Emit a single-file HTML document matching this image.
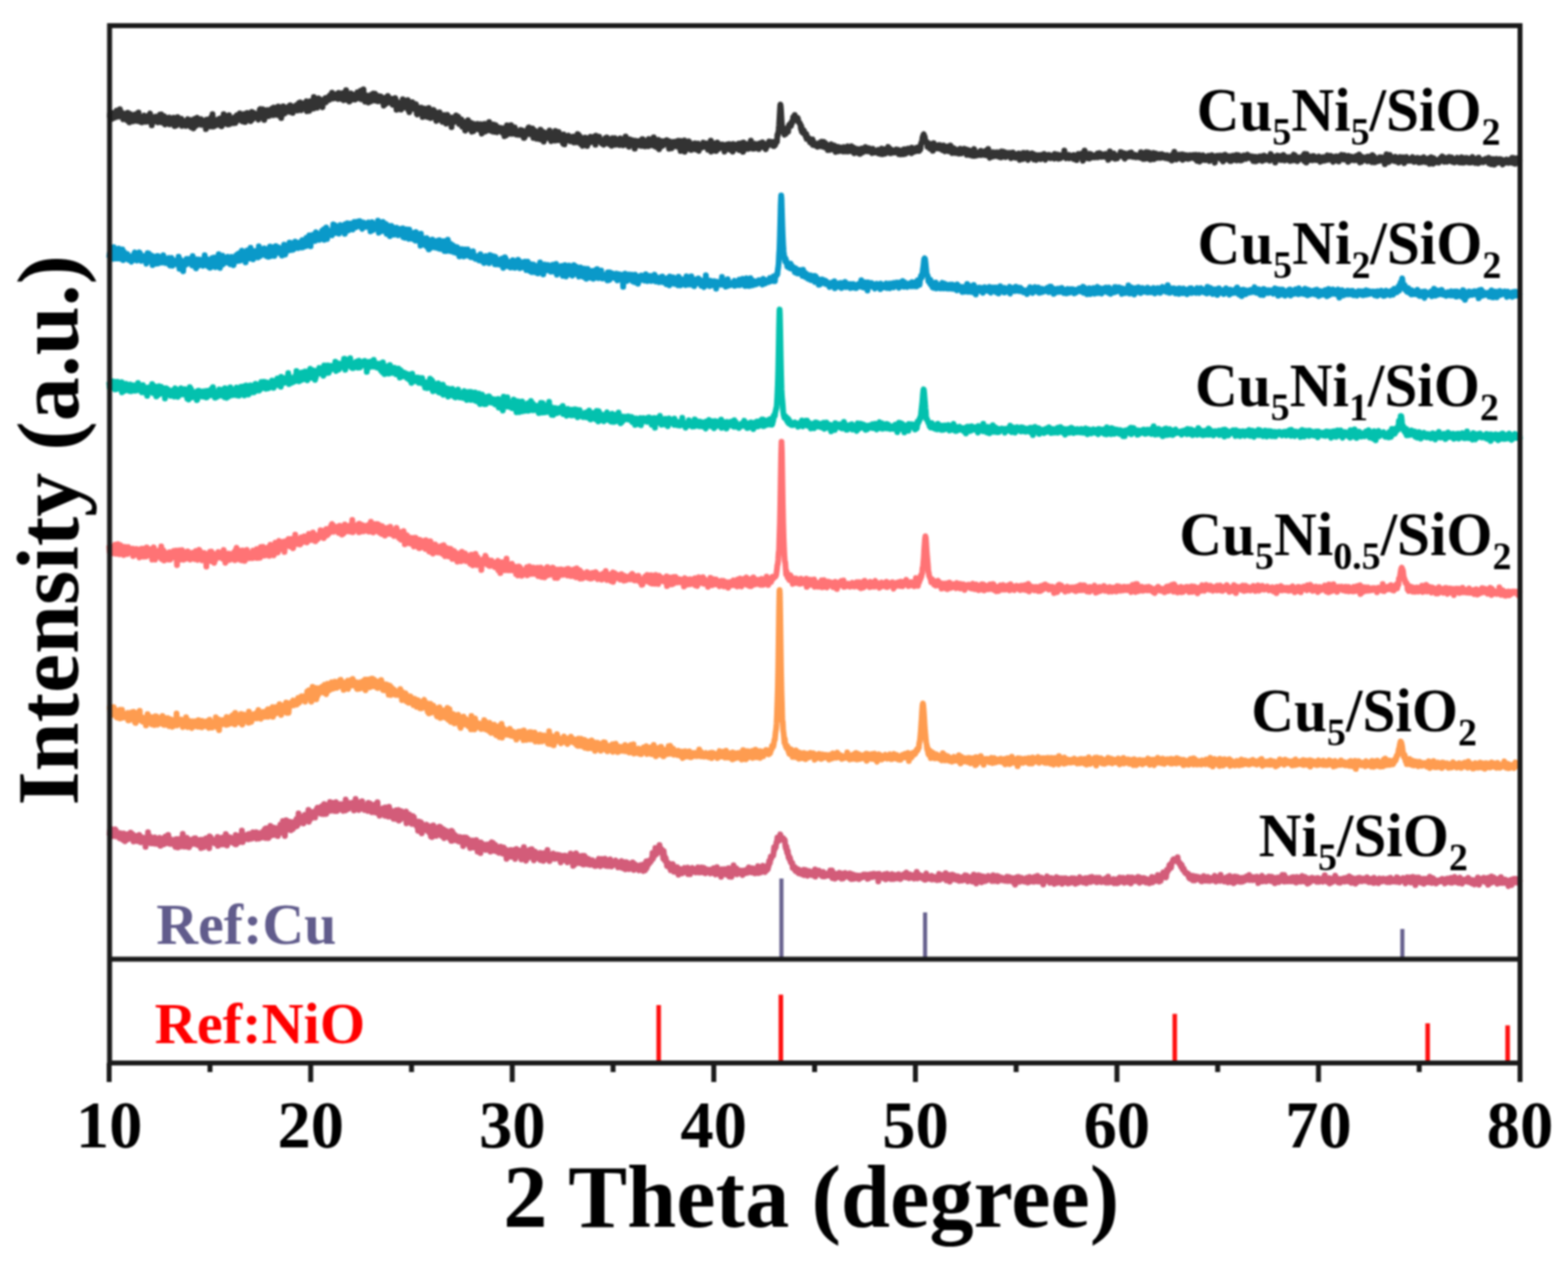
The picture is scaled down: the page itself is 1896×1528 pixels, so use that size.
<!DOCTYPE html>
<html><head><meta charset="utf-8"><title>XRD</title>
<style>html,body{margin:0;padding:0;background:#fff;width:1896px;height:1528px;overflow:hidden}svg{display:block}</style>
</head><body>
<svg width="1896" height="1528" viewBox="0 0 1896 1528">
<defs><filter id="b" filterUnits="userSpaceOnUse" x="0" y="0" width="1896" height="1528" color-interpolation-filters="sRGB"><feGaussianBlur stdDeviation="0.8"/></filter></defs>
<rect width="100%" height="100%" fill="#fff"/>
<g filter="url(#b)">
<path d="M132.0 139.0 132.5 140.0 133.0 138.2 133.5 136.2 134.0 137.7 134.5 136.0 135.0 139.5 135.5 143.8 136.0 137.8 136.5 137.4 137.0 141.1 137.5 140.8 138.0 140.0 138.5 136.6 139.0 139.6 139.5 142.1 140.0 135.4 140.5 138.4 141.0 133.7 141.5 135.7 142.0 134.0 142.5 139.3 143.0 136.0 143.5 141.1 144.0 140.8 144.5 139.7 145.0 132.0 145.5 138.6 146.0 140.3 146.5 140.9 147.0 135.5 147.5 139.0 148.0 137.4 148.5 138.0 149.0 144.3 149.5 138.1 150.0 140.8 150.5 143.8 151.0 139.0 151.5 140.6 152.0 141.4 152.5 141.3 153.0 137.1 153.5 141.5 154.0 145.7 154.5 136.2 155.0 144.2 155.5 141.8 156.0 139.3 156.5 148.1 157.0 144.1 157.5 137.7 158.0 141.9 158.5 143.6 159.0 141.1 159.5 144.1 160.0 141.6 160.5 144.1 161.0 146.7 161.5 139.8 162.0 142.7 162.5 140.6 163.0 142.6 163.5 138.3 164.0 140.3 164.5 141.7 165.0 145.3 165.5 146.2 166.0 138.1 166.5 139.9 167.0 144.7 167.5 136.0 168.0 141.1 168.5 142.4 169.0 146.9 169.5 145.1 170.0 141.8 170.5 141.7 171.0 142.1 171.5 148.0 172.0 141.6 172.5 142.1 173.0 144.3 173.5 142.8 174.0 142.6 174.5 139.6 175.0 143.3 175.5 141.9 176.0 147.3 176.5 145.6 177.0 143.4 177.5 145.8 178.0 142.5 178.5 147.1 179.0 143.7 179.5 145.7 180.0 139.5 180.5 145.0 181.0 138.3 181.5 137.2 182.0 143.0 182.5 141.1 183.0 144.6 183.5 151.5 184.0 141.4 184.5 142.2 185.0 144.9 185.5 145.9 186.0 143.8 186.5 143.7 187.0 146.8 187.5 146.2 188.0 141.1 188.5 144.3 189.0 144.8 189.5 141.2 190.0 145.6 190.5 141.9 191.0 148.0 191.5 145.5 192.0 145.2 192.5 143.0 193.0 144.6 193.5 138.5 194.0 141.4 194.5 146.3 195.0 138.2 195.5 148.0 196.0 139.5 196.5 147.8 197.0 142.6 197.5 148.0 198.0 145.9 198.5 140.5 199.0 149.7 199.5 150.4 200.0 145.5 200.5 144.8 201.0 145.3 201.5 142.6 202.0 149.5 202.5 144.2 203.0 145.8 203.5 143.5 204.0 144.1 204.5 142.0 205.0 150.4 205.5 145.8 206.0 149.5 206.5 146.5 207.0 144.2 207.5 145.4 208.0 144.7 208.5 146.7 209.0 145.5 209.5 145.8 210.0 142.3 210.5 144.2 211.0 152.4 211.5 144.8 212.0 143.6 212.5 148.2 213.0 151.8 213.5 142.4 214.0 146.6 214.5 145.2 215.0 141.6 215.5 149.8 216.0 147.4 216.5 147.8 217.0 145.1 217.5 149.1 218.0 145.9 218.5 147.3 219.0 144.1 219.5 143.8 220.0 152.3 220.5 146.3 221.0 149.0 221.5 147.9 222.0 146.7 222.5 146.5 223.0 150.3 223.5 147.3 224.0 147.8 224.5 148.4 225.0 152.3 225.5 150.7 226.0 149.8 226.5 146.7 227.0 144.0 227.5 151.8 228.0 151.9 228.5 148.2 229.0 150.5 229.5 151.4 230.0 151.6 230.5 151.9 231.0 147.4 231.5 153.9 232.0 144.9 232.5 151.8 233.0 150.7 233.5 152.0 234.0 155.3 234.5 154.0 235.0 145.4 235.5 143.6 236.0 151.9 236.5 145.9 237.0 149.2 237.5 152.1 238.0 143.9 238.5 142.4 239.0 150.2 239.5 149.5 240.0 148.6 240.5 149.5 241.0 146.6 241.5 144.4 242.0 148.9 242.5 146.3 243.0 144.0 243.5 151.1 244.0 149.3 244.5 150.8 245.0 146.2 245.5 147.3 246.0 146.2 246.5 146.6 247.0 150.1 247.5 146.9 248.0 150.6 248.5 150.6 249.0 156.1 249.5 144.8 250.0 152.3 250.5 149.1 251.0 149.3 251.5 144.5 252.0 147.8 252.5 151.7 253.0 148.9 253.5 149.4 254.0 148.2 254.5 152.9 255.0 149.0 255.5 141.7 256.0 146.6 256.5 142.4 257.0 138.1 257.5 147.0 258.0 153.1 258.5 148.8 259.0 144.7 259.5 145.4 260.0 152.1 260.5 148.9 261.0 148.4 261.5 148.0 262.0 148.2 262.5 150.7 263.0 149.8 263.5 148.6 264.0 144.3 264.5 149.4 265.0 145.3 265.5 151.1 266.0 143.2 266.5 146.9 267.0 147.2 267.5 142.8 268.0 152.7 268.5 151.8 269.0 145.3 269.5 149.3 270.0 147.9 270.5 137.9 271.0 147.3 271.5 146.1 272.0 146.5 272.5 142.6 273.0 145.1 273.5 145.3 274.0 149.7 274.5 146.8 275.0 145.6 275.5 150.5 276.0 143.5 276.5 144.0 277.0 139.2 277.5 150.2 278.0 148.1 278.5 147.8 279.0 146.9 279.5 145.0 280.0 145.2 280.5 143.5 281.0 143.6 281.5 144.3 282.0 149.0 282.5 145.8 283.0 143.6 283.5 141.8 284.0 141.5 284.5 148.8 285.0 145.0 285.5 143.5 286.0 142.0 286.5 139.4 287.0 142.7 287.5 145.7 288.0 141.4 288.5 141.8 289.0 141.8 289.5 142.7 290.0 137.0 290.5 141.4 291.0 139.3 291.5 144.9 292.0 139.3 292.5 143.7 293.0 146.7 293.5 140.5 294.0 139.5 294.5 142.0 295.0 141.3 295.5 137.9 296.0 142.6 296.5 147.6 297.0 140.1 297.5 140.1 298.0 137.3 298.5 141.7 299.0 136.4 299.5 136.8 300.0 144.6 300.5 137.3 301.0 143.8 301.5 145.2 302.0 140.9 302.5 141.8 303.0 146.4 303.5 139.2 304.0 137.8 304.5 135.2 305.0 139.8 305.5 144.4 306.0 142.6 306.5 136.3 307.0 136.5 307.5 137.6 308.0 140.1 308.5 138.4 309.0 139.7 309.5 139.9 310.0 137.9 310.5 138.7 311.0 139.4 311.5 138.4 312.0 140.2 312.5 144.7 313.0 140.4 313.5 138.5 314.0 132.7 314.5 139.5 315.0 131.7 315.5 133.4 316.0 140.8 316.5 140.3 317.0 137.4 317.5 132.1 318.0 136.5 318.5 135.4 319.0 139.7 319.5 145.0 320.0 138.1 320.5 134.8 321.0 133.4 321.5 137.0 322.0 136.6 322.5 133.3 323.0 137.4 323.5 133.1 324.0 140.5 324.5 140.3 325.0 140.3 325.5 135.1 326.0 138.3 326.5 136.0 327.0 135.1 327.5 135.2 328.0 132.0 328.5 131.4 329.0 138.7 329.5 135.4 330.0 136.7 330.5 139.2 331.0 130.1 331.5 133.1 332.0 136.2 332.5 136.9 333.0 134.2 333.5 138.8 334.0 136.0 334.5 131.2 335.0 132.1 335.5 137.7 336.0 136.5 336.5 128.7 337.0 139.3 337.5 136.7 338.0 139.1 338.5 133.3 339.0 133.5 339.5 130.7 340.0 142.7 340.5 133.7 341.0 139.4 341.5 132.0 342.0 134.5 342.5 128.4 343.0 132.6 343.5 137.0 344.0 129.5 344.5 137.1 345.0 134.6 345.5 129.9 346.0 131.6 346.5 131.7 347.0 132.9 347.5 131.2 348.0 130.1 348.5 131.8 349.0 129.3 349.5 128.3 350.0 132.3 350.5 135.3 351.0 127.2 351.5 132.2 352.0 129.9 352.5 128.7 353.0 134.7 353.5 130.0 354.0 136.6 354.5 129.0 355.0 132.7 355.5 130.6 356.0 128.7 356.5 133.1 357.0 130.5 357.5 132.9 358.0 130.7 358.5 127.1 359.0 130.3 359.5 130.7 360.0 133.6 360.5 127.3 361.0 130.1 361.5 124.4 362.0 132.2 362.5 126.3 363.0 123.8 363.5 129.5 364.0 133.3 364.5 124.5 365.0 125.8 365.5 126.9 366.0 125.5 366.5 130.4 367.0 126.4 367.5 126.6 368.0 130.8 368.5 126.3 369.0 130.1 369.5 125.4 370.0 124.5 370.5 122.3 371.0 134.4 371.5 127.2 372.0 128.9 372.5 127.9 373.0 128.5 373.5 128.0 374.0 134.0 374.5 124.2 375.0 122.4 375.5 124.1 376.0 123.0 376.5 129.7 377.0 129.9 377.5 123.9 378.0 122.4 378.5 125.7 379.0 131.3 379.5 117.3 380.0 128.3 380.5 122.9 381.0 129.7 381.5 122.6 382.0 125.1 382.5 121.0 383.0 122.6 383.5 130.3 384.0 128.3 384.5 124.1 385.0 122.5 385.5 118.9 386.0 123.7 386.5 124.8 387.0 124.4 387.5 124.2 388.0 120.6 388.5 123.9 389.0 123.8 389.5 128.0 390.0 129.7 390.5 122.9 391.0 120.6 391.5 122.7 392.0 120.7 392.5 120.0 393.0 122.0 393.5 118.6 394.0 123.8 394.5 121.2 395.0 122.2 395.5 120.6 396.0 118.6 396.5 117.6 397.0 119.8 397.5 118.5 398.0 120.9 398.5 119.9 399.0 115.3 399.5 119.8 400.0 115.0 400.5 117.2 401.0 118.2 401.5 112.1 402.0 119.1 402.5 119.2 403.0 118.1 403.5 117.1 404.0 117.2 404.5 115.1 405.0 117.4 405.5 116.4 406.0 118.5 406.5 114.1 407.0 118.8 407.5 118.5 408.0 117.5 408.5 116.5 409.0 119.7 409.5 112.3 410.0 119.3 410.5 118.5 411.0 118.6 411.5 118.9 412.0 115.5 412.5 116.7 413.0 119.7 413.5 118.9 414.0 118.2 414.5 112.4 415.0 119.2 415.5 121.2 416.0 120.7 416.5 118.1 417.0 112.1 417.5 120.4 418.0 116.7 418.5 108.9 419.0 118.4 419.5 112.2 420.0 112.9 420.5 115.0 421.0 121.3 421.5 115.9 422.0 118.0 422.5 122.8 423.0 122.3 423.5 116.7 424.0 116.2 424.5 112.9 425.0 114.7 425.5 118.4 426.0 118.3 426.5 117.4 427.0 120.3 427.5 114.5 428.0 116.8 428.5 119.4 429.0 118.9 429.5 120.5 430.0 118.3 430.5 116.0 431.0 118.2 431.5 113.7 432.0 111.6 432.5 119.0 433.0 116.9 433.5 118.1 434.0 111.5 434.5 115.9 435.0 115.1 435.5 114.3 436.0 109.7 436.5 116.0 437.0 120.1 437.5 118.4 438.0 115.2 438.5 117.2 439.0 119.7 439.5 108.1 440.0 116.9 440.5 119.1 441.0 119.6 441.5 122.9 442.0 121.1 442.5 118.4 443.0 118.4 443.5 120.0 444.0 115.6 444.5 117.3 445.0 120.5 445.5 124.0 446.0 117.0 446.5 117.4 447.0 118.2 447.5 122.0 448.0 117.5 448.5 122.5 449.0 114.5 449.5 117.1 450.0 117.1 450.5 120.4 451.0 121.3 451.5 112.9 452.0 115.0 452.5 119.2 453.0 115.9 453.5 113.2 454.0 121.7 454.5 120.0 455.0 120.1 455.5 116.9 456.0 122.0 456.5 117.9 457.0 122.4 457.5 115.9 458.0 116.2 458.5 119.8 459.0 116.9 459.5 121.5 460.0 120.3 460.5 116.5 461.0 119.9 461.5 118.6 462.0 122.9 462.5 117.9 463.0 118.6 463.5 124.2 464.0 127.7 464.5 127.0 465.0 120.7 465.5 121.4 466.0 125.8 466.5 120.5 467.0 117.8 467.5 121.5 468.0 122.7 468.5 118.6 469.0 116.0 469.5 116.8 470.0 123.9 470.5 119.3 471.0 121.5 471.5 122.8 472.0 124.2 472.5 121.2 473.0 124.1 473.5 119.6 474.0 121.5 474.5 119.5 475.0 126.7 475.5 123.1 476.0 120.9 476.5 122.3 477.0 122.9 477.5 126.1 478.0 118.6 478.5 120.6 479.0 123.0 479.5 132.7 480.0 127.7 480.5 124.3 481.0 127.2 481.5 131.8 482.0 124.4 482.5 124.1 483.0 129.5 483.5 127.3 484.0 128.0 484.5 124.3 485.0 132.5 485.5 131.9 486.0 128.3 486.5 128.9 487.0 120.1 487.5 129.0 488.0 126.4 488.5 128.7 489.0 129.6 489.5 126.4 490.0 122.1 490.5 129.1 491.0 125.5 491.5 127.1 492.0 126.3 492.5 127.3 493.0 121.0 493.5 132.7 494.0 129.7 494.5 132.7 495.0 135.7 495.5 129.4 496.0 123.5 496.5 126.6 497.0 125.7 497.5 128.2 498.0 130.3 498.5 123.5 499.0 131.4 499.5 125.5 500.0 131.6 500.5 130.4 501.0 129.8 501.5 130.8 502.0 129.4 502.5 129.3 503.0 125.9 503.5 131.5 504.0 137.8 504.5 138.4 505.0 136.4 505.5 134.5 506.0 130.1 506.5 137.3 507.0 132.5 507.5 132.6 508.0 132.0 508.5 133.5 509.0 131.9 509.5 133.2 510.0 130.1 510.5 132.6 511.0 141.5 511.5 133.9 512.0 133.6 512.5 136.3 513.0 137.1 513.5 131.3 514.0 134.4 514.5 138.4 515.0 136.4 515.5 136.2 516.0 141.1 516.5 134.0 517.0 136.7 517.5 134.9 518.0 141.8 518.5 130.6 519.0 135.1 519.5 135.8 520.0 140.0 520.5 140.0 521.0 142.8 521.5 133.3 522.0 141.2 522.5 137.9 523.0 136.9 523.5 141.1 524.0 136.5 524.5 132.9 525.0 138.8 525.5 135.3 526.0 138.3 526.5 141.8 527.0 141.8 527.5 146.2 528.0 140.5 528.5 136.3 529.0 139.1 529.5 138.7 530.0 137.9 530.5 143.5 531.0 140.1 531.5 135.8 532.0 144.8 532.5 142.3 533.0 143.9 533.5 143.2 534.0 145.1 534.5 143.2 535.0 147.3 535.5 144.7 536.0 144.7 536.5 144.9 537.0 138.9 537.5 143.2 538.0 143.0 538.5 144.6 539.0 139.6 539.5 149.5 540.0 144.6 540.5 140.3 541.0 138.8 541.5 143.6 542.0 144.3 542.5 142.3 543.0 145.1 543.5 142.7 544.0 146.8 544.5 142.6 545.0 145.0 545.5 148.4 546.0 153.8 546.5 142.0 547.0 143.9 547.5 142.8 548.0 148.2 548.5 142.0 549.0 144.2 549.5 145.8 550.0 142.8 550.5 143.0 551.0 144.7 551.5 139.4 552.0 141.7 552.5 145.2 553.0 147.2 553.5 146.2 554.0 141.1 554.5 145.6 555.0 149.9 555.5 149.2 556.0 147.3 556.5 144.8 557.0 149.9 557.5 146.1 558.0 144.3 558.5 145.7 559.0 153.3 559.5 149.4 560.0 152.7 560.5 147.4 561.0 152.3 561.5 147.4 562.0 149.0 562.5 157.9 563.0 152.5 563.5 148.4 564.0 150.0 564.5 151.5 565.0 154.6 565.5 149.2 566.0 145.2 566.5 150.2 567.0 151.3 567.5 151.8 568.0 155.9 568.5 152.8 569.0 154.6 569.5 148.4 570.0 155.0 570.5 159.2 571.0 155.0 571.5 153.4 572.0 153.2 572.5 158.6 573.0 149.8 573.5 152.6 574.0 154.5 574.5 155.5 575.0 151.7 575.5 154.2 576.0 152.3 576.5 153.7 577.0 152.9 577.5 149.7 578.0 153.4 578.5 156.4 579.0 150.4 579.5 152.9 580.0 155.9 580.5 150.2 581.0 154.4 581.5 150.3 582.0 157.6 582.5 161.5 583.0 160.6 583.5 153.3 584.0 156.5 584.5 154.5 585.0 154.4 585.5 159.3 586.0 149.8 586.5 157.7 587.0 154.1 587.5 158.9 588.0 155.0 588.5 152.2 589.0 155.3 589.5 156.9 590.0 154.6 590.5 156.2 591.0 152.9 591.5 147.6 592.0 157.7 592.5 157.0 593.0 155.3 593.5 155.1 594.0 158.3 594.5 153.4 595.0 152.7 595.5 154.4 596.0 159.0 596.5 150.6 597.0 159.2 597.5 153.2 598.0 151.8 598.5 159.6 599.0 155.2 599.5 151.3 600.0 154.5 600.5 158.8 601.0 159.8 601.5 154.5 602.0 157.3 602.5 158.4 603.0 154.0 603.5 157.4 604.0 156.2 604.5 154.6 605.0 154.9 605.5 156.8 606.0 156.7 606.5 154.9 607.0 155.4 607.5 160.5 608.0 157.7 608.5 160.0 609.0 161.1 609.5 159.2 610.0 164.7 610.5 154.7 611.0 160.1 611.5 156.5 612.0 163.7 612.5 163.3 613.0 151.4 613.5 154.7 614.0 160.1 614.5 160.6 615.0 160.5 615.5 157.9 616.0 159.7 616.5 160.4 617.0 158.1 617.5 161.8 618.0 151.2 618.5 160.6 619.0 155.3 619.5 161.8 620.0 158.0 620.5 155.9 621.0 160.1 621.5 156.0 622.0 156.0 622.5 154.0 623.0 159.0 623.5 160.8 624.0 162.5 624.5 158.8 625.0 162.7 625.5 159.5 626.0 159.2 626.5 161.4 627.0 163.0 627.5 158.5 628.0 158.9 628.5 159.2 629.0 160.1 629.5 157.0 630.0 163.2 630.5 158.7 631.0 161.5 631.5 157.4 632.0 161.3 632.5 161.4 633.0 158.9 633.5 166.8 634.0 161.6 634.5 166.1 635.0 163.5 635.5 158.4 636.0 159.4 636.5 162.1 637.0 160.9 637.5 161.0 638.0 160.0 638.5 155.2 639.0 160.3 639.5 154.0 640.0 162.3 640.5 158.9 641.0 159.0 641.5 160.6 642.0 162.3 642.5 156.9 643.0 156.0 643.5 158.2 644.0 155.2 644.5 158.7 645.0 166.8 645.5 158.5 646.0 164.0 646.5 157.7 647.0 163.0 647.5 161.2 648.0 162.0 648.5 164.1 649.0 167.9 649.5 163.1 650.0 162.9 650.5 159.5 651.0 164.5 651.5 162.0 652.0 165.4 652.5 162.7 653.0 168.4 653.5 156.8 654.0 162.2 654.5 165.9 655.0 162.2 655.5 160.9 656.0 162.6 656.5 159.2 657.0 163.9 657.5 171.2 658.0 167.2 658.5 160.3 659.0 161.1 659.5 162.7 660.0 167.1 660.5 161.5 661.0 162.0 661.5 166.9 662.0 167.0 662.5 163.2 663.0 161.0 663.5 159.7 664.0 162.4 664.5 157.8 665.0 167.0 665.5 162.8 666.0 166.3 666.5 170.7 667.0 168.6 667.5 161.5 668.0 167.8 668.5 168.8 669.0 163.0 669.5 162.4 670.0 165.1 670.5 160.6 671.0 170.1 671.5 158.2 672.0 162.3 672.5 164.9 673.0 165.1 673.5 166.4 674.0 166.8 674.5 165.4 675.0 169.6 675.5 159.6 676.0 166.2 676.5 164.1 677.0 166.7 677.5 167.1 678.0 163.7 678.5 164.6 679.0 169.0 679.5 167.7 680.0 164.6 680.5 172.9 681.0 173.8 681.5 162.4 682.0 167.8 682.5 174.6 683.0 169.4 683.5 167.8 684.0 166.5 684.5 165.6 685.0 166.6 685.5 165.7 686.0 169.6 686.5 166.2 687.0 166.2 687.5 163.9 688.0 167.5 688.5 165.0 689.0 167.2 689.5 170.9 690.0 168.9 690.5 169.4 691.0 169.0 691.5 168.2 692.0 167.7 692.5 167.2 693.0 170.4 693.5 164.9 694.0 172.2 694.5 168.4 695.0 166.1 695.5 166.9 696.0 166.4 696.5 169.0 697.0 166.4 697.5 172.0 698.0 166.3 698.5 161.9 699.0 166.5 699.5 162.8 700.0 168.7 700.5 172.0 701.0 170.8 701.5 165.0 702.0 166.7 702.5 174.3 703.0 170.0 703.5 169.1 704.0 172.3 704.5 176.4 705.0 173.1 705.5 169.7 706.0 170.4 706.5 171.2 707.0 167.6 707.5 166.3 708.0 169.6 708.5 166.7 709.0 169.4 709.5 169.9 710.0 176.5 710.5 167.2 711.0 169.4 711.5 169.3 712.0 171.1 712.5 172.9 713.0 168.4 713.5 167.5 714.0 165.2 714.5 167.3 715.0 171.6 715.5 170.2 716.0 167.1 716.5 169.1 717.0 170.3 717.5 171.7 718.0 168.5 718.5 169.6 719.0 165.0 719.5 167.0 720.0 175.1 720.5 164.1 721.0 169.5 721.5 171.1 722.0 169.4 722.5 168.2 723.0 170.4 723.5 170.6 724.0 170.4 724.5 165.2 725.0 170.3 725.5 168.3 726.0 169.2 726.5 171.4 727.0 172.7 727.5 173.4 728.0 169.4 728.5 173.5 729.0 174.3 729.5 174.2 730.0 174.9 730.5 170.6 731.0 170.5 731.5 173.4 732.0 167.1 732.5 171.7 733.0 169.6 733.5 170.0 734.0 166.1 734.5 168.6 735.0 171.1 735.5 173.7 736.0 174.0 736.5 171.0 737.0 170.7 737.5 168.9 738.0 172.4 738.5 170.6 739.0 173.0 739.5 176.3 740.0 171.2 740.5 167.1 741.0 168.9 741.5 167.2 742.0 168.0 742.5 175.1 743.0 172.0 743.5 167.1 744.0 173.3 744.5 175.0 745.0 170.4 745.5 169.6 746.0 170.5 746.5 172.3 747.0 173.3 747.5 174.9 748.0 174.9 748.5 174.9 749.0 175.4 749.5 173.4 750.0 167.3 750.5 171.2 751.0 172.5 751.5 170.5 752.0 174.2 752.5 170.6 753.0 169.1 753.5 175.7 754.0 173.5 754.5 172.3 755.0 174.3 755.5 174.7 756.0 172.7 756.5 164.9 757.0 169.9 757.5 170.5 758.0 169.0 758.5 172.3 759.0 175.1 759.5 170.4 760.0 168.7 760.5 177.4 761.0 170.6 761.5 168.4 762.0 172.5 762.5 173.0 763.0 169.9 763.5 174.1 764.0 170.5 764.5 169.4 765.0 172.4 765.5 174.1 766.0 170.2 766.5 172.9 767.0 171.7 767.5 179.7 768.0 170.0 768.5 175.8 769.0 171.9 769.5 171.7 770.0 174.0 770.5 174.5 771.0 175.5 771.5 173.0 772.0 170.5 772.5 170.6 773.0 173.5 773.5 173.7 774.0 176.0 774.5 173.3 775.0 175.1 775.5 176.3 776.0 172.7 776.5 168.2 777.0 169.0 777.5 168.4 778.0 176.6 778.5 170.0 779.0 175.6 779.5 173.9 780.0 177.0 780.5 175.1 781.0 172.1 781.5 171.9 782.0 172.6 782.5 172.9 783.0 171.0 783.5 172.4 784.0 176.8 784.5 167.9 785.0 173.2 785.5 170.1 786.0 173.1 786.5 174.9 787.0 172.5 787.5 174.7 788.0 168.4 788.5 175.7 789.0 171.1 789.5 174.5 790.0 173.3 790.5 166.0 791.0 170.9 791.5 173.5 792.0 177.1 792.5 173.8 793.0 173.7 793.5 169.3 794.0 176.9 794.5 178.0 795.0 173.3 795.5 172.7 796.0 169.0 796.5 175.7 797.0 180.5 797.5 175.3 798.0 176.8 798.5 174.9 799.0 170.9 799.5 177.1 800.0 170.4 800.5 173.1 801.0 174.5 801.5 176.1 802.0 174.9 802.5 174.9 803.0 171.9 803.5 170.6 804.0 174.2 804.5 172.2 805.0 170.7 805.5 170.9 806.0 172.9 806.5 169.4 807.0 170.8 807.5 170.1 808.0 174.9 808.5 175.5 809.0 179.8 809.5 170.7 810.0 172.9 810.5 177.1 811.0 174.2 811.5 173.9 812.0 179.3 812.5 174.0 813.0 171.9 813.5 171.6 814.0 175.9 814.5 175.9 815.0 171.6 815.5 172.6 816.0 176.6 816.5 176.8 817.0 173.6 817.5 177.0 818.0 176.9 818.5 170.8 819.0 174.7 819.5 176.6 820.0 174.1 820.5 170.1 821.0 174.9 821.5 177.6 822.0 179.8 822.5 170.2 823.0 182.5 823.5 173.0 824.0 178.3 824.5 179.1 825.0 178.5 825.5 176.4 826.0 173.1 826.5 177.7 827.0 174.3 827.5 169.7 828.0 183.4 828.5 178.0 829.0 180.8 829.5 173.9 830.0 180.0 830.5 180.3 831.0 180.3 831.5 176.3 832.0 173.3 832.5 175.9 833.0 170.8 833.5 172.1 834.0 176.7 834.5 173.9 835.0 176.0 835.5 176.2 836.0 181.3 836.5 179.8 837.0 176.4 837.5 179.5 838.0 174.6 838.5 175.7 839.0 178.8 839.5 173.4 840.0 175.8 840.5 173.2 841.0 176.9 841.5 180.7 842.0 174.7 842.5 177.1 843.0 174.4 843.5 173.7 844.0 173.5 844.5 180.2 845.0 182.5 845.5 177.8 846.0 174.9 846.5 178.4 847.0 175.8 847.5 178.6 848.0 177.4 848.5 177.4 849.0 178.2 849.5 175.3 850.0 175.7 850.5 172.4 851.0 175.6 851.5 173.2 852.0 176.4 852.5 174.4 853.0 177.0 853.5 177.9 854.0 173.2 854.5 174.8 855.0 174.4 855.5 178.6 856.0 181.0 856.5 178.9 857.0 175.9 857.5 180.4 858.0 173.1 858.5 180.5 859.0 175.2 859.5 170.0 860.0 183.3 860.5 180.7 861.0 174.3 861.5 177.2 862.0 176.3 862.5 177.1 863.0 173.2 863.5 175.2 864.0 178.0 864.5 177.4 865.0 179.8 865.5 177.1 866.0 182.6 866.5 175.1 867.0 177.5 867.5 172.3 868.0 173.9 868.5 180.1 869.0 174.6 869.5 178.2 870.0 176.8 870.5 174.4 871.0 176.1 871.5 175.7 872.0 175.7 872.5 178.7 873.0 178.5 873.5 175.5 874.0 174.8 874.5 177.6 875.0 176.7 875.5 179.4 876.0 183.3 876.5 179.0 877.0 176.9 877.5 176.5 878.0 174.9 878.5 174.8 879.0 174.6 879.5 176.0 880.0 175.9 880.5 178.7 881.0 176.0 881.5 176.5 882.0 174.1 882.5 180.9 883.0 178.2 883.5 181.2 884.0 178.8 884.5 180.5 885.0 176.4 885.5 178.7 886.0 183.3 886.5 174.1 887.0 179.7 887.5 181.0 888.0 177.9 888.5 178.8 889.0 180.0 889.5 175.4 890.0 177.9 890.5 174.9 891.0 175.3 891.5 175.5 892.0 176.6 892.5 177.3 893.0 178.0 893.5 173.5 894.0 181.6 894.5 179.6 895.0 178.6 895.5 176.0 896.0 176.6 896.5 178.1 897.0 177.7 897.5 172.8 898.0 178.5 898.5 183.6 899.0 172.3 899.5 179.0 900.0 177.5 900.5 176.3 901.0 179.8 901.5 173.8 902.0 176.9 902.5 180.0 903.0 176.0 903.5 175.5 904.0 176.7 904.5 175.3 905.0 180.0 905.5 174.2 906.0 178.4 906.5 173.3 907.0 177.8 907.5 176.0 908.0 170.1 908.5 176.2 909.0 173.7 909.5 175.1 910.0 179.7 910.5 173.5 911.0 173.6 911.5 179.4 912.0 176.3 912.5 179.6 913.0 176.7 913.5 173.9 914.0 175.8 914.5 178.8 915.0 178.1 915.5 175.9 916.0 176.0 916.5 175.6 917.0 174.5 917.5 180.3 918.0 175.8 918.5 173.2 919.0 174.7 919.5 177.5 920.0 177.3 920.5 175.5 921.0 174.2 921.5 175.8 922.0 171.9 922.5 172.7 923.0 177.6 923.5 174.6 924.0 176.6 924.5 178.5 925.0 177.2 925.5 175.7 926.0 180.5 926.5 177.1 927.0 174.8 927.5 177.2 928.0 176.5 928.5 173.6 929.0 175.6 929.5 175.1 930.0 170.9 930.5 174.9 931.0 174.6 931.5 174.2 932.0 171.4 932.5 174.2 933.0 174.9 933.5 175.1 934.0 172.1 934.5 176.0 935.0 171.6 935.5 173.6 936.0 176.8 936.5 172.0 937.0 172.0 937.5 175.1 938.0 171.2 938.5 170.7 939.0 170.9 939.5 171.5 940.0 163.0 940.5 163.9 941.0 160.9 941.5 156.8 942.0 151.3 942.5 143.4 943.0 134.6 943.5 126.8 943.7 126.4 944.0 127.9 944.5 134.4 945.0 143.4 945.5 151.7 946.0 155.1 946.5 156.7 947.0 159.3 947.5 158.5 948.0 161.5 948.5 162.9 949.0 159.0 949.5 159.9 950.0 162.2 950.5 158.0 951.0 158.7 951.5 155.1 952.0 154.7 952.5 154.4 953.0 159.2 953.5 152.7 954.0 151.4 954.5 150.4 955.0 150.3 955.5 151.1 956.0 149.3 956.5 152.4 957.0 147.8 957.5 149.7 958.0 146.6 958.5 146.7 959.0 141.8 959.5 144.2 960.0 144.0 960.5 143.3 961.0 139.1 961.5 145.3 962.0 142.7 962.5 142.6 963.0 143.2 963.5 143.6 964.0 145.4 964.5 142.5 965.0 143.9 965.5 147.4 966.0 148.1 966.5 148.1 967.0 148.8 967.5 149.4 968.0 152.2 968.5 156.0 969.0 152.5 969.5 159.0 970.0 158.8 970.5 157.2 971.0 160.8 971.5 157.2 972.0 157.7 972.5 159.6 973.0 162.3 973.5 163.3 974.0 163.8 974.5 165.8 975.0 161.9 975.5 168.0 976.0 164.7 976.5 166.9 977.0 167.9 977.5 166.9 978.0 166.9 978.5 168.1 979.0 170.5 979.5 172.1 980.0 172.4 980.5 169.5 981.0 170.2 981.5 170.2 982.0 173.3 982.5 168.4 983.0 175.3 983.5 172.0 984.0 171.6 984.5 174.1 985.0 175.6 985.5 174.4 986.0 176.0 986.5 174.3 987.0 176.6 987.5 176.8 988.0 174.2 988.5 177.5 989.0 175.0 989.5 175.0 990.0 173.1 990.5 174.5 991.0 176.7 991.5 172.7 992.0 176.7 992.5 176.2 993.0 176.2 993.5 171.3 994.0 175.6 994.5 177.2 995.0 174.5 995.5 176.3 996.0 171.5 996.5 177.6 997.0 175.1 997.5 178.2 998.0 172.9 998.5 178.0 999.0 176.3 999.5 178.4 1000.0 175.1 1000.5 175.8 1001.0 181.5 1001.5 175.5 1002.0 175.8 1002.5 176.8 1003.0 175.4 1003.5 179.9 1004.0 181.0 1004.5 176.3 1005.0 174.4 1005.5 180.3 1006.0 180.2 1006.5 179.8 1007.0 180.6 1007.5 176.7 1008.0 178.2 1008.5 175.9 1009.0 176.0 1009.5 180.9 1010.0 177.7 1010.5 183.7 1011.0 179.4 1011.5 178.2 1012.0 181.1 1012.5 183.2 1013.0 180.7 1013.5 177.5 1014.0 180.7 1014.5 182.8 1015.0 179.2 1015.5 178.8 1016.0 182.4 1016.5 180.8 1017.0 178.4 1017.5 179.9 1018.0 179.2 1018.5 181.4 1019.0 181.0 1019.5 183.1 1020.0 182.3 1020.5 177.8 1021.0 181.8 1021.5 182.8 1022.0 181.9 1022.5 183.1 1023.0 180.0 1023.5 179.2 1024.0 183.0 1024.5 179.1 1025.0 176.9 1025.5 183.2 1026.0 179.8 1026.5 180.7 1027.0 178.5 1027.5 178.7 1028.0 179.0 1028.5 180.6 1029.0 182.1 1029.5 176.8 1030.0 182.9 1030.5 179.1 1031.0 179.3 1031.5 182.8 1032.0 181.3 1032.5 178.5 1033.0 185.2 1033.5 179.8 1034.0 182.0 1034.5 182.0 1035.0 184.4 1035.5 180.7 1036.0 183.6 1036.5 180.1 1037.0 183.9 1037.5 180.1 1038.0 180.9 1038.5 185.4 1039.0 182.3 1039.5 181.9 1040.0 186.1 1040.5 182.4 1041.0 180.1 1041.5 183.2 1042.0 179.4 1042.5 184.0 1043.0 184.2 1043.5 180.7 1044.0 180.6 1044.5 182.2 1045.0 181.8 1045.5 179.9 1046.0 183.0 1046.5 177.8 1047.0 181.0 1047.5 181.1 1048.0 181.3 1048.5 182.5 1049.0 179.5 1049.5 183.1 1050.0 181.6 1050.5 180.6 1051.0 179.2 1051.5 179.6 1052.0 182.7 1052.5 180.1 1053.0 182.1 1053.5 184.1 1054.0 184.0 1054.5 185.1 1055.0 181.4 1055.5 179.9 1056.0 184.0 1056.5 182.6 1057.0 184.3 1057.5 182.1 1058.0 184.4 1058.5 183.7 1059.0 183.5 1059.5 183.1 1060.0 182.9 1060.5 182.6 1061.0 182.5 1061.5 184.1 1062.0 181.1 1062.5 185.6 1063.0 181.9 1063.5 184.1 1064.0 182.0 1064.5 181.7 1065.0 186.2 1065.5 181.5 1066.0 179.6 1066.5 180.8 1067.0 181.5 1067.5 186.4 1068.0 182.6 1068.5 184.0 1069.0 180.2 1069.5 182.9 1070.0 183.5 1070.5 185.8 1071.0 180.8 1071.5 183.4 1072.0 182.8 1072.5 180.2 1073.0 182.2 1073.5 181.7 1074.0 177.6 1074.5 183.4 1075.0 183.3 1075.5 181.4 1076.0 179.6 1076.5 185.2 1077.0 182.8 1077.5 184.3 1078.0 185.1 1078.5 181.3 1079.0 183.9 1079.5 181.8 1080.0 182.2 1080.5 182.1 1081.0 182.3 1081.5 184.5 1082.0 182.6 1082.5 182.0 1083.0 181.8 1083.5 183.0 1084.0 180.6 1084.5 181.3 1085.0 182.2 1085.5 181.2 1086.0 182.1 1086.5 181.1 1087.0 186.3 1087.5 185.0 1088.0 183.2 1088.5 182.2 1089.0 186.7 1089.5 183.0 1090.0 182.2 1090.5 183.0 1091.0 183.0 1091.5 185.2 1092.0 182.3 1092.5 186.5 1093.0 180.6 1093.5 183.7 1094.0 180.4 1094.5 186.0 1095.0 181.7 1095.5 182.2 1096.0 184.2 1096.5 184.8 1097.0 180.2 1097.5 181.7 1098.0 179.6 1098.5 182.6 1099.0 182.1 1099.5 181.6 1100.0 181.0 1100.5 181.6 1101.0 180.8 1101.5 183.3 1102.0 185.3 1102.5 178.4 1103.0 182.0 1103.5 181.4 1104.0 183.2 1104.5 180.3 1105.0 181.8 1105.5 180.0 1106.0 183.4 1106.5 182.2 1107.0 181.6 1107.5 182.5 1108.0 181.2 1108.5 178.5 1109.0 182.5 1109.5 181.7 1110.0 180.5 1110.5 182.4 1111.0 182.5 1111.5 177.4 1112.0 177.4 1112.5 181.2 1113.0 180.1 1113.5 174.7 1114.0 172.5 1114.5 171.9 1115.0 170.3 1115.5 166.1 1116.0 167.2 1116.5 163.0 1117.0 162.3 1117.5 166.7 1118.0 164.6 1118.5 167.3 1119.0 170.3 1119.5 172.1 1120.0 171.0 1120.5 172.7 1121.0 171.8 1121.5 177.5 1122.0 175.8 1122.5 172.7 1123.0 175.3 1123.5 176.9 1124.0 176.7 1124.5 179.6 1125.0 178.9 1125.5 175.2 1126.0 176.3 1126.5 174.0 1127.0 177.2 1127.5 177.1 1128.0 182.3 1128.5 177.2 1129.0 173.0 1129.5 175.9 1130.0 177.5 1130.5 174.9 1131.0 175.8 1131.5 176.8 1132.0 178.3 1132.5 177.4 1133.0 176.0 1133.5 179.4 1134.0 176.9 1134.5 177.1 1135.0 175.4 1135.5 176.7 1136.0 179.6 1136.5 175.2 1137.0 178.3 1137.5 180.0 1138.0 177.9 1138.5 179.2 1139.0 176.6 1139.5 181.5 1140.0 181.1 1140.5 179.5 1141.0 175.7 1141.5 177.1 1142.0 181.2 1142.5 182.8 1143.0 180.1 1143.5 182.0 1144.0 178.4 1144.5 179.4 1145.0 179.8 1145.5 180.7 1146.0 177.0 1146.5 181.9 1147.0 182.8 1147.5 178.0 1148.0 177.7 1148.5 181.1 1149.0 179.2 1149.5 175.9 1150.0 182.3 1150.5 181.1 1151.0 179.9 1151.5 185.1 1152.0 181.3 1152.5 179.6 1153.0 181.4 1153.5 179.2 1154.0 179.8 1154.5 182.2 1155.0 180.4 1155.5 180.7 1156.0 185.0 1156.5 183.5 1157.0 183.4 1157.5 183.0 1158.0 182.9 1158.5 185.0 1159.0 182.1 1159.5 185.9 1160.0 180.4 1160.5 181.9 1161.0 179.7 1161.5 181.8 1162.0 183.6 1162.5 185.5 1163.0 181.4 1163.5 182.8 1164.0 182.2 1164.5 181.5 1165.0 180.6 1165.5 183.2 1166.0 179.7 1166.5 183.4 1167.0 183.3 1167.5 182.0 1168.0 181.4 1168.5 180.7 1169.0 187.2 1169.5 180.9 1170.0 186.7 1170.5 184.9 1171.0 183.0 1171.5 181.5 1172.0 185.9 1172.5 187.3 1173.0 182.1 1173.5 183.4 1174.0 186.1 1174.5 184.8 1175.0 188.1 1175.5 183.1 1176.0 185.3 1176.5 181.8 1177.0 188.5 1177.5 182.9 1178.0 180.1 1178.5 184.2 1179.0 184.3 1179.5 188.4 1180.0 183.9 1180.5 184.6 1181.0 185.9 1181.5 187.9 1182.0 184.7 1182.5 186.9 1183.0 185.9 1183.5 184.3 1184.0 185.1 1184.5 185.0 1185.0 183.2 1185.5 187.4 1186.0 182.3 1186.5 187.4 1187.0 187.0 1187.5 185.0 1188.0 183.7 1188.5 184.8 1189.0 186.2 1189.5 186.8 1190.0 185.9 1190.5 187.4 1191.0 184.3 1191.5 185.9 1192.0 182.4 1192.5 187.1 1193.0 185.9 1193.5 184.8 1194.0 187.9 1194.5 187.0 1195.0 180.1 1195.5 185.8 1196.0 182.9 1196.5 187.9 1197.0 190.8 1197.5 184.9 1198.0 186.1 1198.5 185.5 1199.0 186.7 1199.5 187.3 1200.0 188.6 1200.5 184.1 1201.0 189.2 1201.5 184.3 1202.0 186.7 1202.5 188.5 1203.0 187.7 1203.5 184.4 1204.0 184.9 1204.5 185.5 1205.0 186.3 1205.5 188.7 1206.0 183.9 1206.5 187.4 1207.0 187.8 1207.5 187.7 1208.0 187.5 1208.5 189.7 1209.0 187.6 1209.5 188.4 1210.0 187.9 1210.5 190.3 1211.0 183.1 1211.5 189.4 1212.0 186.4 1212.5 186.4 1213.0 185.0 1213.5 183.3 1214.0 186.3 1214.5 185.7 1215.0 188.1 1215.5 184.2 1216.0 190.0 1216.5 187.7 1217.0 186.7 1217.5 185.9 1218.0 185.7 1218.5 185.1 1219.0 186.3 1219.5 187.4 1220.0 187.1 1220.5 184.7 1221.0 187.0 1221.5 185.8 1222.0 187.9 1222.5 191.3 1223.0 188.9 1223.5 187.0 1224.0 184.5 1224.5 184.9 1225.0 184.4 1225.5 189.2 1226.0 186.3 1226.5 188.0 1227.0 186.7 1227.5 188.1 1228.0 190.7 1228.5 186.6 1229.0 187.3 1229.5 186.5 1230.0 189.8 1230.5 186.1 1231.0 185.9 1231.5 185.4 1232.0 185.4 1232.5 189.2 1233.0 193.3 1233.5 186.3 1234.0 190.2 1234.5 188.8 1235.0 186.2 1235.5 187.9 1236.0 188.0 1236.5 187.1 1237.0 192.3 1237.5 184.7 1238.0 189.3 1238.5 189.2 1239.0 187.4 1239.5 188.9 1240.0 190.4 1240.5 189.0 1241.0 189.5 1241.5 190.1 1242.0 184.7 1242.5 191.7 1243.0 193.3 1243.5 190.7 1244.0 190.8 1244.5 186.1 1245.0 188.6 1245.5 187.3 1246.0 187.7 1246.5 190.8 1247.0 187.4 1247.5 188.7 1248.0 185.2 1248.5 188.7 1249.0 189.2 1249.5 187.6 1250.0 187.6 1250.5 192.8 1251.0 186.7 1251.5 187.0 1252.0 187.5 1252.5 191.5 1253.0 193.3 1253.5 189.8 1254.0 187.7 1254.5 188.3 1255.0 191.3 1255.5 187.4 1256.0 192.1 1256.5 192.0 1257.0 189.4 1257.5 190.5 1258.0 190.7 1258.5 192.3 1259.0 187.2 1259.5 191.6 1260.0 188.5 1260.5 187.8 1261.0 189.5 1261.5 188.9 1262.0 187.3 1262.5 186.1 1263.0 187.4 1263.5 192.2 1264.0 193.2 1264.5 190.6 1265.0 191.6 1265.5 188.3 1266.0 189.1 1266.5 189.9 1267.0 187.2 1267.5 187.3 1268.0 189.5 1268.5 188.7 1269.0 187.2 1269.5 190.1 1270.0 188.8 1270.5 191.3 1271.0 189.3 1271.5 188.7 1272.0 189.5 1272.5 188.9 1273.0 187.9 1273.5 188.5 1274.0 190.7 1274.5 190.5 1275.0 191.8 1275.5 185.9 1276.0 188.5 1276.5 188.4 1277.0 189.6 1277.5 188.3 1278.0 188.2 1278.5 190.8 1279.0 189.6 1279.5 186.9 1280.0 191.9 1280.5 191.2 1281.0 188.1 1281.5 190.8 1282.0 187.7 1282.5 191.4 1283.0 188.8 1283.5 187.6 1284.0 188.4 1284.5 187.7 1285.0 189.5 1285.5 189.5 1286.0 189.2 1286.5 188.0 1287.0 181.9 1287.5 189.3 1288.0 185.4 1288.5 189.6 1289.0 191.3 1289.5 189.6 1290.0 188.3 1290.5 188.7 1291.0 188.8 1291.5 188.0 1292.0 187.9 1292.5 187.2 1293.0 191.4 1293.5 189.0 1294.0 190.9 1294.5 188.5 1295.0 189.2 1295.5 188.7 1296.0 189.9 1296.5 190.6 1297.0 189.5 1297.5 187.6 1298.0 187.4 1298.5 192.3 1299.0 188.4 1299.5 188.4 1300.0 191.8 1300.5 191.1 1301.0 190.0 1301.5 188.1 1302.0 193.6 1302.5 189.7 1303.0 190.0 1303.5 188.5 1304.0 186.1 1304.5 186.2 1305.0 189.7 1305.5 189.6 1306.0 188.4 1306.5 186.5 1307.0 186.0 1307.5 188.2 1308.0 185.9 1308.5 190.6 1309.0 191.1 1309.5 194.4 1310.0 190.5 1310.5 187.6 1311.0 187.0 1311.5 181.9 1312.0 187.6 1312.5 188.4 1313.0 190.6 1313.5 189.9 1314.0 189.9 1314.5 189.1 1315.0 190.0 1315.5 191.5 1316.0 186.5 1316.5 187.7 1317.0 185.9 1317.5 191.8 1318.0 191.2 1318.5 190.1 1319.0 186.2 1319.5 188.9 1320.0 188.1 1320.5 188.7 1321.0 188.2 1321.5 189.6 1322.0 187.8 1322.5 190.2 1323.0 189.0 1323.5 187.9 1324.0 188.3 1324.5 187.6 1325.0 190.1 1325.5 187.9 1326.0 189.1 1326.5 187.7 1327.0 185.5 1327.5 190.2 1328.0 186.3 1328.5 189.8 1329.0 189.3 1329.5 185.1 1330.0 186.5 1330.5 187.4 1331.0 186.8 1331.5 186.0 1332.0 189.8 1332.5 187.9 1333.0 189.1 1333.5 187.5 1334.0 188.9 1334.5 186.8 1335.0 188.3 1335.5 189.5 1336.0 188.4 1336.5 187.4 1337.0 186.1 1337.5 188.6 1338.0 189.0 1338.5 187.8 1339.0 186.7 1339.5 189.3 1340.0 193.2 1340.5 187.6 1341.0 188.9 1341.5 189.0 1342.0 183.1 1342.5 188.4 1343.0 186.8 1343.5 190.9 1344.0 187.7 1344.5 186.6 1345.0 187.7 1345.5 188.5 1346.0 187.0 1346.5 188.0 1347.0 185.5 1347.5 187.7 1348.0 189.7 1348.5 192.0 1349.0 189.5 1349.5 188.7 1350.0 190.5 1350.5 190.1 1351.0 191.4 1351.5 190.2 1352.0 187.9 1352.5 188.6 1353.0 188.4 1353.5 188.7 1354.0 188.5 1354.5 186.5 1355.0 183.9 1355.5 186.7 1356.0 184.0 1356.5 188.2 1357.0 188.1 1357.5 184.7 1358.0 189.4 1358.5 189.8 1359.0 188.2 1359.5 191.3 1360.0 191.7 1360.5 185.6 1361.0 190.1 1361.5 188.9 1362.0 188.8 1362.5 189.9 1363.0 186.6 1363.5 186.8 1364.0 186.4 1364.5 186.5 1365.0 187.8 1365.5 185.1 1366.0 185.9 1366.5 189.1 1367.0 187.9 1367.5 188.8 1368.0 184.3 1368.5 186.4 1369.0 186.9 1369.5 188.1 1370.0 186.8 1370.5 189.8 1371.0 187.9 1371.5 188.0 1372.0 188.0 1372.5 189.4 1373.0 187.1 1373.5 190.2 1374.0 188.9 1374.5 188.3 1375.0 188.1 1375.5 189.1 1376.0 190.0 1376.5 189.9 1377.0 188.8 1377.5 189.8 1378.0 188.3 1378.5 190.6 1379.0 188.0 1379.5 184.0 1380.0 190.7 1380.5 188.3 1381.0 185.8 1381.5 187.7 1382.0 186.4 1382.5 192.3 1383.0 189.1 1383.5 185.1 1384.0 189.3 1384.5 187.4 1385.0 192.0 1385.5 186.1 1386.0 183.8 1386.5 188.4 1387.0 187.6 1387.5 187.4 1388.0 184.0 1388.5 189.1 1389.0 191.6 1389.5 184.5 1390.0 190.6 1390.5 187.2 1391.0 193.0 1391.5 189.2 1392.0 188.0 1392.5 190.6 1393.0 189.4 1393.5 187.2 1394.0 189.8 1394.5 187.4 1395.0 184.9 1395.5 192.5 1396.0 187.8 1396.5 187.3 1397.0 189.2 1397.5 185.5 1398.0 185.9 1398.5 187.6 1399.0 187.6 1399.5 188.8 1400.0 190.9 1400.5 187.7 1401.0 189.6 1401.5 189.9 1402.0 186.6 1402.5 189.2 1403.0 186.9 1403.5 190.9 1404.0 189.7 1404.5 188.8 1405.0 186.2 1405.5 189.1 1406.0 187.3 1406.5 190.3 1407.0 188.7 1407.5 187.3 1408.0 190.8 1408.5 190.4 1409.0 187.8 1409.5 191.3 1410.0 188.4 1410.5 188.4 1411.0 189.3 1411.5 187.6 1412.0 188.2 1412.5 188.8 1413.0 192.1 1413.5 192.1 1414.0 188.6 1414.5 192.4 1415.0 189.1 1415.5 190.0 1416.0 191.0 1416.5 189.8 1417.0 194.0 1417.5 189.8 1418.0 186.9 1418.5 191.9 1419.0 188.5 1419.5 188.8 1420.0 183.5 1420.5 191.4 1421.0 191.0 1421.5 191.0 1422.0 191.4 1422.5 192.8 1423.0 189.4 1423.5 191.4 1424.0 188.0 1424.5 188.8 1425.0 191.6 1425.5 190.3 1426.0 186.9 1426.5 190.3 1427.0 189.3 1427.5 188.0 1428.0 190.5 1428.5 188.9 1429.0 186.6 1429.5 187.5 1430.0 193.2 1430.5 186.7 1431.0 190.2 1431.5 191.0 1432.0 191.0 1432.5 187.4 1433.0 189.2 1433.5 190.1 1434.0 191.4 1434.5 188.6 1435.0 187.6 1435.5 191.9 1436.0 192.1 1436.5 190.6 1437.0 188.7 1437.5 190.7 1438.0 190.2 1438.5 191.6 1439.0 187.5 1439.5 190.2 1440.0 189.7 1440.5 187.8 1441.0 190.4 1441.5 190.1 1442.0 189.2 1442.5 190.8 1443.0 187.3 1443.5 190.0 1444.0 190.9 1444.5 190.7 1445.0 192.2 1445.5 187.7 1446.0 187.2 1446.5 190.6 1447.0 191.1 1447.5 194.4 1448.0 191.4 1448.5 188.5 1449.0 191.8 1449.5 188.5 1450.0 187.3 1450.5 195.4 1451.0 190.9 1451.5 191.7 1452.0 191.4 1452.5 193.9 1453.0 190.9 1453.5 192.7 1454.0 188.3 1454.5 187.6 1455.0 193.2 1455.5 193.3 1456.0 191.4 1456.5 190.8 1457.0 190.7 1457.5 189.0 1458.0 193.5 1458.5 191.7 1459.0 191.4 1459.5 191.2 1460.0 192.5 1460.5 191.5 1461.0 191.9 1461.5 188.2 1462.0 191.5 1462.5 194.8 1463.0 189.5 1463.5 190.3 1464.0 192.3 1464.5 192.4 1465.0 191.8 1465.5 187.4 1466.0 191.6 1466.5 188.2 1467.0 188.9 1467.5 191.7 1468.0 190.0 1468.5 192.2 1469.0 196.8 1469.5 192.2 1470.0 192.1 1470.5 188.9 1471.0 189.4 1471.5 188.5 1472.0 189.6 1472.5 188.5 1473.0 189.4 1473.5 190.3 1474.0 188.7 1474.5 187.9 1475.0 188.0 1475.5 191.6 1476.0 190.8 1476.5 192.7 1477.0 192.8 1477.5 190.1 1478.0 192.1 1478.5 187.9 1479.0 195.3 1479.5 193.1 1480.0 190.3 1480.5 188.5 1481.0 191.5 1481.5 187.1 1482.0 189.2 1482.5 192.3 1483.0 190.9 1483.5 189.8 1484.0 192.7 1484.5 188.7 1485.0 191.4 1485.5 189.8 1486.0 189.1 1486.5 191.7 1487.0 188.9 1487.5 194.6 1488.0 189.7 1488.5 194.8 1489.0 188.7 1489.5 192.1 1490.0 188.5 1490.5 188.2 1491.0 191.2 1491.5 192.2 1492.0 188.4 1492.5 193.2 1493.0 189.3 1493.5 191.2 1494.0 191.6 1494.5 192.1 1495.0 187.3 1495.5 194.1 1496.0 192.0 1496.5 190.1 1497.0 188.9 1497.5 187.6 1498.0 188.2 1498.5 192.0 1499.0 190.3 1499.5 188.7 1500.0 189.9 1500.5 194.1 1501.0 190.3 1501.5 189.8 1502.0 193.6 1502.5 191.9 1503.0 191.1 1503.5 189.8 1504.0 187.9 1504.5 188.7 1505.0 190.0 1505.5 190.6 1506.0 191.7 1506.5 192.1 1507.0 191.5 1507.5 191.5 1508.0 189.0 1508.5 186.8 1509.0 190.0 1509.5 189.1 1510.0 189.7 1510.5 190.5 1511.0 188.6 1511.5 188.8 1512.0 190.9 1512.5 191.3 1513.0 189.8 1513.5 192.0 1514.0 190.6 1514.5 189.1 1515.0 191.2 1515.5 194.8 1516.0 189.7 1516.5 193.4 1517.0 193.8 1517.5 194.1 1518.0 189.5 1518.5 195.1 1519.0 191.3 1519.5 190.6 1520.0 190.7 1520.5 192.3 1521.0 191.2 1521.5 190.8 1522.0 193.7 1522.5 189.7 1523.0 189.1 1523.5 192.7 1524.0 192.5 1524.5 193.3 1525.0 189.0 1525.5 193.3 1526.0 192.1 1526.5 194.6 1527.0 188.7 1527.5 191.6 1528.0 190.6 1528.5 188.0 1529.0 189.8 1529.5 193.4 1530.0 190.2 1530.5 189.7 1531.0 192.9 1531.5 193.1 1532.0 193.1 1532.5 189.6 1533.0 191.1 1533.5 193.2 1534.0 189.9 1534.5 189.7 1535.0 192.8 1535.5 194.3 1536.0 188.9 1536.5 186.1 1537.0 188.3 1537.5 189.2 1538.0 191.0 1538.5 192.4 1539.0 190.9 1539.5 189.8 1540.0 191.5 1540.5 189.3 1541.0 191.2 1541.5 190.0 1542.0 196.6 1542.5 192.9 1543.0 189.6 1543.5 189.3 1544.0 190.4 1544.5 188.0 1545.0 189.8 1545.5 189.8 1546.0 193.0 1546.5 190.4 1547.0 189.7 1547.5 188.6 1548.0 189.0 1548.5 191.2 1549.0 190.9 1549.5 193.5 1550.0 190.0 1550.5 193.4 1551.0 191.8 1551.5 191.3 1552.0 187.3 1552.5 188.8 1553.0 192.8 1553.5 194.1 1554.0 191.7 1554.5 192.8 1555.0 190.5 1555.5 190.6 1556.0 190.0 1556.5 193.3 1557.0 192.0 1557.5 190.9 1558.0 190.7 1558.5 192.4 1559.0 192.0 1559.5 189.7 1560.0 194.7 1560.5 191.9 1561.0 191.4 1561.5 194.3 1562.0 193.4 1562.5 191.2 1563.0 192.4 1563.5 189.2 1564.0 190.1 1564.5 186.9 1565.0 193.8 1565.5 187.6 1566.0 192.7 1566.5 189.7 1567.0 189.4 1567.5 191.0 1568.0 191.9 1568.5 192.6 1569.0 194.9 1569.5 192.1 1570.0 193.1 1570.5 190.2 1571.0 192.8 1571.5 191.7 1572.0 190.5 1572.5 191.2 1573.0 191.3 1573.5 191.8 1574.0 192.2 1574.5 190.4 1575.0 190.0 1575.5 192.9 1576.0 188.1 1576.5 190.2 1577.0 194.5 1577.5 186.1 1578.0 190.1 1578.5 192.8 1579.0 188.2 1579.5 196.6 1580.0 186.3 1580.5 194.3 1581.0 194.5 1581.5 193.3 1582.0 191.0 1582.5 192.2 1583.0 189.7 1583.5 193.1 1584.0 189.3 1584.5 190.9 1585.0 193.4 1585.5 189.3 1586.0 190.8 1586.5 191.8 1587.0 188.8 1587.5 193.8 1588.0 192.2 1588.5 188.5 1589.0 191.4 1589.5 190.0 1590.0 190.2 1590.5 191.7 1591.0 190.1 1591.5 193.4 1592.0 190.1 1592.5 193.5 1593.0 191.4 1593.5 193.2 1594.0 190.5 1594.5 190.5 1595.0 189.2 1595.5 192.7 1596.0 193.4 1596.5 195.7 1597.0 194.1 1597.5 192.0 1598.0 191.1 1598.5 192.3 1599.0 191.5 1599.5 194.4 1600.0 193.4 1600.5 189.9 1601.0 190.2 1601.5 194.3 1602.0 192.2 1602.5 191.1 1603.0 193.9 1603.5 190.8 1604.0 191.0 1604.5 190.7 1605.0 187.7 1605.5 193.3 1606.0 189.2 1606.5 190.5 1607.0 190.1 1607.5 193.0 1608.0 191.5 1608.5 191.6 1609.0 188.3 1609.5 191.4 1610.0 188.7 1610.5 192.2 1611.0 192.3 1611.5 191.6 1612.0 195.7 1612.5 192.7 1613.0 192.8 1613.5 191.9 1614.0 191.3 1614.5 193.6 1615.0 193.8 1615.5 189.1 1616.0 193.7 1616.5 192.7 1617.0 193.6 1617.5 192.6 1618.0 189.2 1618.5 189.3 1619.0 195.3 1619.5 192.2 1620.0 188.9 1620.5 192.4 1621.0 191.0 1621.5 188.0 1622.0 187.2 1622.5 188.5 1623.0 192.2 1623.5 191.6 1624.0 191.2 1624.5 192.3 1625.0 192.9 1625.5 187.5 1626.0 191.1 1626.5 190.1 1627.0 189.3 1627.5 190.6 1628.0 191.5 1628.5 191.2 1629.0 188.9 1629.5 190.8 1630.0 195.7 1630.5 189.7 1631.0 188.4 1631.5 192.3 1632.0 192.9 1632.5 192.7 1633.0 189.5 1633.5 193.7 1634.0 190.2 1634.5 189.5 1635.0 190.6 1635.5 191.6 1636.0 193.2 1636.5 193.0 1637.0 191.7 1637.5 193.6 1638.0 192.0 1638.5 193.6 1639.0 189.0 1639.5 188.7 1640.0 193.3 1640.5 189.1 1641.0 191.2 1641.5 191.6 1642.0 190.9 1642.5 190.9 1643.0 194.6 1643.5 186.8 1644.0 193.6 1644.5 196.4 1645.0 191.9 1645.5 191.8 1646.0 193.3 1646.5 195.5 1647.0 189.5 1647.5 192.0 1648.0 191.5 1648.5 193.0 1649.0 192.2 1649.5 193.2 1650.0 191.1 1650.5 192.0 1651.0 190.6 1651.5 190.6 1652.0 191.6 1652.5 191.6 1653.0 189.6 1653.5 195.0 1654.0 191.7 1654.5 189.2 1655.0 194.1 1655.5 190.5 1656.0 193.0 1656.5 191.9 1657.0 192.5 1657.5 192.3 1658.0 190.8 1658.5 192.1 1659.0 196.0 1659.5 187.6 1660.0 192.1 1660.5 192.9 1661.0 189.9 1661.5 189.3 1662.0 196.3 1662.5 191.3 1663.0 196.1 1663.5 193.1 1664.0 192.2 1664.5 193.0 1665.0 193.3 1665.5 194.4 1666.0 192.9 1666.5 192.3 1667.0 192.4 1667.5 194.7 1668.0 193.7 1668.5 190.1 1669.0 190.8 1669.5 192.7 1670.0 190.9 1670.5 191.4 1671.0 190.2 1671.5 191.6 1672.0 193.0 1672.5 194.1 1673.0 192.1 1673.5 196.2 1674.0 192.0 1674.5 198.5 1675.0 194.1 1675.5 193.1 1676.0 191.2 1676.5 186.6 1677.0 191.9 1677.5 192.5 1678.0 196.0 1678.5 189.5 1679.0 196.0 1679.5 191.7 1680.0 193.6 1680.5 187.2 1681.0 192.5 1681.5 191.5 1682.0 193.6 1682.5 192.4 1683.0 190.0 1683.5 194.1 1684.0 193.6 1684.5 193.4 1685.0 194.3 1685.5 194.5 1686.0 192.2 1686.5 189.6 1687.0 189.5 1687.5 195.0 1688.0 193.7 1688.5 192.5 1689.0 191.5 1689.5 192.4 1690.0 192.4 1690.5 191.7 1691.0 191.0 1691.5 196.6 1692.0 192.8 1692.5 191.2 1693.0 189.8 1693.5 190.9 1694.0 193.8 1694.5 193.9 1695.0 192.0 1695.5 192.5 1696.0 191.8 1696.5 190.2 1697.0 195.0 1697.5 193.2 1698.0 197.3 1698.5 190.9 1699.0 192.2 1699.5 194.2 1700.0 192.0 1700.5 189.7 1701.0 190.6 1701.5 192.7 1702.0 193.2 1702.5 192.3 1703.0 194.5 1703.5 194.5 1704.0 193.2 1704.5 192.6 1705.0 192.0 1705.5 193.6 1706.0 194.4 1706.5 192.7 1707.0 193.5 1707.5 191.9 1708.0 189.8 1708.5 190.6 1709.0 194.1 1709.5 193.5 1710.0 195.8 1710.5 192.7 1711.0 194.3 1711.5 195.2 1712.0 194.6 1712.5 191.4 1713.0 192.3 1713.5 192.9 1714.0 190.7 1714.5 193.6 1715.0 194.7 1715.5 191.7 1716.0 196.6 1716.5 192.1 1717.0 192.3 1717.5 192.2 1718.0 191.3 1718.5 193.6 1719.0 192.8 1719.5 196.0 1720.0 194.0 1720.5 193.8 1721.0 192.3 1721.5 190.0 1722.0 192.6 1722.5 191.1 1723.0 194.7 1723.5 192.7 1724.0 196.1 1724.5 194.3 1725.0 194.5 1725.5 193.3 1726.0 193.3 1726.5 194.1 1727.0 194.7 1727.5 191.5 1728.0 193.9 1728.5 198.1 1729.0 192.7 1729.5 192.4 1730.0 191.5 1730.5 190.0 1731.0 195.3 1731.5 193.1 1732.0 193.5 1732.5 196.6 1733.0 197.9 1733.5 191.2 1734.0 195.1 1734.5 194.2 1735.0 193.8 1735.5 193.9 1736.0 193.0 1736.5 196.2 1737.0 194.2 1737.5 193.7 1738.0 195.5 1738.5 194.8 1739.0 194.0 1739.5 193.7 1740.0 196.6 1740.5 194.1 1741.0 192.9 1741.5 191.4 1742.0 192.4 1742.5 191.0 1743.0 193.3 1743.5 193.6 1744.0 189.1 1744.5 193.2 1745.0 194.4 1745.5 193.5 1746.0 191.3 1746.5 195.7 1747.0 191.8 1747.5 190.8 1748.0 191.1 1748.5 193.2 1749.0 195.2 1749.5 195.5 1750.0 193.7 1750.5 190.9 1751.0 192.0 1751.5 191.5 1752.0 192.9 1752.5 189.8 1753.0 193.5 1753.5 194.6 1754.0 193.0 1754.5 194.2 1755.0 191.5 1755.5 190.5 1756.0 192.1 1756.5 195.7 1757.0 195.4 1757.5 192.5 1758.0 195.8 1758.5 192.8 1759.0 196.4 1759.5 194.4 1760.0 192.5 1760.5 195.0 1761.0 191.9 1761.5 191.6 1762.0 190.6 1762.5 194.0 1763.0 193.4 1763.5 193.3 1764.0 192.7 1764.5 196.4 1765.0 192.7 1765.5 192.1 1766.0 196.0 1766.5 196.4 1767.0 194.2 1767.5 190.1 1768.0 192.4 1768.5 194.8 1769.0 193.6 1769.5 196.7 1770.0 190.9 1770.5 195.0 1771.0 192.4 1771.5 196.3 1772.0 193.5 1772.5 195.7 1773.0 192.4 1773.5 190.9 1774.0 191.5 1774.5 192.5 1775.0 191.7 1775.5 196.1 1776.0 196.4 1776.5 194.3 1777.0 191.7 1777.5 193.5 1778.0 192.4 1778.5 196.6 1779.0 194.4 1779.5 194.8 1780.0 193.0 1780.5 189.8 1781.0 192.3 1781.5 191.6 1782.0 194.6 1782.5 194.0 1783.0 192.3 1783.5 193.1 1784.0 197.0 1784.5 192.0 1785.0 192.1 1785.5 193.5 1786.0 192.5 1786.5 193.1 1787.0 195.0 1787.5 197.4 1788.0 190.4 1788.5 193.9 1789.0 194.1 1789.5 193.8 1790.0 193.6 1790.5 193.3 1791.0 196.0 1791.5 193.1 1792.0 193.8 1792.5 194.0 1793.0 194.3 1793.5 193.7 1794.0 196.1 1794.5 194.1 1795.0 194.4 1795.5 194.0 1796.0 192.1 1796.5 192.5 1797.0 192.1 1797.5 194.5 1798.0 192.7 1798.5 192.1 1799.0 194.6 1799.5 195.2 1800.0 190.7 1800.5 197.6 1801.0 194.3 1801.5 194.0 1802.0 196.3 1802.5 194.4 1803.0 193.1 1803.5 198.6 1804.0 192.2 1804.5 194.1 1805.0 196.0 1805.5 192.2 1806.0 194.1 1806.5 195.1 1807.0 199.1 1807.5 192.6 1808.0 194.3 1808.5 195.7 1809.0 194.5 1809.5 192.0 1810.0 195.2 1810.5 194.6 1811.0 195.3 1811.5 196.7 1812.0 196.5 1812.5 195.3 1813.0 195.1 1813.5 192.3 1814.0 194.2 1814.5 194.9 1815.0 193.7 1815.5 194.7 1816.0 192.9 1816.5 197.6 1817.0 198.8 1817.5 193.8 1818.0 195.4 1818.5 194.1 1819.0 197.1 1819.5 195.5 1820.0 194.8 1820.5 194.2 1821.0 194.9 1821.5 192.7 1822.0 196.0 1822.5 193.3 1823.0 195.7 1823.5 194.9 1824.0 196.9 1824.5 194.7 1825.0 196.7 1825.5 192.9 1826.0 195.9 1826.5 194.3 1827.0 195.1 1827.5 194.9 1828.0 196.6 1828.5 190.8 1829.0 195.4 1829.5 191.9 1830.0 197.2 1830.5 190.9 1831.0 192.9 1831.5 191.5 1832.0 198.1 1832.5 192.3 1833.0 195.1 1833.5 193.8 1834.0 191.3 1834.5 194.3 1835.0 196.2 1835.5 194.6 1836.0 196.8 1836.5 194.3 1837.0 195.0 1837.5 194.2 1838.0 195.7" fill="none" stroke="#333333" stroke-width="7.0" stroke-linejoin="round"/>
<path d="M132.0 311.7 132.5 306.7 133.0 306.2 133.5 303.7 134.0 303.3 134.5 310.7 135.0 302.3 135.5 303.1 136.0 305.9 136.5 304.9 137.0 312.9 137.5 298.7 138.0 307.8 138.5 309.1 139.0 303.1 139.5 304.8 140.0 308.5 140.5 312.5 141.0 304.2 141.5 302.1 142.0 310.6 142.5 312.5 143.0 306.5 143.5 300.4 144.0 312.6 144.5 307.2 145.0 311.7 145.5 307.9 146.0 306.9 146.5 306.8 147.0 313.2 147.5 313.2 148.0 301.5 148.5 305.6 149.0 314.6 149.5 307.6 150.0 304.4 150.5 309.0 151.0 308.7 151.5 308.9 152.0 307.7 152.5 308.3 153.0 308.0 153.5 310.7 154.0 307.0 154.5 308.8 155.0 309.3 155.5 314.2 156.0 311.2 156.5 309.7 157.0 311.9 157.5 311.6 158.0 313.9 158.5 312.1 159.0 316.4 159.5 315.0 160.0 310.5 160.5 309.4 161.0 313.7 161.5 312.6 162.0 310.7 162.5 306.2 163.0 305.1 163.5 312.4 164.0 313.8 164.5 314.0 165.0 307.2 165.5 315.0 166.0 309.8 166.5 313.0 167.0 313.1 167.5 309.2 168.0 310.0 168.5 305.1 169.0 309.0 169.5 306.2 170.0 313.7 170.5 312.5 171.0 315.4 171.5 313.6 172.0 310.4 172.5 313.7 173.0 311.3 173.5 314.7 174.0 313.8 174.5 309.6 175.0 312.9 175.5 313.2 176.0 312.0 176.5 316.1 177.0 318.8 177.5 312.0 178.0 312.2 178.5 306.0 179.0 313.0 179.5 312.1 180.0 306.4 180.5 314.6 181.0 315.6 181.5 311.3 182.0 312.6 182.5 310.7 183.0 316.4 183.5 309.0 184.0 313.0 184.5 320.5 185.0 314.3 185.5 315.8 186.0 313.8 186.5 310.5 187.0 314.3 187.5 315.8 188.0 311.1 188.5 315.7 189.0 318.7 189.5 318.2 190.0 309.5 190.5 311.5 191.0 309.5 191.5 318.4 192.0 316.9 192.5 317.3 193.0 312.1 193.5 311.2 194.0 315.3 194.5 315.5 195.0 312.4 195.5 315.7 196.0 317.4 196.5 316.1 197.0 312.0 197.5 308.5 198.0 314.6 198.5 316.1 199.0 314.7 199.5 314.2 200.0 313.4 200.5 318.1 201.0 315.6 201.5 316.2 202.0 312.7 202.5 313.9 203.0 316.5 203.5 312.7 204.0 311.9 204.5 315.0 205.0 320.1 205.5 316.8 206.0 321.1 206.5 315.9 207.0 315.3 207.5 311.8 208.0 314.6 208.5 321.2 209.0 317.6 209.5 319.0 210.0 319.0 210.5 316.7 211.0 316.1 211.5 317.2 212.0 319.0 212.5 318.4 213.0 318.5 213.5 317.5 214.0 314.4 214.5 316.2 215.0 314.0 215.5 320.4 216.0 310.2 216.5 316.5 217.0 325.1 217.5 316.1 218.0 313.6 218.5 317.3 219.0 321.6 219.5 316.9 220.0 319.5 220.5 317.8 221.0 316.3 221.5 327.9 222.0 317.8 222.5 315.8 223.0 316.0 223.5 318.9 224.0 319.0 224.5 320.2 225.0 318.2 225.5 313.0 226.0 319.5 226.5 316.8 227.0 316.9 227.5 312.9 228.0 316.0 228.5 315.5 229.0 317.8 229.5 313.1 230.0 318.1 230.5 318.3 231.0 314.3 231.5 315.9 232.0 315.1 232.5 321.0 233.0 309.6 233.5 316.9 234.0 312.5 234.5 316.6 235.0 320.8 235.5 315.9 236.0 318.5 236.5 315.2 237.0 324.4 237.5 321.0 238.0 321.7 238.5 313.6 239.0 314.3 239.5 321.5 240.0 317.3 240.5 317.1 241.0 319.0 241.5 313.7 242.0 320.4 242.5 317.9 243.0 319.4 243.5 315.6 244.0 319.4 244.5 315.4 245.0 320.8 245.5 321.4 246.0 320.6 246.5 319.3 247.0 319.6 247.5 308.6 248.0 320.2 248.5 316.5 249.0 317.7 249.5 316.4 250.0 312.7 250.5 315.5 251.0 319.4 251.5 321.9 252.0 315.1 252.5 314.1 253.0 321.8 253.5 314.1 254.0 323.8 254.5 317.0 255.0 313.9 255.5 320.0 256.0 322.3 256.5 311.9 257.0 321.7 257.5 315.6 258.0 321.4 258.5 315.2 259.0 311.2 259.5 318.0 260.0 319.3 260.5 323.1 261.0 321.8 261.5 318.3 262.0 315.2 262.5 314.2 263.0 314.9 263.5 313.0 264.0 314.8 264.5 307.3 265.0 316.2 265.5 315.4 266.0 323.9 266.5 317.9 267.0 313.7 267.5 317.1 268.0 311.1 268.5 313.1 269.0 308.9 269.5 319.7 270.0 316.9 270.5 310.9 271.0 314.6 271.5 317.8 272.0 316.2 272.5 315.8 273.0 311.6 273.5 312.3 274.0 314.6 274.5 317.3 275.0 311.4 275.5 310.4 276.0 317.8 276.5 310.9 277.0 317.5 277.5 314.6 278.0 316.7 278.5 319.4 279.0 315.9 279.5 316.1 280.0 310.4 280.5 311.1 281.0 315.4 281.5 318.2 282.0 317.7 282.5 320.6 283.0 313.9 283.5 313.4 284.0 316.0 284.5 312.6 285.0 312.2 285.5 308.9 286.0 315.5 286.5 308.6 287.0 313.7 287.5 307.2 288.0 315.4 288.5 308.2 289.0 314.3 289.5 306.1 290.0 309.8 290.5 315.0 291.0 308.4 291.5 311.1 292.0 309.2 292.5 303.0 293.0 311.6 293.5 311.9 294.0 306.7 294.5 312.1 295.0 307.5 295.5 306.7 296.0 309.9 296.5 307.5 297.0 317.2 297.5 304.4 298.0 311.8 298.5 312.6 299.0 302.7 299.5 303.4 300.0 310.9 300.5 307.3 301.0 310.1 301.5 312.5 302.0 307.4 302.5 305.0 303.0 299.4 303.5 309.0 304.0 305.2 304.5 309.2 305.0 308.8 305.5 303.4 306.0 313.6 306.5 311.4 307.0 310.5 307.5 303.8 308.0 306.2 308.5 305.7 309.0 306.1 309.5 303.6 310.0 308.7 310.5 307.9 311.0 308.3 311.5 305.4 312.0 311.2 312.5 307.5 313.0 297.8 313.5 304.6 314.0 306.5 314.5 309.8 315.0 305.5 315.5 305.6 316.0 304.2 316.5 308.5 317.0 304.7 317.5 304.1 318.0 303.6 318.5 307.8 319.0 304.1 319.5 300.3 320.0 307.8 320.5 303.4 321.0 306.8 321.5 306.8 322.0 309.4 322.5 308.8 323.0 303.4 323.5 304.7 324.0 300.9 324.5 310.6 325.0 306.4 325.5 309.5 326.0 303.8 326.5 298.0 327.0 309.7 327.5 304.9 328.0 304.9 328.5 304.6 329.0 306.5 329.5 306.0 330.0 298.9 330.5 307.7 331.0 302.2 331.5 302.3 332.0 309.5 332.5 306.7 333.0 302.5 333.5 297.4 334.0 304.0 334.5 305.1 335.0 303.0 335.5 299.0 336.0 300.4 336.5 298.8 337.0 303.5 337.5 305.4 338.0 306.0 338.5 300.1 339.0 303.2 339.5 304.1 340.0 300.5 340.5 301.6 341.0 308.9 341.5 302.5 342.0 304.6 342.5 300.1 343.0 301.6 343.5 295.7 344.0 301.1 344.5 305.0 345.0 307.8 345.5 304.7 346.0 302.9 346.5 300.6 347.0 298.3 347.5 299.6 348.0 302.0 348.5 297.2 349.0 302.7 349.5 296.2 350.0 293.4 350.5 295.7 351.0 293.4 351.5 294.2 352.0 302.3 352.5 297.7 353.0 298.9 353.5 301.8 354.0 301.9 354.5 295.9 355.0 301.8 355.5 298.5 356.0 297.0 356.5 298.3 357.0 291.9 357.5 293.8 358.0 295.9 358.5 298.0 359.0 294.6 359.5 295.2 360.0 298.6 360.5 299.9 361.0 297.6 361.5 299.1 362.0 293.3 362.5 293.5 363.0 295.3 363.5 293.1 364.0 292.2 364.5 299.2 365.0 292.9 365.5 290.2 366.0 294.8 366.5 299.0 367.0 293.0 367.5 296.6 368.0 290.9 368.5 290.5 369.0 289.7 369.5 291.3 370.0 297.6 370.5 287.5 371.0 296.5 371.5 287.6 372.0 289.9 372.5 293.3 373.0 292.4 373.5 291.0 374.0 284.4 374.5 290.9 375.0 286.1 375.5 297.7 376.0 288.4 376.5 289.5 377.0 284.9 377.5 286.9 378.0 284.0 378.5 291.3 379.0 287.0 379.5 289.5 380.0 285.2 380.5 285.6 381.0 291.3 381.5 283.6 382.0 280.7 382.5 287.8 383.0 282.5 383.5 284.6 384.0 288.9 384.5 283.0 385.0 288.4 385.5 283.1 386.0 290.1 386.5 289.3 387.0 283.2 387.5 283.9 388.0 281.7 388.5 284.9 389.0 287.8 389.5 279.1 390.0 286.7 390.5 279.1 391.0 280.5 391.5 277.2 392.0 289.9 392.5 283.0 393.0 283.4 393.5 280.2 394.0 285.8 394.5 275.1 395.0 282.0 395.5 289.0 396.0 280.3 396.5 281.4 397.0 283.4 397.5 278.4 398.0 280.9 398.5 283.9 399.0 281.2 399.5 281.6 400.0 279.0 400.5 281.1 401.0 280.1 401.5 284.5 402.0 281.9 402.5 278.6 403.0 271.2 403.5 281.5 404.0 281.4 404.5 275.8 405.0 272.1 405.5 274.7 406.0 281.4 406.5 274.7 407.0 276.5 407.5 278.6 408.0 281.8 408.5 277.5 409.0 277.1 409.5 275.5 410.0 282.5 410.5 280.5 411.0 276.5 411.5 272.1 412.0 273.9 412.5 278.3 413.0 273.8 413.5 279.0 414.0 277.1 414.5 276.7 415.0 277.8 415.5 277.1 416.0 272.5 416.5 274.1 417.0 282.7 417.5 270.9 418.0 273.2 418.5 278.1 419.0 274.0 419.5 271.7 420.0 269.9 420.5 275.9 421.0 277.4 421.5 278.6 422.0 274.0 422.5 277.2 423.0 270.2 423.5 274.1 424.0 271.3 424.5 274.0 425.0 275.8 425.5 276.8 426.0 270.0 426.5 277.4 427.0 271.6 427.5 269.7 428.0 272.5 428.5 268.2 429.0 273.0 429.5 273.9 430.0 272.3 430.5 274.7 431.0 271.8 431.5 272.8 432.0 268.0 432.5 272.9 433.0 269.9 433.5 271.2 434.0 272.4 434.5 273.3 435.0 267.2 435.5 267.4 436.0 271.6 436.5 274.1 437.0 273.7 437.5 275.4 438.0 276.7 438.5 274.1 439.0 272.3 439.5 269.0 440.0 269.2 440.5 270.8 441.0 273.2 441.5 273.0 442.0 272.3 442.5 271.8 443.0 274.3 443.5 272.9 444.0 273.2 444.5 273.2 445.0 270.4 445.5 268.8 446.0 273.8 446.5 273.6 447.0 271.5 447.5 270.8 448.0 279.7 448.5 269.7 449.0 271.5 449.5 273.1 450.0 268.5 450.5 272.7 451.0 278.3 451.5 275.5 452.0 274.6 452.5 274.5 453.0 273.0 453.5 275.9 454.0 272.3 454.5 271.5 455.0 273.3 455.5 276.1 456.0 274.3 456.5 275.5 457.0 266.7 457.5 277.5 458.0 281.4 458.5 278.2 459.0 272.9 459.5 271.2 460.0 275.1 460.5 271.0 461.0 276.8 461.5 272.8 462.0 277.9 462.5 279.3 463.0 268.2 463.5 276.0 464.0 272.9 464.5 270.7 465.0 273.4 465.5 274.9 466.0 279.1 466.5 270.8 467.0 279.4 467.5 282.8 468.0 278.2 468.5 278.1 469.0 276.4 469.5 272.7 470.0 278.4 470.5 278.0 471.0 279.3 471.5 285.5 472.0 279.5 472.5 278.6 473.0 282.5 473.5 273.0 474.0 273.8 474.5 276.4 475.0 275.6 475.5 280.1 476.0 276.9 476.5 283.8 477.0 283.2 477.5 280.8 478.0 277.1 478.5 280.6 479.0 281.3 479.5 275.2 480.0 280.0 480.5 281.3 481.0 279.8 481.5 284.4 482.0 283.4 482.5 276.8 483.0 280.0 483.5 277.0 484.0 281.8 484.5 277.1 485.0 283.2 485.5 281.6 486.0 283.6 486.5 280.1 487.0 275.9 487.5 286.7 488.0 280.4 488.5 285.7 489.0 282.7 489.5 283.7 490.0 287.6 490.5 282.9 491.0 286.6 491.5 277.2 492.0 285.2 492.5 281.7 493.0 282.2 493.5 282.9 494.0 284.2 494.5 288.8 495.0 277.4 495.5 283.9 496.0 281.6 496.5 288.1 497.0 283.1 497.5 286.2 498.0 283.6 498.5 287.4 499.0 288.8 499.5 284.4 500.0 286.1 500.5 281.5 501.0 287.4 501.5 289.5 502.0 285.1 502.5 290.9 503.0 280.6 503.5 281.6 504.0 283.3 504.5 286.6 505.0 288.5 505.5 288.4 506.0 288.7 506.5 291.5 507.0 287.8 507.5 285.4 508.0 285.7 508.5 297.0 509.0 282.5 509.5 289.8 510.0 295.4 510.5 292.4 511.0 288.3 511.5 291.2 512.0 294.2 512.5 295.5 513.0 288.7 513.5 294.4 514.0 292.9 514.5 295.9 515.0 297.0 515.5 291.4 516.0 287.9 516.5 294.2 517.0 298.9 517.5 295.5 518.0 294.1 518.5 301.5 519.0 290.3 519.5 296.8 520.0 292.1 520.5 294.3 521.0 294.6 521.5 299.4 522.0 291.5 522.5 293.0 523.0 289.6 523.5 296.7 524.0 293.7 524.5 296.7 525.0 291.9 525.5 294.4 526.0 299.2 526.5 295.3 527.0 298.1 527.5 297.9 528.0 295.2 528.5 291.3 529.0 299.9 529.5 297.3 530.0 300.2 530.5 290.4 531.0 291.7 531.5 290.3 532.0 294.6 532.5 301.1 533.0 299.7 533.5 297.8 534.0 298.5 534.5 300.7 535.0 297.3 535.5 299.8 536.0 299.1 536.5 291.5 537.0 297.6 537.5 303.5 538.0 297.8 538.5 298.8 539.0 297.4 539.5 297.9 540.0 303.4 540.5 298.9 541.0 296.6 541.5 289.8 542.0 298.3 542.5 293.8 543.0 294.4 543.5 303.2 544.0 303.1 544.5 294.5 545.0 303.8 545.5 302.6 546.0 298.7 546.5 303.8 547.0 296.1 547.5 297.7 548.0 297.0 548.5 298.3 549.0 305.0 549.5 297.8 550.0 298.5 550.5 299.3 551.0 303.3 551.5 301.6 552.0 305.8 552.5 300.7 553.0 298.9 553.5 301.7 554.0 303.6 554.5 300.6 555.0 304.7 555.5 309.9 556.0 302.2 556.5 304.4 557.0 308.9 557.5 302.5 558.0 302.0 558.5 301.3 559.0 306.4 559.5 307.0 560.0 305.0 560.5 305.8 561.0 310.0 561.5 308.8 562.0 301.5 562.5 306.3 563.0 306.8 563.5 309.0 564.0 306.1 564.5 304.9 565.0 305.6 565.5 301.5 566.0 307.4 566.5 305.7 567.0 309.4 567.5 304.6 568.0 306.7 568.5 305.1 569.0 304.9 569.5 310.9 570.0 307.2 570.5 310.4 571.0 305.4 571.5 309.5 572.0 303.8 572.5 307.9 573.0 308.0 573.5 311.7 574.0 310.5 574.5 309.4 575.0 312.9 575.5 310.9 576.0 312.1 576.5 313.0 577.0 310.4 577.5 309.7 578.0 311.9 578.5 309.5 579.0 312.3 579.5 314.8 580.0 314.0 580.5 310.1 581.0 307.2 581.5 311.3 582.0 311.2 582.5 315.4 583.0 310.6 583.5 311.2 584.0 314.4 584.5 310.5 585.0 311.7 585.5 318.0 586.0 317.3 586.5 314.6 587.0 313.5 587.5 309.5 588.0 314.6 588.5 313.1 589.0 313.7 589.5 311.4 590.0 313.1 590.5 312.7 591.0 314.4 591.5 318.2 592.0 314.7 592.5 308.2 593.0 310.5 593.5 308.6 594.0 311.3 594.5 315.9 595.0 315.5 595.5 312.3 596.0 315.2 596.5 312.0 597.0 309.9 597.5 310.0 598.0 311.9 598.5 319.5 599.0 310.5 599.5 319.2 600.0 319.5 600.5 314.7 601.0 315.2 601.5 313.5 602.0 315.5 602.5 317.8 603.0 315.8 603.5 319.2 604.0 319.9 604.5 317.2 605.0 317.3 605.5 316.1 606.0 317.5 606.5 312.8 607.0 317.9 607.5 317.4 608.0 314.0 608.5 323.9 609.0 313.8 609.5 314.3 610.0 318.1 610.5 311.0 611.0 314.8 611.5 312.5 612.0 314.4 612.5 317.3 613.0 318.8 613.5 321.5 614.0 320.6 614.5 321.9 615.0 320.1 615.5 316.7 616.0 321.9 616.5 316.8 617.0 316.5 617.5 323.5 618.0 321.2 618.5 319.5 619.0 321.3 619.5 321.8 620.0 314.6 620.5 318.8 621.0 315.4 621.5 319.7 622.0 317.2 622.5 323.8 623.0 321.2 623.5 317.0 624.0 319.7 624.5 315.9 625.0 320.0 625.5 321.7 626.0 320.9 626.5 313.9 627.0 319.1 627.5 321.9 628.0 321.4 628.5 324.2 629.0 316.4 629.5 322.3 630.0 318.6 630.5 321.4 631.0 322.2 631.5 323.1 632.0 319.2 632.5 321.7 633.0 317.4 633.5 316.7 634.0 323.1 634.5 321.2 635.0 316.3 635.5 318.8 636.0 321.7 636.5 326.6 637.0 325.1 637.5 324.3 638.0 316.2 638.5 321.6 639.0 323.5 639.5 323.3 640.0 323.5 640.5 321.5 641.0 327.8 641.5 327.0 642.0 322.1 642.5 319.4 643.0 329.0 643.5 320.9 644.0 326.5 644.5 328.8 645.0 319.8 645.5 323.8 646.0 321.8 646.5 324.6 647.0 324.1 647.5 329.2 648.0 325.0 648.5 323.2 649.0 326.9 649.5 322.5 650.0 322.3 650.5 330.5 651.0 321.0 651.5 322.1 652.0 323.8 652.5 320.4 653.0 317.2 653.5 327.2 654.0 321.5 654.5 322.3 655.0 322.9 655.5 321.0 656.0 320.8 656.5 324.7 657.0 331.7 657.5 326.6 658.0 326.7 658.5 319.8 659.0 324.4 659.5 320.9 660.0 327.0 660.5 324.0 661.0 324.9 661.5 324.5 662.0 323.0 662.5 320.2 663.0 326.8 663.5 320.7 664.0 321.4 664.5 324.2 665.0 323.0 665.5 326.0 666.0 328.4 666.5 326.1 667.0 326.0 667.5 325.5 668.0 328.2 668.5 319.9 669.0 326.8 669.5 322.8 670.0 322.0 670.5 325.8 671.0 324.7 671.5 327.7 672.0 329.3 672.5 318.9 673.0 325.8 673.5 332.1 674.0 328.8 674.5 330.6 675.0 326.6 675.5 322.0 676.0 323.0 676.5 328.6 677.0 329.4 677.5 324.3 678.0 325.8 678.5 327.5 679.0 321.4 679.5 325.7 680.0 331.7 680.5 333.5 681.0 326.6 681.5 332.5 682.0 325.4 682.5 324.6 683.0 320.4 683.5 330.1 684.0 326.1 684.5 334.3 685.0 328.3 685.5 327.9 686.0 322.0 686.5 332.0 687.0 326.4 687.5 327.1 688.0 321.0 688.5 330.4 689.0 330.7 689.5 325.9 690.0 328.1 690.5 329.0 691.0 330.8 691.5 328.3 692.0 333.2 692.5 327.3 693.0 326.3 693.5 326.7 694.0 320.6 694.5 325.8 695.0 331.3 695.5 329.1 696.0 325.9 696.5 329.5 697.0 322.5 697.5 327.7 698.0 330.2 698.5 330.7 699.0 326.4 699.5 331.5 700.0 334.4 700.5 327.6 701.0 331.1 701.5 324.4 702.0 323.3 702.5 331.0 703.0 329.3 703.5 329.9 704.0 327.6 704.5 328.5 705.0 331.9 705.5 334.6 706.0 329.0 706.5 324.8 707.0 333.5 707.5 331.6 708.0 331.9 708.5 330.5 709.0 336.9 709.5 330.4 710.0 331.7 710.5 324.9 711.0 328.7 711.5 328.5 712.0 330.5 712.5 331.6 713.0 328.5 713.5 335.8 714.0 327.7 714.5 329.6 715.0 331.7 715.5 327.4 716.0 332.8 716.5 333.1 717.0 330.5 717.5 337.0 718.0 331.7 718.5 332.4 719.0 328.9 719.5 326.9 720.0 330.0 720.5 330.9 721.0 330.6 721.5 334.3 722.0 325.2 722.5 328.9 723.0 327.0 723.5 336.2 724.0 330.8 724.5 331.0 725.0 329.3 725.5 335.2 726.0 331.5 726.5 333.4 727.0 326.9 727.5 336.2 728.0 334.1 728.5 334.6 729.0 336.6 729.5 332.5 730.0 332.7 730.5 335.3 731.0 334.5 731.5 332.6 732.0 333.5 732.5 332.0 733.0 335.5 733.5 336.2 734.0 333.6 734.5 339.0 735.0 329.2 735.5 333.0 736.0 338.6 736.5 332.6 737.0 329.3 737.5 337.9 738.0 335.5 738.5 330.6 739.0 336.2 739.5 331.2 740.0 330.3 740.5 333.7 741.0 332.8 741.5 331.1 742.0 333.2 742.5 331.5 743.0 334.5 743.5 334.3 744.0 336.6 744.5 333.2 745.0 330.8 745.5 330.8 746.0 333.9 746.5 339.0 747.0 337.1 747.5 332.9 748.0 337.4 748.5 331.5 749.0 337.7 749.5 333.8 750.0 337.1 750.5 336.7 751.0 334.2 751.5 336.0 752.0 332.1 752.5 334.9 753.0 338.2 753.5 346.7 754.0 337.2 754.5 335.5 755.0 332.5 755.5 338.3 756.0 330.8 756.5 333.2 757.0 336.5 757.5 332.1 758.0 339.8 758.5 338.6 759.0 334.0 759.5 334.1 760.0 332.0 760.5 331.8 761.0 337.0 761.5 337.5 762.0 336.8 762.5 336.6 763.0 334.3 763.5 336.9 764.0 331.9 764.5 336.0 765.0 340.1 765.5 339.7 766.0 334.8 766.5 335.2 767.0 339.9 767.5 341.1 768.0 332.1 768.5 335.1 769.0 336.9 769.5 339.7 770.0 334.0 770.5 338.1 771.0 335.6 771.5 343.0 772.0 337.7 772.5 336.1 773.0 335.6 773.5 339.5 774.0 338.5 774.5 333.7 775.0 337.3 775.5 333.1 776.0 334.7 776.5 333.2 777.0 333.2 777.5 335.0 778.0 334.2 778.5 338.3 779.0 339.1 779.5 336.3 780.0 334.0 780.5 339.2 781.0 331.6 781.5 331.9 782.0 339.1 782.5 338.9 783.0 339.8 783.5 336.6 784.0 333.9 784.5 335.9 785.0 338.9 785.5 335.3 786.0 335.5 786.5 333.7 787.0 334.3 787.5 339.8 788.0 338.8 788.5 334.4 789.0 334.7 789.5 336.1 790.0 339.1 790.5 334.6 791.0 337.3 791.5 332.0 792.0 334.4 792.5 339.0 793.0 340.3 793.5 334.8 794.0 335.9 794.5 340.1 795.0 336.9 795.5 336.6 796.0 339.4 796.5 338.6 797.0 341.1 797.5 340.3 798.0 336.6 798.5 337.9 799.0 338.1 799.5 334.7 800.0 335.7 800.5 340.9 801.0 334.2 801.5 341.0 802.0 339.2 802.5 338.1 803.0 339.9 803.5 339.8 804.0 341.7 804.5 337.5 805.0 338.0 805.5 338.0 806.0 343.6 806.5 341.2 807.0 336.3 807.5 337.9 808.0 337.0 808.5 338.9 809.0 339.4 809.5 344.9 810.0 334.2 810.5 341.7 811.0 340.1 811.5 337.2 812.0 338.7 812.5 337.8 813.0 339.2 813.5 341.8 814.0 335.2 814.5 342.6 815.0 338.3 815.5 343.2 816.0 340.4 816.5 342.5 817.0 340.8 817.5 342.2 818.0 339.6 818.5 337.3 819.0 341.2 819.5 341.3 820.0 344.9 820.5 334.4 821.0 339.1 821.5 342.3 822.0 336.4 822.5 339.1 823.0 345.1 823.5 343.4 824.0 337.5 824.5 343.4 825.0 342.8 825.5 341.8 826.0 340.8 826.5 340.5 827.0 337.7 827.5 338.6 828.0 341.8 828.5 340.4 829.0 344.7 829.5 339.2 830.0 334.0 830.5 339.3 831.0 340.8 831.5 341.1 832.0 340.4 832.5 338.1 833.0 344.0 833.5 338.6 834.0 342.1 834.5 339.6 835.0 337.3 835.5 343.9 836.0 334.0 836.5 338.3 837.0 341.5 837.5 339.6 838.0 342.4 838.5 340.3 839.0 339.4 839.5 346.0 840.0 340.0 840.5 340.2 841.0 337.9 841.5 338.8 842.0 342.3 842.5 342.1 843.0 340.7 843.5 339.0 844.0 342.5 844.5 336.6 845.0 340.0 845.5 340.2 846.0 338.8 846.5 341.3 847.0 339.3 847.5 339.0 848.0 345.5 848.5 342.9 849.0 344.0 849.5 341.2 850.0 343.5 850.5 343.1 851.0 344.2 851.5 347.1 852.0 340.7 852.5 341.9 853.0 341.2 853.5 332.7 854.0 337.9 854.5 341.4 855.0 343.0 855.5 340.0 856.0 344.3 856.5 344.6 857.0 340.5 857.5 345.0 858.0 345.9 858.5 342.7 859.0 339.2 859.5 345.2 860.0 341.3 860.5 340.8 861.0 342.0 861.5 340.4 862.0 344.4 862.5 343.7 863.0 344.8 863.5 343.3 864.0 339.9 864.5 341.5 865.0 344.0 865.5 341.0 866.0 349.0 866.5 341.4 867.0 340.6 867.5 344.8 868.0 343.9 868.5 342.0 869.0 341.5 869.5 343.1 870.0 344.1 870.5 344.0 871.0 341.4 871.5 343.2 872.0 344.2 872.5 344.1 873.0 334.8 873.5 340.1 874.0 340.4 874.5 341.7 875.0 342.7 875.5 344.5 876.0 343.8 876.5 342.0 877.0 342.4 877.5 346.6 878.0 340.9 878.5 343.1 879.0 346.1 879.5 343.2 880.0 337.6 880.5 343.3 881.0 341.5 881.5 342.2 882.0 345.0 882.5 343.6 883.0 341.8 883.5 344.6 884.0 343.5 884.5 342.7 885.0 343.2 885.5 343.1 886.0 341.7 886.5 341.4 887.0 342.6 887.5 340.3 888.0 339.5 888.5 345.6 889.0 341.9 889.5 342.4 890.0 342.2 890.5 342.5 891.0 342.5 891.5 342.6 892.0 340.6 892.5 344.6 893.0 340.8 893.5 344.8 894.0 337.9 894.5 339.9 895.0 344.7 895.5 342.0 896.0 340.8 896.5 343.2 897.0 339.9 897.5 342.5 898.0 337.1 898.5 341.2 899.0 340.7 899.5 343.4 900.0 344.2 900.5 340.2 901.0 345.8 901.5 340.7 902.0 337.3 902.5 336.5 903.0 345.5 903.5 341.7 904.0 340.4 904.5 340.2 905.0 339.3 905.5 344.9 906.0 341.6 906.5 345.8 907.0 341.3 907.5 336.3 908.0 343.6 908.5 340.8 909.0 341.0 909.5 345.1 910.0 340.9 910.5 344.1 911.0 341.4 911.5 339.7 912.0 342.5 912.5 340.0 913.0 344.1 913.5 343.4 914.0 341.3 914.5 342.5 915.0 342.4 915.5 340.5 916.0 343.1 916.5 340.5 917.0 342.4 917.5 338.8 918.0 341.1 918.5 341.8 919.0 339.0 919.5 339.8 920.0 339.5 920.5 342.3 921.0 339.0 921.5 341.6 922.0 344.0 922.5 341.3 923.0 336.9 923.5 340.7 924.0 342.7 924.5 339.7 925.0 342.8 925.5 341.6 926.0 341.2 926.5 339.6 927.0 339.0 927.5 339.5 928.0 340.1 928.5 341.1 929.0 340.8 929.5 339.1 930.0 339.9 930.5 340.5 931.0 335.9 931.5 337.7 932.0 337.5 932.5 338.7 933.0 338.4 933.5 338.2 934.0 336.7 934.5 339.8 935.0 338.7 935.5 334.1 936.0 337.4 936.5 334.4 937.0 340.0 937.5 334.6 938.0 333.9 938.5 333.9 939.0 332.0 939.5 330.6 940.0 332.0 940.5 326.2 941.0 323.5 941.5 318.6 942.0 308.1 942.5 301.3 943.0 286.0 943.5 268.0 944.0 247.9 944.5 237.2 944.6 236.2 945.0 240.1 945.5 256.6 946.0 272.7 946.5 285.5 947.0 295.6 947.5 303.3 948.0 308.4 948.5 310.6 949.0 314.3 949.5 316.6 950.0 312.4 950.5 315.4 951.0 315.5 951.5 318.6 952.0 322.2 952.5 321.2 953.0 318.1 953.5 320.2 954.0 323.4 954.5 320.5 955.0 321.8 955.5 323.0 956.0 318.7 956.5 324.6 957.0 323.9 957.5 324.7 958.0 321.7 958.5 322.4 959.0 323.0 959.5 325.1 960.0 325.0 960.5 325.3 961.0 329.1 961.5 328.3 962.0 324.3 962.5 324.7 963.0 330.0 963.5 326.0 964.0 329.8 964.5 330.5 965.0 326.3 965.5 327.2 966.0 328.2 966.5 326.5 967.0 326.5 967.5 328.0 968.0 330.9 968.5 328.5 969.0 329.2 969.5 329.0 970.0 327.4 970.5 333.6 971.0 325.9 971.5 329.7 972.0 332.5 972.5 328.7 973.0 333.2 973.5 334.8 974.0 330.7 974.5 333.2 975.0 330.7 975.5 334.3 976.0 333.7 976.5 334.3 977.0 336.9 977.5 335.3 978.0 337.4 978.5 336.2 979.0 332.7 979.5 335.9 980.0 336.6 980.5 332.9 981.0 338.8 981.5 336.5 982.0 337.3 982.5 335.0 983.0 337.2 983.5 337.9 984.0 336.8 984.5 337.9 985.0 333.6 985.5 340.9 986.0 336.1 986.5 334.1 987.0 336.8 987.5 337.2 988.0 340.2 988.5 337.4 989.0 340.0 989.5 337.7 990.0 344.2 990.5 341.1 991.0 344.1 991.5 338.3 992.0 341.8 992.5 338.7 993.0 341.9 993.5 342.2 994.0 337.8 994.5 338.9 995.0 339.0 995.5 338.4 996.0 340.1 996.5 339.7 997.0 338.9 997.5 342.1 998.0 343.1 998.5 339.5 999.0 341.1 999.5 342.3 1000.0 341.9 1000.5 341.1 1001.0 344.2 1001.5 344.4 1002.0 344.1 1002.5 342.5 1003.0 346.9 1003.5 346.5 1004.0 342.3 1004.5 343.0 1005.0 345.7 1005.5 341.8 1006.0 344.3 1006.5 343.7 1007.0 342.3 1007.5 343.3 1008.0 340.7 1008.5 342.8 1009.0 340.0 1009.5 348.5 1010.0 347.1 1010.5 346.6 1011.0 344.8 1011.5 346.3 1012.0 346.9 1012.5 346.4 1013.0 346.3 1013.5 342.7 1014.0 345.4 1014.5 343.5 1015.0 342.3 1015.5 342.4 1016.0 345.5 1016.5 346.8 1017.0 342.0 1017.5 348.2 1018.0 347.7 1018.5 344.0 1019.0 343.9 1019.5 344.7 1020.0 346.8 1020.5 344.1 1021.0 342.6 1021.5 345.5 1022.0 340.8 1022.5 345.1 1023.0 347.2 1023.5 345.5 1024.0 346.4 1024.5 345.9 1025.0 346.3 1025.5 345.2 1026.0 343.2 1026.5 344.4 1027.0 344.7 1027.5 347.4 1028.0 348.1 1028.5 345.7 1029.0 343.4 1029.5 343.5 1030.0 344.5 1030.5 347.7 1031.0 345.6 1031.5 344.8 1032.0 343.4 1032.5 346.7 1033.0 345.5 1033.5 344.8 1034.0 345.1 1034.5 348.3 1035.0 344.6 1035.5 348.3 1036.0 347.4 1036.5 345.0 1037.0 346.7 1037.5 344.7 1038.0 343.3 1038.5 344.4 1039.0 343.1 1039.5 345.9 1040.0 345.0 1040.5 346.1 1041.0 346.6 1041.5 338.8 1042.0 345.5 1042.5 341.4 1043.0 345.3 1043.5 343.2 1044.0 345.1 1044.5 347.6 1045.0 341.5 1045.5 345.3 1046.0 344.8 1046.5 341.2 1047.0 346.2 1047.5 345.0 1048.0 343.9 1048.5 343.5 1049.0 351.3 1049.5 344.1 1050.0 341.4 1050.5 343.1 1051.0 344.2 1051.5 344.2 1052.0 344.8 1052.5 342.9 1053.0 346.0 1053.5 344.0 1054.0 342.2 1054.5 343.3 1055.0 344.2 1055.5 346.6 1056.0 345.9 1056.5 344.3 1057.0 345.0 1057.5 345.3 1058.0 349.0 1058.5 343.7 1059.0 345.8 1059.5 346.4 1060.0 343.0 1060.5 345.3 1061.0 345.2 1061.5 344.0 1062.0 346.0 1062.5 346.9 1063.0 347.1 1063.5 344.5 1064.0 345.3 1064.5 349.6 1065.0 342.7 1065.5 345.3 1066.0 346.7 1066.5 345.2 1067.0 346.2 1067.5 345.2 1068.0 346.4 1068.5 347.4 1069.0 344.5 1069.5 345.3 1070.0 344.8 1070.5 344.1 1071.0 344.8 1071.5 342.6 1072.0 346.4 1072.5 348.3 1073.0 348.3 1073.5 347.4 1074.0 343.0 1074.5 347.9 1075.0 343.5 1075.5 344.8 1076.0 348.5 1076.5 342.7 1077.0 346.5 1077.5 345.4 1078.0 344.6 1078.5 343.1 1079.0 345.7 1079.5 343.9 1080.0 346.9 1080.5 347.3 1081.0 342.1 1081.5 343.8 1082.0 344.2 1082.5 342.5 1083.0 342.6 1083.5 345.0 1084.0 344.4 1084.5 341.5 1085.0 343.7 1085.5 345.8 1086.0 342.4 1086.5 343.0 1087.0 347.9 1087.5 347.4 1088.0 341.5 1088.5 342.1 1089.0 345.5 1089.5 342.4 1090.0 344.2 1090.5 343.8 1091.0 345.8 1091.5 339.7 1092.0 340.3 1092.5 342.2 1093.0 346.7 1093.5 344.3 1094.0 341.3 1094.5 345.6 1095.0 346.0 1095.5 344.1 1096.0 343.9 1096.5 345.4 1097.0 346.9 1097.5 344.8 1098.0 345.5 1098.5 344.4 1099.0 343.7 1099.5 342.6 1100.0 344.9 1100.5 343.7 1101.0 343.8 1101.5 346.1 1102.0 345.2 1102.5 345.9 1103.0 341.0 1103.5 345.1 1104.0 342.8 1104.5 342.3 1105.0 342.1 1105.5 346.1 1106.0 345.3 1106.5 342.1 1107.0 341.1 1107.5 343.3 1108.0 342.2 1108.5 346.2 1109.0 339.8 1109.5 338.8 1110.0 341.6 1110.5 341.8 1111.0 341.6 1111.5 342.3 1112.0 344.3 1112.5 338.8 1113.0 337.4 1113.5 333.9 1114.0 336.4 1114.5 335.5 1115.0 331.3 1115.5 330.2 1116.0 325.1 1116.5 322.1 1117.0 317.0 1117.5 313.0 1118.0 312.3 1118.5 312.8 1119.0 316.0 1119.5 321.3 1120.0 326.1 1120.5 331.3 1121.0 331.9 1121.5 333.9 1122.0 334.0 1122.5 339.7 1123.0 339.7 1123.5 338.8 1124.0 342.1 1124.5 342.5 1125.0 338.3 1125.5 343.9 1126.0 343.1 1126.5 342.4 1127.0 342.6 1127.5 347.2 1128.0 347.0 1128.5 347.8 1129.0 342.1 1129.5 343.2 1130.0 346.5 1130.5 342.4 1131.0 343.5 1131.5 341.5 1132.0 348.8 1132.5 347.4 1133.0 346.3 1133.5 345.9 1134.0 344.7 1134.5 344.9 1135.0 346.9 1135.5 344.4 1136.0 348.3 1136.5 345.0 1137.0 344.3 1137.5 348.7 1138.0 345.9 1138.5 347.3 1139.0 345.5 1139.5 341.9 1140.0 347.5 1140.5 343.8 1141.0 348.7 1141.5 343.5 1142.0 343.0 1142.5 347.3 1143.0 347.6 1143.5 347.0 1144.0 344.5 1144.5 348.7 1145.0 344.1 1145.5 346.1 1146.0 345.5 1146.5 346.4 1147.0 348.9 1147.5 346.0 1148.0 348.4 1148.5 348.7 1149.0 344.0 1149.5 345.2 1150.0 346.8 1150.5 346.4 1151.0 348.2 1151.5 343.9 1152.0 349.2 1152.5 349.2 1153.0 347.5 1153.5 345.1 1154.0 347.9 1154.5 346.9 1155.0 349.1 1155.5 347.9 1156.0 349.6 1156.5 347.3 1157.0 351.1 1157.5 343.7 1158.0 346.3 1158.5 349.3 1159.0 345.4 1159.5 349.9 1160.0 346.1 1160.5 348.7 1161.0 346.7 1161.5 347.7 1162.0 349.0 1162.5 348.5 1163.0 348.0 1163.5 353.0 1164.0 348.8 1164.5 346.9 1165.0 350.7 1165.5 350.5 1166.0 351.4 1166.5 352.5 1167.0 347.2 1167.5 351.2 1168.0 351.4 1168.5 349.1 1169.0 349.7 1169.5 343.3 1170.0 348.1 1170.5 352.8 1171.0 345.8 1171.5 348.3 1172.0 349.9 1172.5 350.5 1173.0 352.7 1173.5 346.0 1174.0 349.6 1174.5 351.2 1175.0 347.0 1175.5 349.5 1176.0 353.3 1176.5 352.2 1177.0 350.7 1177.5 344.5 1178.0 349.4 1178.5 350.5 1179.0 349.1 1179.5 349.6 1180.0 355.9 1180.5 349.4 1181.0 347.9 1181.5 350.3 1182.0 349.2 1182.5 349.3 1183.0 349.7 1183.5 351.4 1184.0 350.4 1184.5 347.6 1185.0 349.7 1185.5 350.9 1186.0 349.0 1186.5 352.3 1187.0 351.5 1187.5 348.0 1188.0 350.6 1188.5 354.0 1189.0 353.1 1189.5 349.9 1190.0 351.8 1190.5 348.7 1191.0 347.2 1191.5 351.2 1192.0 350.6 1192.5 351.1 1193.0 350.1 1193.5 350.8 1194.0 349.1 1194.5 351.1 1195.0 351.8 1195.5 350.1 1196.0 351.8 1196.5 346.7 1197.0 348.6 1197.5 353.1 1198.0 353.7 1198.5 350.7 1199.0 350.0 1199.5 347.7 1200.0 351.0 1200.5 351.8 1201.0 347.4 1201.5 351.4 1202.0 351.3 1202.5 351.2 1203.0 348.1 1203.5 351.4 1204.0 347.4 1204.5 353.3 1205.0 350.6 1205.5 348.1 1206.0 353.0 1206.5 352.7 1207.0 349.1 1207.5 354.8 1208.0 348.4 1208.5 351.0 1209.0 352.8 1209.5 345.9 1210.0 352.4 1210.5 350.3 1211.0 350.4 1211.5 348.3 1212.0 351.1 1212.5 348.3 1213.0 348.6 1213.5 349.6 1214.0 348.1 1214.5 353.6 1215.0 347.9 1215.5 349.1 1216.0 349.9 1216.5 350.6 1217.0 352.1 1217.5 352.2 1218.0 350.0 1218.5 349.8 1219.0 350.7 1219.5 352.2 1220.0 352.0 1220.5 349.6 1221.0 346.6 1221.5 354.9 1222.0 352.5 1222.5 351.2 1223.0 351.3 1223.5 349.6 1224.0 348.7 1224.5 350.0 1225.0 350.3 1225.5 349.5 1226.0 347.8 1226.5 350.1 1227.0 351.9 1227.5 349.7 1228.0 350.8 1228.5 346.6 1229.0 350.3 1229.5 350.5 1230.0 348.3 1230.5 347.3 1231.0 351.6 1231.5 349.2 1232.0 351.7 1232.5 350.0 1233.0 352.0 1233.5 350.1 1234.0 347.8 1234.5 350.6 1235.0 350.2 1235.5 352.1 1236.0 349.9 1236.5 350.1 1237.0 352.5 1237.5 353.2 1238.0 352.4 1238.5 352.9 1239.0 351.8 1239.5 352.4 1240.0 352.6 1240.5 351.7 1241.0 351.0 1241.5 351.2 1242.0 355.6 1242.5 350.9 1243.0 350.4 1243.5 350.2 1244.0 350.8 1244.5 351.4 1245.0 348.7 1245.5 347.0 1246.0 351.5 1246.5 347.7 1247.0 351.4 1247.5 351.2 1248.0 353.2 1248.5 354.2 1249.0 351.7 1249.5 349.8 1250.0 348.6 1250.5 349.4 1251.0 351.0 1251.5 346.9 1252.0 351.1 1252.5 350.9 1253.0 352.2 1253.5 350.3 1254.0 351.2 1254.5 349.5 1255.0 350.0 1255.5 347.5 1256.0 351.2 1256.5 354.0 1257.0 351.3 1257.5 351.7 1258.0 349.0 1258.5 353.8 1259.0 349.5 1259.5 352.6 1260.0 351.2 1260.5 349.1 1261.0 353.0 1261.5 351.0 1262.0 351.3 1262.5 351.9 1263.0 350.9 1263.5 350.2 1264.0 351.9 1264.5 350.2 1265.0 351.1 1265.5 349.7 1266.0 348.0 1266.5 349.7 1267.0 350.0 1267.5 351.0 1268.0 353.3 1268.5 347.6 1269.0 351.2 1269.5 346.6 1270.0 348.9 1270.5 350.0 1271.0 346.5 1271.5 347.3 1272.0 351.3 1272.5 351.1 1273.0 350.8 1273.5 349.4 1274.0 355.3 1274.5 350.7 1275.0 349.3 1275.5 354.3 1276.0 352.2 1276.5 350.3 1277.0 353.4 1277.5 351.3 1278.0 352.3 1278.5 351.5 1279.0 349.0 1279.5 352.9 1280.0 351.3 1280.5 349.0 1281.0 349.5 1281.5 352.9 1282.0 350.3 1282.5 351.1 1283.0 352.3 1283.5 351.2 1284.0 348.0 1284.5 352.3 1285.0 352.8 1285.5 352.7 1286.0 354.2 1286.5 351.7 1287.0 352.5 1287.5 354.1 1288.0 350.4 1288.5 354.4 1289.0 354.4 1289.5 352.5 1290.0 354.6 1290.5 352.7 1291.0 349.2 1291.5 353.2 1292.0 351.6 1292.5 351.8 1293.0 351.3 1293.5 353.7 1294.0 352.1 1294.5 349.6 1295.0 352.0 1295.5 352.4 1296.0 349.6 1296.5 350.1 1297.0 350.2 1297.5 349.8 1298.0 351.7 1298.5 353.0 1299.0 354.7 1299.5 353.4 1300.0 353.0 1300.5 353.3 1301.0 353.6 1301.5 350.2 1302.0 352.4 1302.5 351.6 1303.0 350.7 1303.5 350.1 1304.0 350.0 1304.5 350.5 1305.0 348.5 1305.5 352.0 1306.0 350.9 1306.5 351.2 1307.0 351.7 1307.5 352.4 1308.0 349.8 1308.5 350.8 1309.0 347.8 1309.5 346.6 1310.0 347.1 1310.5 354.0 1311.0 347.4 1311.5 351.9 1312.0 353.9 1312.5 350.1 1313.0 354.2 1313.5 354.6 1314.0 352.9 1314.5 355.7 1315.0 352.2 1315.5 349.5 1316.0 352.0 1316.5 350.1 1317.0 348.4 1317.5 348.5 1318.0 355.6 1318.5 349.9 1319.0 351.0 1319.5 349.7 1320.0 351.3 1320.5 350.5 1321.0 350.2 1321.5 348.6 1322.0 348.2 1322.5 349.5 1323.0 351.6 1323.5 355.1 1324.0 353.1 1324.5 354.6 1325.0 352.0 1325.5 350.8 1326.0 348.4 1326.5 351.0 1327.0 346.8 1327.5 350.4 1328.0 354.3 1328.5 351.7 1329.0 353.3 1329.5 350.3 1330.0 348.3 1330.5 350.1 1331.0 350.2 1331.5 353.4 1332.0 354.9 1332.5 349.6 1333.0 350.3 1333.5 350.7 1334.0 350.3 1334.5 348.6 1335.0 351.2 1335.5 351.8 1336.0 351.8 1336.5 348.7 1337.0 350.8 1337.5 347.6 1338.0 352.9 1338.5 349.0 1339.0 350.5 1339.5 350.2 1340.0 349.9 1340.5 349.0 1341.0 347.5 1341.5 354.5 1342.0 351.6 1342.5 351.6 1343.0 355.2 1343.5 350.9 1344.0 352.1 1344.5 351.1 1345.0 353.4 1345.5 352.0 1346.0 351.7 1346.5 350.5 1347.0 351.6 1347.5 353.4 1348.0 346.9 1348.5 350.8 1349.0 350.2 1349.5 350.5 1350.0 347.1 1350.5 352.5 1351.0 349.4 1351.5 350.6 1352.0 350.1 1352.5 347.8 1353.0 350.2 1353.5 347.4 1354.0 349.2 1354.5 350.4 1355.0 351.0 1355.5 351.2 1356.0 350.8 1356.5 355.3 1357.0 351.9 1357.5 348.6 1358.0 349.8 1358.5 349.8 1359.0 350.7 1359.5 349.9 1360.0 349.4 1360.5 354.3 1361.0 351.1 1361.5 350.4 1362.0 350.6 1362.5 350.6 1363.0 353.8 1363.5 352.0 1364.0 353.3 1364.5 344.9 1365.0 351.7 1365.5 353.2 1366.0 355.0 1366.5 351.1 1367.0 347.7 1367.5 352.2 1368.0 349.9 1368.5 347.5 1369.0 349.8 1369.5 353.2 1370.0 353.4 1370.5 352.5 1371.0 349.0 1371.5 356.0 1372.0 348.8 1372.5 350.9 1373.0 348.2 1373.5 353.7 1374.0 352.0 1374.5 352.8 1375.0 351.3 1375.5 350.9 1376.0 351.4 1376.5 347.3 1377.0 353.0 1377.5 352.9 1378.0 350.3 1378.5 351.1 1379.0 351.7 1379.5 354.2 1380.0 351.9 1380.5 351.2 1381.0 350.1 1381.5 348.1 1382.0 349.9 1382.5 351.2 1383.0 350.6 1383.5 351.2 1384.0 352.6 1384.5 352.0 1385.0 351.6 1385.5 352.4 1386.0 351.5 1386.5 351.0 1387.0 352.0 1387.5 347.7 1388.0 353.6 1388.5 348.6 1389.0 352.8 1389.5 351.1 1390.0 353.3 1390.5 351.2 1391.0 349.3 1391.5 353.3 1392.0 351.5 1392.5 351.4 1393.0 351.3 1393.5 353.1 1394.0 352.8 1394.5 351.6 1395.0 348.1 1395.5 350.3 1396.0 351.4 1396.5 354.7 1397.0 351.9 1397.5 351.0 1398.0 353.5 1398.5 350.9 1399.0 351.1 1399.5 351.5 1400.0 348.2 1400.5 353.1 1401.0 352.0 1401.5 350.6 1402.0 348.9 1402.5 351.6 1403.0 354.0 1403.5 349.9 1404.0 349.1 1404.5 352.0 1405.0 348.0 1405.5 346.8 1406.0 350.3 1406.5 349.8 1407.0 350.7 1407.5 350.1 1408.0 351.9 1408.5 350.8 1409.0 350.0 1409.5 350.3 1410.0 352.5 1410.5 353.1 1411.0 353.0 1411.5 352.6 1412.0 344.7 1412.5 349.3 1413.0 350.6 1413.5 351.6 1414.0 348.0 1414.5 354.1 1415.0 351.9 1415.5 350.0 1416.0 351.6 1416.5 350.6 1417.0 349.8 1417.5 352.3 1418.0 350.4 1418.5 348.5 1419.0 350.0 1419.5 351.1 1420.0 349.1 1420.5 353.8 1421.0 349.1 1421.5 354.8 1422.0 353.1 1422.5 349.4 1423.0 351.6 1423.5 353.6 1424.0 350.9 1424.5 349.0 1425.0 351.5 1425.5 355.3 1426.0 348.4 1426.5 352.4 1427.0 351.4 1427.5 351.1 1428.0 350.6 1428.5 350.7 1429.0 353.4 1429.5 352.5 1430.0 349.4 1430.5 354.4 1431.0 348.8 1431.5 352.7 1432.0 351.7 1432.5 353.8 1433.0 352.1 1433.5 353.5 1434.0 351.3 1434.5 353.3 1435.0 352.1 1435.5 355.7 1436.0 350.0 1436.5 353.8 1437.0 352.3 1437.5 351.8 1438.0 350.3 1438.5 352.3 1439.0 348.5 1439.5 348.7 1440.0 352.8 1440.5 348.4 1441.0 354.3 1441.5 350.9 1442.0 352.0 1442.5 351.6 1443.0 352.3 1443.5 350.9 1444.0 350.8 1444.5 351.2 1445.0 353.6 1445.5 353.7 1446.0 354.0 1446.5 352.2 1447.0 351.1 1447.5 348.2 1448.0 352.8 1448.5 353.2 1449.0 350.8 1449.5 353.2 1450.0 354.1 1450.5 351.8 1451.0 353.7 1451.5 352.2 1452.0 348.2 1452.5 350.7 1453.0 350.8 1453.5 352.7 1454.0 349.9 1454.5 350.8 1455.0 349.8 1455.5 351.6 1456.0 351.8 1456.5 353.6 1457.0 353.3 1457.5 352.0 1458.0 352.2 1458.5 351.9 1459.0 352.0 1459.5 354.8 1460.0 346.8 1460.5 351.4 1461.0 352.4 1461.5 354.0 1462.0 349.6 1462.5 352.5 1463.0 353.5 1463.5 351.0 1464.0 348.1 1464.5 351.2 1465.0 349.5 1465.5 353.2 1466.0 350.2 1466.5 355.4 1467.0 352.2 1467.5 350.3 1468.0 351.0 1468.5 349.8 1469.0 352.7 1469.5 354.9 1470.0 351.6 1470.5 353.8 1471.0 350.2 1471.5 352.7 1472.0 356.6 1472.5 349.3 1473.0 354.5 1473.5 354.4 1474.0 348.4 1474.5 349.3 1475.0 350.2 1475.5 354.1 1476.0 351.3 1476.5 351.8 1477.0 353.6 1477.5 352.4 1478.0 352.6 1478.5 351.6 1479.0 354.5 1479.5 350.7 1480.0 355.6 1480.5 351.6 1481.0 350.7 1481.5 353.6 1482.0 353.2 1482.5 348.4 1483.0 352.8 1483.5 349.7 1484.0 350.7 1484.5 353.9 1485.0 350.7 1485.5 353.1 1486.0 351.6 1486.5 356.2 1487.0 352.2 1487.5 350.1 1488.0 350.2 1488.5 350.6 1489.0 352.7 1489.5 352.4 1490.0 354.4 1490.5 352.8 1491.0 352.7 1491.5 353.1 1492.0 352.2 1492.5 353.1 1493.0 354.1 1493.5 354.1 1494.0 351.5 1494.5 349.0 1495.0 350.9 1495.5 353.1 1496.0 347.6 1496.5 351.6 1497.0 353.5 1497.5 351.5 1498.0 350.4 1498.5 356.1 1499.0 355.3 1499.5 352.1 1500.0 355.2 1500.5 355.2 1501.0 350.4 1501.5 357.9 1502.0 350.8 1502.5 352.1 1503.0 350.5 1503.5 352.8 1504.0 350.1 1504.5 352.7 1505.0 354.8 1505.5 353.1 1506.0 352.2 1506.5 355.7 1507.0 350.9 1507.5 354.6 1508.0 352.1 1508.5 353.1 1509.0 352.8 1509.5 353.0 1510.0 352.6 1510.5 351.2 1511.0 351.6 1511.5 353.6 1512.0 352.5 1512.5 350.4 1513.0 351.4 1513.5 351.4 1514.0 352.7 1514.5 353.1 1515.0 353.0 1515.5 351.5 1516.0 352.8 1516.5 350.1 1517.0 347.1 1517.5 352.7 1518.0 349.5 1518.5 350.9 1519.0 350.4 1519.5 354.1 1520.0 350.4 1520.5 353.4 1521.0 351.9 1521.5 350.4 1522.0 349.7 1522.5 353.8 1523.0 353.6 1523.5 354.4 1524.0 356.5 1524.5 353.4 1525.0 353.4 1525.5 352.6 1526.0 353.1 1526.5 352.2 1527.0 351.1 1527.5 356.8 1528.0 349.2 1528.5 353.4 1529.0 353.8 1529.5 353.2 1530.0 351.0 1530.5 352.5 1531.0 352.0 1531.5 350.8 1532.0 352.8 1532.5 352.1 1533.0 351.8 1533.5 354.3 1534.0 350.8 1534.5 353.8 1535.0 351.7 1535.5 353.8 1536.0 353.1 1536.5 353.4 1537.0 351.0 1537.5 351.4 1538.0 351.3 1538.5 353.3 1539.0 354.5 1539.5 355.1 1540.0 352.0 1540.5 353.2 1541.0 349.8 1541.5 348.6 1542.0 351.3 1542.5 351.7 1543.0 350.0 1543.5 349.5 1544.0 354.1 1544.5 351.5 1545.0 349.7 1545.5 357.6 1546.0 353.4 1546.5 352.4 1547.0 354.4 1547.5 351.6 1548.0 356.2 1548.5 350.0 1549.0 350.5 1549.5 352.8 1550.0 351.6 1550.5 355.9 1551.0 349.9 1551.5 351.7 1552.0 353.6 1552.5 354.2 1553.0 355.1 1553.5 353.8 1554.0 357.5 1554.5 352.2 1555.0 353.5 1555.5 354.8 1556.0 352.5 1556.5 352.6 1557.0 352.2 1557.5 351.9 1558.0 350.9 1558.5 352.1 1559.0 350.1 1559.5 353.9 1560.0 350.0 1560.5 357.3 1561.0 356.5 1561.5 355.4 1562.0 352.8 1562.5 352.0 1563.0 355.6 1563.5 353.6 1564.0 354.3 1564.5 351.8 1565.0 355.3 1565.5 351.7 1566.0 353.4 1566.5 349.8 1567.0 352.0 1567.5 354.2 1568.0 352.4 1568.5 352.4 1569.0 354.8 1569.5 353.1 1570.0 355.7 1570.5 348.5 1571.0 354.4 1571.5 354.3 1572.0 350.2 1572.5 350.7 1573.0 355.0 1573.5 351.2 1574.0 352.1 1574.5 354.5 1575.0 352.7 1575.5 354.3 1576.0 351.6 1576.5 353.9 1577.0 355.5 1577.5 354.0 1578.0 349.0 1578.5 354.7 1579.0 353.5 1579.5 351.6 1580.0 356.1 1580.5 350.0 1581.0 357.1 1581.5 352.2 1582.0 356.5 1582.5 353.3 1583.0 350.8 1583.5 353.6 1584.0 354.1 1584.5 354.5 1585.0 355.5 1585.5 351.7 1586.0 354.4 1586.5 354.9 1587.0 352.9 1587.5 351.6 1588.0 351.6 1588.5 355.0 1589.0 355.1 1589.5 351.9 1590.0 350.9 1590.5 355.9 1591.0 350.4 1591.5 353.8 1592.0 351.9 1592.5 350.1 1593.0 353.8 1593.5 353.2 1594.0 356.4 1594.5 358.0 1595.0 353.2 1595.5 355.6 1596.0 355.6 1596.5 352.5 1597.0 351.9 1597.5 356.8 1598.0 352.9 1598.5 353.5 1599.0 353.0 1599.5 353.3 1600.0 352.4 1600.5 355.1 1601.0 356.1 1601.5 352.9 1602.0 350.9 1602.5 353.7 1603.0 350.7 1603.5 352.4 1604.0 356.1 1604.5 358.2 1605.0 354.4 1605.5 351.6 1606.0 355.2 1606.5 349.3 1607.0 352.3 1607.5 356.7 1608.0 355.2 1608.5 351.0 1609.0 350.4 1609.5 355.4 1610.0 353.6 1610.5 352.6 1611.0 354.5 1611.5 352.6 1612.0 349.9 1612.5 355.3 1613.0 352.5 1613.5 351.8 1614.0 351.1 1614.5 354.3 1615.0 352.2 1615.5 355.0 1616.0 353.3 1616.5 355.9 1617.0 353.0 1617.5 352.5 1618.0 349.9 1618.5 351.6 1619.0 355.2 1619.5 359.8 1620.0 351.4 1620.5 351.8 1621.0 354.5 1621.5 354.8 1622.0 352.5 1622.5 354.0 1623.0 350.7 1623.5 353.3 1624.0 355.6 1624.5 357.1 1625.0 353.5 1625.5 353.4 1626.0 354.8 1626.5 356.1 1627.0 354.9 1627.5 352.4 1628.0 354.6 1628.5 355.8 1629.0 352.5 1629.5 351.3 1630.0 354.9 1630.5 354.6 1631.0 355.8 1631.5 354.1 1632.0 352.7 1632.5 353.1 1633.0 351.9 1633.5 352.1 1634.0 352.9 1634.5 353.0 1635.0 356.2 1635.5 351.6 1636.0 353.9 1636.5 352.8 1637.0 356.9 1637.5 354.5 1638.0 353.3 1638.5 355.6 1639.0 354.1 1639.5 353.1 1640.0 357.0 1640.5 355.4 1641.0 357.4 1641.5 356.3 1642.0 355.6 1642.5 354.3 1643.0 351.9 1643.5 355.5 1644.0 354.2 1644.5 355.4 1645.0 354.1 1645.5 352.7 1646.0 352.1 1646.5 355.5 1647.0 356.6 1647.5 353.5 1648.0 355.0 1648.5 356.8 1649.0 352.5 1649.5 353.4 1650.0 351.9 1650.5 356.4 1651.0 354.6 1651.5 353.2 1652.0 350.9 1652.5 353.8 1653.0 356.1 1653.5 353.6 1654.0 353.3 1654.5 355.4 1655.0 351.7 1655.5 354.3 1656.0 355.3 1656.5 352.6 1657.0 352.5 1657.5 354.7 1658.0 354.0 1658.5 353.7 1659.0 354.6 1659.5 354.6 1660.0 352.4 1660.5 352.9 1661.0 355.1 1661.5 356.4 1662.0 356.8 1662.5 352.5 1663.0 356.3 1663.5 355.7 1664.0 354.1 1664.5 355.1 1665.0 355.8 1665.5 357.7 1666.0 352.1 1666.5 355.4 1667.0 353.9 1667.5 353.8 1668.0 356.4 1668.5 355.8 1669.0 352.2 1669.5 353.6 1670.0 354.6 1670.5 351.4 1671.0 355.9 1671.5 354.0 1672.0 354.5 1672.5 354.8 1673.0 357.7 1673.5 354.2 1674.0 353.4 1674.5 357.5 1675.0 353.1 1675.5 353.1 1676.0 351.4 1676.5 356.2 1677.0 354.6 1677.5 355.0 1678.0 354.3 1678.5 353.7 1679.0 352.4 1679.5 352.4 1680.0 354.8 1680.5 354.1 1681.0 357.0 1681.5 352.3 1682.0 352.8 1682.5 351.7 1683.0 356.3 1683.5 351.1 1684.0 355.0 1684.5 356.2 1685.0 353.0 1685.5 354.6 1686.0 348.9 1686.5 352.1 1687.0 349.5 1687.5 352.8 1688.0 352.2 1688.5 350.4 1689.0 353.4 1689.5 351.8 1690.0 349.6 1690.5 349.0 1691.0 346.3 1691.5 347.9 1692.0 351.2 1692.5 344.4 1693.0 345.0 1693.5 341.5 1694.0 342.7 1694.5 340.9 1695.0 339.2 1695.5 336.5 1696.0 340.1 1696.5 345.0 1697.0 343.8 1697.5 347.0 1698.0 346.2 1698.5 344.6 1699.0 350.1 1699.5 350.7 1700.0 349.6 1700.5 350.5 1701.0 352.2 1701.5 350.9 1702.0 353.0 1702.5 352.2 1703.0 348.2 1703.5 352.7 1704.0 352.0 1704.5 351.7 1705.0 354.3 1705.5 352.6 1706.0 354.7 1706.5 355.9 1707.0 354.1 1707.5 350.9 1708.0 352.5 1708.5 355.8 1709.0 353.6 1709.5 352.5 1710.0 354.0 1710.5 355.2 1711.0 354.8 1711.5 355.5 1712.0 352.7 1712.5 353.8 1713.0 353.9 1713.5 354.3 1714.0 350.3 1714.5 354.0 1715.0 351.8 1715.5 357.2 1716.0 357.5 1716.5 357.8 1717.0 356.1 1717.5 353.6 1718.0 356.4 1718.5 354.2 1719.0 355.8 1719.5 352.8 1720.0 353.5 1720.5 355.5 1721.0 358.1 1721.5 354.6 1722.0 359.1 1722.5 360.1 1723.0 352.2 1723.5 354.6 1724.0 352.8 1724.5 354.4 1725.0 353.7 1725.5 354.6 1726.0 356.6 1726.5 356.6 1727.0 355.3 1727.5 354.8 1728.0 355.0 1728.5 355.0 1729.0 355.9 1729.5 354.8 1730.0 355.8 1730.5 352.2 1731.0 356.4 1731.5 358.2 1732.0 355.2 1732.5 352.1 1733.0 357.5 1733.5 354.2 1734.0 349.0 1734.5 354.4 1735.0 356.0 1735.5 355.6 1736.0 357.3 1736.5 356.1 1737.0 355.1 1737.5 351.0 1738.0 352.7 1738.5 355.2 1739.0 356.2 1739.5 352.9 1740.0 353.7 1740.5 355.8 1741.0 351.2 1741.5 351.1 1742.0 354.5 1742.5 355.4 1743.0 354.0 1743.5 350.4 1744.0 355.0 1744.5 352.3 1745.0 356.2 1745.5 354.7 1746.0 355.5 1746.5 356.2 1747.0 353.9 1747.5 356.6 1748.0 357.4 1748.5 355.7 1749.0 357.6 1749.5 353.7 1750.0 356.8 1750.5 355.5 1751.0 353.1 1751.5 354.8 1752.0 354.0 1752.5 353.9 1753.0 355.2 1753.5 357.1 1754.0 354.4 1754.5 355.3 1755.0 352.1 1755.5 355.2 1756.0 357.3 1756.5 356.6 1757.0 356.0 1757.5 354.0 1758.0 353.1 1758.5 354.9 1759.0 352.4 1759.5 352.6 1760.0 356.9 1760.5 353.3 1761.0 358.6 1761.5 352.3 1762.0 355.9 1762.5 352.8 1763.0 355.4 1763.5 353.0 1764.0 355.1 1764.5 354.8 1765.0 354.2 1765.5 356.1 1766.0 358.0 1766.5 353.9 1767.0 356.8 1767.5 355.3 1768.0 355.0 1768.5 359.4 1769.0 350.8 1769.5 353.8 1770.0 351.5 1770.5 354.5 1771.0 354.7 1771.5 362.6 1772.0 355.8 1772.5 358.6 1773.0 357.7 1773.5 354.3 1774.0 356.1 1774.5 358.4 1775.0 355.5 1775.5 355.5 1776.0 356.1 1776.5 352.2 1777.0 353.5 1777.5 355.8 1778.0 356.2 1778.5 353.3 1779.0 354.5 1779.5 354.9 1780.0 354.8 1780.5 356.5 1781.0 355.4 1781.5 355.5 1782.0 352.4 1782.5 353.1 1783.0 355.8 1783.5 352.0 1784.0 355.7 1784.5 353.9 1785.0 353.6 1785.5 356.4 1786.0 353.8 1786.5 353.5 1787.0 353.8 1787.5 355.3 1788.0 360.6 1788.5 351.0 1789.0 355.1 1789.5 354.7 1790.0 357.0 1790.5 354.4 1791.0 350.3 1791.5 357.8 1792.0 353.0 1792.5 355.1 1793.0 352.5 1793.5 353.0 1794.0 354.2 1794.5 356.9 1795.0 356.8 1795.5 354.0 1796.0 356.2 1796.5 354.5 1797.0 355.4 1797.5 355.5 1798.0 356.4 1798.5 354.0 1799.0 354.9 1799.5 355.6 1800.0 355.4 1800.5 353.6 1801.0 358.6 1801.5 354.3 1802.0 356.7 1802.5 355.6 1803.0 357.6 1803.5 350.9 1804.0 359.2 1804.5 354.8 1805.0 352.8 1805.5 355.5 1806.0 359.6 1806.5 356.2 1807.0 352.8 1807.5 354.3 1808.0 357.8 1808.5 352.4 1809.0 354.8 1809.5 354.6 1810.0 359.5 1810.5 354.6 1811.0 357.8 1811.5 353.9 1812.0 353.6 1812.5 357.2 1813.0 356.4 1813.5 351.8 1814.0 356.5 1814.5 356.5 1815.0 354.0 1815.5 355.6 1816.0 355.7 1816.5 354.3 1817.0 354.1 1817.5 353.9 1818.0 354.7 1818.5 352.6 1819.0 355.1 1819.5 352.3 1820.0 355.4 1820.5 355.0 1821.0 353.2 1821.5 356.9 1822.0 359.0 1822.5 357.8 1823.0 352.5 1823.5 357.7 1824.0 355.6 1824.5 355.1 1825.0 354.0 1825.5 355.2 1826.0 357.9 1826.5 356.3 1827.0 354.4 1827.5 353.9 1828.0 354.4 1828.5 356.4 1829.0 358.9 1829.5 353.1 1830.0 355.2 1830.5 354.5 1831.0 353.7 1831.5 356.0 1832.0 356.3 1832.5 352.4 1833.0 353.2 1833.5 357.6 1834.0 355.8 1834.5 356.2 1835.0 354.2 1835.5 354.5 1836.0 356.1 1836.5 354.2 1837.0 353.0 1837.5 355.2 1838.0 357.0" fill="none" stroke="#0a99c9" stroke-width="7.0" stroke-linejoin="round"/>
<path d="M132.0 461.4 132.5 468.3 133.0 467.2 133.5 462.2 134.0 465.1 134.5 465.0 135.0 467.2 135.5 467.4 136.0 461.0 136.5 461.0 137.0 468.8 137.5 465.9 138.0 466.9 138.5 466.7 139.0 470.7 139.5 461.8 140.0 469.4 140.5 463.2 141.0 468.3 141.5 470.4 142.0 461.6 142.5 467.5 143.0 465.3 143.5 465.3 144.0 466.5 144.5 463.0 145.0 463.3 145.5 468.7 146.0 469.3 146.5 464.8 147.0 462.0 147.5 474.3 148.0 470.4 148.5 468.1 149.0 463.6 149.5 465.1 150.0 467.9 150.5 464.0 151.0 472.4 151.5 467.7 152.0 468.6 152.5 464.0 153.0 464.5 153.5 464.9 154.0 468.5 154.5 466.8 155.0 466.8 155.5 468.8 156.0 468.5 156.5 472.7 157.0 467.3 157.5 464.7 158.0 468.0 158.5 472.9 159.0 466.4 159.5 468.4 160.0 467.1 160.5 469.7 161.0 469.3 161.5 465.8 162.0 467.8 162.5 471.7 163.0 472.2 163.5 471.7 164.0 471.6 164.5 467.8 165.0 467.7 165.5 472.0 166.0 465.2 166.5 468.9 167.0 463.1 167.5 468.0 168.0 467.0 168.5 465.4 169.0 471.3 169.5 467.0 170.0 468.3 170.5 468.7 171.0 467.2 171.5 474.3 172.0 468.1 172.5 470.4 173.0 465.6 173.5 468.4 174.0 468.9 174.5 469.0 175.0 468.2 175.5 470.6 176.0 475.2 176.5 469.8 177.0 469.9 177.5 469.1 178.0 478.6 178.5 475.7 179.0 472.3 179.5 472.9 180.0 468.3 180.5 470.2 181.0 471.4 181.5 471.2 182.0 468.1 182.5 468.4 183.0 472.7 183.5 472.1 184.0 464.3 184.5 471.5 185.0 475.3 185.5 469.2 186.0 472.1 186.5 466.7 187.0 474.1 187.5 467.9 188.0 467.5 188.5 470.6 189.0 479.3 189.5 469.7 190.0 467.7 190.5 473.3 191.0 472.6 191.5 477.3 192.0 467.9 192.5 466.9 193.0 471.1 193.5 473.4 194.0 473.4 194.5 475.8 195.0 467.5 195.5 469.7 196.0 472.0 196.5 475.2 197.0 474.1 197.5 471.3 198.0 469.4 198.5 475.6 199.0 475.9 199.5 481.7 200.0 472.4 200.5 478.3 201.0 469.2 201.5 471.4 202.0 471.0 202.5 471.8 203.0 470.5 203.5 471.7 204.0 473.3 204.5 472.1 205.0 475.7 205.5 473.4 206.0 473.7 206.5 478.6 207.0 474.9 207.5 474.4 208.0 474.0 208.5 474.3 209.0 476.0 209.5 471.6 210.0 478.0 210.5 479.4 211.0 478.1 211.5 472.9 212.0 469.4 212.5 473.2 213.0 475.2 213.5 477.4 214.0 474.2 214.5 473.9 215.0 479.8 215.5 472.8 216.0 478.5 216.5 478.0 217.0 470.9 217.5 476.1 218.0 473.5 218.5 472.3 219.0 469.4 219.5 470.4 220.0 476.8 220.5 474.3 221.0 476.5 221.5 472.2 222.0 474.7 222.5 474.9 223.0 470.8 223.5 470.5 224.0 477.3 224.5 476.4 225.0 472.9 225.5 475.7 226.0 478.2 226.5 482.0 227.0 473.2 227.5 478.1 228.0 483.0 228.5 476.4 229.0 481.0 229.5 467.9 230.0 481.0 230.5 476.3 231.0 470.2 231.5 478.9 232.0 479.7 232.5 480.3 233.0 480.3 233.5 476.3 234.0 474.0 234.5 474.9 235.0 476.3 235.5 477.7 236.0 474.8 236.5 476.6 237.0 479.2 237.5 477.5 238.0 483.8 238.5 483.4 239.0 472.7 239.5 474.6 240.0 472.2 240.5 472.6 241.0 478.2 241.5 473.2 242.0 473.0 242.5 475.5 243.0 479.0 243.5 475.2 244.0 475.2 244.5 479.3 245.0 477.9 245.5 477.8 246.0 479.4 246.5 473.0 247.0 477.0 247.5 474.3 248.0 479.6 248.5 478.9 249.0 472.9 249.5 480.6 250.0 472.5 250.5 480.0 251.0 476.9 251.5 473.4 252.0 472.6 252.5 475.2 253.0 476.1 253.5 473.9 254.0 478.0 254.5 471.6 255.0 476.1 255.5 476.1 256.0 470.1 256.5 477.1 257.0 472.0 257.5 468.0 258.0 474.1 258.5 475.3 259.0 479.0 259.5 474.5 260.0 480.8 260.5 480.7 261.0 479.5 261.5 480.3 262.0 477.1 262.5 474.1 263.0 478.0 263.5 479.0 264.0 476.7 264.5 475.1 265.0 470.8 265.5 478.0 266.0 477.0 266.5 471.6 267.0 476.1 267.5 478.1 268.0 475.4 268.5 478.3 269.0 478.1 269.5 470.9 270.0 474.7 270.5 477.2 271.0 478.6 271.5 480.2 272.0 469.3 272.5 475.3 273.0 477.9 273.5 479.5 274.0 481.0 274.5 472.4 275.0 474.2 275.5 472.0 276.0 478.0 276.5 471.0 277.0 479.2 277.5 478.4 278.0 476.9 278.5 468.2 279.0 473.0 279.5 477.6 280.0 470.5 280.5 474.3 281.0 474.7 281.5 477.8 282.0 475.8 282.5 475.7 283.0 473.3 283.5 474.6 284.0 474.1 284.5 476.8 285.0 473.8 285.5 477.6 286.0 468.6 286.5 478.0 287.0 473.4 287.5 477.5 288.0 474.0 288.5 476.4 289.0 478.4 289.5 471.6 290.0 473.5 290.5 472.6 291.0 473.7 291.5 467.6 292.0 472.2 292.5 471.8 293.0 470.0 293.5 471.8 294.0 467.2 294.5 476.7 295.0 473.5 295.5 478.1 296.0 468.9 296.5 467.9 297.0 472.5 297.5 466.0 298.0 472.1 298.5 468.9 299.0 470.0 299.5 471.8 300.0 471.0 300.5 476.9 301.0 472.7 301.5 466.4 302.0 473.7 302.5 466.0 303.0 470.6 303.5 466.1 304.0 467.4 304.5 474.3 305.0 468.1 305.5 467.7 306.0 467.8 306.5 468.5 307.0 474.2 307.5 465.5 308.0 465.2 308.5 471.0 309.0 463.9 309.5 467.8 310.0 472.5 310.5 468.8 311.0 467.1 311.5 466.2 312.0 465.5 312.5 466.4 313.0 468.7 313.5 472.2 314.0 471.2 314.5 466.1 315.0 465.4 315.5 470.0 316.0 461.7 316.5 466.1 317.0 466.4 317.5 463.7 318.0 464.0 318.5 468.2 319.0 461.6 319.5 463.9 320.0 464.7 320.5 466.9 321.0 462.1 321.5 470.0 322.0 465.4 322.5 465.4 323.0 465.0 323.5 463.8 324.0 462.7 324.5 469.6 325.0 466.4 325.5 465.2 326.0 468.7 326.5 463.1 327.0 467.3 327.5 465.2 328.0 462.2 328.5 467.4 329.0 460.0 329.5 466.8 330.0 461.7 330.5 465.8 331.0 468.9 331.5 466.1 332.0 462.2 332.5 463.9 333.0 462.7 333.5 460.0 334.0 460.1 334.5 463.7 335.0 465.2 335.5 457.6 336.0 463.0 336.5 464.7 337.0 463.3 337.5 459.6 338.0 466.1 338.5 458.6 339.0 464.6 339.5 467.5 340.0 455.6 340.5 462.9 341.0 463.0 341.5 462.6 342.0 459.2 342.5 460.6 343.0 456.9 343.5 461.8 344.0 462.9 344.5 458.9 345.0 457.9 345.5 459.2 346.0 460.6 346.5 460.7 347.0 460.0 347.5 460.4 348.0 455.8 348.5 451.1 349.0 461.7 349.5 464.2 350.0 454.9 350.5 457.1 351.0 460.1 351.5 462.1 352.0 460.9 352.5 462.8 353.0 458.4 353.5 459.7 354.0 459.6 354.5 456.7 355.0 461.8 355.5 459.8 356.0 460.8 356.5 456.2 357.0 460.6 357.5 453.7 358.0 458.3 358.5 448.4 359.0 453.4 359.5 458.9 360.0 455.0 360.5 456.8 361.0 450.9 361.5 461.0 362.0 457.8 362.5 455.6 363.0 456.9 363.5 456.5 364.0 459.9 364.5 455.9 365.0 450.3 365.5 454.1 366.0 458.9 366.5 456.5 367.0 453.2 367.5 456.4 368.0 454.6 368.5 456.1 369.0 448.9 369.5 451.0 370.0 455.9 370.5 452.9 371.0 454.7 371.5 459.7 372.0 452.3 372.5 453.9 373.0 451.2 373.5 450.9 374.0 452.5 374.5 448.0 375.0 445.7 375.5 456.8 376.0 452.0 376.5 455.8 377.0 452.4 377.5 452.4 378.0 454.0 378.5 454.0 379.0 447.7 379.5 455.3 380.0 448.2 380.5 451.8 381.0 459.3 381.5 451.2 382.0 456.2 382.5 449.5 383.0 452.5 383.5 450.6 384.0 451.6 384.5 447.4 385.0 447.0 385.5 451.0 386.0 444.7 386.5 446.9 387.0 451.5 387.5 447.3 388.0 446.3 388.5 445.5 389.0 449.4 389.5 447.6 390.0 449.1 390.5 447.9 391.0 454.3 391.5 446.8 392.0 441.8 392.5 448.3 393.0 447.8 393.5 448.1 394.0 442.3 394.5 451.0 395.0 447.1 395.5 446.9 396.0 441.8 396.5 448.3 397.0 446.4 397.5 450.8 398.0 445.0 398.5 442.2 399.0 446.5 399.5 443.0 400.0 447.1 400.5 442.2 401.0 445.1 401.5 444.7 402.0 445.2 402.5 443.5 403.0 442.4 403.5 444.7 404.0 442.9 404.5 445.1 405.0 443.6 405.5 437.2 406.0 444.1 406.5 448.6 407.0 445.0 407.5 445.8 408.0 445.2 408.5 442.1 409.0 439.2 409.5 445.9 410.0 446.5 410.5 444.8 411.0 444.2 411.5 444.0 412.0 442.5 412.5 443.3 413.0 442.3 413.5 443.1 414.0 438.9 414.5 439.8 415.0 443.5 415.5 440.4 416.0 433.7 416.5 441.7 417.0 433.8 417.5 447.1 418.0 443.2 418.5 442.9 419.0 438.5 419.5 436.9 420.0 439.8 420.5 440.4 421.0 437.8 421.5 440.6 422.0 442.2 422.5 441.9 423.0 436.6 423.5 433.0 424.0 439.8 424.5 437.7 425.0 441.2 425.5 444.9 426.0 444.9 426.5 440.6 427.0 443.2 427.5 444.9 428.0 439.8 428.5 440.6 429.0 442.4 429.5 439.6 430.0 438.1 430.5 437.4 431.0 439.8 431.5 437.8 432.0 442.3 432.5 438.7 433.0 444.4 433.5 443.6 434.0 435.9 434.5 443.2 435.0 438.5 435.5 444.2 436.0 441.5 436.5 439.7 437.0 442.0 437.5 438.1 438.0 440.9 438.5 441.1 439.0 439.5 439.5 441.2 440.0 436.8 440.5 441.7 441.0 436.2 441.5 442.0 442.0 441.5 442.5 442.3 443.0 438.3 443.5 449.6 444.0 439.4 444.5 440.6 445.0 437.8 445.5 444.7 446.0 438.7 446.5 443.4 447.0 437.3 447.5 441.3 448.0 439.1 448.5 443.3 449.0 439.5 449.5 437.7 450.0 441.9 450.5 436.8 451.0 437.7 451.5 443.2 452.0 435.0 452.5 443.3 453.0 439.8 453.5 438.3 454.0 442.1 454.5 443.4 455.0 439.8 455.5 441.2 456.0 444.4 456.5 444.4 457.0 442.0 457.5 439.9 458.0 439.6 458.5 440.8 459.0 445.0 459.5 444.8 460.0 444.1 460.5 447.7 461.0 442.6 461.5 442.6 462.0 442.7 462.5 450.1 463.0 437.9 463.5 445.4 464.0 446.0 464.5 445.0 465.0 452.3 465.5 448.8 466.0 447.8 466.5 442.7 467.0 447.3 467.5 444.7 468.0 446.2 468.5 446.8 469.0 444.9 469.5 448.5 470.0 451.8 470.5 450.1 471.0 447.7 471.5 441.2 472.0 450.7 472.5 450.9 473.0 447.1 473.5 446.4 474.0 450.1 474.5 445.7 475.0 450.8 475.5 445.2 476.0 445.8 476.5 448.9 477.0 444.5 477.5 449.2 478.0 451.0 478.5 445.5 479.0 452.6 479.5 448.2 480.0 451.8 480.5 450.9 481.0 449.0 481.5 449.0 482.0 445.5 482.5 448.8 483.0 448.8 483.5 456.5 484.0 454.7 484.5 447.5 485.0 454.4 485.5 452.8 486.0 451.1 486.5 453.9 487.0 455.1 487.5 451.1 488.0 452.2 488.5 453.7 489.0 450.4 489.5 454.2 490.0 453.5 490.5 451.9 491.0 451.6 491.5 455.3 492.0 457.2 492.5 455.8 493.0 452.3 493.5 457.4 494.0 455.9 494.5 457.4 495.0 459.3 495.5 453.1 496.0 455.7 496.5 454.5 497.0 453.8 497.5 462.9 498.0 459.9 498.5 451.7 499.0 458.7 499.5 455.9 500.0 461.3 500.5 458.2 501.0 457.7 501.5 458.8 502.0 459.8 502.5 458.9 503.0 458.3 503.5 458.8 504.0 461.0 504.5 456.2 505.0 459.8 505.5 459.7 506.0 458.7 506.5 462.7 507.0 456.7 507.5 459.7 508.0 458.4 508.5 462.9 509.0 460.0 509.5 461.8 510.0 463.0 510.5 457.1 511.0 463.6 511.5 460.1 512.0 461.8 512.5 462.4 513.0 465.4 513.5 465.4 514.0 468.8 514.5 464.1 515.0 462.2 515.5 462.3 516.0 466.1 516.5 469.2 517.0 465.5 517.5 462.8 518.0 465.6 518.5 465.8 519.0 465.3 519.5 463.1 520.0 457.7 520.5 464.1 521.0 469.1 521.5 466.7 522.0 459.4 522.5 466.4 523.0 460.9 523.5 472.9 524.0 467.5 524.5 463.4 525.0 469.8 525.5 465.1 526.0 469.4 526.5 467.9 527.0 464.4 527.5 470.2 528.0 464.2 528.5 472.6 529.0 468.8 529.5 465.6 530.0 463.4 530.5 474.1 531.0 473.8 531.5 465.6 532.0 474.7 532.5 470.3 533.0 469.2 533.5 469.8 534.0 469.4 534.5 474.8 535.0 471.0 535.5 465.0 536.0 477.2 536.5 473.7 537.0 467.7 537.5 470.1 538.0 468.6 538.5 471.7 539.0 472.9 539.5 472.5 540.0 470.1 540.5 469.6 541.0 474.8 541.5 472.0 542.0 479.4 542.5 470.1 543.0 475.2 543.5 473.0 544.0 470.7 544.5 477.3 545.0 473.7 545.5 470.6 546.0 472.5 546.5 476.8 547.0 470.0 547.5 478.2 548.0 476.2 548.5 473.3 549.0 478.5 549.5 479.8 550.0 476.4 550.5 475.2 551.0 480.5 551.5 479.5 552.0 472.2 552.5 474.5 553.0 474.6 553.5 474.2 554.0 470.9 554.5 478.4 555.0 476.0 555.5 476.2 556.0 480.4 556.5 474.4 557.0 476.1 557.5 477.2 558.0 475.1 558.5 476.2 559.0 479.1 559.5 476.8 560.0 481.0 560.5 474.7 561.0 477.8 561.5 472.8 562.0 477.0 562.5 475.3 563.0 481.8 563.5 480.0 564.0 479.4 564.5 483.6 565.0 482.5 565.5 480.4 566.0 476.1 566.5 473.9 567.0 478.4 567.5 477.5 568.0 476.7 568.5 477.9 569.0 473.8 569.5 483.6 570.0 475.6 570.5 477.1 571.0 481.1 571.5 474.4 572.0 482.4 572.5 482.6 573.0 478.8 573.5 476.5 574.0 478.5 574.5 474.4 575.0 484.5 575.5 480.5 576.0 478.2 576.5 477.7 577.0 482.5 577.5 485.5 578.0 476.9 578.5 479.2 579.0 475.7 579.5 483.4 580.0 481.9 580.5 488.5 581.0 481.2 581.5 480.4 582.0 479.6 582.5 484.6 583.0 477.0 583.5 484.5 584.0 483.1 584.5 480.9 585.0 479.7 585.5 486.0 586.0 488.6 586.5 481.5 587.0 484.7 587.5 488.6 588.0 481.3 588.5 482.6 589.0 479.7 589.5 483.1 590.0 483.4 590.5 482.5 591.0 481.6 591.5 479.1 592.0 479.9 592.5 481.2 593.0 486.4 593.5 482.9 594.0 481.9 594.5 486.7 595.0 486.6 595.5 482.5 596.0 483.0 596.5 487.2 597.0 486.4 597.5 482.7 598.0 486.2 598.5 485.4 599.0 489.1 599.5 483.0 600.0 488.6 600.5 487.3 601.0 482.9 601.5 489.5 602.0 489.1 602.5 482.2 603.0 492.7 603.5 483.0 604.0 483.8 604.5 485.8 605.0 489.3 605.5 488.8 606.0 486.8 606.5 491.4 607.0 488.5 607.5 491.7 608.0 496.3 608.5 488.2 609.0 479.6 609.5 486.3 610.0 484.5 610.5 488.2 611.0 488.3 611.5 484.3 612.0 484.6 612.5 487.5 613.0 487.8 613.5 480.3 614.0 491.6 614.5 488.8 615.0 488.7 615.5 489.8 616.0 485.7 616.5 488.8 617.0 492.3 617.5 492.5 618.0 490.7 618.5 488.4 619.0 486.8 619.5 493.6 620.0 491.2 620.5 488.3 621.0 482.9 621.5 487.1 622.0 483.8 622.5 493.8 623.0 490.6 623.5 487.8 624.0 489.3 624.5 498.4 625.0 494.1 625.5 486.2 626.0 490.0 626.5 486.7 627.0 485.2 627.5 491.2 628.0 498.3 628.5 495.7 629.0 491.0 629.5 489.8 630.0 491.6 630.5 494.3 631.0 486.6 631.5 485.3 632.0 497.2 632.5 492.2 633.0 496.4 633.5 492.2 634.0 496.2 634.5 489.7 635.0 493.2 635.5 496.6 636.0 495.0 636.5 490.4 637.0 494.7 637.5 489.9 638.0 487.6 638.5 493.8 639.0 496.6 639.5 494.9 640.0 488.4 640.5 495.1 641.0 494.6 641.5 491.1 642.0 484.8 642.5 495.8 643.0 495.5 643.5 494.3 644.0 487.4 644.5 488.2 645.0 496.1 645.5 495.5 646.0 494.6 646.5 492.3 647.0 494.4 647.5 491.5 648.0 492.3 648.5 490.7 649.0 494.2 649.5 492.2 650.0 496.5 650.5 495.8 651.0 491.1 651.5 499.4 652.0 490.3 652.5 495.2 653.0 497.3 653.5 497.9 654.0 487.1 654.5 497.2 655.0 497.9 655.5 498.6 656.0 487.3 656.5 492.2 657.0 494.0 657.5 493.0 658.0 498.6 658.5 492.4 659.0 498.4 659.5 496.4 660.0 490.2 660.5 491.7 661.0 493.3 661.5 495.2 662.0 498.0 662.5 494.4 663.0 497.8 663.5 490.2 664.0 485.7 664.5 494.2 665.0 496.7 665.5 494.2 666.0 492.2 666.5 496.7 667.0 501.4 667.5 495.2 668.0 493.4 668.5 493.0 669.0 501.7 669.5 495.6 670.0 497.7 670.5 499.6 671.0 499.2 671.5 493.2 672.0 499.0 672.5 498.7 673.0 497.7 673.5 499.3 674.0 494.6 674.5 496.1 675.0 494.8 675.5 498.8 676.0 494.5 676.5 497.8 677.0 493.3 677.5 496.3 678.0 495.7 678.5 496.5 679.0 497.3 679.5 496.4 680.0 496.3 680.5 490.8 681.0 500.5 681.5 495.3 682.0 496.5 682.5 494.8 683.0 500.4 683.5 494.7 684.0 499.0 684.5 501.1 685.0 502.6 685.5 501.3 686.0 499.6 686.5 494.2 687.0 501.7 687.5 501.5 688.0 500.5 688.5 500.5 689.0 498.3 689.5 496.6 690.0 501.5 690.5 502.1 691.0 495.3 691.5 501.2 692.0 499.2 692.5 501.2 693.0 499.4 693.5 502.0 694.0 501.8 694.5 501.5 695.0 494.8 695.5 501.4 696.0 499.2 696.5 495.7 697.0 501.2 697.5 495.2 698.0 501.9 698.5 504.4 699.0 497.9 699.5 502.2 700.0 500.9 700.5 501.5 701.0 495.7 701.5 501.5 702.0 500.2 702.5 502.1 703.0 500.0 703.5 503.2 704.0 500.9 704.5 502.2 705.0 504.3 705.5 500.8 706.0 503.3 706.5 501.1 707.0 502.1 707.5 499.1 708.0 502.9 708.5 504.3 709.0 500.6 709.5 503.2 710.0 502.2 710.5 497.9 711.0 502.2 711.5 505.0 712.0 499.9 712.5 496.2 713.0 502.0 713.5 499.7 714.0 507.1 714.5 501.5 715.0 501.7 715.5 500.0 716.0 502.6 716.5 500.3 717.0 499.4 717.5 501.9 718.0 499.8 718.5 506.0 719.0 499.0 719.5 502.2 720.0 500.5 720.5 498.6 721.0 507.3 721.5 496.7 722.0 506.9 722.5 498.8 723.0 503.1 723.5 509.4 724.0 496.9 724.5 499.2 725.0 506.8 725.5 503.7 726.0 501.7 726.5 503.2 727.0 500.6 727.5 503.8 728.0 507.7 728.5 502.4 729.0 504.0 729.5 507.0 730.0 509.3 730.5 502.1 731.0 504.6 731.5 502.3 732.0 502.1 732.5 502.8 733.0 502.2 733.5 499.2 734.0 498.5 734.5 502.1 735.0 504.5 735.5 507.6 736.0 502.8 736.5 503.8 737.0 506.2 737.5 506.5 738.0 504.1 738.5 504.3 739.0 509.7 739.5 503.6 740.0 503.3 740.5 500.1 741.0 505.9 741.5 504.0 742.0 510.1 742.5 503.9 743.0 507.1 743.5 507.5 744.0 509.5 744.5 501.4 745.0 509.3 745.5 505.1 746.0 504.8 746.5 504.3 747.0 504.1 747.5 504.3 748.0 498.8 748.5 506.7 749.0 505.5 749.5 502.7 750.0 505.2 750.5 511.7 751.0 506.5 751.5 504.4 752.0 510.2 752.5 503.4 753.0 505.2 753.5 504.1 754.0 505.0 754.5 507.7 755.0 507.3 755.5 503.8 756.0 505.5 756.5 506.1 757.0 504.8 757.5 505.8 758.0 504.0 758.5 504.0 759.0 506.1 759.5 503.3 760.0 507.2 760.5 505.6 761.0 503.7 761.5 504.5 762.0 504.9 762.5 505.8 763.0 506.6 763.5 505.8 764.0 504.0 764.5 510.2 765.0 508.8 765.5 506.7 766.0 509.0 766.5 507.4 767.0 505.9 767.5 506.8 768.0 513.7 768.5 509.3 769.0 509.5 769.5 505.7 770.0 508.4 770.5 512.8 771.0 508.0 771.5 509.7 772.0 510.2 772.5 508.6 773.0 511.1 773.5 507.6 774.0 508.3 774.5 505.4 775.0 514.1 775.5 507.9 776.0 507.5 776.5 510.9 777.0 506.0 777.5 507.3 778.0 505.3 778.5 507.4 779.0 506.4 779.5 508.8 780.0 507.1 780.5 505.9 781.0 506.8 781.5 507.3 782.0 506.3 782.5 510.1 783.0 509.4 783.5 508.1 784.0 504.7 784.5 509.1 785.0 504.5 785.5 508.4 786.0 508.0 786.5 506.4 787.0 505.8 787.5 506.2 788.0 513.4 788.5 507.4 789.0 507.6 789.5 510.7 790.0 509.3 790.5 511.0 791.0 505.2 791.5 505.6 792.0 517.0 792.5 508.4 793.0 507.8 793.5 509.0 794.0 511.2 794.5 505.6 795.0 509.4 795.5 508.7 796.0 510.5 796.5 509.3 797.0 507.5 797.5 506.7 798.0 502.8 798.5 511.5 799.0 505.3 799.5 508.1 800.0 513.4 800.5 508.2 801.0 510.8 801.5 508.8 802.0 511.1 802.5 509.5 803.0 508.2 803.5 512.9 804.0 508.9 804.5 506.2 805.0 508.8 805.5 511.0 806.0 506.9 806.5 511.8 807.0 511.8 807.5 515.2 808.0 508.3 808.5 511.6 809.0 505.8 809.5 509.0 810.0 510.4 810.5 511.2 811.0 510.1 811.5 510.0 812.0 508.8 812.5 509.2 813.0 511.1 813.5 511.8 814.0 512.1 814.5 513.0 815.0 513.5 815.5 506.1 816.0 509.4 816.5 510.3 817.0 509.1 817.5 513.4 818.0 512.7 818.5 510.6 819.0 511.2 819.5 514.1 820.0 510.1 820.5 510.2 821.0 513.3 821.5 512.3 822.0 514.6 822.5 512.1 823.0 513.1 823.5 509.9 824.0 509.0 824.5 511.3 825.0 504.9 825.5 512.4 826.0 513.8 826.5 511.7 827.0 511.0 827.5 514.2 828.0 511.5 828.5 514.0 829.0 517.0 829.5 513.4 830.0 514.0 830.5 512.9 831.0 512.4 831.5 512.5 832.0 512.0 832.5 514.5 833.0 508.0 833.5 511.2 834.0 513.5 834.5 509.9 835.0 511.7 835.5 510.3 836.0 513.1 836.5 514.1 837.0 515.6 837.5 513.3 838.0 510.4 838.5 512.7 839.0 513.5 839.5 515.5 840.0 507.0 840.5 513.1 841.0 507.8 841.5 514.0 842.0 513.3 842.5 513.5 843.0 514.4 843.5 513.2 844.0 510.8 844.5 513.2 845.0 515.2 845.5 512.1 846.0 512.5 846.5 509.6 847.0 515.2 847.5 511.3 848.0 510.7 848.5 511.5 849.0 510.5 849.5 512.0 850.0 515.6 850.5 514.5 851.0 516.0 851.5 516.1 852.0 510.5 852.5 513.8 853.0 516.2 853.5 518.1 854.0 509.4 854.5 509.4 855.0 513.9 855.5 512.0 856.0 510.5 856.5 513.7 857.0 511.0 857.5 507.6 858.0 512.8 858.5 513.2 859.0 514.4 859.5 515.1 860.0 513.4 860.5 512.4 861.0 511.4 861.5 509.2 862.0 512.0 862.5 515.3 863.0 514.5 863.5 517.8 864.0 512.7 864.5 508.9 865.0 515.0 865.5 515.5 866.0 510.4 866.5 509.4 867.0 513.5 867.5 514.8 868.0 510.6 868.5 512.4 869.0 511.4 869.5 510.5 870.0 510.2 870.5 513.5 871.0 512.4 871.5 511.7 872.0 507.3 872.5 517.3 873.0 511.1 873.5 513.0 874.0 510.7 874.5 514.2 875.0 509.9 875.5 513.5 876.0 512.9 876.5 515.4 877.0 510.8 877.5 511.9 878.0 512.8 878.5 518.1 879.0 510.0 879.5 514.0 880.0 511.9 880.5 514.1 881.0 514.9 881.5 513.7 882.0 514.0 882.5 514.0 883.0 512.1 883.5 512.9 884.0 509.7 884.5 512.6 885.0 511.7 885.5 512.8 886.0 515.1 886.5 514.3 887.0 514.5 887.5 515.9 888.0 508.1 888.5 514.4 889.0 513.3 889.5 513.2 890.0 510.5 890.5 514.6 891.0 515.9 891.5 515.7 892.0 513.2 892.5 514.8 893.0 515.4 893.5 517.4 894.0 516.1 894.5 513.6 895.0 513.5 895.5 513.7 896.0 513.8 896.5 512.2 897.0 515.0 897.5 511.7 898.0 511.5 898.5 514.0 899.0 512.0 899.5 512.7 900.0 508.6 900.5 515.0 901.0 513.2 901.5 512.9 902.0 514.2 902.5 513.6 903.0 511.6 903.5 517.5 904.0 512.1 904.5 515.2 905.0 517.1 905.5 511.7 906.0 513.2 906.5 511.2 907.0 515.3 907.5 512.3 908.0 510.6 908.5 515.8 909.0 514.9 909.5 511.0 910.0 515.5 910.5 513.3 911.0 518.8 911.5 516.6 912.0 511.6 912.5 512.2 913.0 510.9 913.5 513.0 914.0 512.8 914.5 514.3 915.0 512.9 915.5 509.5 916.0 510.9 916.5 515.6 917.0 515.1 917.5 512.2 918.0 512.2 918.5 512.1 919.0 512.5 919.5 508.8 920.0 514.3 920.5 510.9 921.0 512.6 921.5 506.9 922.0 512.7 922.5 515.0 923.0 507.3 923.5 515.3 924.0 513.0 924.5 510.4 925.0 508.5 925.5 514.3 926.0 512.3 926.5 512.9 927.0 511.0 927.5 509.8 928.0 513.2 928.5 509.2 929.0 513.0 929.5 507.5 930.0 508.9 930.5 507.6 931.0 513.2 931.5 506.5 932.0 507.6 932.5 511.1 933.0 509.8 933.5 513.5 934.0 512.3 934.5 509.2 935.0 508.7 935.5 502.6 936.0 503.7 936.5 503.7 937.0 502.5 937.5 498.1 938.0 496.6 938.5 493.6 939.0 493.2 939.5 485.9 940.0 476.5 940.5 464.6 941.0 448.0 941.5 423.7 942.0 396.3 942.5 375.3 942.7 374.1 943.0 379.3 943.5 402.1 944.0 429.7 944.5 452.1 945.0 470.2 945.5 479.2 946.0 484.4 946.5 490.1 947.0 497.7 947.5 501.4 948.0 503.1 948.5 505.0 949.0 505.1 949.5 502.8 950.0 505.3 950.5 503.9 951.0 507.4 951.5 506.0 952.0 509.4 952.5 509.3 953.0 506.0 953.5 511.7 954.0 512.1 954.5 507.9 955.0 511.2 955.5 512.6 956.0 510.7 956.5 513.2 957.0 512.0 957.5 513.9 958.0 512.2 958.5 511.6 959.0 513.0 959.5 513.7 960.0 512.7 960.5 511.3 961.0 510.7 961.5 511.6 962.0 511.3 962.5 512.9 963.0 512.9 963.5 512.4 964.0 512.7 964.5 513.1 965.0 515.9 965.5 515.2 966.0 511.7 966.5 513.7 967.0 512.3 967.5 512.8 968.0 512.5 968.5 511.8 969.0 510.3 969.5 508.2 970.0 513.5 970.5 515.5 971.0 511.4 971.5 514.2 972.0 512.5 972.5 513.8 973.0 511.7 973.5 512.9 974.0 513.1 974.5 508.6 975.0 513.8 975.5 513.2 976.0 508.5 976.5 514.8 977.0 513.4 977.5 513.9 978.0 514.3 978.5 512.7 979.0 511.5 979.5 512.7 980.0 512.8 980.5 518.0 981.0 517.3 981.5 512.7 982.0 512.9 982.5 514.4 983.0 514.9 983.5 512.5 984.0 511.9 984.5 517.7 985.0 516.0 985.5 510.9 986.0 510.6 986.5 512.5 987.0 514.6 987.5 515.3 988.0 513.6 988.5 511.1 989.0 514.8 989.5 515.6 990.0 514.5 990.5 513.6 991.0 515.7 991.5 514.5 992.0 512.5 992.5 514.9 993.0 512.3 993.5 516.7 994.0 515.8 994.5 513.0 995.0 515.4 995.5 517.5 996.0 510.9 996.5 514.9 997.0 518.4 997.5 512.2 998.0 514.9 998.5 512.5 999.0 515.2 999.5 510.7 1000.0 512.2 1000.5 514.3 1001.0 515.6 1001.5 516.1 1002.0 516.2 1002.5 517.6 1003.0 516.7 1003.5 516.8 1004.0 513.5 1004.5 515.1 1005.0 521.6 1005.5 519.8 1006.0 517.1 1006.5 516.9 1007.0 517.4 1007.5 514.7 1008.0 519.3 1008.5 514.8 1009.0 515.3 1009.5 519.7 1010.0 511.5 1010.5 516.2 1011.0 512.2 1011.5 514.3 1012.0 515.4 1012.5 514.9 1013.0 515.9 1013.5 514.1 1014.0 515.4 1014.5 513.3 1015.0 514.9 1015.5 512.9 1016.0 516.9 1016.5 513.1 1017.0 517.0 1017.5 514.8 1018.0 515.1 1018.5 518.0 1019.0 515.9 1019.5 512.0 1020.0 516.7 1020.5 510.0 1021.0 516.2 1021.5 514.9 1022.0 513.0 1022.5 515.9 1023.0 515.1 1023.5 519.6 1024.0 514.9 1024.5 519.5 1025.0 518.4 1025.5 514.5 1026.0 514.2 1026.5 518.3 1027.0 515.5 1027.5 516.1 1028.0 515.3 1028.5 513.4 1029.0 515.1 1029.5 513.9 1030.0 512.8 1030.5 515.2 1031.0 519.3 1031.5 519.0 1032.0 515.7 1032.5 516.1 1033.0 516.8 1033.5 518.5 1034.0 516.5 1034.5 514.9 1035.0 515.1 1035.5 518.1 1036.0 521.0 1036.5 514.6 1037.0 511.8 1037.5 517.4 1038.0 515.7 1038.5 516.1 1039.0 518.3 1039.5 516.0 1040.0 513.3 1040.5 512.0 1041.0 515.8 1041.5 513.6 1042.0 516.5 1042.5 513.4 1043.0 515.2 1043.5 513.0 1044.0 515.2 1044.5 515.0 1045.0 517.1 1045.5 518.6 1046.0 515.5 1046.5 514.2 1047.0 519.8 1047.5 516.6 1048.0 517.1 1048.5 517.1 1049.0 518.8 1049.5 517.9 1050.0 517.3 1050.5 517.4 1051.0 514.2 1051.5 514.7 1052.0 515.7 1052.5 516.1 1053.0 516.0 1053.5 516.6 1054.0 516.0 1054.5 515.1 1055.0 512.7 1055.5 517.6 1056.0 517.1 1056.5 514.2 1057.0 516.9 1057.5 516.7 1058.0 516.1 1058.5 512.3 1059.0 513.6 1059.5 514.8 1060.0 519.2 1060.5 514.3 1061.0 515.3 1061.5 513.8 1062.0 515.0 1062.5 516.7 1063.0 511.9 1063.5 510.4 1064.0 517.3 1064.5 516.1 1065.0 514.8 1065.5 517.9 1066.0 517.9 1066.5 511.8 1067.0 515.7 1067.5 518.2 1068.0 514.7 1068.5 515.4 1069.0 517.9 1069.5 515.5 1070.0 513.6 1070.5 514.6 1071.0 513.4 1071.5 517.1 1072.0 512.6 1072.5 518.0 1073.0 512.7 1073.5 516.1 1074.0 513.1 1074.5 515.4 1075.0 518.0 1075.5 518.2 1076.0 518.6 1076.5 515.8 1077.0 516.2 1077.5 516.5 1078.0 517.2 1078.5 515.2 1079.0 518.2 1079.5 516.6 1080.0 518.3 1080.5 516.9 1081.0 517.3 1081.5 514.6 1082.0 515.2 1082.5 513.4 1083.0 515.4 1083.5 515.6 1084.0 517.6 1084.5 513.5 1085.0 522.4 1085.5 515.7 1086.0 518.5 1086.5 518.0 1087.0 511.0 1087.5 515.4 1088.0 518.9 1088.5 511.2 1089.0 517.5 1089.5 514.1 1090.0 515.0 1090.5 516.4 1091.0 512.2 1091.5 516.3 1092.0 514.6 1092.5 514.4 1093.0 517.3 1093.5 522.8 1094.0 516.5 1094.5 516.9 1095.0 515.7 1095.5 514.4 1096.0 516.3 1096.5 518.8 1097.0 516.1 1097.5 517.5 1098.0 515.3 1098.5 520.7 1099.0 512.4 1099.5 516.8 1100.0 516.7 1100.5 516.1 1101.0 513.3 1101.5 513.2 1102.0 514.9 1102.5 515.5 1103.0 512.9 1103.5 513.1 1104.0 516.2 1104.5 517.0 1105.0 513.8 1105.5 513.4 1106.0 513.2 1106.5 519.3 1107.0 515.2 1107.5 513.9 1108.0 515.8 1108.5 518.0 1109.0 515.4 1109.5 509.8 1110.0 512.0 1110.5 510.7 1111.0 510.1 1111.5 507.4 1112.0 507.8 1112.5 504.9 1113.0 505.7 1113.5 502.5 1114.0 497.1 1114.5 492.7 1115.0 488.7 1115.5 483.0 1116.0 476.3 1116.5 471.5 1116.8 470.7 1117.0 470.8 1117.5 474.6 1118.0 481.1 1118.5 486.9 1119.0 493.3 1119.5 497.5 1120.0 506.3 1120.5 506.0 1121.0 506.5 1121.5 508.4 1122.0 509.6 1122.5 511.2 1123.0 510.9 1123.5 512.3 1124.0 515.0 1124.5 515.0 1125.0 514.4 1125.5 516.8 1126.0 514.9 1126.5 512.7 1127.0 511.4 1127.5 513.7 1128.0 515.1 1128.5 516.2 1129.0 517.7 1129.5 514.5 1130.0 514.2 1130.5 517.4 1131.0 518.3 1131.5 515.1 1132.0 516.8 1132.5 519.0 1133.0 517.0 1133.5 516.3 1134.0 512.3 1134.5 519.1 1135.0 517.8 1135.5 516.9 1136.0 515.7 1136.5 514.2 1137.0 516.6 1137.5 516.6 1138.0 519.0 1138.5 514.5 1139.0 519.8 1139.5 517.0 1140.0 519.3 1140.5 515.1 1141.0 517.7 1141.5 519.5 1142.0 517.4 1142.5 514.2 1143.0 516.5 1143.5 518.3 1144.0 514.5 1144.5 514.4 1145.0 517.8 1145.5 515.4 1146.0 518.7 1146.5 515.1 1147.0 513.8 1147.5 515.9 1148.0 520.4 1148.5 515.8 1149.0 517.5 1149.5 518.0 1150.0 515.7 1150.5 519.8 1151.0 518.0 1151.5 518.5 1152.0 514.3 1152.5 514.2 1153.0 512.3 1153.5 517.4 1154.0 517.3 1154.5 519.2 1155.0 520.8 1155.5 517.3 1156.0 517.3 1156.5 518.8 1157.0 520.9 1157.5 516.3 1158.0 519.2 1158.5 517.5 1159.0 517.3 1159.5 519.6 1160.0 516.5 1160.5 515.9 1161.0 519.4 1161.5 518.0 1162.0 517.6 1162.5 517.9 1163.0 519.1 1163.5 517.4 1164.0 519.7 1164.5 519.0 1165.0 521.2 1165.5 520.8 1166.0 520.0 1166.5 517.9 1167.0 518.5 1167.5 517.2 1168.0 524.0 1168.5 517.9 1169.0 519.5 1169.5 521.1 1170.0 515.7 1170.5 516.8 1171.0 517.7 1171.5 516.5 1172.0 516.0 1172.5 517.5 1173.0 521.1 1173.5 520.0 1174.0 518.6 1174.5 518.6 1175.0 515.3 1175.5 520.0 1176.0 519.5 1176.5 516.5 1177.0 519.1 1177.5 518.3 1178.0 517.7 1178.5 516.7 1179.0 517.4 1179.5 516.9 1180.0 519.7 1180.5 519.5 1181.0 519.4 1181.5 518.4 1182.0 518.0 1182.5 522.9 1183.0 515.1 1183.5 521.2 1184.0 519.6 1184.5 519.0 1185.0 517.9 1185.5 518.5 1186.0 516.6 1186.5 516.2 1187.0 518.7 1187.5 515.7 1188.0 520.6 1188.5 521.2 1189.0 512.2 1189.5 515.9 1190.0 519.5 1190.5 519.4 1191.0 519.2 1191.5 519.9 1192.0 520.5 1192.5 520.8 1193.0 522.6 1193.5 519.1 1194.0 520.8 1194.5 515.9 1195.0 518.9 1195.5 516.7 1196.0 521.9 1196.5 523.8 1197.0 520.2 1197.5 516.6 1198.0 519.0 1198.5 519.3 1199.0 519.6 1199.5 521.4 1200.0 521.1 1200.5 514.0 1201.0 522.0 1201.5 518.3 1202.0 518.2 1202.5 522.1 1203.0 518.8 1203.5 516.6 1204.0 516.7 1204.5 519.4 1205.0 521.1 1205.5 522.3 1206.0 519.0 1206.5 518.4 1207.0 522.6 1207.5 518.5 1208.0 522.3 1208.5 519.9 1209.0 519.9 1209.5 519.0 1210.0 520.0 1210.5 518.5 1211.0 518.1 1211.5 519.2 1212.0 518.2 1212.5 520.1 1213.0 519.7 1213.5 519.0 1214.0 519.1 1214.5 519.1 1215.0 523.0 1215.5 519.5 1216.0 518.4 1216.5 519.0 1217.0 520.9 1217.5 519.2 1218.0 519.3 1218.5 519.1 1219.0 519.9 1219.5 520.4 1220.0 520.5 1220.5 516.4 1221.0 517.5 1221.5 514.5 1222.0 521.3 1222.5 521.9 1223.0 522.3 1223.5 520.0 1224.0 522.0 1224.5 519.6 1225.0 519.5 1225.5 516.7 1226.0 518.2 1226.5 518.6 1227.0 521.6 1227.5 523.0 1228.0 518.8 1228.5 520.5 1229.0 520.3 1229.5 518.3 1230.0 516.4 1230.5 518.3 1231.0 517.0 1231.5 519.2 1232.0 519.6 1232.5 519.5 1233.0 519.5 1233.5 520.8 1234.0 518.0 1234.5 521.6 1235.0 516.6 1235.5 520.0 1236.0 520.7 1236.5 518.3 1237.0 516.8 1237.5 521.2 1238.0 518.6 1238.5 521.5 1239.0 521.5 1239.5 519.9 1240.0 520.0 1240.5 521.9 1241.0 520.7 1241.5 518.1 1242.0 520.3 1242.5 521.1 1243.0 520.4 1243.5 520.4 1244.0 519.7 1244.5 519.8 1245.0 518.2 1245.5 517.2 1246.0 522.3 1246.5 518.8 1247.0 520.5 1247.5 517.1 1248.0 520.4 1248.5 518.5 1249.0 526.0 1249.5 518.1 1250.0 518.2 1250.5 522.0 1251.0 522.4 1251.5 516.0 1252.0 520.7 1252.5 521.9 1253.0 517.8 1253.5 521.5 1254.0 519.1 1254.5 518.2 1255.0 519.5 1255.5 519.3 1256.0 517.5 1256.5 524.6 1257.0 519.3 1257.5 518.8 1258.0 521.9 1258.5 520.1 1259.0 522.9 1259.5 519.7 1260.0 521.0 1260.5 520.5 1261.0 520.6 1261.5 519.9 1262.0 520.1 1262.5 523.6 1263.0 519.0 1263.5 519.2 1264.0 519.7 1264.5 521.5 1265.0 521.1 1265.5 522.2 1266.0 517.7 1266.5 520.9 1267.0 520.0 1267.5 519.8 1268.0 520.7 1268.5 516.5 1269.0 520.9 1269.5 520.7 1270.0 517.6 1270.5 520.2 1271.0 523.5 1271.5 519.7 1272.0 521.6 1272.5 520.0 1273.0 518.9 1273.5 518.7 1274.0 519.7 1274.5 523.0 1275.0 522.1 1275.5 519.1 1276.0 522.5 1276.5 520.3 1277.0 519.2 1277.5 521.4 1278.0 518.7 1278.5 517.5 1279.0 523.1 1279.5 517.0 1280.0 521.6 1280.5 517.6 1281.0 520.5 1281.5 520.2 1282.0 519.7 1282.5 516.3 1283.0 520.4 1283.5 520.5 1284.0 518.8 1284.5 520.5 1285.0 522.6 1285.5 519.2 1286.0 521.1 1286.5 518.4 1287.0 521.4 1287.5 521.9 1288.0 525.5 1288.5 522.4 1289.0 521.5 1289.5 523.4 1290.0 518.7 1290.5 522.8 1291.0 519.6 1291.5 519.5 1292.0 522.9 1292.5 521.2 1293.0 523.3 1293.5 517.9 1294.0 521.3 1294.5 519.7 1295.0 520.2 1295.5 517.0 1296.0 522.6 1296.5 521.2 1297.0 518.9 1297.5 518.2 1298.0 519.1 1298.5 523.5 1299.0 520.6 1299.5 520.2 1300.0 521.8 1300.5 520.9 1301.0 521.3 1301.5 522.3 1302.0 521.5 1302.5 522.6 1303.0 518.6 1303.5 521.0 1304.0 520.2 1304.5 521.1 1305.0 520.8 1305.5 519.7 1306.0 520.2 1306.5 522.8 1307.0 519.9 1307.5 518.5 1308.0 522.1 1308.5 522.8 1309.0 520.4 1309.5 521.2 1310.0 519.3 1310.5 520.6 1311.0 523.1 1311.5 522.6 1312.0 521.3 1312.5 520.5 1313.0 517.9 1313.5 521.6 1314.0 521.9 1314.5 523.1 1315.0 525.0 1315.5 521.8 1316.0 522.9 1316.5 518.9 1317.0 523.4 1317.5 522.8 1318.0 523.7 1318.5 522.4 1319.0 522.0 1319.5 524.0 1320.0 519.8 1320.5 522.4 1321.0 523.2 1321.5 519.6 1322.0 518.9 1322.5 522.0 1323.0 521.4 1323.5 522.3 1324.0 522.4 1324.5 519.7 1325.0 521.8 1325.5 523.4 1326.0 520.5 1326.5 520.7 1327.0 519.0 1327.5 522.8 1328.0 525.0 1328.5 518.6 1329.0 522.7 1329.5 523.0 1330.0 520.2 1330.5 520.5 1331.0 519.2 1331.5 519.8 1332.0 521.6 1332.5 522.5 1333.0 521.5 1333.5 522.9 1334.0 521.7 1334.5 519.1 1335.0 524.1 1335.5 523.6 1336.0 520.0 1336.5 524.8 1337.0 522.2 1337.5 521.6 1338.0 525.1 1338.5 516.5 1339.0 518.3 1339.5 522.7 1340.0 520.9 1340.5 519.6 1341.0 524.3 1341.5 522.3 1342.0 518.9 1342.5 520.1 1343.0 523.1 1343.5 524.9 1344.0 517.6 1344.5 521.9 1345.0 520.7 1345.5 518.1 1346.0 521.1 1346.5 518.4 1347.0 520.4 1347.5 524.6 1348.0 522.5 1348.5 523.0 1349.0 522.7 1349.5 522.2 1350.0 523.4 1350.5 519.3 1351.0 520.8 1351.5 523.2 1352.0 520.1 1352.5 520.7 1353.0 523.9 1353.5 524.5 1354.0 520.4 1354.5 520.0 1355.0 522.7 1355.5 522.1 1356.0 520.3 1356.5 522.7 1357.0 522.7 1357.5 521.8 1358.0 527.3 1358.5 524.2 1359.0 523.2 1359.5 523.6 1360.0 527.4 1360.5 523.8 1361.0 520.3 1361.5 522.3 1362.0 521.8 1362.5 520.6 1363.0 522.2 1363.5 522.2 1364.0 521.6 1364.5 520.7 1365.0 523.3 1365.5 518.6 1366.0 523.3 1366.5 521.7 1367.0 522.2 1367.5 517.1 1368.0 525.0 1368.5 518.4 1369.0 520.1 1369.5 523.0 1370.0 520.6 1370.5 521.0 1371.0 517.4 1371.5 520.9 1372.0 522.2 1372.5 523.1 1373.0 521.2 1373.5 522.2 1374.0 522.6 1374.5 520.5 1375.0 520.4 1375.5 525.6 1376.0 520.2 1376.5 524.2 1377.0 522.0 1377.5 524.7 1378.0 520.6 1378.5 522.8 1379.0 522.5 1379.5 521.4 1380.0 522.5 1380.5 520.4 1381.0 521.7 1381.5 521.1 1382.0 523.4 1382.5 521.7 1383.0 519.2 1383.5 521.2 1384.0 521.7 1384.5 520.2 1385.0 524.5 1385.5 522.7 1386.0 523.6 1386.5 520.4 1387.0 521.2 1387.5 523.9 1388.0 519.2 1388.5 522.7 1389.0 522.1 1389.5 521.0 1390.0 522.1 1390.5 519.9 1391.0 522.4 1391.5 519.6 1392.0 519.5 1392.5 524.7 1393.0 520.6 1393.5 517.9 1394.0 523.9 1394.5 520.5 1395.0 515.2 1395.5 521.9 1396.0 523.8 1396.5 522.7 1397.0 525.4 1397.5 521.8 1398.0 523.2 1398.5 520.1 1399.0 522.4 1399.5 525.0 1400.0 523.1 1400.5 522.4 1401.0 518.2 1401.5 521.4 1402.0 519.6 1402.5 523.6 1403.0 520.7 1403.5 522.8 1404.0 520.2 1404.5 525.8 1405.0 519.8 1405.5 522.4 1406.0 527.3 1406.5 522.6 1407.0 520.4 1407.5 523.3 1408.0 524.1 1408.5 523.9 1409.0 518.3 1409.5 522.6 1410.0 518.0 1410.5 525.9 1411.0 522.3 1411.5 521.3 1412.0 523.5 1412.5 523.2 1413.0 519.9 1413.5 525.4 1414.0 521.7 1414.5 518.8 1415.0 525.0 1415.5 525.2 1416.0 524.7 1416.5 523.3 1417.0 520.5 1417.5 524.1 1418.0 525.9 1418.5 523.9 1419.0 525.4 1419.5 520.8 1420.0 524.3 1420.5 524.1 1421.0 519.4 1421.5 519.1 1422.0 520.9 1422.5 522.5 1423.0 523.2 1423.5 521.9 1424.0 522.2 1424.5 522.1 1425.0 522.5 1425.5 523.5 1426.0 523.3 1426.5 522.2 1427.0 522.9 1427.5 521.5 1428.0 523.9 1428.5 521.4 1429.0 525.6 1429.5 522.3 1430.0 522.9 1430.5 520.9 1431.0 521.7 1431.5 522.7 1432.0 522.5 1432.5 521.2 1433.0 520.1 1433.5 522.5 1434.0 522.7 1434.5 523.5 1435.0 524.9 1435.5 521.8 1436.0 518.5 1436.5 522.2 1437.0 518.8 1437.5 519.9 1438.0 524.5 1438.5 523.6 1439.0 521.2 1439.5 521.2 1440.0 522.3 1440.5 519.1 1441.0 523.5 1441.5 521.8 1442.0 526.1 1442.5 520.4 1443.0 524.5 1443.5 521.2 1444.0 524.6 1444.5 520.6 1445.0 524.0 1445.5 521.7 1446.0 520.9 1446.5 522.3 1447.0 523.5 1447.5 523.4 1448.0 525.7 1448.5 524.2 1449.0 517.4 1449.5 521.8 1450.0 518.7 1450.5 521.9 1451.0 523.8 1451.5 520.0 1452.0 520.3 1452.5 522.9 1453.0 522.1 1453.5 525.8 1454.0 523.3 1454.5 523.7 1455.0 526.1 1455.5 521.7 1456.0 522.7 1456.5 520.7 1457.0 523.2 1457.5 524.7 1458.0 525.4 1458.5 522.6 1459.0 521.3 1459.5 521.2 1460.0 520.0 1460.5 523.0 1461.0 525.4 1461.5 518.0 1462.0 518.4 1462.5 525.5 1463.0 519.6 1463.5 523.4 1464.0 520.3 1464.5 524.3 1465.0 524.3 1465.5 523.1 1466.0 524.4 1466.5 522.9 1467.0 523.9 1467.5 526.4 1468.0 525.0 1468.5 521.5 1469.0 521.2 1469.5 522.3 1470.0 522.4 1470.5 523.0 1471.0 521.6 1471.5 524.1 1472.0 522.9 1472.5 523.6 1473.0 522.9 1473.5 524.1 1474.0 520.5 1474.5 526.0 1475.0 523.6 1475.5 523.8 1476.0 524.1 1476.5 525.0 1477.0 524.3 1477.5 523.4 1478.0 522.5 1478.5 519.7 1479.0 523.3 1479.5 522.3 1480.0 522.3 1480.5 527.7 1481.0 519.3 1481.5 523.1 1482.0 525.3 1482.5 524.9 1483.0 525.4 1483.5 520.5 1484.0 521.1 1484.5 524.2 1485.0 522.4 1485.5 526.4 1486.0 523.4 1486.5 523.4 1487.0 523.9 1487.5 522.5 1488.0 523.3 1488.5 521.7 1489.0 523.0 1489.5 522.1 1490.0 523.5 1490.5 520.2 1491.0 520.1 1491.5 524.0 1492.0 523.5 1492.5 521.2 1493.0 522.6 1493.5 521.0 1494.0 527.1 1494.5 520.0 1495.0 526.5 1495.5 521.5 1496.0 523.9 1496.5 522.6 1497.0 522.4 1497.5 525.0 1498.0 524.8 1498.5 522.6 1499.0 521.4 1499.5 527.3 1500.0 525.9 1500.5 523.5 1501.0 522.6 1501.5 523.8 1502.0 523.4 1502.5 525.6 1503.0 521.3 1503.5 523.3 1504.0 521.7 1504.5 525.8 1505.0 526.8 1505.5 523.1 1506.0 524.3 1506.5 526.0 1507.0 522.7 1507.5 521.4 1508.0 525.3 1508.5 524.3 1509.0 522.9 1509.5 526.2 1510.0 523.8 1510.5 519.8 1511.0 524.0 1511.5 523.2 1512.0 527.0 1512.5 523.3 1513.0 522.9 1513.5 524.2 1514.0 523.8 1514.5 520.6 1515.0 523.6 1515.5 522.7 1516.0 526.1 1516.5 528.1 1517.0 521.2 1517.5 521.5 1518.0 521.7 1518.5 522.1 1519.0 522.0 1519.5 523.5 1520.0 525.6 1520.5 520.8 1521.0 520.4 1521.5 519.8 1522.0 525.6 1522.5 526.1 1523.0 520.4 1523.5 520.2 1524.0 523.7 1524.5 525.6 1525.0 525.5 1525.5 523.9 1526.0 524.8 1526.5 524.1 1527.0 522.4 1527.5 527.3 1528.0 523.5 1528.5 521.3 1529.0 522.6 1529.5 520.5 1530.0 523.6 1530.5 525.7 1531.0 521.0 1531.5 525.8 1532.0 527.7 1532.5 524.3 1533.0 521.3 1533.5 521.9 1534.0 522.9 1534.5 521.1 1535.0 521.1 1535.5 523.1 1536.0 523.3 1536.5 524.8 1537.0 521.3 1537.5 527.3 1538.0 525.7 1538.5 525.4 1539.0 522.4 1539.5 527.1 1540.0 523.0 1540.5 527.3 1541.0 525.8 1541.5 521.9 1542.0 522.8 1542.5 527.4 1543.0 525.7 1543.5 523.4 1544.0 524.1 1544.5 524.1 1545.0 522.2 1545.5 523.3 1546.0 522.4 1546.5 522.9 1547.0 524.7 1547.5 521.9 1548.0 525.2 1548.5 524.0 1549.0 525.3 1549.5 525.6 1550.0 526.3 1550.5 525.0 1551.0 525.2 1551.5 523.5 1552.0 524.9 1552.5 522.0 1553.0 523.3 1553.5 525.3 1554.0 523.7 1554.5 524.7 1555.0 521.8 1555.5 526.6 1556.0 522.7 1556.5 524.7 1557.0 523.8 1557.5 525.7 1558.0 523.1 1558.5 521.9 1559.0 520.1 1559.5 523.3 1560.0 521.6 1560.5 525.0 1561.0 526.8 1561.5 519.5 1562.0 521.4 1562.5 524.6 1563.0 526.4 1563.5 524.6 1564.0 524.6 1564.5 525.0 1565.0 525.1 1565.5 527.3 1566.0 525.2 1566.5 521.5 1567.0 523.1 1567.5 524.4 1568.0 522.4 1568.5 523.5 1569.0 523.0 1569.5 522.7 1570.0 525.4 1570.5 523.3 1571.0 521.9 1571.5 522.6 1572.0 524.2 1572.5 528.3 1573.0 524.6 1573.5 527.1 1574.0 525.1 1574.5 519.8 1575.0 524.9 1575.5 522.4 1576.0 521.4 1576.5 522.0 1577.0 527.7 1577.5 521.0 1578.0 522.9 1578.5 526.5 1579.0 525.5 1579.5 520.8 1580.0 524.0 1580.5 523.2 1581.0 523.8 1581.5 525.7 1582.0 523.1 1582.5 523.6 1583.0 527.1 1583.5 520.6 1584.0 523.5 1584.5 525.2 1585.0 521.8 1585.5 523.0 1586.0 521.6 1586.5 524.6 1587.0 523.0 1587.5 525.9 1588.0 526.3 1588.5 524.4 1589.0 523.5 1589.5 524.8 1590.0 524.4 1590.5 521.9 1591.0 526.5 1591.5 524.8 1592.0 525.9 1592.5 521.6 1593.0 526.1 1593.5 528.6 1594.0 525.6 1594.5 521.5 1595.0 524.5 1595.5 524.3 1596.0 524.8 1596.5 523.9 1597.0 525.4 1597.5 523.5 1598.0 524.9 1598.5 523.1 1599.0 524.6 1599.5 526.4 1600.0 523.5 1600.5 525.8 1601.0 522.7 1601.5 523.7 1602.0 524.0 1602.5 527.0 1603.0 523.0 1603.5 526.9 1604.0 521.6 1604.5 524.2 1605.0 526.3 1605.5 525.9 1606.0 522.5 1606.5 522.1 1607.0 526.3 1607.5 522.0 1608.0 525.7 1608.5 523.5 1609.0 524.5 1609.5 529.2 1610.0 527.7 1610.5 526.3 1611.0 521.8 1611.5 525.2 1612.0 524.7 1612.5 524.4 1613.0 527.3 1613.5 521.2 1614.0 525.3 1614.5 524.9 1615.0 523.1 1615.5 528.1 1616.0 522.1 1616.5 524.7 1617.0 524.8 1617.5 520.3 1618.0 521.8 1618.5 522.7 1619.0 526.3 1619.5 526.6 1620.0 525.9 1620.5 525.2 1621.0 520.3 1621.5 525.2 1622.0 523.7 1622.5 527.1 1623.0 527.4 1623.5 529.2 1624.0 526.2 1624.5 526.4 1625.0 522.7 1625.5 524.9 1626.0 522.3 1626.5 526.6 1627.0 522.4 1627.5 524.4 1628.0 523.2 1628.5 523.9 1629.0 525.7 1629.5 523.7 1630.0 525.3 1630.5 522.8 1631.0 527.7 1631.5 523.6 1632.0 526.9 1632.5 529.2 1633.0 520.0 1633.5 522.9 1634.0 524.5 1634.5 527.2 1635.0 523.9 1635.5 525.7 1636.0 523.4 1636.5 526.1 1637.0 522.5 1637.5 526.6 1638.0 518.9 1638.5 521.1 1639.0 528.6 1639.5 525.3 1640.0 523.2 1640.5 529.4 1641.0 527.1 1641.5 527.3 1642.0 524.1 1642.5 526.2 1643.0 526.0 1643.5 521.7 1644.0 526.2 1644.5 524.6 1645.0 527.6 1645.5 527.7 1646.0 523.7 1646.5 523.8 1647.0 525.4 1647.5 526.4 1648.0 524.2 1648.5 524.8 1649.0 526.3 1649.5 525.9 1650.0 527.4 1650.5 525.6 1651.0 523.3 1651.5 521.5 1652.0 526.7 1652.5 524.4 1653.0 524.4 1653.5 524.5 1654.0 521.9 1654.5 524.3 1655.0 519.9 1655.5 524.3 1656.0 523.3 1656.5 528.9 1657.0 526.1 1657.5 524.7 1658.0 525.5 1658.5 526.6 1659.0 523.6 1659.5 524.7 1660.0 524.5 1660.5 530.2 1661.0 525.3 1661.5 521.2 1662.0 526.8 1662.5 530.4 1663.0 523.2 1663.5 532.3 1664.0 525.1 1664.5 527.2 1665.0 524.0 1665.5 524.6 1666.0 522.7 1666.5 523.0 1667.0 520.8 1667.5 527.5 1668.0 522.9 1668.5 525.9 1669.0 525.9 1669.5 523.9 1670.0 525.3 1670.5 525.0 1671.0 524.2 1671.5 525.3 1672.0 525.3 1672.5 523.1 1673.0 522.5 1673.5 523.4 1674.0 525.4 1674.5 527.9 1675.0 528.1 1675.5 525.7 1676.0 527.0 1676.5 525.3 1677.0 527.2 1677.5 525.2 1678.0 525.7 1678.5 524.3 1679.0 524.8 1679.5 528.7 1680.0 522.3 1680.5 524.7 1681.0 523.4 1681.5 526.5 1682.0 528.2 1682.5 523.8 1683.0 518.6 1683.5 525.4 1684.0 525.3 1684.5 520.4 1685.0 523.2 1685.5 523.3 1686.0 518.5 1686.5 524.3 1687.0 523.5 1687.5 522.6 1688.0 519.5 1688.5 519.6 1689.0 519.0 1689.5 520.3 1690.0 516.2 1690.5 519.9 1691.0 516.1 1691.5 509.0 1692.0 514.9 1692.5 509.8 1693.0 506.7 1693.5 507.1 1693.7 503.1 1694.0 507.4 1694.5 503.1 1695.0 507.8 1695.5 514.7 1696.0 516.5 1696.5 515.0 1697.0 515.3 1697.5 520.5 1698.0 519.6 1698.5 521.0 1699.0 522.6 1699.5 519.7 1700.0 524.1 1700.5 518.5 1701.0 526.2 1701.5 520.3 1702.0 522.5 1702.5 522.6 1703.0 525.7 1703.5 525.9 1704.0 525.3 1704.5 525.8 1705.0 525.7 1705.5 524.7 1706.0 521.0 1706.5 520.3 1707.0 520.4 1707.5 525.1 1708.0 524.8 1708.5 525.0 1709.0 525.8 1709.5 524.9 1710.0 523.4 1710.5 522.4 1711.0 521.6 1711.5 528.1 1712.0 527.5 1712.5 522.9 1713.0 525.1 1713.5 526.6 1714.0 529.0 1714.5 524.5 1715.0 526.2 1715.5 528.2 1716.0 522.3 1716.5 524.4 1717.0 525.8 1717.5 524.4 1718.0 530.3 1718.5 527.8 1719.0 526.4 1719.5 524.0 1720.0 527.8 1720.5 527.3 1721.0 525.0 1721.5 525.2 1722.0 523.1 1722.5 525.9 1723.0 527.9 1723.5 528.2 1724.0 527.3 1724.5 527.9 1725.0 524.9 1725.5 525.2 1726.0 528.7 1726.5 527.1 1727.0 524.6 1727.5 527.3 1728.0 528.0 1728.5 527.7 1729.0 526.5 1729.5 525.2 1730.0 527.1 1730.5 529.8 1731.0 526.6 1731.5 525.0 1732.0 527.0 1732.5 523.8 1733.0 526.8 1733.5 525.8 1734.0 528.4 1734.5 526.6 1735.0 528.6 1735.5 531.2 1736.0 526.0 1736.5 524.7 1737.0 527.4 1737.5 526.3 1738.0 526.8 1738.5 525.2 1739.0 527.6 1739.5 526.7 1740.0 522.1 1740.5 526.0 1741.0 527.2 1741.5 529.0 1742.0 525.4 1742.5 524.9 1743.0 528.9 1743.5 525.3 1744.0 526.8 1744.5 527.6 1745.0 528.1 1745.5 526.6 1746.0 524.4 1746.5 528.7 1747.0 525.8 1747.5 525.6 1748.0 530.8 1748.5 528.5 1749.0 524.5 1749.5 525.7 1750.0 526.2 1750.5 525.2 1751.0 522.8 1751.5 528.4 1752.0 528.4 1752.5 527.3 1753.0 526.0 1753.5 527.2 1754.0 528.1 1754.5 524.7 1755.0 526.1 1755.5 525.7 1756.0 528.3 1756.5 527.4 1757.0 524.2 1757.5 525.6 1758.0 530.5 1758.5 524.9 1759.0 527.2 1759.5 525.6 1760.0 529.5 1760.5 526.8 1761.0 526.0 1761.5 524.5 1762.0 526.5 1762.5 528.7 1763.0 528.4 1763.5 524.3 1764.0 530.2 1764.5 526.5 1765.0 524.9 1765.5 527.3 1766.0 525.8 1766.5 525.9 1767.0 525.8 1767.5 526.9 1768.0 526.0 1768.5 523.6 1769.0 528.2 1769.5 526.0 1770.0 529.6 1770.5 528.2 1771.0 528.4 1771.5 527.5 1772.0 529.8 1772.5 526.5 1773.0 525.1 1773.5 527.9 1774.0 521.6 1774.5 526.4 1775.0 527.6 1775.5 526.4 1776.0 529.8 1776.5 528.7 1777.0 527.5 1777.5 526.4 1778.0 529.5 1778.5 525.9 1779.0 526.4 1779.5 528.8 1780.0 528.5 1780.5 531.5 1781.0 526.9 1781.5 523.5 1782.0 528.7 1782.5 529.9 1783.0 527.0 1783.5 530.6 1784.0 531.0 1784.5 526.0 1785.0 526.4 1785.5 524.8 1786.0 528.5 1786.5 528.9 1787.0 528.7 1787.5 524.9 1788.0 525.9 1788.5 524.5 1789.0 524.2 1789.5 524.7 1790.0 524.3 1790.5 527.1 1791.0 528.4 1791.5 528.8 1792.0 527.5 1792.5 526.2 1793.0 527.5 1793.5 528.7 1794.0 527.0 1794.5 527.7 1795.0 527.0 1795.5 526.5 1796.0 527.7 1796.5 525.3 1797.0 529.8 1797.5 524.5 1798.0 528.6 1798.5 524.9 1799.0 530.8 1799.5 529.5 1800.0 526.0 1800.5 526.8 1801.0 525.4 1801.5 527.6 1802.0 528.6 1802.5 533.0 1803.0 525.0 1803.5 530.3 1804.0 526.6 1804.5 528.3 1805.0 529.6 1805.5 528.9 1806.0 528.7 1806.5 527.4 1807.0 527.8 1807.5 528.2 1808.0 530.3 1808.5 524.9 1809.0 526.9 1809.5 525.3 1810.0 525.9 1810.5 526.3 1811.0 530.2 1811.5 532.3 1812.0 530.7 1812.5 525.5 1813.0 528.1 1813.5 525.7 1814.0 528.9 1814.5 530.6 1815.0 529.2 1815.5 529.8 1816.0 527.7 1816.5 524.0 1817.0 524.0 1817.5 527.9 1818.0 529.2 1818.5 530.7 1819.0 527.4 1819.5 528.2 1820.0 528.6 1820.5 530.3 1821.0 528.0 1821.5 525.9 1822.0 530.3 1822.5 529.0 1823.0 528.9 1823.5 525.6 1824.0 528.2 1824.5 524.7 1825.0 524.1 1825.5 527.7 1826.0 527.3 1826.5 529.4 1827.0 531.2 1827.5 528.2 1828.0 531.9 1828.5 527.1 1829.0 529.8 1829.5 525.7 1830.0 528.6 1830.5 527.7 1831.0 527.9 1831.5 529.5 1832.0 524.5 1832.5 528.6 1833.0 526.7 1833.5 528.6 1834.0 529.2 1834.5 527.7 1835.0 527.7 1835.5 526.1 1836.0 529.6 1836.5 527.1 1837.0 529.4 1837.5 525.6 1838.0 531.3" fill="none" stroke="#03c1ae" stroke-width="7.0" stroke-linejoin="round"/>
<path d="M132.0 659.2 132.5 666.7 133.0 661.3 133.5 664.8 134.0 662.5 134.5 665.3 135.0 663.1 135.5 667.5 136.0 665.5 136.5 665.6 137.0 669.0 137.5 661.1 138.0 667.9 138.5 663.8 139.0 658.6 139.5 665.3 140.0 663.1 140.5 669.6 141.0 662.3 141.5 664.2 142.0 664.8 142.5 657.7 143.0 665.9 143.5 660.9 144.0 669.1 144.5 670.0 145.0 664.4 145.5 659.1 146.0 665.2 146.5 665.2 147.0 667.1 147.5 663.8 148.0 660.8 148.5 664.4 149.0 661.8 149.5 671.0 150.0 662.7 150.5 662.9 151.0 665.0 151.5 661.1 152.0 663.8 152.5 664.9 153.0 663.8 153.5 664.7 154.0 669.8 154.5 667.1 155.0 661.2 155.5 664.3 156.0 668.3 156.5 663.7 157.0 666.2 157.5 665.9 158.0 667.8 158.5 665.5 159.0 665.7 159.5 663.3 160.0 667.5 160.5 663.2 161.0 672.3 161.5 666.4 162.0 665.7 162.5 669.2 163.0 666.3 163.5 667.0 164.0 666.5 164.5 664.3 165.0 663.7 165.5 664.5 166.0 670.8 166.5 664.9 167.0 665.7 167.5 665.6 168.0 669.5 168.5 673.9 169.0 664.1 169.5 669.2 170.0 667.8 170.5 666.4 171.0 669.2 171.5 663.2 172.0 670.4 172.5 668.4 173.0 664.3 173.5 673.1 174.0 670.7 174.5 671.8 175.0 663.0 175.5 667.0 176.0 666.2 176.5 670.1 177.0 672.7 177.5 661.7 178.0 668.2 178.5 667.8 179.0 671.6 179.5 668.2 180.0 664.1 180.5 667.8 181.0 665.0 181.5 665.9 182.0 668.7 182.5 667.0 183.0 669.6 183.5 663.6 184.0 676.6 184.5 673.0 185.0 671.2 185.5 664.5 186.0 661.6 186.5 666.0 187.0 668.2 187.5 676.6 188.0 673.5 188.5 667.4 189.0 673.2 189.5 673.3 190.0 669.3 190.5 673.4 191.0 670.5 191.5 667.2 192.0 665.5 192.5 669.0 193.0 672.9 193.5 665.0 194.0 664.1 194.5 671.5 195.0 660.5 195.5 675.9 196.0 668.3 196.5 672.3 197.0 676.1 197.5 665.0 198.0 666.4 198.5 677.5 199.0 669.0 199.5 669.6 200.0 670.8 200.5 673.7 201.0 674.6 201.5 670.6 202.0 669.1 202.5 670.2 203.0 671.4 203.5 674.8 204.0 670.9 204.5 676.6 205.0 667.6 205.5 672.4 206.0 676.5 206.5 675.0 207.0 671.8 207.5 667.7 208.0 668.4 208.5 670.3 209.0 671.9 209.5 670.1 210.0 666.0 210.5 668.5 211.0 672.8 211.5 673.9 212.0 666.4 212.5 669.9 213.0 665.5 213.5 669.3 214.0 683.2 214.5 671.5 215.0 670.2 215.5 669.4 216.0 667.3 216.5 665.2 217.0 671.3 217.5 670.6 218.0 676.5 218.5 666.1 219.0 673.1 219.5 676.2 220.0 665.1 220.5 673.9 221.0 666.3 221.5 673.5 222.0 676.8 222.5 671.8 223.0 672.8 223.5 669.5 224.0 672.9 224.5 675.7 225.0 671.3 225.5 671.5 226.0 673.3 226.5 674.8 227.0 666.5 227.5 672.2 228.0 669.8 228.5 673.8 229.0 675.6 229.5 673.2 230.0 676.5 230.5 668.8 231.0 670.8 231.5 668.8 232.0 672.4 232.5 672.5 233.0 671.5 233.5 668.1 234.0 671.9 234.5 670.7 235.0 674.2 235.5 671.3 236.0 676.1 236.5 673.0 237.0 665.9 237.5 671.6 238.0 667.4 238.5 675.5 239.0 677.0 239.5 672.1 240.0 673.7 240.5 667.3 241.0 664.6 241.5 670.3 242.0 671.3 242.5 667.1 243.0 672.5 243.5 673.2 244.0 674.3 244.5 677.4 245.0 674.9 245.5 670.9 246.0 672.5 246.5 674.2 247.0 668.6 247.5 676.6 248.0 675.2 248.5 671.4 249.0 670.0 249.5 685.0 250.0 674.9 250.5 675.3 251.0 678.2 251.5 675.4 252.0 672.8 252.5 674.5 253.0 669.0 253.5 674.5 254.0 666.9 254.5 673.5 255.0 673.9 255.5 666.8 256.0 678.5 256.5 668.1 257.0 675.5 257.5 670.2 258.0 673.1 258.5 669.8 259.0 680.4 259.5 675.5 260.0 678.1 260.5 674.6 261.0 674.3 261.5 672.5 262.0 671.1 262.5 674.0 263.0 672.5 263.5 671.4 264.0 667.3 264.5 670.9 265.0 674.0 265.5 670.3 266.0 673.1 266.5 671.4 267.0 668.4 267.5 668.8 268.0 669.4 268.5 670.9 269.0 671.0 269.5 675.6 270.0 668.2 270.5 664.9 271.0 674.1 271.5 670.3 272.0 671.4 272.5 680.4 273.0 676.7 273.5 673.8 274.0 675.0 274.5 672.2 275.0 675.0 275.5 669.7 276.0 669.3 276.5 670.1 277.0 677.0 277.5 677.0 278.0 669.6 278.5 675.6 279.0 671.1 279.5 675.3 280.0 670.6 280.5 674.9 281.0 671.3 281.5 670.7 282.0 671.5 282.5 672.1 283.0 669.6 283.5 667.0 284.0 677.3 284.5 670.2 285.0 665.4 285.5 663.9 286.0 662.1 286.5 669.5 287.0 676.1 287.5 666.0 288.0 670.4 288.5 665.3 289.0 675.2 289.5 672.7 290.0 672.6 290.5 676.0 291.0 677.0 291.5 674.9 292.0 669.5 292.5 666.9 293.0 667.8 293.5 665.4 294.0 677.5 294.5 670.7 295.0 671.8 295.5 672.0 296.0 678.1 296.5 669.4 297.0 675.3 297.5 672.3 298.0 670.7 298.5 664.7 299.0 674.3 299.5 668.6 300.0 669.6 300.5 671.9 301.0 671.4 301.5 674.9 302.0 668.7 302.5 671.5 303.0 671.9 303.5 670.9 304.0 673.1 304.5 669.9 305.0 674.8 305.5 668.2 306.0 665.6 306.5 670.3 307.0 674.3 307.5 668.5 308.0 668.0 308.5 668.9 309.0 670.5 309.5 669.2 310.0 670.8 310.5 663.8 311.0 674.6 311.5 671.4 312.0 666.3 312.5 673.8 313.0 670.5 313.5 673.9 314.0 664.7 314.5 674.2 315.0 668.6 315.5 661.3 316.0 670.7 316.5 667.0 317.0 664.4 317.5 667.0 318.0 660.9 318.5 669.4 319.0 666.5 319.5 666.2 320.0 671.7 320.5 666.9 321.0 664.3 321.5 663.2 322.0 666.0 322.5 669.7 323.0 663.9 323.5 662.2 324.0 668.7 324.5 665.6 325.0 665.1 325.5 672.1 326.0 660.7 326.5 665.3 327.0 658.5 327.5 663.3 328.0 666.1 328.5 667.8 329.0 659.5 329.5 666.4 330.0 666.1 330.5 662.8 331.0 671.4 331.5 662.9 332.0 659.7 332.5 664.0 333.0 656.0 333.5 667.5 334.0 665.4 334.5 660.5 335.0 663.8 335.5 663.3 336.0 667.9 336.5 659.1 337.0 656.6 337.5 653.9 338.0 659.7 338.5 655.2 339.0 659.8 339.5 661.6 340.0 658.5 340.5 656.7 341.0 663.8 341.5 658.9 342.0 660.2 342.5 662.5 343.0 654.7 343.5 655.9 344.0 667.3 344.5 658.2 345.0 655.0 345.5 657.5 346.0 656.3 346.5 653.9 347.0 656.5 347.5 657.7 348.0 657.6 348.5 659.3 349.0 651.4 349.5 652.1 350.0 659.7 350.5 655.4 351.0 660.8 351.5 657.6 352.0 651.6 352.5 658.1 353.0 652.7 353.5 656.8 354.0 660.0 354.5 662.8 355.0 655.2 355.5 657.7 356.0 656.2 356.5 657.7 357.0 646.2 357.5 653.4 358.0 655.6 358.5 656.0 359.0 651.7 359.5 656.9 360.0 657.7 360.5 654.1 361.0 652.9 361.5 652.3 362.0 653.9 362.5 657.3 363.0 658.2 363.5 651.4 364.0 649.7 364.5 650.0 365.0 655.9 365.5 653.2 366.0 653.4 366.5 653.9 367.0 653.4 367.5 651.6 368.0 648.3 368.5 649.6 369.0 652.0 369.5 652.8 370.0 650.1 370.5 649.9 371.0 655.8 371.5 649.5 372.0 651.7 372.5 649.7 373.0 647.8 373.5 645.4 374.0 648.6 374.5 647.6 375.0 653.1 375.5 646.2 376.0 648.6 376.5 652.1 377.0 649.4 377.5 651.3 378.0 652.3 378.5 643.8 379.0 647.8 379.5 645.9 380.0 653.5 380.5 648.4 381.0 650.4 381.5 654.3 382.0 647.2 382.5 648.5 383.0 649.5 383.5 647.1 384.0 652.1 384.5 650.4 385.0 650.9 385.5 647.5 386.0 646.0 386.5 645.7 387.0 645.5 387.5 641.0 388.0 647.5 388.5 648.8 389.0 645.7 389.5 643.9 390.0 645.4 390.5 645.8 391.0 645.9 391.5 650.5 392.0 641.4 392.5 645.2 393.0 646.0 393.5 643.7 394.0 642.4 394.5 639.5 395.0 640.7 395.5 644.8 396.0 647.1 396.5 639.7 397.0 643.3 397.5 643.2 398.0 644.6 398.5 641.9 399.0 642.3 399.5 643.6 400.0 636.6 400.5 640.5 401.0 634.2 401.5 633.4 402.0 637.1 402.5 634.6 403.0 641.4 403.5 642.9 404.0 638.5 404.5 639.0 405.0 638.7 405.5 638.5 406.0 639.9 406.5 640.6 407.0 637.9 407.5 636.8 408.0 637.7 408.5 642.1 409.0 638.0 409.5 644.3 410.0 638.6 410.5 644.0 411.0 635.4 411.5 637.1 412.0 641.0 412.5 641.0 413.0 638.9 413.5 646.2 414.0 639.7 414.5 640.4 415.0 637.5 415.5 644.9 416.0 642.3 416.5 640.8 417.0 634.0 417.5 640.6 418.0 637.9 418.5 640.7 419.0 642.4 419.5 636.9 420.0 640.1 420.5 642.3 421.0 639.9 421.5 638.3 422.0 635.9 422.5 637.2 423.0 635.2 423.5 642.7 424.0 639.8 424.5 635.4 425.0 639.4 425.5 635.1 426.0 628.5 426.5 643.4 427.0 643.3 427.5 634.5 428.0 637.0 428.5 640.0 429.0 638.1 429.5 636.5 430.0 637.6 430.5 638.4 431.0 637.3 431.5 639.8 432.0 638.3 432.5 636.5 433.0 639.0 433.5 633.4 434.0 643.6 434.5 633.0 435.0 638.4 435.5 639.7 436.0 639.9 436.5 639.3 437.0 642.5 437.5 634.6 438.0 638.0 438.5 638.6 439.0 636.4 439.5 636.0 440.0 642.2 440.5 635.5 441.0 636.2 441.5 636.8 442.0 637.0 442.5 638.1 443.0 636.9 443.5 638.7 444.0 637.9 444.5 639.0 445.0 641.9 445.5 634.6 446.0 642.8 446.5 635.8 447.0 639.5 447.5 637.8 448.0 636.3 448.5 630.8 449.0 642.6 449.5 634.8 450.0 634.8 450.5 640.9 451.0 637.7 451.5 643.8 452.0 643.1 452.5 639.9 453.0 638.5 453.5 640.3 454.0 633.5 454.5 638.5 455.0 638.5 455.5 636.5 456.0 639.0 456.5 633.5 457.0 641.4 457.5 642.7 458.0 634.4 458.5 639.2 459.0 643.9 459.5 640.3 460.0 635.7 460.5 636.0 461.0 642.2 461.5 645.5 462.0 636.0 462.5 639.9 463.0 637.3 463.5 639.1 464.0 641.2 464.5 640.2 465.0 638.2 465.5 647.5 466.0 640.2 466.5 640.2 467.0 644.6 467.5 641.2 468.0 640.6 468.5 644.5 469.0 638.1 469.5 644.1 470.0 645.2 470.5 644.1 471.0 641.5 471.5 642.2 472.0 636.8 472.5 642.2 473.0 643.7 473.5 645.8 474.0 643.6 474.5 642.0 475.0 640.8 475.5 643.6 476.0 644.3 476.5 648.1 477.0 644.3 477.5 642.9 478.0 644.4 478.5 643.3 479.0 644.4 479.5 638.1 480.0 640.4 480.5 641.9 481.0 647.5 481.5 646.0 482.0 646.9 482.5 650.5 483.0 643.5 483.5 650.8 484.0 648.6 484.5 645.2 485.0 652.6 485.5 643.3 486.0 644.5 486.5 647.7 487.0 649.9 487.5 648.2 488.0 642.1 488.5 648.3 489.0 649.2 489.5 658.0 490.0 654.3 490.5 650.5 491.0 646.7 491.5 651.6 492.0 646.9 492.5 651.5 493.0 652.3 493.5 650.0 494.0 652.3 494.5 650.6 495.0 650.0 495.5 657.1 496.0 654.2 496.5 651.5 497.0 650.2 497.5 653.5 498.0 654.9 498.5 656.1 499.0 658.3 499.5 655.2 500.0 650.3 500.5 660.7 501.0 658.1 501.5 657.2 502.0 659.1 502.5 650.1 503.0 653.9 503.5 653.7 504.0 659.4 504.5 651.9 505.0 654.9 505.5 661.1 506.0 658.4 506.5 655.3 507.0 662.8 507.5 652.6 508.0 658.6 508.5 656.6 509.0 659.1 509.5 656.8 510.0 655.1 510.5 658.7 511.0 654.0 511.5 660.2 512.0 657.6 512.5 661.8 513.0 657.5 513.5 657.0 514.0 660.7 514.5 663.6 515.0 653.0 515.5 660.3 516.0 662.1 516.5 655.6 517.0 657.6 517.5 662.7 518.0 658.1 518.5 658.9 519.0 666.8 519.5 658.3 520.0 658.7 520.5 654.2 521.0 658.3 521.5 658.1 522.0 667.8 522.5 666.4 523.0 658.5 523.5 669.2 524.0 665.4 524.5 662.5 525.0 665.9 525.5 664.7 526.0 661.1 526.5 658.1 527.0 661.0 527.5 664.1 528.0 663.1 528.5 662.1 529.0 667.8 529.5 661.3 530.0 667.9 530.5 663.6 531.0 665.7 531.5 661.8 532.0 665.6 532.5 663.2 533.0 660.3 533.5 666.0 534.0 666.1 534.5 669.1 535.0 667.5 535.5 663.4 536.0 664.9 536.5 659.0 537.0 663.6 537.5 671.6 538.0 672.4 538.5 670.2 539.0 668.8 539.5 669.9 540.0 669.7 540.5 662.6 541.0 665.6 541.5 672.4 542.0 672.6 542.5 669.7 543.0 668.0 543.5 667.9 544.0 667.6 544.5 666.5 545.0 663.4 545.5 670.3 546.0 668.5 546.5 669.4 547.0 675.8 547.5 672.3 548.0 668.2 548.5 672.6 549.0 665.9 549.5 674.4 550.0 672.0 550.5 670.6 551.0 673.3 551.5 676.3 552.0 670.2 552.5 668.6 553.0 678.9 553.5 672.2 554.0 677.2 554.5 670.3 555.0 673.9 555.5 670.7 556.0 675.0 556.5 672.2 557.0 671.1 557.5 678.5 558.0 674.7 558.5 667.1 559.0 673.2 559.5 671.1 560.0 670.3 560.5 672.5 561.0 673.0 561.5 674.9 562.0 672.3 562.5 669.0 563.0 673.5 563.5 678.3 564.0 671.1 564.5 677.8 565.0 677.4 565.5 674.6 566.0 677.2 566.5 673.9 567.0 675.2 567.5 673.3 568.0 678.3 568.5 681.4 569.0 674.9 569.5 681.1 570.0 670.4 570.5 674.6 571.0 674.3 571.5 683.4 572.0 675.9 572.5 680.5 573.0 671.4 573.5 678.6 574.0 680.2 574.5 678.3 575.0 669.6 575.5 679.2 576.0 681.3 576.5 683.1 577.0 680.2 577.5 673.4 578.0 678.3 578.5 682.1 579.0 676.5 579.5 681.1 580.0 677.8 580.5 679.7 581.0 682.0 581.5 677.2 582.0 689.0 582.5 680.2 583.0 680.9 583.5 677.4 584.0 680.1 584.5 679.1 585.0 675.2 585.5 675.1 586.0 681.1 586.5 680.0 587.0 671.7 587.5 673.3 588.0 679.4 588.5 680.3 589.0 682.6 589.5 676.6 590.0 682.7 590.5 679.8 591.0 679.2 591.5 680.5 592.0 684.3 592.5 682.9 593.0 684.1 593.5 679.0 594.0 680.4 594.5 677.6 595.0 679.7 595.5 680.3 596.0 680.1 596.5 684.1 597.0 683.2 597.5 684.4 598.0 682.4 598.5 685.7 599.0 682.6 599.5 685.5 600.0 684.1 600.5 684.9 601.0 682.4 601.5 678.6 602.0 678.0 602.5 689.3 603.0 684.2 603.5 684.5 604.0 682.6 604.5 681.8 605.0 692.8 605.5 679.8 606.0 683.4 606.5 683.5 607.0 680.1 607.5 679.7 608.0 681.7 608.5 682.9 609.0 682.6 609.5 686.9 610.0 680.5 610.5 685.8 611.0 689.4 611.5 687.6 612.0 681.1 612.5 675.3 613.0 687.7 613.5 686.7 614.0 683.3 614.5 689.5 615.0 684.1 615.5 685.8 616.0 682.2 616.5 686.7 617.0 684.4 617.5 684.3 618.0 689.5 618.5 686.8 619.0 681.4 619.5 688.6 620.0 689.2 620.5 683.9 621.0 685.4 621.5 687.0 622.0 686.1 622.5 687.5 623.0 689.3 623.5 685.7 624.0 694.1 624.5 685.3 625.0 685.9 625.5 694.1 626.0 695.6 626.5 688.2 627.0 687.6 627.5 684.8 628.0 692.1 628.5 689.1 629.0 685.9 629.5 690.0 630.0 693.2 630.5 691.1 631.0 696.1 631.5 692.8 632.0 690.6 632.5 689.2 633.0 691.2 633.5 693.4 634.0 692.3 634.5 693.0 635.0 690.4 635.5 692.2 636.0 693.7 636.5 689.4 637.0 685.8 637.5 695.5 638.0 691.9 638.5 688.7 639.0 690.9 639.5 689.4 640.0 684.8 640.5 689.6 641.0 685.8 641.5 690.9 642.0 690.0 642.5 693.9 643.0 690.0 643.5 691.6 644.0 689.5 644.5 689.3 645.0 686.1 645.5 693.7 646.0 691.1 646.5 688.7 647.0 691.3 647.5 689.3 648.0 688.4 648.5 691.5 649.0 694.5 649.5 689.9 650.0 686.3 650.5 688.8 651.0 696.4 651.5 688.3 652.0 694.5 652.5 690.1 653.0 693.2 653.5 690.6 654.0 686.0 654.5 689.6 655.0 697.5 655.5 690.6 656.0 692.7 656.5 690.0 657.0 690.6 657.5 692.0 658.0 692.5 658.5 698.0 659.0 691.0 659.5 690.5 660.0 689.1 660.5 687.1 661.0 686.2 661.5 693.2 662.0 685.4 662.5 695.6 663.0 693.9 663.5 690.3 664.0 687.7 664.5 691.4 665.0 691.4 665.5 694.8 666.0 689.0 666.5 690.2 667.0 691.2 667.5 690.5 668.0 689.5 668.5 686.1 669.0 686.4 669.5 689.4 670.0 690.8 670.5 694.6 671.0 698.6 671.5 696.8 672.0 692.8 672.5 697.3 673.0 691.3 673.5 690.0 674.0 698.7 674.5 688.4 675.0 690.4 675.5 690.9 676.0 696.2 676.5 690.0 677.0 694.2 677.5 690.6 678.0 688.2 678.5 692.6 679.0 692.4 679.5 688.5 680.0 689.4 680.5 689.6 681.0 695.0 681.5 693.5 682.0 692.9 682.5 693.7 683.0 690.8 683.5 693.7 684.0 690.5 684.5 688.3 685.0 690.3 685.5 693.1 686.0 692.8 686.5 695.8 687.0 687.5 687.5 692.0 688.0 693.9 688.5 689.9 689.0 693.6 689.5 691.7 690.0 689.6 690.5 696.4 691.0 688.9 691.5 696.1 692.0 691.9 692.5 690.4 693.0 690.6 693.5 691.1 694.0 690.9 694.5 694.2 695.0 687.9 695.5 697.3 696.0 696.1 696.5 697.8 697.0 690.8 697.5 686.9 698.0 692.0 698.5 693.4 699.0 694.8 699.5 692.4 700.0 693.8 700.5 694.5 701.0 689.5 701.5 699.5 702.0 690.9 702.5 695.0 703.0 697.5 703.5 692.0 704.0 694.4 704.5 699.3 705.0 693.7 705.5 697.6 706.0 695.4 706.5 695.3 707.0 696.8 707.5 694.0 708.0 694.2 708.5 697.6 709.0 695.6 709.5 696.4 710.0 691.4 710.5 695.1 711.0 698.6 711.5 697.7 712.0 696.1 712.5 693.7 713.0 693.4 713.5 696.6 714.0 699.5 714.5 695.5 715.0 699.2 715.5 694.6 716.0 699.0 716.5 692.6 717.0 696.1 717.5 692.5 718.0 697.6 718.5 697.4 719.0 693.0 719.5 693.6 720.0 694.6 720.5 691.6 721.0 693.3 721.5 693.5 722.0 698.3 722.5 700.1 723.0 694.8 723.5 695.3 724.0 696.8 724.5 694.7 725.0 695.5 725.5 698.7 726.0 697.0 726.5 696.1 727.0 694.8 727.5 700.7 728.0 694.7 728.5 696.9 729.0 693.6 729.5 694.9 730.0 696.9 730.5 695.6 731.0 698.3 731.5 697.0 732.0 692.8 732.5 690.2 733.0 699.7 733.5 695.2 734.0 701.2 734.5 697.0 735.0 694.8 735.5 698.6 736.0 696.3 736.5 697.2 737.0 694.5 737.5 699.0 738.0 700.3 738.5 695.8 739.0 702.4 739.5 695.7 740.0 698.1 740.5 692.8 741.0 692.0 741.5 703.4 742.0 701.5 742.5 700.8 743.0 692.8 743.5 698.2 744.0 698.8 744.5 697.9 745.0 698.5 745.5 695.1 746.0 697.3 746.5 694.6 747.0 696.8 747.5 698.9 748.0 695.7 748.5 697.1 749.0 696.7 749.5 698.0 750.0 700.6 750.5 698.7 751.0 699.2 751.5 694.1 752.0 697.1 752.5 700.4 753.0 695.8 753.5 697.0 754.0 695.5 754.5 702.0 755.0 697.0 755.5 696.3 756.0 700.1 756.5 701.4 757.0 699.8 757.5 701.2 758.0 699.1 758.5 698.1 759.0 697.3 759.5 697.1 760.0 696.9 760.5 699.6 761.0 698.3 761.5 698.9 762.0 700.4 762.5 698.6 763.0 695.0 763.5 696.6 764.0 695.7 764.5 693.6 765.0 699.2 765.5 695.6 766.0 695.4 766.5 696.0 767.0 701.4 767.5 698.2 768.0 701.8 768.5 698.8 769.0 697.9 769.5 700.7 770.0 700.8 770.5 699.5 771.0 696.4 771.5 698.0 772.0 696.0 772.5 698.6 773.0 699.6 773.5 703.4 774.0 703.2 774.5 701.3 775.0 702.0 775.5 700.1 776.0 707.0 776.5 703.7 777.0 706.7 777.5 700.6 778.0 700.7 778.5 702.5 779.0 700.2 779.5 700.6 780.0 697.1 780.5 702.3 781.0 700.2 781.5 702.0 782.0 699.3 782.5 695.1 783.0 701.3 783.5 703.1 784.0 696.5 784.5 697.4 785.0 699.2 785.5 699.4 786.0 695.5 786.5 704.9 787.0 702.9 787.5 698.6 788.0 695.4 788.5 701.2 789.0 705.6 789.5 702.5 790.0 703.5 790.5 697.9 791.0 701.1 791.5 696.5 792.0 705.8 792.5 702.0 793.0 695.0 793.5 695.7 794.0 701.9 794.5 701.0 795.0 699.9 795.5 702.4 796.0 706.1 796.5 701.8 797.0 696.1 797.5 700.4 798.0 697.4 798.5 698.8 799.0 701.8 799.5 700.6 800.0 698.2 800.5 701.0 801.0 699.0 801.5 702.5 802.0 700.5 802.5 702.2 803.0 700.5 803.5 703.2 804.0 700.9 804.5 701.3 805.0 699.9 805.5 701.8 806.0 696.8 806.5 708.5 807.0 699.7 807.5 701.8 808.0 700.3 808.5 700.3 809.0 702.7 809.5 700.3 810.0 700.6 810.5 698.1 811.0 699.4 811.5 698.8 812.0 706.5 812.5 698.4 813.0 699.1 813.5 702.4 814.0 705.7 814.5 697.6 815.0 698.0 815.5 702.4 816.0 703.0 816.5 698.5 817.0 697.5 817.5 699.7 818.0 704.1 818.5 702.1 819.0 704.2 819.5 702.0 820.0 702.3 820.5 703.9 821.0 702.1 821.5 703.0 822.0 700.1 822.5 700.9 823.0 703.7 823.5 701.9 824.0 700.7 824.5 704.3 825.0 704.0 825.5 702.6 826.0 700.7 826.5 705.0 827.0 709.1 827.5 700.7 828.0 698.9 828.5 700.8 829.0 700.5 829.5 699.7 830.0 699.9 830.5 705.1 831.0 705.1 831.5 706.7 832.0 704.9 832.5 701.8 833.0 705.8 833.5 701.5 834.0 702.2 834.5 700.1 835.0 706.2 835.5 705.7 836.0 702.0 836.5 702.4 837.0 703.3 837.5 703.7 838.0 705.4 838.5 703.4 839.0 704.3 839.5 699.6 840.0 702.6 840.5 698.9 841.0 707.8 841.5 706.9 842.0 705.2 842.5 706.2 843.0 708.5 843.5 705.8 844.0 699.5 844.5 703.0 845.0 697.7 845.5 701.5 846.0 700.5 846.5 703.6 847.0 704.6 847.5 701.3 848.0 703.0 848.5 704.4 849.0 703.3 849.5 703.3 850.0 697.8 850.5 702.7 851.0 705.8 851.5 704.5 852.0 700.2 852.5 703.2 853.0 704.5 853.5 701.5 854.0 705.6 854.5 702.0 855.0 703.2 855.5 703.7 856.0 709.5 856.5 703.2 857.0 702.6 857.5 705.8 858.0 702.9 858.5 704.6 859.0 698.6 859.5 704.9 860.0 704.1 860.5 701.0 861.0 707.5 861.5 703.6 862.0 703.8 862.5 701.1 863.0 700.3 863.5 702.9 864.0 700.6 864.5 705.5 865.0 706.4 865.5 702.8 866.0 700.5 866.5 703.4 867.0 701.8 867.5 704.8 868.0 704.9 868.5 703.4 869.0 704.6 869.5 707.0 870.0 708.6 870.5 703.3 871.0 706.3 871.5 704.0 872.0 702.0 872.5 707.6 873.0 705.5 873.5 704.9 874.0 705.4 874.5 704.2 875.0 702.1 875.5 708.9 876.0 706.8 876.5 705.3 877.0 707.0 877.5 707.7 878.0 704.2 878.5 706.1 879.0 703.9 879.5 706.2 880.0 704.1 880.5 710.5 881.0 703.9 881.5 705.9 882.0 705.8 882.5 703.9 883.0 706.9 883.5 704.5 884.0 703.8 884.5 704.7 885.0 703.0 885.5 707.6 886.0 706.2 886.5 707.1 887.0 701.6 887.5 705.4 888.0 702.9 888.5 704.9 889.0 707.7 889.5 705.3 890.0 704.3 890.5 707.3 891.0 707.1 891.5 709.0 892.0 700.4 892.5 705.5 893.0 703.7 893.5 702.6 894.0 704.9 894.5 701.9 895.0 699.4 895.5 702.5 896.0 704.0 896.5 708.9 897.0 702.9 897.5 701.9 898.0 700.0 898.5 703.7 899.0 704.0 899.5 704.8 900.0 701.1 900.5 702.7 901.0 699.2 901.5 704.8 902.0 700.8 902.5 698.0 903.0 707.0 903.5 705.5 904.0 705.1 904.5 705.1 905.0 701.9 905.5 706.7 906.0 701.8 906.5 708.5 907.0 704.7 907.5 699.9 908.0 706.1 908.5 708.6 909.0 703.4 909.5 706.4 910.0 703.5 910.5 702.5 911.0 698.0 911.5 706.7 912.0 702.8 912.5 704.7 913.0 701.2 913.5 701.7 914.0 706.2 914.5 702.8 915.0 702.7 915.5 700.8 916.0 704.0 916.5 705.3 917.0 702.5 917.5 703.0 918.0 700.7 918.5 706.5 919.0 701.9 919.5 702.9 920.0 707.0 920.5 702.7 921.0 699.7 921.5 701.0 922.0 702.3 922.5 707.0 923.0 703.5 923.5 702.4 924.0 704.7 924.5 705.7 925.0 701.0 925.5 705.9 926.0 704.5 926.5 703.5 927.0 697.1 927.5 702.8 928.0 705.3 928.5 701.5 929.0 707.2 929.5 702.1 930.0 699.5 930.5 702.9 931.0 702.1 931.5 703.1 932.0 700.6 932.5 703.7 933.0 699.4 933.5 700.6 934.0 697.2 934.5 697.8 935.0 699.6 935.5 697.2 936.0 697.1 936.5 697.0 937.0 697.2 937.5 697.3 938.0 696.2 938.5 695.3 939.0 691.8 939.5 688.0 940.0 682.9 940.5 682.0 941.0 676.2 941.5 668.1 942.0 665.4 942.5 647.8 943.0 633.1 943.5 608.9 944.0 577.6 944.5 549.0 945.0 534.1 945.5 547.2 946.0 578.8 946.5 607.9 947.0 631.2 947.5 649.0 948.0 661.7 948.5 671.7 949.0 678.8 949.5 679.6 950.0 687.3 950.5 694.2 951.0 690.0 951.5 693.0 952.0 696.2 952.5 698.5 953.0 695.4 953.5 695.6 954.0 696.2 954.5 701.3 955.0 701.4 955.5 695.2 956.0 695.7 956.5 698.0 957.0 697.7 957.5 702.1 958.0 701.9 958.5 705.9 959.0 703.5 959.5 702.3 960.0 704.7 960.5 700.4 961.0 699.5 961.5 702.7 962.0 704.7 962.5 699.3 963.0 704.8 963.5 704.8 964.0 702.0 964.5 703.5 965.0 702.7 965.5 703.5 966.0 705.1 966.5 701.7 967.0 705.7 967.5 705.4 968.0 705.5 968.5 699.5 969.0 699.8 969.5 705.2 970.0 702.6 970.5 702.4 971.0 702.3 971.5 701.1 972.0 703.4 972.5 702.5 973.0 702.7 973.5 705.1 974.0 701.6 974.5 706.5 975.0 699.5 975.5 709.5 976.0 701.4 976.5 705.5 977.0 706.2 977.5 704.3 978.0 705.9 978.5 704.2 979.0 700.8 979.5 705.2 980.0 706.9 980.5 703.4 981.0 701.0 981.5 703.3 982.0 705.3 982.5 705.3 983.0 706.9 983.5 705.8 984.0 705.8 984.5 700.6 985.0 709.4 985.5 704.9 986.0 706.7 986.5 704.2 987.0 704.7 987.5 705.1 988.0 708.3 988.5 708.2 989.0 706.4 989.5 709.3 990.0 704.5 990.5 706.4 991.0 704.4 991.5 708.1 992.0 705.5 992.5 707.5 993.0 709.1 993.5 701.4 994.0 710.1 994.5 706.3 995.0 705.1 995.5 701.9 996.0 705.2 996.5 701.2 997.0 706.0 997.5 705.5 998.0 709.6 998.5 705.3 999.0 708.1 999.5 708.3 1000.0 710.2 1000.5 705.5 1001.0 707.6 1001.5 702.9 1002.0 703.8 1002.5 705.5 1003.0 706.0 1003.5 703.6 1004.0 705.2 1004.5 707.5 1005.0 705.2 1005.5 705.8 1006.0 704.3 1006.5 708.9 1007.0 709.7 1007.5 706.6 1008.0 705.9 1008.5 709.5 1009.0 707.1 1009.5 704.8 1010.0 703.4 1010.5 705.0 1011.0 710.7 1011.5 705.0 1012.0 712.1 1012.5 706.2 1013.0 705.8 1013.5 708.9 1014.0 705.7 1014.5 707.0 1015.0 704.2 1015.5 703.7 1016.0 704.8 1016.5 706.7 1017.0 704.9 1017.5 702.3 1018.0 707.3 1018.5 706.0 1019.0 705.7 1019.5 705.1 1020.0 701.8 1020.5 709.6 1021.0 705.4 1021.5 707.4 1022.0 709.2 1022.5 708.6 1023.0 706.8 1023.5 706.4 1024.0 707.0 1024.5 708.2 1025.0 707.6 1025.5 705.5 1026.0 707.3 1026.5 707.2 1027.0 707.8 1027.5 706.8 1028.0 709.2 1028.5 706.8 1029.0 708.2 1029.5 706.5 1030.0 705.3 1030.5 704.5 1031.0 706.1 1031.5 707.5 1032.0 709.0 1032.5 706.3 1033.0 705.4 1033.5 705.4 1034.0 709.1 1034.5 706.7 1035.0 705.4 1035.5 708.0 1036.0 703.8 1036.5 706.7 1037.0 706.4 1037.5 706.2 1038.0 704.1 1038.5 708.5 1039.0 709.9 1039.5 703.8 1040.0 706.7 1040.5 707.8 1041.0 711.1 1041.5 705.6 1042.0 704.6 1042.5 706.5 1043.0 710.6 1043.5 706.6 1044.0 707.0 1044.5 710.1 1045.0 702.2 1045.5 702.1 1046.0 708.4 1046.5 708.1 1047.0 703.7 1047.5 707.6 1048.0 706.6 1048.5 707.0 1049.0 704.9 1049.5 705.6 1050.0 704.7 1050.5 706.6 1051.0 706.1 1051.5 709.9 1052.0 707.8 1052.5 703.3 1053.0 707.4 1053.5 709.4 1054.0 707.1 1054.5 708.7 1055.0 706.5 1055.5 708.0 1056.0 704.6 1056.5 708.1 1057.0 703.7 1057.5 709.2 1058.0 703.5 1058.5 702.2 1059.0 707.6 1059.5 706.2 1060.0 706.8 1060.5 707.4 1061.0 706.5 1061.5 704.8 1062.0 707.0 1062.5 707.3 1063.0 707.5 1063.5 710.6 1064.0 705.1 1064.5 706.7 1065.0 707.7 1065.5 705.6 1066.0 704.1 1066.5 705.4 1067.0 708.7 1067.5 706.0 1068.0 707.8 1068.5 705.1 1069.0 707.5 1069.5 705.2 1070.0 704.8 1070.5 706.8 1071.0 706.7 1071.5 709.5 1072.0 703.2 1072.5 707.6 1073.0 709.8 1073.5 709.3 1074.0 705.8 1074.5 705.2 1075.0 705.5 1075.5 707.2 1076.0 706.9 1076.5 707.2 1077.0 707.8 1077.5 704.4 1078.0 704.2 1078.5 704.0 1079.0 703.8 1079.5 706.3 1080.0 707.2 1080.5 711.7 1081.0 707.6 1081.5 706.6 1082.0 709.4 1082.5 705.0 1083.0 707.2 1083.5 708.5 1084.0 708.1 1084.5 707.3 1085.0 705.8 1085.5 704.0 1086.0 706.2 1086.5 705.3 1087.0 707.9 1087.5 706.2 1088.0 707.6 1088.5 703.2 1089.0 708.4 1089.5 704.7 1090.0 703.2 1090.5 703.6 1091.0 705.1 1091.5 708.7 1092.0 707.8 1092.5 704.0 1093.0 706.5 1093.5 706.1 1094.0 703.1 1094.5 704.3 1095.0 702.1 1095.5 704.5 1096.0 700.9 1096.5 704.6 1097.0 704.3 1097.5 704.5 1098.0 704.5 1098.5 708.5 1099.0 705.4 1099.5 706.5 1100.0 707.5 1100.5 707.8 1101.0 707.3 1101.5 704.7 1102.0 703.6 1102.5 704.1 1103.0 704.7 1103.5 705.6 1104.0 705.3 1104.5 707.6 1105.0 705.1 1105.5 708.8 1106.0 707.1 1106.5 703.9 1107.0 706.5 1107.5 698.7 1108.0 707.1 1108.5 704.9 1109.0 704.6 1109.5 700.1 1110.0 708.3 1110.5 702.2 1111.0 701.9 1111.5 703.9 1112.0 700.5 1112.5 698.3 1113.0 700.3 1113.5 695.6 1114.0 697.6 1114.5 694.4 1115.0 693.8 1115.5 686.2 1116.0 686.1 1116.5 679.3 1117.0 674.4 1117.5 664.3 1118.0 657.9 1118.5 651.1 1119.0 648.3 1119.5 650.4 1120.0 657.3 1120.5 665.4 1121.0 671.7 1121.5 677.6 1122.0 683.2 1122.5 691.1 1123.0 692.1 1123.5 696.2 1124.0 697.0 1124.5 698.2 1125.0 699.8 1125.5 699.6 1126.0 703.8 1126.5 702.4 1127.0 703.1 1127.5 700.4 1128.0 704.3 1128.5 702.7 1129.0 703.4 1129.5 706.8 1130.0 702.8 1130.5 704.8 1131.0 706.7 1131.5 707.9 1132.0 704.7 1132.5 706.6 1133.0 706.7 1133.5 703.9 1134.0 702.0 1134.5 702.5 1135.0 707.7 1135.5 706.8 1136.0 704.0 1136.5 705.5 1137.0 706.1 1137.5 706.2 1138.0 707.0 1138.5 711.6 1139.0 705.6 1139.5 707.5 1140.0 705.7 1140.5 706.1 1141.0 705.6 1141.5 707.0 1142.0 706.4 1142.5 708.2 1143.0 708.0 1143.5 705.8 1144.0 711.5 1144.5 705.3 1145.0 708.5 1145.5 712.2 1146.0 706.4 1146.5 710.5 1147.0 710.8 1147.5 708.6 1148.0 704.2 1148.5 710.9 1149.0 708.2 1149.5 707.0 1150.0 710.7 1150.5 706.7 1151.0 710.3 1151.5 707.1 1152.0 709.3 1152.5 706.1 1153.0 707.5 1153.5 706.5 1154.0 706.9 1154.5 708.8 1155.0 708.1 1155.5 708.8 1156.0 711.1 1156.5 708.3 1157.0 704.7 1157.5 708.0 1158.0 708.7 1158.5 710.7 1159.0 710.7 1159.5 710.6 1160.0 708.2 1160.5 710.0 1161.0 705.8 1161.5 711.4 1162.0 709.7 1162.5 709.8 1163.0 708.0 1163.5 708.9 1164.0 707.5 1164.5 710.0 1165.0 706.2 1165.5 710.9 1166.0 710.0 1166.5 713.1 1167.0 708.9 1167.5 708.8 1168.0 709.4 1168.5 709.1 1169.0 708.9 1169.5 706.9 1170.0 706.9 1170.5 708.0 1171.0 708.6 1171.5 706.8 1172.0 706.9 1172.5 708.6 1173.0 710.7 1173.5 708.9 1174.0 710.6 1174.5 711.3 1175.0 710.9 1175.5 708.5 1176.0 708.5 1176.5 705.6 1177.0 708.0 1177.5 710.3 1178.0 707.2 1178.5 712.2 1179.0 712.3 1179.5 708.7 1180.0 711.3 1180.5 706.6 1181.0 707.4 1181.5 708.8 1182.0 709.6 1182.5 709.2 1183.0 707.8 1183.5 713.5 1184.0 710.2 1184.5 710.2 1185.0 711.0 1185.5 710.0 1186.0 709.2 1186.5 708.5 1187.0 706.4 1187.5 712.7 1188.0 707.8 1188.5 706.3 1189.0 708.1 1189.5 706.5 1190.0 713.8 1190.5 710.5 1191.0 712.6 1191.5 712.7 1192.0 710.9 1192.5 710.9 1193.0 708.3 1193.5 709.6 1194.0 708.6 1194.5 709.9 1195.0 708.4 1195.5 712.4 1196.0 711.4 1196.5 709.7 1197.0 706.5 1197.5 711.3 1198.0 711.7 1198.5 709.8 1199.0 707.4 1199.5 710.8 1200.0 712.1 1200.5 706.1 1201.0 711.1 1201.5 706.3 1202.0 710.2 1202.5 713.5 1203.0 710.2 1203.5 711.0 1204.0 709.4 1204.5 710.0 1205.0 714.8 1205.5 712.8 1206.0 709.5 1206.5 709.3 1207.0 710.1 1207.5 714.5 1208.0 710.5 1208.5 712.4 1209.0 709.4 1209.5 707.6 1210.0 712.8 1210.5 710.0 1211.0 708.6 1211.5 708.8 1212.0 708.9 1212.5 709.0 1213.0 707.1 1213.5 712.7 1214.0 711.0 1214.5 712.2 1215.0 709.6 1215.5 711.0 1216.0 710.6 1216.5 712.7 1217.0 711.9 1217.5 711.0 1218.0 709.0 1218.5 707.9 1219.0 708.7 1219.5 709.1 1220.0 709.3 1220.5 707.9 1221.0 713.7 1221.5 710.9 1222.0 706.3 1222.5 708.2 1223.0 707.7 1223.5 710.9 1224.0 712.6 1224.5 708.5 1225.0 711.7 1225.5 709.9 1226.0 712.8 1226.5 713.2 1227.0 711.1 1227.5 711.9 1228.0 710.5 1228.5 709.8 1229.0 708.2 1229.5 711.2 1230.0 710.4 1230.5 709.8 1231.0 710.4 1231.5 710.2 1232.0 708.5 1232.5 709.5 1233.0 712.9 1233.5 710.1 1234.0 713.4 1234.5 708.3 1235.0 707.9 1235.5 710.9 1236.0 712.2 1236.5 709.3 1237.0 711.9 1237.5 712.5 1238.0 712.8 1238.5 710.4 1239.0 710.6 1239.5 707.4 1240.0 710.7 1240.5 711.3 1241.0 713.5 1241.5 708.2 1242.0 709.0 1242.5 708.7 1243.0 712.5 1243.5 705.7 1244.0 708.6 1244.5 714.9 1245.0 712.1 1245.5 708.1 1246.0 710.7 1246.5 712.5 1247.0 711.9 1247.5 710.4 1248.0 709.2 1248.5 712.5 1249.0 710.8 1249.5 712.4 1250.0 711.6 1250.5 709.9 1251.0 713.7 1251.5 709.8 1252.0 711.7 1252.5 709.6 1253.0 710.4 1253.5 710.4 1254.0 709.6 1254.5 711.4 1255.0 713.5 1255.5 714.6 1256.0 713.8 1256.5 710.6 1257.0 713.8 1257.5 711.8 1258.0 714.5 1258.5 708.4 1259.0 713.9 1259.5 709.7 1260.0 713.3 1260.5 710.0 1261.0 712.8 1261.5 710.4 1262.0 707.2 1262.5 709.0 1263.0 710.5 1263.5 711.0 1264.0 706.5 1264.5 708.6 1265.0 709.5 1265.5 710.6 1266.0 711.4 1266.5 709.4 1267.0 708.0 1267.5 711.6 1268.0 710.4 1268.5 712.8 1269.0 710.0 1269.5 712.3 1270.0 709.3 1270.5 711.6 1271.0 711.2 1271.5 711.9 1272.0 709.2 1272.5 710.8 1273.0 709.4 1273.5 710.7 1274.0 712.3 1274.5 717.0 1275.0 711.1 1275.5 712.5 1276.0 711.3 1276.5 713.4 1277.0 712.0 1277.5 713.2 1278.0 711.8 1278.5 715.9 1279.0 713.9 1279.5 707.7 1280.0 711.7 1280.5 711.3 1281.0 706.7 1281.5 709.4 1282.0 710.2 1282.5 709.7 1283.0 711.4 1283.5 707.6 1284.0 712.7 1284.5 712.7 1285.0 711.9 1285.5 710.5 1286.0 711.2 1286.5 710.3 1287.0 713.5 1287.5 712.2 1288.0 715.2 1288.5 710.5 1289.0 714.1 1289.5 710.1 1290.0 710.9 1290.5 709.2 1291.0 712.3 1291.5 711.1 1292.0 712.5 1292.5 714.2 1293.0 711.1 1293.5 712.0 1294.0 713.0 1294.5 711.1 1295.0 710.2 1295.5 712.0 1296.0 712.3 1296.5 712.8 1297.0 712.9 1297.5 710.0 1298.0 712.2 1298.5 713.7 1299.0 710.4 1299.5 712.0 1300.0 710.1 1300.5 711.6 1301.0 714.8 1301.5 711.7 1302.0 709.4 1302.5 712.0 1303.0 711.8 1303.5 713.6 1304.0 708.6 1304.5 709.5 1305.0 711.2 1305.5 708.3 1306.0 713.6 1306.5 707.3 1307.0 709.7 1307.5 708.4 1308.0 710.1 1308.5 713.0 1309.0 712.6 1309.5 713.2 1310.0 712.6 1310.5 707.4 1311.0 712.0 1311.5 707.7 1312.0 710.4 1312.5 710.6 1313.0 710.3 1313.5 712.4 1314.0 709.8 1314.5 714.9 1315.0 712.6 1315.5 713.8 1316.0 712.9 1316.5 713.2 1317.0 711.4 1317.5 715.4 1318.0 709.4 1318.5 712.4 1319.0 711.5 1319.5 711.0 1320.0 712.1 1320.5 710.0 1321.0 713.2 1321.5 713.0 1322.0 711.7 1322.5 713.0 1323.0 709.4 1323.5 707.9 1324.0 710.4 1324.5 711.0 1325.0 716.5 1325.5 711.1 1326.0 713.6 1326.5 713.2 1327.0 715.7 1327.5 711.8 1328.0 712.8 1328.5 711.2 1329.0 709.8 1329.5 709.6 1330.0 710.0 1330.5 714.4 1331.0 712.1 1331.5 711.3 1332.0 711.6 1332.5 710.4 1333.0 711.5 1333.5 711.5 1334.0 712.9 1334.5 713.4 1335.0 708.3 1335.5 712.0 1336.0 714.3 1336.5 709.6 1337.0 711.1 1337.5 711.9 1338.0 713.8 1338.5 712.8 1339.0 711.2 1339.5 712.6 1340.0 713.7 1340.5 712.4 1341.0 715.3 1341.5 712.5 1342.0 709.6 1342.5 710.1 1343.0 711.4 1343.5 711.2 1344.0 712.9 1344.5 712.4 1345.0 715.1 1345.5 713.3 1346.0 714.6 1346.5 710.2 1347.0 710.8 1347.5 713.0 1348.0 711.9 1348.5 712.9 1349.0 712.2 1349.5 710.5 1350.0 715.1 1350.5 714.0 1351.0 708.6 1351.5 710.5 1352.0 711.7 1352.5 713.1 1353.0 711.6 1353.5 709.0 1354.0 713.4 1354.5 711.3 1355.0 714.1 1355.5 712.3 1356.0 713.7 1356.5 713.4 1357.0 713.5 1357.5 710.7 1358.0 713.8 1358.5 712.2 1359.0 709.3 1359.5 711.0 1360.0 711.1 1360.5 712.7 1361.0 713.1 1361.5 709.6 1362.0 713.2 1362.5 711.6 1363.0 709.7 1363.5 713.4 1364.0 710.3 1364.5 709.4 1365.0 713.3 1365.5 713.6 1366.0 710.5 1366.5 713.9 1367.0 713.8 1367.5 710.8 1368.0 715.8 1368.5 711.7 1369.0 712.3 1369.5 707.1 1370.0 713.1 1370.5 710.6 1371.0 712.7 1371.5 708.4 1372.0 714.1 1372.5 714.7 1373.0 715.6 1373.5 706.0 1374.0 713.0 1374.5 712.5 1375.0 705.9 1375.5 710.4 1376.0 711.7 1376.5 714.7 1377.0 710.2 1377.5 712.3 1378.0 711.8 1378.5 712.6 1379.0 711.1 1379.5 713.6 1380.0 713.8 1380.5 709.2 1381.0 714.1 1381.5 710.4 1382.0 711.4 1382.5 714.1 1383.0 712.1 1383.5 713.0 1384.0 713.5 1384.5 713.1 1385.0 710.8 1385.5 710.0 1386.0 713.3 1386.5 713.4 1387.0 712.6 1387.5 711.6 1388.0 713.6 1388.5 711.9 1389.0 709.2 1389.5 712.5 1390.0 712.9 1390.5 713.5 1391.0 710.2 1391.5 710.5 1392.0 712.6 1392.5 711.1 1393.0 711.8 1393.5 713.8 1394.0 712.7 1394.5 715.6 1395.0 712.5 1395.5 715.3 1396.0 714.1 1396.5 717.0 1397.0 712.0 1397.5 711.8 1398.0 714.6 1398.5 711.0 1399.0 711.1 1399.5 712.5 1400.0 712.8 1400.5 709.2 1401.0 712.5 1401.5 711.4 1402.0 712.0 1402.5 712.4 1403.0 711.7 1403.5 714.1 1404.0 713.0 1404.5 711.7 1405.0 712.2 1405.5 714.1 1406.0 713.6 1406.5 714.6 1407.0 711.8 1407.5 712.3 1408.0 716.0 1408.5 712.0 1409.0 715.4 1409.5 713.7 1410.0 711.2 1410.5 709.3 1411.0 713.3 1411.5 710.7 1412.0 710.7 1412.5 708.7 1413.0 714.4 1413.5 712.3 1414.0 712.1 1414.5 712.9 1415.0 712.6 1415.5 712.3 1416.0 713.1 1416.5 711.6 1417.0 707.0 1417.5 713.5 1418.0 712.9 1418.5 712.1 1419.0 715.2 1419.5 709.4 1420.0 706.4 1420.5 715.0 1421.0 712.9 1421.5 708.9 1422.0 711.3 1422.5 713.3 1423.0 709.7 1423.5 713.2 1424.0 716.3 1424.5 714.8 1425.0 712.0 1425.5 712.7 1426.0 710.2 1426.5 712.4 1427.0 711.4 1427.5 710.1 1428.0 709.4 1428.5 715.9 1429.0 712.3 1429.5 710.1 1430.0 711.3 1430.5 715.0 1431.0 715.3 1431.5 710.9 1432.0 712.5 1432.5 713.8 1433.0 711.4 1433.5 709.8 1434.0 710.1 1434.5 712.1 1435.0 710.5 1435.5 709.5 1436.0 711.6 1436.5 713.9 1437.0 713.4 1437.5 711.6 1438.0 715.8 1438.5 710.5 1439.0 711.9 1439.5 709.4 1440.0 713.6 1440.5 711.8 1441.0 708.7 1441.5 710.4 1442.0 715.5 1442.5 713.4 1443.0 712.2 1443.5 713.7 1444.0 708.9 1444.5 710.4 1445.0 709.4 1445.5 710.4 1446.0 711.2 1446.5 713.0 1447.0 714.0 1447.5 713.9 1448.0 717.2 1448.5 711.0 1449.0 711.9 1449.5 713.0 1450.0 710.3 1450.5 711.4 1451.0 712.8 1451.5 710.2 1452.0 712.9 1452.5 714.3 1453.0 709.7 1453.5 707.4 1454.0 712.1 1454.5 709.9 1455.0 712.3 1455.5 711.0 1456.0 712.5 1456.5 714.1 1457.0 713.5 1457.5 711.2 1458.0 709.6 1458.5 707.0 1459.0 707.6 1459.5 710.3 1460.0 712.0 1460.5 710.5 1461.0 710.7 1461.5 708.7 1462.0 708.6 1462.5 708.4 1463.0 713.0 1463.5 707.9 1464.0 713.1 1464.5 710.0 1465.0 712.8 1465.5 712.2 1466.0 713.2 1466.5 714.1 1467.0 710.2 1467.5 709.8 1468.0 710.8 1468.5 710.2 1469.0 713.0 1469.5 711.4 1470.0 711.7 1470.5 712.5 1471.0 710.7 1471.5 713.8 1472.0 708.0 1472.5 712.1 1473.0 712.6 1473.5 710.1 1474.0 710.2 1474.5 713.4 1475.0 711.0 1475.5 707.8 1476.0 708.9 1476.5 713.6 1477.0 709.8 1477.5 714.2 1478.0 714.3 1478.5 711.2 1479.0 712.6 1479.5 709.9 1480.0 710.8 1480.5 710.2 1481.0 712.7 1481.5 709.0 1482.0 711.3 1482.5 711.6 1483.0 712.6 1483.5 707.3 1484.0 708.0 1484.5 709.8 1485.0 711.1 1485.5 711.8 1486.0 711.9 1486.5 715.5 1487.0 712.8 1487.5 712.7 1488.0 710.5 1488.5 713.0 1489.0 712.9 1489.5 712.8 1490.0 711.3 1490.5 712.7 1491.0 714.5 1491.5 709.9 1492.0 707.2 1492.5 713.1 1493.0 712.9 1493.5 711.0 1494.0 710.6 1494.5 716.9 1495.0 710.6 1495.5 709.1 1496.0 710.5 1496.5 712.5 1497.0 710.3 1497.5 710.7 1498.0 712.1 1498.5 710.6 1499.0 711.7 1499.5 711.4 1500.0 709.4 1500.5 711.6 1501.0 709.2 1501.5 713.3 1502.0 709.6 1502.5 711.0 1503.0 707.9 1503.5 710.6 1504.0 709.0 1504.5 714.4 1505.0 711.2 1505.5 712.5 1506.0 708.0 1506.5 709.0 1507.0 711.1 1507.5 708.8 1508.0 713.7 1508.5 710.7 1509.0 711.7 1509.5 712.0 1510.0 711.2 1510.5 713.0 1511.0 710.1 1511.5 712.2 1512.0 713.8 1512.5 711.9 1513.0 711.7 1513.5 710.8 1514.0 711.6 1514.5 712.8 1515.0 711.0 1515.5 708.2 1516.0 711.8 1516.5 711.2 1517.0 712.4 1517.5 711.5 1518.0 714.5 1518.5 709.1 1519.0 709.6 1519.5 712.7 1520.0 709.4 1520.5 712.1 1521.0 711.4 1521.5 707.6 1522.0 712.8 1522.5 714.1 1523.0 711.9 1523.5 708.7 1524.0 713.0 1524.5 709.4 1525.0 711.2 1525.5 712.3 1526.0 709.9 1526.5 708.2 1527.0 711.2 1527.5 711.4 1528.0 709.8 1528.5 709.9 1529.0 712.9 1529.5 711.3 1530.0 710.6 1530.5 710.3 1531.0 711.8 1531.5 711.6 1532.0 711.1 1532.5 708.8 1533.0 710.7 1533.5 710.3 1534.0 711.6 1534.5 713.7 1535.0 713.3 1535.5 712.7 1536.0 711.7 1536.5 710.8 1537.0 712.1 1537.5 710.6 1538.0 710.8 1538.5 709.9 1539.0 711.4 1539.5 711.3 1540.0 715.0 1540.5 712.6 1541.0 710.8 1541.5 713.0 1542.0 710.6 1542.5 713.4 1543.0 713.0 1543.5 717.1 1544.0 709.4 1544.5 711.4 1545.0 711.3 1545.5 712.1 1546.0 712.9 1546.5 709.6 1547.0 710.1 1547.5 712.1 1548.0 713.4 1548.5 709.4 1549.0 708.5 1549.5 713.7 1550.0 713.1 1550.5 713.6 1551.0 709.7 1551.5 711.1 1552.0 712.0 1552.5 712.4 1553.0 711.3 1553.5 711.4 1554.0 713.5 1554.5 710.7 1555.0 710.5 1555.5 710.7 1556.0 710.6 1556.5 711.8 1557.0 711.1 1557.5 710.7 1558.0 714.3 1558.5 712.1 1559.0 710.9 1559.5 714.0 1560.0 710.5 1560.5 711.6 1561.0 711.4 1561.5 710.5 1562.0 710.8 1562.5 711.7 1563.0 708.8 1563.5 710.8 1564.0 712.1 1564.5 712.1 1565.0 712.2 1565.5 716.0 1566.0 712.9 1566.5 711.3 1567.0 711.4 1567.5 711.6 1568.0 712.4 1568.5 711.0 1569.0 714.5 1569.5 709.5 1570.0 712.8 1570.5 712.6 1571.0 709.5 1571.5 712.8 1572.0 712.7 1572.5 710.4 1573.0 716.0 1573.5 713.0 1574.0 711.0 1574.5 710.7 1575.0 710.2 1575.5 712.1 1576.0 711.8 1576.5 709.0 1577.0 709.7 1577.5 710.3 1578.0 710.9 1578.5 711.0 1579.0 710.4 1579.5 712.9 1580.0 713.5 1580.5 711.8 1581.0 707.5 1581.5 711.4 1582.0 712.7 1582.5 711.5 1583.0 712.2 1583.5 711.9 1584.0 708.9 1584.5 706.9 1585.0 712.9 1585.5 710.7 1586.0 712.5 1586.5 711.1 1587.0 711.4 1587.5 714.3 1588.0 709.5 1588.5 711.7 1589.0 709.7 1589.5 711.9 1590.0 712.6 1590.5 713.0 1591.0 712.0 1591.5 709.1 1592.0 712.2 1592.5 713.4 1593.0 713.6 1593.5 715.8 1594.0 712.8 1594.5 709.8 1595.0 710.8 1595.5 711.9 1596.0 713.7 1596.5 709.6 1597.0 713.5 1597.5 713.0 1598.0 710.2 1598.5 712.9 1599.0 710.4 1599.5 711.8 1600.0 711.2 1600.5 712.3 1601.0 709.6 1601.5 712.8 1602.0 707.7 1602.5 711.1 1603.0 710.8 1603.5 714.8 1604.0 712.8 1604.5 710.9 1605.0 710.2 1605.5 711.9 1606.0 710.7 1606.5 716.1 1607.0 706.6 1607.5 712.0 1608.0 707.3 1608.5 713.8 1609.0 710.4 1609.5 714.9 1610.0 710.9 1610.5 713.9 1611.0 712.3 1611.5 714.1 1612.0 711.9 1612.5 706.3 1613.0 710.6 1613.5 709.0 1614.0 713.7 1614.5 712.9 1615.0 711.9 1615.5 712.8 1616.0 712.3 1616.5 710.9 1617.0 715.6 1617.5 712.4 1618.0 711.6 1618.5 709.2 1619.0 710.8 1619.5 712.0 1620.0 711.6 1620.5 711.1 1621.0 711.9 1621.5 709.9 1622.0 712.0 1622.5 709.1 1623.0 710.4 1623.5 710.6 1624.0 713.6 1624.5 712.9 1625.0 712.2 1625.5 709.9 1626.0 711.3 1626.5 713.5 1627.0 714.4 1627.5 709.3 1628.0 711.2 1628.5 712.3 1629.0 712.7 1629.5 712.1 1630.0 713.3 1630.5 709.4 1631.0 715.0 1631.5 709.9 1632.0 712.2 1632.5 713.1 1633.0 714.3 1633.5 713.8 1634.0 713.8 1634.5 714.5 1635.0 711.8 1635.5 713.5 1636.0 715.0 1636.5 710.7 1637.0 709.5 1637.5 710.3 1638.0 714.8 1638.5 714.5 1639.0 711.5 1639.5 712.6 1640.0 713.1 1640.5 714.2 1641.0 708.6 1641.5 711.1 1642.0 711.7 1642.5 712.8 1643.0 712.4 1643.5 711.6 1644.0 712.8 1644.5 707.4 1645.0 718.0 1645.5 713.8 1646.0 713.9 1646.5 711.0 1647.0 713.0 1647.5 716.1 1648.0 715.7 1648.5 712.4 1649.0 709.9 1649.5 712.6 1650.0 711.7 1650.5 713.9 1651.0 709.9 1651.5 711.9 1652.0 712.8 1652.5 711.4 1653.0 714.3 1653.5 710.2 1654.0 710.0 1654.5 711.7 1655.0 713.9 1655.5 711.7 1656.0 711.2 1656.5 713.9 1657.0 712.8 1657.5 711.3 1658.0 712.6 1658.5 711.9 1659.0 713.5 1659.5 712.6 1660.0 710.8 1660.5 711.4 1661.0 711.6 1661.5 713.0 1662.0 713.1 1662.5 710.8 1663.0 712.0 1663.5 712.9 1664.0 714.4 1664.5 712.8 1665.0 716.0 1665.5 712.4 1666.0 713.7 1666.5 711.7 1667.0 710.4 1667.5 712.5 1668.0 713.2 1668.5 712.9 1669.0 712.6 1669.5 711.7 1670.0 710.7 1670.5 711.7 1671.0 713.2 1671.5 714.1 1672.0 706.0 1672.5 713.4 1673.0 714.3 1673.5 714.6 1674.0 712.9 1674.5 713.4 1675.0 711.3 1675.5 712.0 1676.0 713.1 1676.5 710.0 1677.0 710.5 1677.5 712.4 1678.0 709.4 1678.5 712.0 1679.0 709.1 1679.5 712.2 1680.0 711.8 1680.5 710.7 1681.0 709.9 1681.5 710.6 1682.0 707.2 1682.5 710.6 1683.0 711.5 1683.5 713.4 1684.0 710.1 1684.5 710.5 1685.0 713.3 1685.5 713.8 1686.0 709.3 1686.5 711.9 1687.0 711.8 1687.5 710.2 1688.0 706.9 1688.5 706.4 1689.0 708.7 1689.5 711.2 1690.0 705.5 1690.5 707.7 1691.0 706.9 1691.5 699.5 1692.0 698.7 1692.5 698.9 1693.0 695.3 1693.5 691.9 1694.0 688.8 1694.5 687.1 1695.0 686.1 1695.5 688.0 1696.0 688.3 1696.5 690.2 1697.0 694.6 1697.5 698.9 1698.0 698.9 1698.5 701.6 1699.0 701.5 1699.5 704.7 1700.0 704.1 1700.5 705.1 1701.0 705.0 1701.5 707.4 1702.0 712.5 1702.5 709.4 1703.0 710.2 1703.5 714.5 1704.0 709.3 1704.5 708.9 1705.0 712.0 1705.5 708.9 1706.0 712.0 1706.5 713.7 1707.0 709.6 1707.5 710.8 1708.0 715.2 1708.5 710.0 1709.0 710.8 1709.5 712.7 1710.0 711.7 1710.5 710.7 1711.0 715.5 1711.5 711.4 1712.0 713.2 1712.5 711.8 1713.0 712.2 1713.5 710.1 1714.0 714.5 1714.5 712.0 1715.0 715.3 1715.5 710.6 1716.0 712.0 1716.5 713.8 1717.0 713.2 1717.5 711.7 1718.0 712.8 1718.5 710.6 1719.0 713.2 1719.5 708.1 1720.0 713.5 1720.5 715.7 1721.0 714.9 1721.5 714.8 1722.0 712.4 1722.5 714.2 1723.0 712.5 1723.5 713.1 1724.0 713.1 1724.5 706.9 1725.0 715.1 1725.5 714.2 1726.0 715.0 1726.5 711.6 1727.0 714.7 1727.5 714.4 1728.0 709.2 1728.5 710.1 1729.0 713.6 1729.5 712.2 1730.0 713.5 1730.5 712.3 1731.0 716.4 1731.5 709.9 1732.0 711.0 1732.5 711.7 1733.0 711.0 1733.5 712.5 1734.0 713.6 1734.5 711.1 1735.0 714.4 1735.5 716.2 1736.0 715.8 1736.5 717.5 1737.0 715.9 1737.5 713.7 1738.0 717.1 1738.5 715.1 1739.0 717.4 1739.5 713.4 1740.0 709.8 1740.5 711.6 1741.0 714.2 1741.5 714.9 1742.0 713.5 1742.5 715.8 1743.0 711.7 1743.5 712.6 1744.0 715.8 1744.5 714.0 1745.0 714.1 1745.5 716.6 1746.0 716.1 1746.5 712.5 1747.0 714.4 1747.5 710.8 1748.0 714.0 1748.5 714.8 1749.0 710.8 1749.5 717.0 1750.0 717.9 1750.5 715.0 1751.0 715.9 1751.5 717.0 1752.0 713.8 1752.5 716.1 1753.0 714.9 1753.5 711.3 1754.0 712.5 1754.5 713.1 1755.0 716.3 1755.5 714.4 1756.0 716.1 1756.5 713.4 1757.0 711.8 1757.5 718.2 1758.0 719.5 1758.5 715.0 1759.0 713.9 1759.5 716.6 1760.0 712.2 1760.5 714.0 1761.0 711.6 1761.5 715.3 1762.0 714.9 1762.5 713.6 1763.0 713.2 1763.5 711.5 1764.0 712.9 1764.5 716.8 1765.0 713.8 1765.5 716.9 1766.0 712.8 1766.5 714.4 1767.0 713.6 1767.5 714.0 1768.0 716.0 1768.5 710.6 1769.0 716.0 1769.5 715.9 1770.0 714.6 1770.5 714.8 1771.0 714.2 1771.5 716.0 1772.0 714.8 1772.5 713.0 1773.0 715.0 1773.5 716.5 1774.0 715.4 1774.5 714.8 1775.0 715.1 1775.5 713.8 1776.0 713.9 1776.5 711.2 1777.0 714.4 1777.5 716.7 1778.0 714.1 1778.5 713.1 1779.0 716.5 1779.5 715.2 1780.0 715.1 1780.5 715.8 1781.0 716.2 1781.5 714.8 1782.0 713.3 1782.5 718.2 1783.0 715.0 1783.5 713.5 1784.0 715.3 1784.5 717.2 1785.0 712.3 1785.5 717.5 1786.0 714.8 1786.5 718.8 1787.0 716.3 1787.5 714.8 1788.0 717.4 1788.5 717.5 1789.0 714.4 1789.5 715.5 1790.0 714.1 1790.5 716.9 1791.0 712.5 1791.5 714.8 1792.0 711.1 1792.5 716.3 1793.0 711.0 1793.5 713.2 1794.0 715.7 1794.5 714.6 1795.0 714.4 1795.5 713.4 1796.0 714.4 1796.5 712.0 1797.0 715.9 1797.5 716.8 1798.0 716.8 1798.5 715.3 1799.0 717.7 1799.5 716.2 1800.0 717.2 1800.5 716.1 1801.0 715.5 1801.5 714.0 1802.0 710.5 1802.5 716.7 1803.0 715.3 1803.5 719.2 1804.0 711.8 1804.5 717.1 1805.0 713.7 1805.5 715.5 1806.0 713.9 1806.5 716.2 1807.0 715.5 1807.5 717.3 1808.0 715.9 1808.5 716.5 1809.0 718.0 1809.5 716.6 1810.0 715.4 1810.5 718.0 1811.0 715.5 1811.5 716.5 1812.0 715.1 1812.5 714.5 1813.0 710.1 1813.5 717.1 1814.0 713.6 1814.5 717.2 1815.0 719.2 1815.5 713.3 1816.0 717.5 1816.5 715.7 1817.0 716.7 1817.5 713.6 1818.0 716.0 1818.5 716.2 1819.0 718.6 1819.5 720.0 1820.0 716.6 1820.5 715.3 1821.0 720.2 1821.5 715.8 1822.0 715.9 1822.5 716.2 1823.0 716.9 1823.5 717.4 1824.0 715.0 1824.5 715.9 1825.0 719.7 1825.5 719.1 1826.0 717.0 1826.5 716.7 1827.0 715.7 1827.5 718.1 1828.0 715.2 1828.5 716.5 1829.0 715.4 1829.5 715.1 1830.0 716.3 1830.5 716.3 1831.0 715.2 1831.5 716.2 1832.0 716.5 1832.5 715.5 1833.0 715.1 1833.5 716.1 1834.0 717.7 1834.5 718.5 1835.0 716.8 1835.5 715.9 1836.0 716.4 1836.5 720.1 1837.0 718.2 1837.5 714.7 1838.0 716.4" fill="none" stroke="#ff7375" stroke-width="7.0" stroke-linejoin="round"/>
<path d="M132.0 857.4 132.5 858.0 133.0 854.0 133.5 859.6 134.0 855.4 134.5 857.9 135.0 864.6 135.5 863.2 136.0 857.4 136.5 857.1 137.0 857.6 137.5 854.7 138.0 857.6 138.5 860.0 139.0 857.7 139.5 863.5 140.0 861.1 140.5 859.7 141.0 867.0 141.5 863.9 142.0 862.0 142.5 867.7 143.0 866.2 143.5 859.9 144.0 863.3 144.5 861.0 145.0 858.0 145.5 868.6 146.0 867.5 146.5 858.9 147.0 864.6 147.5 858.0 148.0 866.7 148.5 863.3 149.0 862.6 149.5 867.6 150.0 863.8 150.5 863.1 151.0 866.9 151.5 863.2 152.0 867.0 152.5 864.4 153.0 867.1 153.5 866.6 154.0 867.2 154.5 861.7 155.0 870.9 155.5 864.6 156.0 870.8 156.5 863.5 157.0 864.6 157.5 864.7 158.0 869.3 158.5 864.4 159.0 867.2 159.5 861.1 160.0 864.6 160.5 866.9 161.0 866.0 161.5 860.5 162.0 868.1 162.5 863.6 163.0 872.9 163.5 866.3 164.0 874.1 164.5 869.2 165.0 868.6 165.5 865.8 166.0 867.0 166.5 868.9 167.0 861.4 167.5 870.8 168.0 864.1 168.5 867.1 169.0 859.3 169.5 869.5 170.0 870.5 170.5 869.2 171.0 869.4 171.5 867.3 172.0 869.0 172.5 872.5 173.0 867.4 173.5 870.4 174.0 871.2 174.5 868.3 175.0 869.9 175.5 869.9 176.0 867.7 176.5 877.1 177.0 868.1 177.5 875.0 178.0 873.0 178.5 863.2 179.0 870.6 179.5 873.1 180.0 872.5 180.5 867.1 181.0 870.9 181.5 866.4 182.0 866.9 182.5 869.6 183.0 871.0 183.5 875.6 184.0 871.7 184.5 874.0 185.0 866.9 185.5 867.1 186.0 869.3 186.5 876.5 187.0 866.7 187.5 866.0 188.0 870.9 188.5 875.0 189.0 866.0 189.5 870.5 190.0 867.0 190.5 876.1 191.0 873.7 191.5 872.4 192.0 871.5 192.5 870.9 193.0 872.2 193.5 869.7 194.0 869.0 194.5 868.4 195.0 872.0 195.5 869.5 196.0 874.9 196.5 865.4 197.0 874.0 197.5 874.0 198.0 876.2 198.5 871.6 199.0 867.6 199.5 869.6 200.0 876.2 200.5 871.7 201.0 871.4 201.5 870.9 202.0 872.6 202.5 872.1 203.0 867.9 203.5 871.1 204.0 876.3 204.5 877.8 205.0 872.8 205.5 871.6 206.0 877.6 206.5 872.8 207.0 869.6 207.5 873.0 208.0 875.7 208.5 878.6 209.0 872.0 209.5 875.4 210.0 872.7 210.5 877.4 211.0 874.7 211.5 874.7 212.0 870.8 212.5 873.0 213.0 873.0 213.5 862.5 214.0 876.9 214.5 874.1 215.0 873.6 215.5 873.1 216.0 874.4 216.5 875.1 217.0 870.2 217.5 874.9 218.0 874.9 218.5 874.6 219.0 869.8 219.5 874.2 220.0 870.5 220.5 875.8 221.0 879.0 221.5 877.6 222.0 873.7 222.5 873.1 223.0 873.1 223.5 876.0 224.0 872.8 224.5 873.3 225.0 867.0 225.5 872.3 226.0 872.5 226.5 873.4 227.0 879.0 227.5 870.8 228.0 870.9 228.5 877.1 229.0 872.0 229.5 874.7 230.0 875.8 230.5 875.3 231.0 872.8 231.5 878.2 232.0 880.1 232.5 872.1 233.0 874.4 233.5 878.3 234.0 874.6 234.5 872.1 235.0 873.9 235.5 878.0 236.0 872.1 236.5 876.1 237.0 876.5 237.5 873.2 238.0 877.1 238.5 877.4 239.0 878.5 239.5 878.3 240.0 870.5 240.5 878.1 241.0 877.1 241.5 878.4 242.0 872.5 242.5 878.1 243.0 876.4 243.5 871.4 244.0 879.2 244.5 872.6 245.0 871.8 245.5 876.3 246.0 873.1 246.5 876.2 247.0 874.2 247.5 875.9 248.0 877.6 248.5 874.8 249.0 877.7 249.5 877.6 250.0 872.1 250.5 877.5 251.0 876.7 251.5 875.1 252.0 878.3 252.5 879.9 253.0 877.0 253.5 869.9 254.0 876.0 254.5 874.1 255.0 873.6 255.5 875.5 256.0 873.3 256.5 879.6 257.0 875.2 257.5 874.3 258.0 876.7 258.5 876.7 259.0 877.9 259.5 876.1 260.0 873.9 260.5 874.4 261.0 867.0 261.5 869.2 262.0 877.1 262.5 872.7 263.0 879.5 263.5 879.4 264.0 869.6 264.5 874.6 265.0 882.7 265.5 870.9 266.0 874.7 266.5 872.6 267.0 872.5 267.5 872.3 268.0 873.1 268.5 875.6 269.0 870.5 269.5 874.6 270.0 870.7 270.5 874.6 271.0 873.9 271.5 870.3 272.0 873.2 272.5 870.3 273.0 869.9 273.5 876.3 274.0 866.7 274.5 874.2 275.0 874.6 275.5 870.4 276.0 875.7 276.5 875.1 277.0 868.0 277.5 873.8 278.0 873.5 278.5 869.6 279.0 873.7 279.5 874.2 280.0 869.4 280.5 865.3 281.0 872.9 281.5 869.1 282.0 865.9 282.5 870.1 283.0 863.6 283.5 870.0 284.0 875.8 284.5 861.8 285.0 872.3 285.5 867.8 286.0 869.3 286.5 867.6 287.0 872.4 287.5 870.2 288.0 867.7 288.5 865.8 289.0 868.6 289.5 873.5 290.0 865.8 290.5 870.9 291.0 870.5 291.5 862.9 292.0 872.7 292.5 868.9 293.0 876.1 293.5 874.4 294.0 867.9 294.5 868.1 295.0 865.2 295.5 863.9 296.0 870.8 296.5 867.3 297.0 866.7 297.5 867.3 298.0 869.9 298.5 870.6 299.0 867.5 299.5 866.7 300.0 867.6 300.5 873.8 301.0 860.3 301.5 863.2 302.0 868.3 302.5 867.2 303.0 870.5 303.5 870.7 304.0 872.7 304.5 863.7 305.0 868.1 305.5 865.3 306.0 869.1 306.5 866.4 307.0 868.6 307.5 863.2 308.0 866.0 308.5 863.7 309.0 864.4 309.5 863.7 310.0 861.7 310.5 868.6 311.0 865.8 311.5 868.3 312.0 861.4 312.5 858.2 313.0 862.3 313.5 863.8 314.0 866.8 314.5 867.5 315.0 867.9 315.5 868.9 316.0 866.1 316.5 864.0 317.0 861.1 317.5 865.7 318.0 861.7 318.5 860.6 319.0 865.0 319.5 863.7 320.0 865.7 320.5 860.5 321.0 866.4 321.5 863.7 322.0 861.9 322.5 859.9 323.0 858.7 323.5 857.7 324.0 866.5 324.5 857.2 325.0 863.8 325.5 860.8 326.0 859.6 326.5 859.8 327.0 860.9 327.5 864.0 328.0 862.8 328.5 860.8 329.0 856.3 329.5 854.8 330.0 866.5 330.5 857.0 331.0 855.1 331.5 863.7 332.0 855.0 332.5 862.2 333.0 862.6 333.5 860.3 334.0 862.4 334.5 854.7 335.0 855.1 335.5 858.3 336.0 858.7 336.5 858.3 337.0 859.9 337.5 855.9 338.0 851.2 338.5 859.3 339.0 857.0 339.5 860.3 340.0 864.2 340.5 857.5 341.0 859.0 341.5 854.0 342.0 859.7 342.5 857.7 343.0 857.2 343.5 859.2 344.0 852.3 344.5 857.6 345.0 857.1 345.5 860.5 346.0 849.3 346.5 854.6 347.0 861.8 347.5 853.1 348.0 852.7 348.5 859.7 349.0 861.8 349.5 853.8 350.0 850.8 350.5 850.9 351.0 851.3 351.5 849.6 352.0 849.4 352.5 852.3 353.0 851.6 353.5 852.7 354.0 851.0 354.5 846.7 355.0 852.7 355.5 850.9 356.0 847.9 356.5 848.6 357.0 850.3 357.5 849.2 358.0 848.2 358.5 850.9 359.0 851.6 359.5 846.8 360.0 847.5 360.5 843.7 361.0 846.5 361.5 848.3 362.0 849.3 362.5 846.8 363.0 845.8 363.5 843.5 364.0 846.3 364.5 841.8 365.0 845.5 365.5 844.9 366.0 841.7 366.5 845.5 367.0 843.5 367.5 845.9 368.0 842.1 368.5 845.0 369.0 848.3 369.5 843.6 370.0 845.3 370.5 840.5 371.0 841.2 371.5 836.0 372.0 841.4 372.5 838.0 373.0 841.8 373.5 834.5 374.0 838.2 374.5 841.0 375.0 841.8 375.5 835.0 376.0 838.7 376.5 848.2 377.0 842.2 377.5 839.9 378.0 830.3 378.5 836.0 379.0 840.5 379.5 839.3 380.0 839.8 380.5 841.2 381.0 838.2 381.5 840.5 382.0 831.7 382.5 845.4 383.0 836.1 383.5 834.8 384.0 841.5 384.5 838.4 385.0 839.4 385.5 834.0 386.0 836.7 386.5 837.8 387.0 831.6 387.5 834.4 388.0 834.0 388.5 833.6 389.0 832.1 389.5 830.0 390.0 835.2 390.5 834.4 391.0 837.1 391.5 832.9 392.0 830.7 392.5 827.9 393.0 832.6 393.5 831.1 394.0 838.4 394.5 839.1 395.0 836.5 395.5 828.3 396.0 826.5 396.5 830.0 397.0 827.7 397.5 834.9 398.0 830.5 398.5 828.6 399.0 829.7 399.5 833.6 400.0 826.4 400.5 830.8 401.0 824.8 401.5 828.3 402.0 826.7 402.5 829.7 403.0 829.1 403.5 832.4 404.0 830.6 404.5 826.4 405.0 824.0 405.5 825.6 406.0 826.8 406.5 827.4 407.0 825.7 407.5 831.6 408.0 831.0 408.5 827.1 409.0 826.4 409.5 827.2 410.0 827.8 410.5 827.8 411.0 822.6 411.5 826.4 412.0 821.7 412.5 827.9 413.0 829.9 413.5 824.3 414.0 828.2 414.5 825.7 415.0 825.4 415.5 834.0 416.0 830.5 416.5 829.2 417.0 826.2 417.5 828.9 418.0 826.9 418.5 829.0 419.0 824.6 419.5 827.3 420.0 826.2 420.5 822.9 421.0 832.9 421.5 830.1 422.0 824.9 422.5 822.7 423.0 825.0 423.5 824.6 424.0 825.4 424.5 822.4 425.0 824.6 425.5 827.5 426.0 828.6 426.5 820.8 427.0 827.2 427.5 824.0 428.0 823.8 428.5 826.1 429.0 824.8 429.5 829.3 430.0 829.3 430.5 826.0 431.0 824.8 431.5 832.7 432.0 832.9 432.5 828.1 433.0 826.3 433.5 830.0 434.0 831.4 434.5 825.0 435.0 832.5 435.5 826.1 436.0 830.1 436.5 824.8 437.0 826.7 437.5 825.0 438.0 826.5 438.5 829.7 439.0 823.4 439.5 825.3 440.0 828.0 440.5 824.7 441.0 832.8 441.5 821.4 442.0 834.4 442.5 824.0 443.0 829.3 443.5 831.4 444.0 827.8 444.5 821.5 445.0 825.0 445.5 826.3 446.0 827.9 446.5 829.2 447.0 829.7 447.5 830.8 448.0 822.9 448.5 829.3 449.0 820.4 449.5 826.6 450.0 822.6 450.5 820.4 451.0 829.3 451.5 826.2 452.0 829.7 452.5 821.4 453.0 822.7 453.5 826.4 454.0 824.7 454.5 827.3 455.0 825.1 455.5 826.2 456.0 823.7 456.5 831.8 457.0 826.8 457.5 824.1 458.0 830.4 458.5 829.9 459.0 829.2 459.5 829.4 460.0 827.6 460.5 828.7 461.0 822.1 461.5 824.4 462.0 825.7 462.5 830.8 463.0 834.1 463.5 829.8 464.0 829.6 464.5 834.4 465.0 829.7 465.5 833.3 466.0 832.7 466.5 827.2 467.0 832.8 467.5 832.6 468.0 828.3 468.5 828.9 469.0 828.3 469.5 837.2 470.0 839.8 470.5 835.4 471.0 838.4 471.5 829.0 472.0 838.2 472.5 840.3 473.0 839.3 473.5 831.2 474.0 838.0 474.5 834.3 475.0 838.4 475.5 833.0 476.0 835.4 476.5 833.7 477.0 837.4 477.5 835.7 478.0 839.9 478.5 839.2 479.0 838.1 479.5 836.8 480.0 836.2 480.5 837.4 481.0 840.1 481.5 838.3 482.0 839.1 482.5 838.3 483.0 838.4 483.5 836.7 484.0 832.9 484.5 841.2 485.0 841.4 485.5 836.6 486.0 846.4 486.5 836.5 487.0 843.8 487.5 841.6 488.0 842.1 488.5 845.0 489.0 844.6 489.5 841.8 490.0 838.5 490.5 838.2 491.0 843.1 491.5 847.9 492.0 845.9 492.5 843.1 493.0 844.6 493.5 846.0 494.0 849.6 494.5 841.7 495.0 846.8 495.5 845.6 496.0 842.5 496.5 841.9 497.0 849.6 497.5 846.8 498.0 845.3 498.5 846.6 499.0 849.7 499.5 847.1 500.0 852.3 500.5 846.4 501.0 844.9 501.5 847.4 502.0 844.9 502.5 847.1 503.0 852.6 503.5 854.4 504.0 851.1 504.5 850.0 505.0 846.6 505.5 846.5 506.0 851.3 506.5 850.9 507.0 848.7 507.5 849.3 508.0 856.2 508.5 854.6 509.0 851.7 509.5 852.5 510.0 856.2 510.5 853.5 511.0 853.3 511.5 847.6 512.0 847.4 512.5 846.9 513.0 846.0 513.5 853.6 514.0 855.0 514.5 851.3 515.0 855.9 515.5 856.1 516.0 854.6 516.5 850.2 517.0 860.1 517.5 860.1 518.0 853.9 518.5 862.4 519.0 856.4 519.5 853.9 520.0 855.4 520.5 850.8 521.0 856.0 521.5 852.1 522.0 861.4 522.5 858.9 523.0 853.5 523.5 860.2 524.0 852.9 524.5 859.3 525.0 860.5 525.5 859.4 526.0 855.7 526.5 859.3 527.0 859.2 527.5 860.3 528.0 865.2 528.5 866.1 529.0 865.9 529.5 858.8 530.0 858.7 530.5 861.4 531.0 863.0 531.5 855.0 532.0 860.0 532.5 868.1 533.0 858.3 533.5 860.2 534.0 860.5 534.5 864.7 535.0 863.1 535.5 862.4 536.0 858.7 536.5 865.9 537.0 864.1 537.5 862.1 538.0 864.6 538.5 867.4 539.0 860.1 539.5 860.1 540.0 862.0 540.5 862.7 541.0 855.7 541.5 864.0 542.0 869.9 542.5 865.3 543.0 870.0 543.5 857.3 544.0 866.6 544.5 871.8 545.0 872.6 545.5 866.0 546.0 865.1 546.5 869.3 547.0 864.2 547.5 867.2 548.0 863.1 548.5 869.0 549.0 869.0 549.5 874.5 550.0 870.5 550.5 867.3 551.0 869.4 551.5 865.6 552.0 870.2 552.5 869.5 553.0 871.8 553.5 873.6 554.0 864.1 554.5 872.0 555.0 873.5 555.5 867.3 556.0 877.7 556.5 869.2 557.0 879.9 557.5 874.5 558.0 875.2 558.5 873.1 559.0 875.7 559.5 869.1 560.0 870.0 560.5 866.3 561.0 874.8 561.5 870.8 562.0 875.8 562.5 875.4 563.0 869.1 563.5 876.0 564.0 874.7 564.5 874.7 565.0 875.7 565.5 874.2 566.0 874.5 566.5 878.1 567.0 871.4 567.5 870.9 568.0 872.5 568.5 878.6 569.0 874.2 569.5 881.8 570.0 865.4 570.5 873.4 571.0 874.4 571.5 876.9 572.0 880.6 572.5 875.7 573.0 873.1 573.5 879.3 574.0 881.8 574.5 868.4 575.0 878.9 575.5 878.1 576.0 874.5 576.5 875.8 577.0 878.5 577.5 877.7 578.0 877.0 578.5 874.1 579.0 879.0 579.5 876.0 580.0 878.6 580.5 876.5 581.0 879.2 581.5 881.2 582.0 879.6 582.5 881.1 583.0 874.5 583.5 880.8 584.0 880.3 584.5 877.4 585.0 879.1 585.5 870.5 586.0 880.1 586.5 878.6 587.0 872.6 587.5 881.9 588.0 878.2 588.5 881.4 589.0 879.8 589.5 882.3 590.0 881.1 590.5 880.0 591.0 882.7 591.5 883.9 592.0 873.8 592.5 881.5 593.0 879.6 593.5 878.0 594.0 886.1 594.5 885.0 595.0 878.6 595.5 878.4 596.0 884.9 596.5 880.2 597.0 881.3 597.5 876.0 598.0 882.2 598.5 886.5 599.0 881.3 599.5 882.5 600.0 888.8 600.5 886.0 601.0 887.9 601.5 885.4 602.0 887.4 602.5 878.0 603.0 880.9 603.5 878.3 604.0 891.1 604.5 884.5 605.0 883.6 605.5 881.6 606.0 880.8 606.5 875.1 607.0 891.7 607.5 884.2 608.0 884.8 608.5 880.0 609.0 884.5 609.5 886.1 610.0 884.7 610.5 887.0 611.0 882.4 611.5 886.3 612.0 888.2 612.5 887.2 613.0 886.7 613.5 885.2 614.0 882.5 614.5 887.6 615.0 884.6 615.5 882.9 616.0 888.6 616.5 880.9 617.0 884.5 617.5 888.9 618.0 889.5 618.5 885.4 619.0 886.9 619.5 888.5 620.0 886.7 620.5 884.5 621.0 888.5 621.5 887.7 622.0 887.7 622.5 891.0 623.0 888.5 623.5 886.2 624.0 888.3 624.5 894.1 625.0 885.7 625.5 887.2 626.0 885.6 626.5 889.4 627.0 884.4 627.5 890.0 628.0 891.1 628.5 886.3 629.0 886.1 629.5 884.2 630.0 889.2 630.5 885.6 631.0 887.2 631.5 888.0 632.0 887.2 632.5 892.2 633.0 894.7 633.5 882.9 634.0 887.2 634.5 890.7 635.0 886.6 635.5 888.4 636.0 890.8 636.5 894.6 637.0 894.0 637.5 889.4 638.0 890.9 638.5 889.4 639.0 890.0 639.5 886.9 640.0 885.1 640.5 889.6 641.0 893.9 641.5 893.3 642.0 885.1 642.5 890.4 643.0 889.1 643.5 892.1 644.0 887.7 644.5 894.1 645.0 890.7 645.5 893.2 646.0 894.2 646.5 885.4 647.0 890.9 647.5 896.4 648.0 891.7 648.5 895.0 649.0 893.1 649.5 890.3 650.0 892.8 650.5 895.2 651.0 896.0 651.5 896.6 652.0 888.6 652.5 894.7 653.0 887.9 653.5 891.8 654.0 891.6 654.5 894.3 655.0 893.4 655.5 896.3 656.0 890.6 656.5 895.1 657.0 893.8 657.5 892.6 658.0 888.9 658.5 894.5 659.0 893.7 659.5 895.2 660.0 892.7 660.5 892.1 661.0 894.1 661.5 894.4 662.0 895.1 662.5 898.9 663.0 891.2 663.5 899.3 664.0 884.1 664.5 896.2 665.0 890.8 665.5 899.5 666.0 890.6 666.5 896.7 667.0 890.4 667.5 890.0 668.0 896.0 668.5 896.3 669.0 891.5 669.5 901.0 670.0 892.7 670.5 898.6 671.0 890.7 671.5 890.9 672.0 894.2 672.5 890.9 673.0 895.4 673.5 887.5 674.0 894.6 674.5 892.4 675.0 891.3 675.5 894.9 676.0 893.6 676.5 893.0 677.0 896.8 677.5 895.3 678.0 895.6 678.5 898.6 679.0 894.4 679.5 897.2 680.0 893.4 680.5 896.6 681.0 896.4 681.5 893.2 682.0 890.3 682.5 891.1 683.0 892.1 683.5 896.7 684.0 894.7 684.5 894.2 685.0 896.6 685.5 897.4 686.0 899.5 686.5 893.5 687.0 897.0 687.5 897.5 688.0 892.6 688.5 895.9 689.0 892.8 689.5 894.9 690.0 896.9 690.5 890.6 691.0 893.1 691.5 893.4 692.0 896.1 692.5 893.7 693.0 897.1 693.5 893.5 694.0 894.5 694.5 897.9 695.0 897.1 695.5 896.7 696.0 896.2 696.5 899.3 697.0 900.5 697.5 895.4 698.0 894.4 698.5 893.5 699.0 901.8 699.5 894.1 700.0 892.9 700.5 897.6 701.0 900.0 701.5 893.4 702.0 896.7 702.5 892.9 703.0 895.2 703.5 902.1 704.0 897.9 704.5 896.7 705.0 897.8 705.5 898.5 706.0 897.5 706.5 894.4 707.0 894.5 707.5 904.0 708.0 896.0 708.5 901.8 709.0 896.3 709.5 902.4 710.0 900.7 710.5 898.2 711.0 904.8 711.5 896.3 712.0 898.4 712.5 896.8 713.0 897.1 713.5 898.4 714.0 896.8 714.5 898.8 715.0 904.4 715.5 894.9 716.0 896.4 716.5 897.4 717.0 899.0 717.5 903.4 718.0 902.6 718.5 902.0 719.0 901.4 719.5 907.8 720.0 897.8 720.5 897.8 721.0 901.2 721.5 901.9 722.0 900.8 722.5 899.1 723.0 897.9 723.5 901.0 724.0 899.8 724.5 900.6 725.0 899.0 725.5 906.0 726.0 903.5 726.5 907.6 727.0 900.9 727.5 902.7 728.0 901.9 728.5 902.7 729.0 902.0 729.5 902.3 730.0 897.2 730.5 902.1 731.0 904.9 731.5 897.5 732.0 902.1 732.5 904.8 733.0 906.8 733.5 903.0 734.0 904.6 734.5 908.3 735.0 907.1 735.5 902.2 736.0 901.8 736.5 906.4 737.0 904.2 737.5 902.1 738.0 903.1 738.5 904.6 739.0 903.2 739.5 903.1 740.0 903.2 740.5 899.7 741.0 908.9 741.5 907.5 742.0 908.3 742.5 903.7 743.0 904.5 743.5 905.8 744.0 906.5 744.5 899.1 745.0 905.3 745.5 901.6 746.0 904.2 746.5 902.6 747.0 909.2 747.5 906.0 748.0 904.5 748.5 908.5 749.0 904.4 749.5 902.6 750.0 904.2 750.5 903.7 751.0 904.9 751.5 907.1 752.0 904.5 752.5 904.7 753.0 907.7 753.5 905.7 754.0 907.6 754.5 905.4 755.0 901.4 755.5 902.0 756.0 900.5 756.5 908.3 757.0 906.3 757.5 903.9 758.0 902.5 758.5 906.3 759.0 904.9 759.5 906.2 760.0 903.0 760.5 902.3 761.0 909.7 761.5 902.8 762.0 905.4 762.5 909.2 763.0 900.5 763.5 907.5 764.0 905.8 764.5 905.2 765.0 906.4 765.5 902.5 766.0 899.7 766.5 910.9 767.0 905.0 767.5 908.3 768.0 908.9 768.5 906.7 769.0 907.2 769.5 907.9 770.0 910.3 770.5 907.4 771.0 909.5 771.5 905.3 772.0 905.0 772.5 906.4 773.0 907.3 773.5 907.7 774.0 911.5 774.5 908.5 775.0 906.5 775.5 911.7 776.0 907.3 776.5 907.4 777.0 907.8 777.5 905.6 778.0 903.6 778.5 906.9 779.0 905.8 779.5 904.3 780.0 907.0 780.5 906.2 781.0 905.2 781.5 902.0 782.0 906.4 782.5 911.6 783.0 909.3 783.5 909.8 784.0 906.9 784.5 909.8 785.0 905.3 785.5 905.9 786.0 908.5 786.5 903.4 787.0 907.4 787.5 908.1 788.0 911.8 788.5 905.5 789.0 908.5 789.5 905.7 790.0 906.1 790.5 900.4 791.0 905.1 791.5 910.7 792.0 909.0 792.5 908.1 793.0 914.3 793.5 909.2 794.0 904.6 794.5 907.4 795.0 907.8 795.5 912.2 796.0 905.7 796.5 909.2 797.0 910.7 797.5 906.1 798.0 908.5 798.5 903.1 799.0 908.6 799.5 902.7 800.0 907.5 800.5 913.0 801.0 909.6 801.5 908.7 802.0 909.1 802.5 914.3 803.0 910.2 803.5 911.5 804.0 907.7 804.5 907.8 805.0 906.3 805.5 908.6 806.0 907.3 806.5 911.7 807.0 910.8 807.5 908.9 808.0 907.9 808.5 901.9 809.0 907.8 809.5 910.2 810.0 911.2 810.5 901.6 811.0 903.4 811.5 910.0 812.0 907.0 812.5 909.2 813.0 908.5 813.5 911.3 814.0 905.1 814.5 908.4 815.0 912.4 815.5 910.5 816.0 907.9 816.5 911.2 817.0 910.9 817.5 907.9 818.0 912.0 818.5 912.0 819.0 910.0 819.5 912.8 820.0 907.4 820.5 912.4 821.0 910.0 821.5 908.1 822.0 909.1 822.5 913.6 823.0 909.2 823.5 909.8 824.0 909.1 824.5 908.8 825.0 913.2 825.5 916.4 826.0 914.2 826.5 912.2 827.0 912.8 827.5 910.1 828.0 909.8 828.5 908.1 829.0 914.7 829.5 910.3 830.0 909.3 830.5 909.6 831.0 911.7 831.5 909.8 832.0 911.3 832.5 911.7 833.0 914.6 833.5 908.2 834.0 912.1 834.5 909.6 835.0 910.3 835.5 915.5 836.0 913.0 836.5 910.5 837.0 912.7 837.5 911.4 838.0 914.3 838.5 910.3 839.0 912.8 839.5 911.1 840.0 911.6 840.5 911.2 841.0 910.1 841.5 911.9 842.0 914.1 842.5 910.2 843.0 910.7 843.5 912.6 844.0 909.9 844.5 913.9 845.0 913.5 845.5 906.1 846.0 910.2 846.5 909.2 847.0 913.9 847.5 914.2 848.0 908.9 848.5 910.2 849.0 911.7 849.5 911.0 850.0 913.7 850.5 914.3 851.0 913.4 851.5 914.7 852.0 914.3 852.5 911.9 853.0 911.0 853.5 910.3 854.0 914.1 854.5 914.2 855.0 914.6 855.5 911.3 856.0 911.2 856.5 912.8 857.0 915.2 857.5 913.0 858.0 912.7 858.5 910.2 859.0 913.3 859.5 913.5 860.0 910.0 860.5 916.5 861.0 910.1 861.5 914.5 862.0 911.8 862.5 912.7 863.0 910.4 863.5 911.0 864.0 914.0 864.5 911.9 865.0 911.6 865.5 914.5 866.0 914.1 866.5 912.8 867.0 913.0 867.5 916.5 868.0 912.0 868.5 913.4 869.0 913.5 869.5 909.2 870.0 907.9 870.5 912.8 871.0 914.6 871.5 913.0 872.0 911.3 872.5 911.0 873.0 914.5 873.5 911.8 874.0 908.8 874.5 914.2 875.0 913.1 875.5 913.5 876.0 915.0 876.5 915.7 877.0 913.9 877.5 912.2 878.0 907.6 878.5 913.3 879.0 912.3 879.5 915.7 880.0 915.6 880.5 913.7 881.0 915.8 881.5 912.4 882.0 912.5 882.5 910.6 883.0 911.9 883.5 913.1 884.0 915.1 884.5 910.9 885.0 914.5 885.5 918.0 886.0 909.5 886.5 912.0 887.0 912.7 887.5 914.9 888.0 917.2 888.5 915.5 889.0 912.5 889.5 910.6 890.0 912.5 890.5 912.5 891.0 913.1 891.5 910.5 892.0 916.1 892.5 910.9 893.0 914.1 893.5 913.0 894.0 910.0 894.5 912.7 895.0 912.5 895.5 912.0 896.0 914.3 896.5 911.4 897.0 918.2 897.5 915.0 898.0 910.3 898.5 906.7 899.0 915.2 899.5 912.9 900.0 912.5 900.5 910.1 901.0 909.0 901.5 908.0 902.0 918.1 902.5 915.8 903.0 910.9 903.5 916.4 904.0 907.9 904.5 913.7 905.0 913.7 905.5 910.1 906.0 911.0 906.5 909.6 907.0 912.1 907.5 914.9 908.0 914.1 908.5 912.8 909.0 914.4 909.5 907.8 910.0 916.3 910.5 911.6 911.0 908.7 911.5 910.8 912.0 910.2 912.5 911.8 913.0 912.3 913.5 906.3 914.0 914.3 914.5 915.3 915.0 909.1 915.5 914.6 916.0 914.1 916.5 913.5 917.0 914.8 917.5 908.0 918.0 912.7 918.5 908.8 919.0 916.3 919.5 908.8 920.0 908.1 920.5 913.3 921.0 912.1 921.5 910.7 922.0 910.9 922.5 911.8 923.0 914.2 923.5 908.7 924.0 909.0 924.5 908.8 925.0 909.8 925.5 909.9 926.0 906.9 926.5 910.2 927.0 906.6 927.5 908.6 928.0 908.5 928.5 908.3 929.0 911.9 929.5 912.0 930.0 910.5 930.5 911.2 931.0 906.8 931.5 910.1 932.0 906.4 932.5 906.5 933.0 906.0 933.5 901.7 934.0 902.5 934.5 902.5 935.0 902.5 935.5 900.0 936.0 896.8 936.5 894.0 937.0 894.0 937.5 888.2 938.0 884.0 938.5 881.0 939.0 874.4 939.5 862.8 940.0 848.3 940.5 832.7 941.0 807.7 941.5 774.1 942.0 739.1 942.5 714.3 942.7 713.2 943.0 718.0 943.5 746.4 944.0 781.0 944.5 812.6 945.0 836.4 945.5 851.3 946.0 871.5 946.5 872.6 947.0 882.8 947.5 886.0 948.0 891.2 948.5 897.8 949.0 893.3 949.5 899.0 950.0 902.0 950.5 902.6 951.0 904.3 951.5 902.8 952.0 901.7 952.5 903.1 953.0 905.7 953.5 908.7 954.0 907.7 954.5 911.4 955.0 908.6 955.5 909.1 956.0 909.4 956.5 905.6 957.0 910.7 957.5 907.4 958.0 909.1 958.5 915.1 959.0 907.7 959.5 910.7 960.0 911.2 960.5 911.0 961.0 910.9 961.5 909.8 962.0 915.3 962.5 907.0 963.0 909.1 963.5 914.5 964.0 912.6 964.5 909.9 965.0 909.7 965.5 911.2 966.0 917.3 966.5 912.9 967.0 909.8 967.5 912.5 968.0 910.7 968.5 915.2 969.0 912.8 969.5 914.8 970.0 912.6 970.5 916.5 971.0 913.2 971.5 913.0 972.0 910.3 972.5 911.6 973.0 913.4 973.5 911.6 974.0 917.8 974.5 912.6 975.0 911.1 975.5 914.8 976.0 911.7 976.5 913.7 977.0 912.7 977.5 911.4 978.0 915.8 978.5 913.1 979.0 915.2 979.5 912.3 980.0 910.1 980.5 910.5 981.0 912.1 981.5 912.8 982.0 913.3 982.5 914.3 983.0 910.7 983.5 913.7 984.0 910.8 984.5 911.9 985.0 918.6 985.5 916.0 986.0 912.7 986.5 917.1 987.0 916.4 987.5 915.3 988.0 916.5 988.5 913.1 989.0 913.4 989.5 911.9 990.0 914.9 990.5 911.2 991.0 912.7 991.5 914.7 992.0 912.8 992.5 914.5 993.0 917.5 993.5 911.9 994.0 916.7 994.5 912.6 995.0 912.1 995.5 914.4 996.0 916.1 996.5 912.6 997.0 912.6 997.5 913.2 998.0 912.7 998.5 914.5 999.0 912.7 999.5 913.7 1000.0 914.9 1000.5 913.4 1001.0 916.5 1001.5 912.9 1002.0 912.7 1002.5 918.3 1003.0 917.2 1003.5 914.4 1004.0 915.9 1004.5 915.0 1005.0 913.3 1005.5 915.6 1006.0 914.9 1006.5 916.9 1007.0 910.7 1007.5 915.9 1008.0 914.7 1008.5 913.0 1009.0 913.5 1009.5 913.6 1010.0 911.8 1010.5 913.3 1011.0 916.0 1011.5 911.4 1012.0 913.7 1012.5 909.8 1013.0 913.3 1013.5 915.2 1014.0 914.4 1014.5 914.6 1015.0 912.3 1015.5 915.6 1016.0 912.7 1016.5 916.3 1017.0 914.9 1017.5 913.8 1018.0 917.5 1018.5 913.7 1019.0 916.6 1019.5 914.8 1020.0 914.6 1020.5 916.5 1021.0 915.4 1021.5 914.6 1022.0 914.3 1022.5 915.0 1023.0 914.8 1023.5 914.0 1024.0 912.6 1024.5 909.5 1025.0 914.4 1025.5 914.1 1026.0 917.0 1026.5 915.5 1027.0 916.9 1027.5 918.1 1028.0 914.4 1028.5 913.0 1029.0 916.3 1029.5 913.5 1030.0 914.2 1030.5 917.5 1031.0 915.8 1031.5 916.9 1032.0 912.0 1032.5 914.8 1033.0 916.9 1033.5 912.2 1034.0 915.1 1034.5 915.5 1035.0 910.2 1035.5 917.9 1036.0 913.3 1036.5 914.5 1037.0 918.1 1037.5 911.2 1038.0 915.7 1038.5 913.9 1039.0 914.8 1039.5 913.1 1040.0 917.5 1040.5 912.5 1041.0 915.5 1041.5 915.8 1042.0 914.6 1042.5 914.2 1043.0 914.2 1043.5 916.8 1044.0 915.7 1044.5 914.6 1045.0 912.6 1045.5 915.1 1046.0 915.8 1046.5 914.7 1047.0 917.6 1047.5 911.0 1048.0 919.7 1048.5 914.4 1049.0 912.6 1049.5 911.4 1050.0 916.5 1050.5 915.9 1051.0 914.4 1051.5 914.7 1052.0 915.2 1052.5 914.0 1053.0 917.1 1053.5 916.1 1054.0 914.6 1054.5 911.6 1055.0 917.5 1055.5 913.9 1056.0 912.8 1056.5 917.4 1057.0 915.8 1057.5 910.9 1058.0 911.6 1058.5 914.1 1059.0 912.4 1059.5 914.5 1060.0 920.0 1060.5 920.8 1061.0 914.8 1061.5 916.4 1062.0 916.6 1062.5 914.6 1063.0 911.9 1063.5 917.0 1064.0 914.5 1064.5 915.8 1065.0 916.3 1065.5 913.3 1066.0 918.2 1066.5 915.0 1067.0 915.3 1067.5 914.0 1068.0 916.3 1068.5 916.9 1069.0 913.8 1069.5 916.0 1070.0 914.0 1070.5 912.4 1071.0 914.2 1071.5 916.1 1072.0 916.0 1072.5 917.0 1073.0 913.5 1073.5 914.3 1074.0 915.0 1074.5 916.1 1075.0 914.6 1075.5 913.0 1076.0 911.8 1076.5 917.2 1077.0 917.0 1077.5 913.5 1078.0 917.8 1078.5 914.7 1079.0 915.7 1079.5 917.3 1080.0 913.9 1080.5 913.3 1081.0 911.4 1081.5 915.4 1082.0 915.7 1082.5 916.5 1083.0 916.0 1083.5 915.0 1084.0 917.1 1084.5 912.7 1085.0 915.5 1085.5 915.8 1086.0 914.5 1086.5 918.2 1087.0 915.6 1087.5 917.4 1088.0 916.5 1088.5 914.3 1089.0 918.5 1089.5 916.9 1090.0 914.7 1090.5 914.4 1091.0 912.5 1091.5 914.3 1092.0 914.1 1092.5 914.9 1093.0 913.7 1093.5 915.6 1094.0 914.3 1094.5 911.3 1095.0 913.4 1095.5 912.5 1096.0 911.7 1096.5 913.7 1097.0 916.0 1097.5 911.9 1098.0 910.1 1098.5 913.7 1099.0 919.9 1099.5 912.7 1100.0 914.3 1100.5 912.8 1101.0 915.2 1101.5 916.3 1102.0 913.0 1102.5 915.5 1103.0 910.8 1103.5 913.2 1104.0 910.0 1104.5 912.7 1105.0 910.8 1105.5 912.2 1106.0 909.2 1106.5 911.4 1107.0 910.7 1107.5 908.8 1108.0 907.7 1108.5 906.2 1109.0 906.9 1109.5 907.4 1110.0 905.0 1110.5 904.0 1111.0 904.2 1111.5 898.6 1112.0 896.8 1112.5 893.8 1113.0 888.4 1113.5 882.2 1114.0 874.7 1114.5 868.0 1115.0 858.7 1115.5 852.4 1116.0 850.3 1116.5 853.5 1117.0 859.5 1117.5 866.7 1118.0 875.6 1118.5 882.5 1119.0 887.9 1119.5 893.8 1120.0 897.8 1120.5 899.9 1121.0 905.5 1121.5 903.3 1122.0 908.5 1122.5 911.2 1123.0 912.4 1123.5 909.6 1124.0 909.5 1124.5 907.4 1125.0 911.0 1125.5 916.5 1126.0 909.0 1126.5 909.4 1127.0 914.5 1127.5 914.4 1128.0 909.8 1128.5 913.5 1129.0 914.6 1129.5 911.1 1130.0 916.2 1130.5 911.8 1131.0 916.8 1131.5 915.1 1132.0 913.5 1132.5 911.8 1133.0 914.4 1133.5 915.0 1134.0 915.1 1134.5 914.2 1135.0 915.1 1135.5 917.3 1136.0 913.9 1136.5 915.3 1137.0 916.7 1137.5 915.9 1138.0 917.7 1138.5 919.1 1139.0 915.4 1139.5 916.6 1140.0 910.4 1140.5 915.6 1141.0 917.7 1141.5 914.2 1142.0 919.1 1142.5 912.7 1143.0 919.2 1143.5 915.6 1144.0 914.6 1144.5 915.7 1145.0 916.2 1145.5 914.8 1146.0 914.1 1146.5 915.8 1147.0 918.8 1147.5 917.8 1148.0 919.7 1148.5 915.8 1149.0 916.4 1149.5 916.4 1150.0 917.4 1150.5 918.1 1151.0 920.7 1151.5 918.7 1152.0 917.6 1152.5 920.0 1153.0 915.8 1153.5 914.8 1154.0 918.8 1154.5 917.8 1155.0 917.8 1155.5 919.4 1156.0 916.9 1156.5 917.4 1157.0 918.4 1157.5 919.0 1158.0 919.7 1158.5 918.0 1159.0 918.3 1159.5 913.0 1160.0 920.3 1160.5 914.7 1161.0 917.8 1161.5 923.0 1162.0 917.3 1162.5 914.8 1163.0 921.2 1163.5 916.9 1164.0 917.7 1164.5 917.8 1165.0 919.6 1165.5 919.7 1166.0 917.9 1166.5 920.4 1167.0 916.4 1167.5 919.6 1168.0 917.0 1168.5 919.7 1169.0 917.0 1169.5 917.5 1170.0 921.3 1170.5 916.2 1171.0 916.1 1171.5 919.6 1172.0 917.9 1172.5 917.6 1173.0 918.2 1173.5 922.7 1174.0 916.5 1174.5 918.0 1175.0 918.9 1175.5 916.7 1176.0 918.6 1176.5 919.6 1177.0 916.9 1177.5 920.9 1178.0 916.4 1178.5 918.4 1179.0 919.4 1179.5 925.1 1180.0 915.3 1180.5 919.3 1181.0 923.8 1181.5 917.6 1182.0 921.0 1182.5 919.3 1183.0 916.0 1183.5 919.6 1184.0 917.1 1184.5 919.1 1185.0 915.9 1185.5 920.4 1186.0 914.1 1186.5 918.6 1187.0 921.5 1187.5 920.0 1188.0 918.3 1188.5 918.5 1189.0 918.1 1189.5 924.4 1190.0 918.9 1190.5 919.0 1191.0 917.6 1191.5 918.1 1192.0 920.3 1192.5 917.9 1193.0 917.5 1193.5 918.0 1194.0 918.4 1194.5 919.4 1195.0 918.1 1195.5 918.7 1196.0 917.6 1196.5 921.6 1197.0 919.3 1197.5 918.5 1198.0 919.7 1198.5 919.1 1199.0 916.1 1199.5 918.8 1200.0 922.5 1200.5 920.2 1201.0 921.5 1201.5 917.9 1202.0 916.3 1202.5 917.9 1203.0 921.9 1203.5 917.3 1204.0 917.7 1204.5 921.5 1205.0 918.8 1205.5 918.9 1206.0 920.1 1206.5 919.5 1207.0 918.7 1207.5 919.8 1208.0 917.9 1208.5 919.3 1209.0 920.7 1209.5 917.3 1210.0 918.9 1210.5 917.1 1211.0 920.9 1211.5 920.6 1212.0 921.3 1212.5 921.5 1213.0 921.4 1213.5 920.8 1214.0 917.9 1214.5 921.3 1215.0 917.6 1215.5 924.1 1216.0 920.0 1216.5 920.6 1217.0 917.0 1217.5 921.6 1218.0 921.8 1218.5 916.4 1219.0 918.4 1219.5 918.6 1220.0 918.2 1220.5 922.3 1221.0 923.8 1221.5 917.4 1222.0 921.6 1222.5 919.0 1223.0 922.3 1223.5 914.7 1224.0 918.7 1224.5 922.0 1225.0 918.1 1225.5 921.9 1226.0 918.6 1226.5 921.9 1227.0 920.8 1227.5 918.8 1228.0 918.1 1228.5 919.3 1229.0 921.9 1229.5 919.6 1230.0 918.3 1230.5 926.2 1231.0 916.5 1231.5 919.2 1232.0 920.7 1232.5 917.6 1233.0 919.7 1233.5 918.8 1234.0 916.8 1234.5 920.6 1235.0 917.4 1235.5 918.2 1236.0 922.2 1236.5 917.5 1237.0 920.9 1237.5 922.1 1238.0 921.7 1238.5 920.7 1239.0 919.3 1239.5 917.0 1240.0 920.0 1240.5 920.6 1241.0 918.7 1241.5 917.8 1242.0 921.5 1242.5 917.7 1243.0 920.7 1243.5 918.8 1244.0 916.4 1244.5 923.0 1245.0 921.0 1245.5 920.9 1246.0 917.0 1246.5 919.5 1247.0 920.4 1247.5 918.3 1248.0 923.1 1248.5 915.8 1249.0 921.2 1249.5 916.1 1250.0 916.7 1250.5 917.3 1251.0 921.0 1251.5 918.4 1252.0 918.5 1252.5 918.0 1253.0 916.9 1253.5 918.0 1254.0 917.9 1254.5 919.2 1255.0 919.1 1255.5 915.1 1256.0 918.5 1256.5 922.2 1257.0 918.9 1257.5 919.7 1258.0 918.4 1258.5 918.5 1259.0 919.7 1259.5 917.1 1260.0 919.5 1260.5 916.5 1261.0 920.5 1261.5 916.7 1262.0 921.1 1262.5 921.8 1263.0 916.6 1263.5 921.1 1264.0 919.0 1264.5 922.1 1265.0 918.8 1265.5 919.2 1266.0 919.2 1266.5 922.3 1267.0 916.0 1267.5 921.3 1268.0 920.0 1268.5 918.8 1269.0 919.3 1269.5 921.7 1270.0 921.5 1270.5 923.2 1271.0 918.6 1271.5 916.1 1272.0 918.7 1272.5 919.4 1273.0 919.0 1273.5 922.3 1274.0 924.4 1274.5 920.6 1275.0 916.3 1275.5 921.9 1276.0 918.6 1276.5 919.9 1277.0 921.5 1277.5 920.6 1278.0 919.7 1278.5 920.4 1279.0 921.4 1279.5 921.1 1280.0 924.0 1280.5 913.9 1281.0 918.3 1281.5 918.7 1282.0 921.5 1282.5 920.3 1283.0 921.6 1283.5 917.1 1284.0 919.5 1284.5 921.2 1285.0 919.8 1285.5 919.1 1286.0 920.4 1286.5 923.2 1287.0 915.7 1287.5 923.1 1288.0 920.5 1288.5 918.2 1289.0 921.2 1289.5 920.0 1290.0 922.3 1290.5 918.3 1291.0 921.8 1291.5 918.1 1292.0 920.6 1292.5 921.3 1293.0 919.8 1293.5 921.2 1294.0 918.8 1294.5 922.0 1295.0 918.9 1295.5 918.6 1296.0 919.7 1296.5 919.9 1297.0 918.3 1297.5 921.5 1298.0 919.7 1298.5 921.2 1299.0 917.0 1299.5 917.4 1300.0 919.4 1300.5 918.0 1301.0 919.7 1301.5 921.1 1302.0 922.2 1302.5 922.9 1303.0 921.5 1303.5 918.6 1304.0 921.1 1304.5 919.0 1305.0 921.1 1305.5 917.9 1306.0 922.7 1306.5 920.8 1307.0 919.4 1307.5 917.3 1308.0 920.6 1308.5 919.0 1309.0 920.5 1309.5 918.6 1310.0 918.9 1310.5 921.3 1311.0 923.0 1311.5 917.5 1312.0 919.6 1312.5 920.8 1313.0 919.7 1313.5 919.2 1314.0 924.3 1314.5 918.4 1315.0 920.8 1315.5 919.1 1316.0 919.9 1316.5 915.5 1317.0 921.8 1317.5 919.6 1318.0 918.1 1318.5 923.4 1319.0 919.5 1319.5 918.8 1320.0 918.4 1320.5 922.2 1321.0 920.1 1321.5 919.5 1322.0 917.5 1322.5 918.3 1323.0 920.8 1323.5 920.0 1324.0 916.1 1324.5 918.4 1325.0 920.5 1325.5 925.4 1326.0 918.6 1326.5 915.7 1327.0 921.6 1327.5 919.1 1328.0 917.5 1328.5 921.2 1329.0 919.6 1329.5 918.2 1330.0 917.5 1330.5 919.9 1331.0 920.3 1331.5 916.6 1332.0 922.1 1332.5 917.6 1333.0 922.9 1333.5 920.8 1334.0 919.7 1334.5 920.8 1335.0 918.9 1335.5 920.0 1336.0 923.4 1336.5 919.0 1337.0 921.7 1337.5 918.4 1338.0 920.1 1338.5 922.0 1339.0 917.8 1339.5 920.8 1340.0 915.9 1340.5 917.9 1341.0 919.3 1341.5 921.9 1342.0 921.6 1342.5 918.3 1343.0 919.9 1343.5 920.5 1344.0 917.1 1344.5 921.0 1345.0 922.8 1345.5 922.6 1346.0 919.0 1346.5 919.4 1347.0 918.3 1347.5 919.2 1348.0 919.7 1348.5 921.5 1349.0 920.3 1349.5 918.3 1350.0 921.8 1350.5 921.9 1351.0 919.0 1351.5 919.7 1352.0 920.0 1352.5 916.9 1353.0 920.5 1353.5 921.5 1354.0 924.0 1354.5 920.6 1355.0 919.6 1355.5 919.9 1356.0 921.4 1356.5 921.8 1357.0 918.5 1357.5 920.6 1358.0 921.5 1358.5 916.2 1359.0 922.9 1359.5 919.8 1360.0 921.9 1360.5 920.1 1361.0 919.7 1361.5 920.1 1362.0 920.8 1362.5 921.9 1363.0 919.7 1363.5 918.0 1364.0 918.9 1364.5 918.3 1365.0 921.7 1365.5 918.3 1366.0 923.3 1366.5 920.5 1367.0 920.1 1367.5 922.8 1368.0 919.5 1368.5 919.7 1369.0 921.8 1369.5 921.7 1370.0 918.3 1370.5 925.1 1371.0 921.4 1371.5 917.8 1372.0 919.9 1372.5 922.1 1373.0 920.7 1373.5 922.0 1374.0 925.0 1374.5 922.1 1375.0 924.3 1375.5 921.6 1376.0 919.0 1376.5 923.3 1377.0 918.9 1377.5 922.2 1378.0 921.6 1378.5 918.6 1379.0 918.9 1379.5 920.0 1380.0 921.1 1380.5 923.0 1381.0 920.5 1381.5 924.1 1382.0 922.1 1382.5 919.1 1383.0 919.2 1383.5 920.6 1384.0 919.4 1384.5 920.2 1385.0 921.9 1385.5 920.9 1386.0 922.3 1386.5 919.1 1387.0 918.7 1387.5 917.7 1388.0 916.9 1388.5 919.5 1389.0 920.6 1389.5 920.0 1390.0 920.5 1390.5 924.5 1391.0 918.3 1391.5 919.9 1392.0 919.5 1392.5 918.7 1393.0 923.1 1393.5 920.4 1394.0 923.0 1394.5 918.2 1395.0 924.2 1395.5 925.0 1396.0 918.8 1396.5 920.5 1397.0 920.2 1397.5 921.6 1398.0 917.9 1398.5 921.4 1399.0 922.0 1399.5 919.3 1400.0 916.0 1400.5 919.2 1401.0 919.7 1401.5 922.0 1402.0 919.3 1402.5 918.3 1403.0 921.8 1403.5 921.3 1404.0 922.0 1404.5 920.6 1405.0 922.6 1405.5 921.6 1406.0 917.0 1406.5 921.0 1407.0 922.1 1407.5 920.6 1408.0 923.5 1408.5 919.7 1409.0 922.0 1409.5 918.2 1410.0 920.6 1410.5 919.5 1411.0 918.6 1411.5 918.0 1412.0 921.0 1412.5 921.5 1413.0 919.4 1413.5 918.2 1414.0 918.9 1414.5 922.1 1415.0 918.2 1415.5 922.9 1416.0 917.3 1416.5 921.2 1417.0 922.0 1417.5 923.1 1418.0 919.8 1418.5 919.1 1419.0 917.8 1419.5 922.5 1420.0 920.4 1420.5 919.8 1421.0 919.8 1421.5 921.2 1422.0 920.7 1422.5 923.0 1423.0 916.4 1423.5 922.4 1424.0 919.6 1424.5 920.5 1425.0 920.1 1425.5 920.5 1426.0 922.2 1426.5 921.1 1427.0 917.9 1427.5 920.6 1428.0 920.5 1428.5 921.5 1429.0 920.8 1429.5 920.6 1430.0 922.8 1430.5 918.6 1431.0 925.1 1431.5 919.6 1432.0 918.7 1432.5 922.3 1433.0 922.9 1433.5 923.3 1434.0 923.7 1434.5 921.7 1435.0 920.9 1435.5 921.5 1436.0 920.8 1436.5 919.7 1437.0 924.0 1437.5 924.4 1438.0 920.8 1438.5 920.4 1439.0 919.9 1439.5 917.5 1440.0 919.5 1440.5 919.8 1441.0 920.8 1441.5 918.9 1442.0 917.1 1442.5 922.2 1443.0 924.3 1443.5 916.7 1444.0 920.6 1444.5 922.6 1445.0 918.6 1445.5 918.1 1446.0 921.0 1446.5 920.4 1447.0 919.7 1447.5 924.2 1448.0 923.9 1448.5 922.2 1449.0 920.8 1449.5 920.3 1450.0 922.7 1450.5 920.5 1451.0 923.9 1451.5 923.4 1452.0 919.8 1452.5 922.5 1453.0 924.1 1453.5 922.3 1454.0 919.1 1454.5 920.5 1455.0 920.4 1455.5 921.3 1456.0 921.1 1456.5 920.4 1457.0 922.8 1457.5 923.8 1458.0 920.0 1458.5 918.2 1459.0 921.8 1459.5 921.1 1460.0 922.0 1460.5 919.8 1461.0 921.7 1461.5 919.3 1462.0 923.3 1462.5 924.5 1463.0 919.3 1463.5 916.0 1464.0 920.2 1464.5 920.2 1465.0 921.6 1465.5 921.3 1466.0 922.2 1466.5 926.6 1467.0 920.1 1467.5 920.5 1468.0 922.1 1468.5 917.6 1469.0 922.8 1469.5 920.0 1470.0 918.4 1470.5 919.6 1471.0 922.3 1471.5 923.0 1472.0 923.8 1472.5 922.2 1473.0 919.9 1473.5 922.4 1474.0 921.2 1474.5 926.0 1475.0 917.3 1475.5 924.6 1476.0 922.9 1476.5 922.2 1477.0 921.2 1477.5 920.3 1478.0 919.5 1478.5 918.3 1479.0 925.5 1479.5 923.3 1480.0 922.8 1480.5 922.2 1481.0 917.7 1481.5 920.9 1482.0 921.7 1482.5 923.8 1483.0 919.5 1483.5 922.0 1484.0 921.0 1484.5 921.6 1485.0 920.0 1485.5 922.2 1486.0 921.7 1486.5 917.8 1487.0 924.0 1487.5 925.9 1488.0 919.8 1488.5 923.8 1489.0 919.6 1489.5 920.5 1490.0 925.1 1490.5 922.0 1491.0 924.6 1491.5 922.2 1492.0 923.6 1492.5 921.3 1493.0 924.5 1493.5 925.2 1494.0 923.0 1494.5 920.5 1495.0 920.9 1495.5 919.8 1496.0 922.9 1496.5 922.7 1497.0 920.3 1497.5 923.5 1498.0 920.6 1498.5 925.3 1499.0 923.4 1499.5 924.9 1500.0 920.3 1500.5 919.8 1501.0 918.1 1501.5 923.0 1502.0 919.5 1502.5 924.4 1503.0 922.1 1503.5 923.3 1504.0 919.3 1504.5 920.6 1505.0 922.2 1505.5 923.3 1506.0 919.3 1506.5 922.5 1507.0 920.2 1507.5 923.4 1508.0 921.4 1508.5 921.3 1509.0 922.7 1509.5 924.2 1510.0 921.4 1510.5 924.3 1511.0 919.9 1511.5 922.4 1512.0 919.7 1512.5 922.3 1513.0 920.1 1513.5 922.0 1514.0 923.1 1514.5 920.0 1515.0 918.5 1515.5 921.6 1516.0 923.0 1516.5 922.4 1517.0 920.2 1517.5 923.6 1518.0 921.4 1518.5 923.5 1519.0 920.2 1519.5 922.8 1520.0 924.3 1520.5 920.7 1521.0 921.4 1521.5 923.2 1522.0 923.0 1522.5 922.7 1523.0 921.8 1523.5 918.9 1524.0 922.0 1524.5 919.5 1525.0 922.2 1525.5 917.4 1526.0 924.9 1526.5 925.8 1527.0 922.9 1527.5 920.4 1528.0 921.4 1528.5 923.8 1529.0 923.3 1529.5 920.7 1530.0 924.4 1530.5 923.5 1531.0 923.1 1531.5 921.4 1532.0 922.1 1532.5 920.7 1533.0 922.5 1533.5 920.8 1534.0 924.4 1534.5 922.2 1535.0 922.5 1535.5 922.8 1536.0 922.8 1536.5 919.3 1537.0 924.6 1537.5 922.3 1538.0 921.1 1538.5 920.2 1539.0 920.8 1539.5 921.0 1540.0 922.2 1540.5 920.5 1541.0 922.4 1541.5 922.5 1542.0 920.8 1542.5 926.5 1543.0 922.0 1543.5 922.9 1544.0 922.4 1544.5 921.9 1545.0 923.5 1545.5 924.9 1546.0 922.1 1546.5 920.5 1547.0 923.3 1547.5 918.0 1548.0 922.5 1548.5 921.9 1549.0 922.9 1549.5 919.3 1550.0 921.4 1550.5 920.2 1551.0 921.2 1551.5 923.4 1552.0 921.9 1552.5 921.1 1553.0 924.6 1553.5 922.3 1554.0 918.3 1554.5 920.2 1555.0 923.1 1555.5 923.1 1556.0 922.7 1556.5 922.8 1557.0 920.5 1557.5 922.1 1558.0 919.9 1558.5 920.6 1559.0 920.5 1559.5 920.6 1560.0 921.6 1560.5 921.8 1561.0 920.7 1561.5 924.4 1562.0 921.4 1562.5 925.3 1563.0 924.2 1563.5 919.9 1564.0 924.0 1564.5 919.6 1565.0 925.1 1565.5 922.9 1566.0 920.3 1566.5 918.0 1567.0 921.5 1567.5 919.6 1568.0 924.4 1568.5 919.9 1569.0 921.8 1569.5 923.2 1570.0 922.3 1570.5 922.8 1571.0 921.8 1571.5 923.7 1572.0 920.5 1572.5 923.4 1573.0 920.0 1573.5 922.7 1574.0 920.1 1574.5 921.9 1575.0 923.5 1575.5 924.7 1576.0 918.8 1576.5 920.8 1577.0 920.4 1577.5 924.7 1578.0 920.7 1578.5 923.7 1579.0 921.4 1579.5 919.5 1580.0 922.6 1580.5 920.1 1581.0 923.8 1581.5 924.0 1582.0 925.0 1582.5 920.4 1583.0 925.5 1583.5 924.3 1584.0 918.9 1584.5 926.7 1585.0 925.7 1585.5 920.4 1586.0 923.1 1586.5 919.8 1587.0 922.2 1587.5 922.8 1588.0 923.7 1588.5 920.8 1589.0 922.4 1589.5 920.6 1590.0 923.2 1590.5 923.8 1591.0 922.6 1591.5 924.7 1592.0 924.0 1592.5 923.2 1593.0 924.8 1593.5 920.1 1594.0 922.4 1594.5 919.1 1595.0 922.5 1595.5 921.6 1596.0 924.2 1596.5 921.7 1597.0 921.3 1597.5 922.4 1598.0 922.3 1598.5 923.6 1599.0 920.9 1599.5 919.6 1600.0 919.5 1600.5 924.8 1601.0 920.1 1601.5 921.7 1602.0 920.4 1602.5 924.3 1603.0 921.5 1603.5 925.0 1604.0 921.2 1604.5 923.2 1605.0 924.1 1605.5 924.5 1606.0 920.3 1606.5 921.9 1607.0 922.5 1607.5 919.1 1608.0 924.1 1608.5 923.4 1609.0 923.7 1609.5 920.0 1610.0 923.1 1610.5 923.6 1611.0 924.7 1611.5 921.7 1612.0 924.0 1612.5 926.6 1613.0 921.9 1613.5 921.9 1614.0 922.1 1614.5 919.8 1615.0 922.0 1615.5 925.9 1616.0 920.9 1616.5 922.4 1617.0 925.1 1617.5 923.9 1618.0 923.2 1618.5 922.1 1619.0 922.6 1619.5 922.8 1620.0 924.2 1620.5 923.0 1621.0 924.7 1621.5 919.2 1622.0 924.4 1622.5 921.8 1623.0 922.9 1623.5 922.0 1624.0 924.1 1624.5 922.6 1625.0 924.1 1625.5 921.3 1626.0 923.3 1626.5 925.3 1627.0 925.1 1627.5 922.2 1628.0 923.2 1628.5 922.2 1629.0 922.7 1629.5 923.0 1630.0 925.3 1630.5 924.1 1631.0 925.8 1631.5 925.9 1632.0 920.5 1632.5 923.6 1633.0 922.1 1633.5 919.8 1634.0 920.9 1634.5 922.0 1635.0 926.2 1635.5 923.2 1636.0 922.6 1636.5 922.9 1637.0 921.5 1637.5 923.3 1638.0 922.8 1638.5 919.8 1639.0 922.0 1639.5 929.6 1640.0 924.3 1640.5 922.8 1641.0 924.3 1641.5 921.1 1642.0 923.2 1642.5 924.8 1643.0 919.9 1643.5 921.6 1644.0 922.3 1644.5 922.5 1645.0 922.1 1645.5 923.6 1646.0 925.1 1646.5 923.8 1647.0 925.1 1647.5 925.1 1648.0 921.9 1648.5 923.6 1649.0 922.4 1649.5 924.4 1650.0 922.4 1650.5 922.8 1651.0 926.4 1651.5 922.8 1652.0 920.1 1652.5 923.4 1653.0 923.7 1653.5 922.2 1654.0 923.3 1654.5 925.1 1655.0 922.1 1655.5 922.8 1656.0 921.8 1656.5 923.8 1657.0 922.9 1657.5 921.4 1658.0 922.8 1658.5 926.7 1659.0 919.8 1659.5 920.5 1660.0 923.8 1660.5 920.5 1661.0 926.9 1661.5 920.3 1662.0 920.6 1662.5 922.1 1663.0 925.2 1663.5 924.7 1664.0 924.2 1664.5 923.7 1665.0 925.6 1665.5 919.6 1666.0 923.6 1666.5 925.9 1667.0 921.0 1667.5 923.7 1668.0 925.4 1668.5 925.5 1669.0 922.8 1669.5 926.7 1670.0 924.0 1670.5 925.1 1671.0 920.9 1671.5 921.5 1672.0 921.5 1672.5 926.4 1673.0 918.4 1673.5 919.4 1674.0 924.4 1674.5 923.1 1675.0 917.1 1675.5 922.0 1676.0 922.2 1676.5 925.0 1677.0 919.0 1677.5 921.6 1678.0 924.6 1678.5 924.0 1679.0 920.7 1679.5 921.8 1680.0 919.4 1680.5 924.8 1681.0 921.2 1681.5 924.4 1682.0 923.4 1682.5 920.0 1683.0 921.2 1683.5 922.6 1684.0 922.0 1684.5 923.8 1685.0 922.7 1685.5 920.9 1686.0 921.2 1686.5 918.0 1687.0 917.7 1687.5 919.4 1688.0 918.1 1688.5 914.4 1689.0 915.3 1689.5 912.6 1690.0 911.6 1690.5 912.8 1691.0 907.2 1691.5 905.3 1692.0 903.8 1692.5 900.7 1693.0 898.5 1693.5 896.3 1693.8 896.8 1694.0 896.7 1694.5 897.7 1695.0 899.8 1695.5 902.5 1696.0 906.4 1696.5 910.5 1697.0 910.6 1697.5 915.0 1698.0 914.2 1698.5 912.5 1699.0 916.6 1699.5 919.9 1700.0 920.9 1700.5 917.2 1701.0 923.8 1701.5 918.6 1702.0 919.0 1702.5 919.8 1703.0 923.8 1703.5 922.1 1704.0 923.3 1704.5 917.5 1705.0 921.9 1705.5 921.9 1706.0 923.6 1706.5 921.5 1707.0 924.8 1707.5 921.3 1708.0 920.1 1708.5 919.7 1709.0 925.3 1709.5 924.5 1710.0 921.6 1710.5 925.3 1711.0 922.9 1711.5 923.0 1712.0 920.5 1712.5 922.3 1713.0 923.6 1713.5 923.8 1714.0 922.4 1714.5 925.4 1715.0 926.3 1715.5 922.0 1716.0 924.4 1716.5 920.7 1717.0 924.5 1717.5 921.9 1718.0 923.4 1718.5 924.1 1719.0 923.3 1719.5 925.8 1720.0 922.3 1720.5 923.0 1721.0 924.5 1721.5 923.8 1722.0 924.4 1722.5 923.5 1723.0 922.4 1723.5 925.2 1724.0 924.1 1724.5 925.7 1725.0 926.6 1725.5 923.4 1726.0 922.6 1726.5 923.2 1727.0 922.8 1727.5 920.3 1728.0 927.3 1728.5 924.9 1729.0 928.6 1729.5 923.1 1730.0 925.3 1730.5 924.7 1731.0 924.1 1731.5 926.1 1732.0 924.2 1732.5 924.1 1733.0 924.6 1733.5 920.0 1734.0 922.9 1734.5 922.9 1735.0 927.4 1735.5 925.4 1736.0 925.8 1736.5 925.5 1737.0 924.0 1737.5 927.5 1738.0 924.0 1738.5 921.7 1739.0 925.6 1739.5 926.6 1740.0 924.6 1740.5 925.1 1741.0 926.2 1741.5 927.3 1742.0 925.5 1742.5 927.6 1743.0 925.0 1743.5 928.5 1744.0 921.8 1744.5 926.3 1745.0 925.0 1745.5 924.7 1746.0 922.1 1746.5 926.6 1747.0 924.2 1747.5 922.6 1748.0 923.3 1748.5 924.1 1749.0 924.8 1749.5 922.8 1750.0 922.8 1750.5 925.4 1751.0 924.5 1751.5 928.3 1752.0 923.8 1752.5 926.0 1753.0 927.9 1753.5 924.3 1754.0 926.5 1754.5 925.2 1755.0 924.8 1755.5 927.7 1756.0 922.8 1756.5 923.5 1757.0 921.3 1757.5 924.5 1758.0 926.6 1758.5 924.2 1759.0 926.3 1759.5 923.3 1760.0 926.9 1760.5 924.5 1761.0 923.8 1761.5 927.9 1762.0 924.7 1762.5 925.9 1763.0 925.0 1763.5 926.1 1764.0 925.0 1764.5 922.5 1765.0 925.4 1765.5 925.7 1766.0 925.6 1766.5 924.4 1767.0 928.3 1767.5 923.5 1768.0 925.1 1768.5 925.3 1769.0 922.8 1769.5 922.6 1770.0 926.2 1770.5 926.2 1771.0 925.2 1771.5 921.9 1772.0 924.4 1772.5 925.4 1773.0 926.1 1773.5 927.2 1774.0 925.8 1774.5 926.8 1775.0 928.1 1775.5 920.5 1776.0 926.9 1776.5 924.2 1777.0 925.9 1777.5 925.4 1778.0 923.1 1778.5 923.3 1779.0 925.8 1779.5 924.7 1780.0 926.4 1780.5 924.3 1781.0 929.1 1781.5 924.6 1782.0 929.0 1782.5 923.6 1783.0 926.1 1783.5 927.2 1784.0 922.6 1784.5 923.3 1785.0 925.9 1785.5 927.3 1786.0 927.7 1786.5 926.2 1787.0 927.1 1787.5 922.9 1788.0 924.3 1788.5 927.9 1789.0 924.1 1789.5 924.7 1790.0 921.9 1790.5 924.8 1791.0 922.2 1791.5 925.9 1792.0 928.0 1792.5 925.8 1793.0 925.5 1793.5 924.5 1794.0 926.3 1794.5 923.1 1795.0 924.4 1795.5 929.3 1796.0 922.8 1796.5 924.2 1797.0 922.6 1797.5 927.6 1798.0 924.8 1798.5 922.9 1799.0 922.9 1799.5 927.4 1800.0 926.6 1800.5 926.8 1801.0 925.2 1801.5 927.0 1802.0 927.8 1802.5 926.6 1803.0 922.3 1803.5 921.6 1804.0 922.6 1804.5 925.9 1805.0 922.5 1805.5 923.3 1806.0 925.4 1806.5 923.7 1807.0 923.0 1807.5 927.2 1808.0 926.3 1808.5 926.9 1809.0 927.2 1809.5 928.1 1810.0 925.3 1810.5 925.1 1811.0 922.1 1811.5 925.0 1812.0 924.3 1812.5 927.4 1813.0 926.7 1813.5 928.2 1814.0 927.5 1814.5 927.7 1815.0 926.5 1815.5 925.7 1816.0 924.8 1816.5 925.4 1817.0 923.7 1817.5 926.2 1818.0 925.3 1818.5 921.6 1819.0 920.4 1819.5 924.1 1820.0 924.6 1820.5 925.0 1821.0 928.0 1821.5 924.3 1822.0 923.1 1822.5 926.3 1823.0 927.5 1823.5 928.7 1824.0 923.6 1824.5 925.1 1825.0 924.8 1825.5 928.5 1826.0 926.9 1826.5 925.7 1827.0 927.0 1827.5 924.9 1828.0 925.2 1828.5 925.6 1829.0 924.7 1829.5 925.2 1830.0 926.3 1830.5 926.1 1831.0 928.5 1831.5 927.3 1832.0 925.5 1832.5 921.5 1833.0 922.9 1833.5 924.7 1834.0 925.0 1834.5 923.2 1835.0 925.0 1835.5 925.9 1836.0 924.5 1836.5 925.5 1837.0 925.6 1837.5 924.4 1838.0 924.1" fill="none" stroke="#fe9c50" stroke-width="7.0" stroke-linejoin="round"/>
<path d="M132.0 1006.9 132.5 1008.3 133.0 1004.3 133.5 1001.2 134.0 1004.7 134.5 1009.4 135.0 1002.9 135.5 1011.0 136.0 1006.3 136.5 1008.6 137.0 1005.9 137.5 1010.3 138.0 1008.7 138.5 1009.8 139.0 1002.6 139.5 1011.1 140.0 1003.6 140.5 1008.0 141.0 1010.7 141.5 1008.6 142.0 1010.9 142.5 1009.9 143.0 1009.8 143.5 1007.0 144.0 1012.8 144.5 1013.3 145.0 1008.2 145.5 1007.2 146.0 1010.7 146.5 1007.8 147.0 1010.7 147.5 1012.9 148.0 1012.5 148.5 1015.2 149.0 1012.1 149.5 1007.4 150.0 1008.1 150.5 1012.6 151.0 1016.9 151.5 1009.9 152.0 1008.3 152.5 1015.6 153.0 1010.9 153.5 1013.6 154.0 1014.9 154.5 1008.5 155.0 1010.5 155.5 1010.0 156.0 1013.5 156.5 1013.9 157.0 1010.4 157.5 1013.8 158.0 1006.6 158.5 1013.3 159.0 1013.4 159.5 1012.4 160.0 1008.0 160.5 1012.2 161.0 1009.3 161.5 1017.2 162.0 1011.9 162.5 1012.2 163.0 1012.6 163.5 1014.7 164.0 1013.3 164.5 1014.8 165.0 1010.4 165.5 1016.7 166.0 1011.9 166.5 1015.8 167.0 1014.3 167.5 1016.9 168.0 1013.4 168.5 1009.2 169.0 1010.2 169.5 1013.2 170.0 1018.2 170.5 1012.7 171.0 1014.3 171.5 1018.0 172.0 1012.5 172.5 1015.2 173.0 1015.2 173.5 1012.6 174.0 1015.2 174.5 1017.8 175.0 1017.9 175.5 1013.6 176.0 1023.8 176.5 1015.9 177.0 1014.0 177.5 1012.7 178.0 1011.9 178.5 1017.6 179.0 1006.1 179.5 1014.7 180.0 1010.9 180.5 1014.7 181.0 1015.2 181.5 1011.3 182.0 1012.3 182.5 1019.4 183.0 1013.8 183.5 1015.5 184.0 1014.6 184.5 1018.2 185.0 1019.5 185.5 1018.6 186.0 1017.5 186.5 1017.6 187.0 1012.2 187.5 1020.0 188.0 1014.2 188.5 1013.3 189.0 1014.9 189.5 1013.6 190.0 1017.4 190.5 1018.4 191.0 1020.2 191.5 1016.0 192.0 1014.5 192.5 1015.5 193.0 1012.7 193.5 1014.1 194.0 1022.6 194.5 1014.1 195.0 1015.1 195.5 1018.5 196.0 1017.4 196.5 1019.0 197.0 1014.0 197.5 1013.4 198.0 1020.8 198.5 1014.7 199.0 1016.5 199.5 1017.5 200.0 1011.2 200.5 1016.3 201.0 1014.9 201.5 1018.6 202.0 1016.1 202.5 1010.1 203.0 1019.5 203.5 1009.2 204.0 1015.9 204.5 1015.0 205.0 1015.3 205.5 1017.2 206.0 1020.2 206.5 1014.6 207.0 1015.5 207.5 1019.7 208.0 1019.0 208.5 1019.7 209.0 1018.5 209.5 1016.8 210.0 1016.0 210.5 1016.1 211.0 1020.4 211.5 1022.3 212.0 1023.8 212.5 1014.5 213.0 1017.0 213.5 1017.8 214.0 1017.3 214.5 1014.3 215.0 1024.6 215.5 1022.6 216.0 1017.4 216.5 1016.5 217.0 1017.9 217.5 1014.2 218.0 1017.0 218.5 1020.4 219.0 1023.2 219.5 1020.8 220.0 1022.1 220.5 1014.8 221.0 1008.1 221.5 1022.5 222.0 1018.8 222.5 1018.0 223.0 1023.4 223.5 1015.3 224.0 1015.3 224.5 1016.0 225.0 1023.3 225.5 1021.3 226.0 1012.8 226.5 1023.5 227.0 1018.4 227.5 1019.7 228.0 1016.0 228.5 1024.3 229.0 1019.8 229.5 1022.5 230.0 1015.3 230.5 1020.6 231.0 1018.7 231.5 1017.7 232.0 1015.9 232.5 1016.3 233.0 1014.8 233.5 1016.4 234.0 1018.4 234.5 1020.3 235.0 1013.6 235.5 1015.2 236.0 1016.6 236.5 1013.3 237.0 1017.6 237.5 1017.6 238.0 1017.9 238.5 1019.7 239.0 1021.4 239.5 1020.9 240.0 1019.3 240.5 1020.2 241.0 1015.9 241.5 1015.4 242.0 1020.4 242.5 1020.1 243.0 1025.2 243.5 1017.5 244.0 1015.1 244.5 1019.1 245.0 1016.8 245.5 1015.3 246.0 1022.4 246.5 1024.1 247.0 1019.2 247.5 1015.9 248.0 1018.8 248.5 1017.7 249.0 1013.5 249.5 1020.5 250.0 1018.9 250.5 1021.7 251.0 1016.0 251.5 1017.6 252.0 1017.3 252.5 1012.2 253.0 1025.4 253.5 1010.9 254.0 1013.8 254.5 1016.3 255.0 1012.4 255.5 1018.6 256.0 1015.8 256.5 1017.4 257.0 1017.9 257.5 1017.3 258.0 1017.3 258.5 1016.5 259.0 1018.2 259.5 1019.4 260.0 1016.0 260.5 1015.3 261.0 1015.4 261.5 1017.6 262.0 1015.4 262.5 1015.3 263.0 1011.7 263.5 1022.5 264.0 1012.4 264.5 1021.6 265.0 1018.7 265.5 1019.4 266.0 1016.9 266.5 1017.6 267.0 1016.9 267.5 1017.8 268.0 1018.5 268.5 1020.6 269.0 1012.6 269.5 1017.3 270.0 1020.8 270.5 1020.0 271.0 1012.3 271.5 1016.5 272.0 1016.3 272.5 1016.2 273.0 1008.2 273.5 1018.0 274.0 1010.1 274.5 1022.1 275.0 1017.2 275.5 1014.7 276.0 1017.0 276.5 1015.4 277.0 1013.2 277.5 1014.5 278.0 1015.9 278.5 1012.2 279.0 1017.0 279.5 1018.2 280.0 1018.0 280.5 1018.3 281.0 1018.6 281.5 1016.7 282.0 1018.5 282.5 1014.5 283.0 1015.6 283.5 1018.7 284.0 1020.3 284.5 1013.0 285.0 1009.4 285.5 1020.8 286.0 1017.6 286.5 1019.7 287.0 1016.7 287.5 1014.5 288.0 1011.7 288.5 1010.6 289.0 1018.2 289.5 1016.7 290.0 1014.5 290.5 1009.9 291.0 1011.7 291.5 1011.3 292.0 1012.3 292.5 1003.9 293.0 1013.8 293.5 1018.0 294.0 1011.2 294.5 1013.0 295.0 1013.7 295.5 1009.5 296.0 1014.1 296.5 1010.0 297.0 1011.1 297.5 1013.3 298.0 1012.2 298.5 1012.6 299.0 1009.3 299.5 1014.5 300.0 1008.6 300.5 1014.7 301.0 1010.4 301.5 1008.0 302.0 1011.5 302.5 1008.3 303.0 1009.9 303.5 1011.0 304.0 1013.9 304.5 1013.8 305.0 1012.7 305.5 1010.2 306.0 1006.1 306.5 1010.2 307.0 1009.8 307.5 1010.3 308.0 1008.9 308.5 1008.8 309.0 1013.0 309.5 1006.0 310.0 1010.2 310.5 1014.1 311.0 1007.5 311.5 1006.7 312.0 1009.0 312.5 1008.5 313.0 1010.4 313.5 1013.8 314.0 1008.9 314.5 1011.0 315.0 1007.2 315.5 1007.4 316.0 1009.8 316.5 1006.5 317.0 1012.5 317.5 1007.2 318.0 1007.8 318.5 1004.9 319.0 1006.7 319.5 1004.7 320.0 1006.3 320.5 1002.0 321.0 1007.5 321.5 1013.1 322.0 1001.3 322.5 1012.8 323.0 1006.7 323.5 1009.8 324.0 1003.5 324.5 1013.2 325.0 1003.0 325.5 1006.1 326.0 1011.3 326.5 1002.0 327.0 998.4 327.5 1005.6 328.0 1003.2 328.5 1002.4 329.0 1002.4 329.5 1000.5 330.0 1009.6 330.5 1008.9 331.0 1000.4 331.5 1004.3 332.0 1003.0 332.5 1007.9 333.0 1001.5 333.5 1009.3 334.0 1003.9 334.5 1001.2 335.0 1003.3 335.5 1001.6 336.0 1010.7 336.5 1003.6 337.0 1001.4 337.5 1003.2 338.0 1007.5 338.5 999.4 339.0 996.9 339.5 1006.5 340.0 1004.1 340.5 1000.4 341.0 1001.5 341.5 1005.2 342.0 992.5 342.5 1005.4 343.0 1000.5 343.5 1003.2 344.0 1000.6 344.5 1010.7 345.0 998.4 345.5 1003.9 346.0 991.6 346.5 1000.0 347.0 1002.3 347.5 994.5 348.0 992.7 348.5 999.5 349.0 1002.3 349.5 1002.7 350.0 996.3 350.5 999.5 351.0 993.6 351.5 1003.7 352.0 995.9 352.5 1001.8 353.0 996.5 353.5 996.1 354.0 1002.3 354.5 993.9 355.0 1000.8 355.5 995.2 356.0 993.3 356.5 993.2 357.0 999.4 357.5 995.2 358.0 994.1 358.5 990.1 359.0 998.7 359.5 998.1 360.0 995.4 360.5 996.7 361.0 983.2 361.5 991.9 362.0 994.0 362.5 993.6 363.0 991.1 363.5 993.5 364.0 990.1 364.5 990.1 365.0 987.9 365.5 992.2 366.0 989.1 366.5 989.5 367.0 995.5 367.5 990.5 368.0 990.2 368.5 984.9 369.0 988.0 369.5 992.6 370.0 990.9 370.5 989.0 371.0 987.9 371.5 988.4 372.0 989.1 372.5 986.4 373.0 979.0 373.5 993.4 374.0 990.3 374.5 985.8 375.0 990.6 375.5 981.3 376.0 989.6 376.5 985.7 377.0 987.7 377.5 983.3 378.0 984.7 378.5 985.8 379.0 987.1 379.5 985.1 380.0 984.6 380.5 980.9 381.0 988.3 381.5 983.1 382.0 981.4 382.5 980.9 383.0 977.8 383.5 979.1 384.0 976.4 384.5 981.9 385.0 980.8 385.5 981.6 386.0 976.6 386.5 979.2 387.0 978.3 387.5 983.5 388.0 975.2 388.5 974.9 389.0 984.0 389.5 980.8 390.0 974.3 390.5 983.8 391.0 984.1 391.5 982.8 392.0 972.1 392.5 979.1 393.0 975.7 393.5 977.6 394.0 973.1 394.5 983.9 395.0 975.8 395.5 978.9 396.0 980.5 396.5 979.7 397.0 978.9 397.5 976.2 398.0 978.1 398.5 976.5 399.0 969.6 399.5 980.3 400.0 974.9 400.5 975.1 401.0 975.4 401.5 972.1 402.0 972.5 402.5 970.5 403.0 977.9 403.5 980.2 404.0 976.5 404.5 972.4 405.0 980.4 405.5 974.9 406.0 970.7 406.5 969.6 407.0 976.4 407.5 980.5 408.0 974.4 408.5 973.5 409.0 974.6 409.5 972.6 410.0 973.6 410.5 976.1 411.0 972.8 411.5 978.2 412.0 971.9 412.5 977.4 413.0 976.1 413.5 973.6 414.0 973.9 414.5 973.7 415.0 980.3 415.5 972.0 416.0 978.5 416.5 977.9 417.0 973.4 417.5 979.8 418.0 966.6 418.5 975.2 419.0 974.8 419.5 974.4 420.0 977.0 420.5 972.9 421.0 973.6 421.5 977.9 422.0 973.7 422.5 970.7 423.0 975.9 423.5 973.8 424.0 972.2 424.5 975.8 425.0 971.5 425.5 970.7 426.0 973.1 426.5 973.3 427.0 974.2 427.5 970.0 428.0 979.7 428.5 976.2 429.0 974.5 429.5 974.8 430.0 965.8 430.5 977.1 431.0 970.7 431.5 975.8 432.0 970.2 432.5 977.4 433.0 972.5 433.5 973.6 434.0 979.3 434.5 977.6 435.0 969.8 435.5 972.1 436.0 975.1 436.5 973.8 437.0 977.2 437.5 972.4 438.0 968.5 438.5 971.7 439.0 974.2 439.5 976.7 440.0 977.4 440.5 979.1 441.0 975.8 441.5 974.4 442.0 977.6 442.5 974.9 443.0 973.8 443.5 973.8 444.0 978.5 444.5 980.4 445.0 979.9 445.5 970.4 446.0 979.3 446.5 972.1 447.0 974.7 447.5 977.9 448.0 971.6 448.5 972.1 449.0 973.7 449.5 981.9 450.0 979.9 450.5 973.5 451.0 977.1 451.5 977.2 452.0 977.9 452.5 974.7 453.0 981.9 453.5 976.0 454.0 980.1 454.5 972.0 455.0 979.0 455.5 978.4 456.0 982.6 456.5 969.7 457.0 980.2 457.5 981.3 458.0 977.9 458.5 983.3 459.0 986.0 459.5 982.2 460.0 982.1 460.5 984.1 461.0 981.3 461.5 984.1 462.0 982.2 462.5 978.1 463.0 977.1 463.5 984.6 464.0 982.9 464.5 978.8 465.0 981.3 465.5 986.2 466.0 975.9 466.5 978.7 467.0 984.2 467.5 984.7 468.0 978.3 468.5 979.0 469.0 983.0 469.5 987.2 470.0 982.7 470.5 975.2 471.0 986.4 471.5 983.0 472.0 981.7 472.5 979.5 473.0 987.4 473.5 984.4 474.0 985.0 474.5 984.9 475.0 985.3 475.5 986.8 476.0 989.8 476.5 980.7 477.0 984.1 477.5 982.9 478.0 990.1 478.5 983.7 479.0 979.4 479.5 984.8 480.0 982.6 480.5 982.7 481.0 983.7 481.5 981.0 482.0 979.1 482.5 992.0 483.0 985.3 483.5 982.7 484.0 988.0 484.5 990.5 485.0 980.4 485.5 984.8 486.0 987.4 486.5 983.8 487.0 988.2 487.5 982.8 488.0 984.8 488.5 986.8 489.0 988.8 489.5 987.6 490.0 985.4 490.5 986.6 491.0 981.1 491.5 995.3 492.0 987.1 492.5 987.7 493.0 989.8 493.5 991.1 494.0 990.6 494.5 987.4 495.0 984.5 495.5 989.6 496.0 987.9 496.5 989.0 497.0 991.1 497.5 992.2 498.0 996.0 498.5 991.5 499.0 986.6 499.5 994.6 500.0 996.0 500.5 987.8 501.0 995.6 501.5 994.5 502.0 992.4 502.5 995.1 503.0 996.1 503.5 997.1 504.0 999.3 504.5 995.7 505.0 996.1 505.5 1004.4 506.0 993.1 506.5 996.1 507.0 996.1 507.5 1000.1 508.0 1001.5 508.5 993.7 509.0 1002.4 509.5 994.7 510.0 1007.4 510.5 996.8 511.0 1002.9 511.5 998.6 512.0 1002.0 512.5 997.4 513.0 1000.5 513.5 1000.4 514.0 1000.8 514.5 1003.3 515.0 999.4 515.5 1000.0 516.0 996.9 516.5 1001.0 517.0 1000.0 517.5 1004.8 518.0 1004.2 518.5 999.8 519.0 1003.8 519.5 1006.9 520.0 1002.0 520.5 999.0 521.0 1011.2 521.5 1005.1 522.0 1005.8 522.5 1011.9 523.0 1001.1 523.5 1004.9 524.0 997.8 524.5 1005.9 525.0 1005.7 525.5 1002.0 526.0 1001.9 526.5 1004.3 527.0 1004.3 527.5 1010.5 528.0 1004.6 528.5 1005.0 529.0 1005.1 529.5 1000.6 530.0 1004.4 530.5 1001.7 531.0 1006.8 531.5 999.3 532.0 1003.0 532.5 1007.7 533.0 1000.1 533.5 1002.0 534.0 1010.6 534.5 1003.1 535.0 1007.6 535.5 1008.8 536.0 1004.4 536.5 1002.5 537.0 1013.2 537.5 1006.5 538.0 1010.2 538.5 1006.1 539.0 1010.0 539.5 1004.6 540.0 1004.5 540.5 1005.7 541.0 1007.3 541.5 1007.4 542.0 1008.5 542.5 1011.2 543.0 1008.1 543.5 1013.1 544.0 1008.0 544.5 1012.5 545.0 1014.8 545.5 1016.4 546.0 1004.2 546.5 1016.6 547.0 1005.2 547.5 1015.9 548.0 1011.3 548.5 1012.7 549.0 1008.5 549.5 1014.9 550.0 1014.3 550.5 1010.3 551.0 1010.3 551.5 1015.3 552.0 1016.0 552.5 1015.3 553.0 1011.7 553.5 1013.2 554.0 1016.4 554.5 1016.3 555.0 1017.4 555.5 1014.4 556.0 1011.8 556.5 1015.3 557.0 1016.1 557.5 1013.0 558.0 1016.5 558.5 1012.5 559.0 1016.3 559.5 1013.7 560.0 1022.9 560.5 1020.1 561.0 1017.3 561.5 1012.3 562.0 1012.8 562.5 1019.4 563.0 1016.8 563.5 1018.6 564.0 1012.6 564.5 1013.1 565.0 1018.6 565.5 1017.8 566.0 1014.3 566.5 1016.3 567.0 1021.7 567.5 1017.9 568.0 1021.5 568.5 1025.2 569.0 1021.1 569.5 1020.6 570.0 1018.4 570.5 1024.5 571.0 1015.9 571.5 1017.2 572.0 1020.9 572.5 1016.2 573.0 1024.5 573.5 1019.3 574.0 1023.2 574.5 1020.6 575.0 1020.9 575.5 1021.8 576.0 1015.4 576.5 1018.4 577.0 1020.5 577.5 1029.5 578.0 1024.9 578.5 1024.7 579.0 1019.0 579.5 1025.4 580.0 1026.6 580.5 1025.1 581.0 1031.3 581.5 1018.3 582.0 1019.2 582.5 1022.0 583.0 1019.7 583.5 1023.2 584.0 1024.8 584.5 1023.1 585.0 1023.5 585.5 1024.6 586.0 1025.8 586.5 1021.2 587.0 1021.2 587.5 1027.4 588.0 1022.4 588.5 1020.8 589.0 1024.6 589.5 1022.6 590.0 1024.2 590.5 1023.6 591.0 1026.0 591.5 1027.0 592.0 1021.3 592.5 1020.1 593.0 1029.5 593.5 1022.0 594.0 1019.3 594.5 1018.2 595.0 1024.4 595.5 1022.5 596.0 1018.7 596.5 1021.7 597.0 1021.5 597.5 1028.4 598.0 1026.0 598.5 1025.3 599.0 1021.2 599.5 1025.0 600.0 1027.9 600.5 1026.3 601.0 1029.4 601.5 1026.3 602.0 1028.5 602.5 1027.8 603.0 1024.6 603.5 1031.0 604.0 1028.0 604.5 1029.6 605.0 1023.6 605.5 1023.6 606.0 1026.7 606.5 1024.8 607.0 1029.6 607.5 1029.1 608.0 1031.9 608.5 1030.0 609.0 1024.5 609.5 1031.4 610.0 1026.3 610.5 1026.2 611.0 1028.9 611.5 1028.8 612.0 1032.3 612.5 1038.3 613.0 1030.6 613.5 1034.1 614.0 1028.8 614.5 1030.6 615.0 1028.0 615.5 1028.4 616.0 1034.2 616.5 1031.4 617.0 1031.5 617.5 1027.5 618.0 1035.8 618.5 1029.7 619.0 1028.3 619.5 1030.4 620.0 1032.7 620.5 1033.1 621.0 1035.5 621.5 1027.4 622.0 1029.5 622.5 1036.0 623.0 1038.4 623.5 1029.1 624.0 1030.9 624.5 1026.3 625.0 1028.7 625.5 1028.6 626.0 1031.1 626.5 1027.7 627.0 1034.6 627.5 1031.5 628.0 1030.9 628.5 1034.8 629.0 1031.0 629.5 1028.0 630.0 1032.1 630.5 1039.0 631.0 1032.5 631.5 1033.9 632.0 1031.7 632.5 1031.6 633.0 1034.0 633.5 1024.1 634.0 1028.6 634.5 1030.7 635.0 1031.8 635.5 1037.3 636.0 1040.6 636.5 1034.8 637.0 1034.2 637.5 1035.1 638.0 1037.8 638.5 1030.0 639.0 1031.6 639.5 1033.7 640.0 1034.2 640.5 1027.3 641.0 1034.7 641.5 1028.4 642.0 1035.9 642.5 1036.2 643.0 1026.5 643.5 1035.2 644.0 1034.3 644.5 1031.8 645.0 1036.8 645.5 1040.1 646.0 1035.4 646.5 1030.5 647.0 1029.5 647.5 1030.4 648.0 1030.9 648.5 1037.7 649.0 1035.1 649.5 1034.1 650.0 1037.0 650.5 1034.4 651.0 1034.5 651.5 1031.8 652.0 1032.5 652.5 1034.6 653.0 1030.9 653.5 1039.8 654.0 1035.0 654.5 1033.0 655.0 1037.8 655.5 1031.5 656.0 1038.1 656.5 1035.1 657.0 1040.8 657.5 1033.3 658.0 1033.8 658.5 1032.4 659.0 1031.2 659.5 1035.9 660.0 1031.9 660.5 1036.2 661.0 1033.3 661.5 1038.6 662.0 1027.5 662.5 1036.7 663.0 1035.6 663.5 1035.5 664.0 1033.6 664.5 1041.0 665.0 1034.4 665.5 1037.0 666.0 1034.9 666.5 1034.7 667.0 1036.1 667.5 1037.9 668.0 1032.5 668.5 1034.5 669.0 1031.7 669.5 1037.3 670.0 1033.5 670.5 1033.9 671.0 1038.2 671.5 1036.2 672.0 1037.6 672.5 1035.9 673.0 1037.7 673.5 1036.7 674.0 1033.1 674.5 1037.2 675.0 1035.6 675.5 1036.0 676.0 1037.6 676.5 1035.1 677.0 1033.7 677.5 1040.5 678.0 1042.6 678.5 1036.0 679.0 1040.6 679.5 1038.3 680.0 1035.3 680.5 1034.8 681.0 1036.5 681.5 1036.1 682.0 1036.5 682.5 1037.2 683.0 1034.2 683.5 1040.3 684.0 1034.4 684.5 1034.7 685.0 1040.8 685.5 1040.3 686.0 1042.5 686.5 1038.6 687.0 1036.4 687.5 1041.8 688.0 1038.2 688.5 1038.2 689.0 1036.1 689.5 1039.9 690.0 1031.7 690.5 1040.5 691.0 1033.0 691.5 1041.7 692.0 1034.5 692.5 1041.3 693.0 1046.7 693.5 1038.6 694.0 1036.0 694.5 1045.4 695.0 1038.3 695.5 1036.4 696.0 1043.6 696.5 1031.4 697.0 1035.5 697.5 1036.1 698.0 1038.0 698.5 1034.1 699.0 1042.7 699.5 1043.3 700.0 1040.2 700.5 1039.2 701.0 1035.8 701.5 1041.9 702.0 1038.5 702.5 1042.4 703.0 1043.7 703.5 1040.8 704.0 1034.5 704.5 1038.0 705.0 1044.9 705.5 1041.7 706.0 1045.1 706.5 1034.4 707.0 1040.7 707.5 1040.5 708.0 1036.3 708.5 1039.3 709.0 1044.1 709.5 1042.8 710.0 1039.7 710.5 1042.3 711.0 1044.8 711.5 1038.2 712.0 1042.3 712.5 1044.5 713.0 1039.5 713.5 1045.4 714.0 1041.3 714.5 1044.9 715.0 1044.4 715.5 1042.5 716.0 1040.9 716.5 1039.9 717.0 1042.3 717.5 1042.5 718.0 1046.0 718.5 1041.7 719.0 1043.0 719.5 1046.9 720.0 1043.0 720.5 1043.4 721.0 1046.8 721.5 1042.4 722.0 1043.3 722.5 1044.4 723.0 1041.9 723.5 1039.1 724.0 1038.1 724.5 1041.8 725.0 1045.7 725.5 1045.3 726.0 1047.2 726.5 1045.2 727.0 1040.7 727.5 1038.4 728.0 1041.2 728.5 1042.0 729.0 1040.6 729.5 1045.5 730.0 1040.6 730.5 1044.6 731.0 1045.2 731.5 1038.0 732.0 1041.8 732.5 1046.7 733.0 1045.6 733.5 1043.6 734.0 1040.1 734.5 1041.3 735.0 1043.6 735.5 1047.1 736.0 1044.9 736.5 1043.3 737.0 1044.3 737.5 1045.9 738.0 1038.8 738.5 1041.0 739.0 1044.0 739.5 1047.4 740.0 1047.1 740.5 1041.9 741.0 1044.2 741.5 1042.1 742.0 1043.2 742.5 1044.8 743.0 1043.4 743.5 1042.9 744.0 1041.3 744.5 1040.2 745.0 1044.2 745.5 1045.3 746.0 1046.6 746.5 1042.6 747.0 1043.0 747.5 1048.6 748.0 1046.3 748.5 1047.7 749.0 1043.7 749.5 1043.4 750.0 1042.2 750.5 1048.3 751.0 1042.4 751.5 1040.8 752.0 1043.6 752.5 1049.3 753.0 1045.9 753.5 1046.6 754.0 1046.3 754.5 1046.0 755.0 1045.7 755.5 1042.3 756.0 1050.9 756.5 1045.9 757.0 1049.8 757.5 1042.2 758.0 1048.1 758.5 1043.4 759.0 1043.1 759.5 1047.5 760.0 1049.7 760.5 1050.7 761.0 1050.6 761.5 1046.3 762.0 1049.2 762.5 1045.5 763.0 1045.7 763.5 1047.9 764.0 1047.0 764.5 1049.7 765.0 1042.4 765.5 1050.6 766.0 1046.0 766.5 1051.7 767.0 1050.8 767.5 1044.5 768.0 1047.6 768.5 1049.7 769.0 1045.7 769.5 1045.9 770.0 1047.1 770.5 1050.0 771.0 1050.5 771.5 1046.9 772.0 1050.3 772.5 1052.1 773.0 1050.6 773.5 1046.2 774.0 1045.9 774.5 1048.9 775.0 1050.4 775.5 1049.3 776.0 1047.1 776.5 1045.6 777.0 1051.5 777.5 1047.6 778.0 1052.9 778.5 1044.7 779.0 1046.8 779.5 1045.8 780.0 1052.3 780.5 1050.4 781.0 1045.5 781.5 1041.3 782.0 1049.3 782.5 1046.1 783.0 1042.3 783.5 1040.8 784.0 1045.3 784.5 1043.1 785.0 1043.4 785.5 1043.3 786.0 1040.5 786.5 1040.0 787.0 1041.6 787.5 1038.7 788.0 1037.3 788.5 1038.8 789.0 1030.9 789.5 1038.4 790.0 1035.3 790.5 1031.2 791.0 1031.8 791.5 1034.6 792.0 1032.0 792.5 1025.0 793.0 1026.3 793.5 1028.8 794.0 1032.5 794.5 1029.3 795.0 1026.5 795.5 1028.3 796.0 1026.7 796.5 1025.8 797.0 1027.7 797.5 1021.4 798.0 1030.0 798.5 1029.2 799.0 1027.2 799.5 1026.8 800.0 1026.6 800.5 1031.3 801.0 1031.9 801.5 1032.9 802.0 1037.9 802.5 1028.7 803.0 1033.6 803.5 1034.5 804.0 1040.1 804.5 1038.0 805.0 1037.2 805.5 1041.2 806.0 1042.7 806.5 1046.7 807.0 1044.0 807.5 1043.0 808.0 1043.6 808.5 1043.5 809.0 1047.6 809.5 1049.0 810.0 1046.9 810.5 1047.6 811.0 1052.0 811.5 1049.1 812.0 1050.5 812.5 1046.7 813.0 1048.2 813.5 1044.5 814.0 1046.7 814.5 1051.4 815.0 1053.8 815.5 1050.1 816.0 1047.8 816.5 1051.3 817.0 1054.0 817.5 1050.8 818.0 1053.6 818.5 1051.2 819.0 1048.3 819.5 1049.1 820.0 1050.8 820.5 1057.4 821.0 1053.1 821.5 1051.0 822.0 1052.4 822.5 1052.2 823.0 1050.6 823.5 1051.5 824.0 1051.1 824.5 1053.7 825.0 1055.8 825.5 1055.2 826.0 1051.1 826.5 1053.3 827.0 1050.1 827.5 1049.2 828.0 1052.2 828.5 1053.5 829.0 1051.9 829.5 1054.1 830.0 1054.1 830.5 1054.0 831.0 1051.7 831.5 1048.7 832.0 1056.7 832.5 1051.0 833.0 1054.0 833.5 1053.4 834.0 1051.3 834.5 1056.8 835.0 1053.9 835.5 1052.2 836.0 1051.2 836.5 1049.9 837.0 1049.2 837.5 1053.8 838.0 1051.3 838.5 1051.2 839.0 1053.7 839.5 1051.5 840.0 1054.0 840.5 1050.9 841.0 1051.2 841.5 1054.8 842.0 1050.8 842.5 1054.0 843.0 1053.8 843.5 1052.6 844.0 1048.5 844.5 1049.4 845.0 1049.9 845.5 1049.5 846.0 1054.8 846.5 1050.5 847.0 1049.6 847.5 1051.4 848.0 1052.5 848.5 1048.6 849.0 1054.2 849.5 1054.5 850.0 1051.3 850.5 1054.8 851.0 1049.0 851.5 1051.5 852.0 1052.4 852.5 1053.0 853.0 1055.7 853.5 1052.1 854.0 1050.5 854.5 1053.4 855.0 1053.3 855.5 1054.0 856.0 1052.2 856.5 1053.4 857.0 1051.6 857.5 1054.4 858.0 1051.4 858.5 1051.6 859.0 1055.9 859.5 1051.3 860.0 1053.1 860.5 1054.5 861.0 1052.4 861.5 1055.3 862.0 1051.8 862.5 1055.6 863.0 1049.5 863.5 1050.0 864.0 1053.4 864.5 1056.6 865.0 1057.1 865.5 1051.2 866.0 1053.2 866.5 1052.1 867.0 1048.2 867.5 1055.0 868.0 1052.4 868.5 1056.6 869.0 1054.0 869.5 1052.1 870.0 1051.7 870.5 1052.9 871.0 1054.5 871.5 1052.2 872.0 1060.0 872.5 1053.9 873.0 1050.7 873.5 1053.6 874.0 1056.1 874.5 1054.5 875.0 1052.7 875.5 1051.9 876.0 1051.6 876.5 1050.7 877.0 1052.3 877.5 1054.1 878.0 1052.2 878.5 1057.3 879.0 1054.4 879.5 1052.5 880.0 1053.5 880.5 1057.0 881.0 1049.6 881.5 1054.1 882.0 1059.8 882.5 1055.9 883.0 1051.5 883.5 1053.9 884.0 1053.0 884.5 1060.0 885.0 1052.0 885.5 1053.0 886.0 1052.8 886.5 1050.3 887.0 1046.0 887.5 1053.0 888.0 1054.8 888.5 1052.6 889.0 1054.7 889.5 1055.3 890.0 1055.2 890.5 1049.7 891.0 1057.1 891.5 1055.6 892.0 1055.4 892.5 1053.6 893.0 1053.6 893.5 1052.3 894.0 1054.5 894.5 1055.7 895.0 1052.2 895.5 1055.4 896.0 1052.5 896.5 1054.9 897.0 1053.2 897.5 1055.4 898.0 1057.9 898.5 1054.0 899.0 1052.3 899.5 1052.5 900.0 1054.8 900.5 1052.3 901.0 1055.6 901.5 1054.1 902.0 1055.4 902.5 1052.1 903.0 1051.2 903.5 1051.6 904.0 1054.2 904.5 1051.5 905.0 1054.9 905.5 1048.6 906.0 1051.8 906.5 1052.9 907.0 1049.1 907.5 1051.8 908.0 1049.8 908.5 1053.0 909.0 1052.6 909.5 1054.8 910.0 1051.3 910.5 1049.5 911.0 1051.9 911.5 1053.4 912.0 1053.3 912.5 1053.5 913.0 1055.8 913.5 1052.3 914.0 1052.6 914.5 1051.1 915.0 1051.7 915.5 1055.3 916.0 1053.7 916.5 1047.1 917.0 1055.6 917.5 1048.4 918.0 1051.9 918.5 1054.9 919.0 1053.0 919.5 1053.9 920.0 1054.5 920.5 1053.1 921.0 1049.6 921.5 1053.0 922.0 1050.5 922.5 1046.5 923.0 1051.0 923.5 1052.6 924.0 1051.4 924.5 1050.9 925.0 1054.3 925.5 1050.7 926.0 1051.7 926.5 1049.9 927.0 1052.2 927.5 1047.2 928.0 1049.9 928.5 1050.6 929.0 1045.0 929.5 1047.2 930.0 1041.0 930.5 1043.6 931.0 1043.4 931.5 1038.8 932.0 1035.5 932.5 1038.2 933.0 1036.0 933.5 1035.7 934.0 1034.4 934.5 1034.0 935.0 1034.1 935.5 1030.0 936.0 1024.2 936.5 1027.4 937.0 1025.2 937.5 1023.1 938.0 1024.7 938.5 1020.4 939.0 1017.7 939.5 1018.1 940.0 1012.5 940.5 1016.9 941.0 1014.0 941.5 1016.6 942.0 1013.8 942.5 1012.6 943.0 1011.8 943.5 1008.6 944.0 1010.9 944.5 1011.8 945.0 1013.6 945.5 1012.8 946.0 1014.0 946.5 1014.7 947.0 1013.0 947.5 1015.8 948.0 1015.8 948.5 1014.9 949.0 1015.7 949.5 1022.0 950.0 1024.8 950.5 1026.3 951.0 1023.1 951.5 1029.7 952.0 1031.5 952.5 1028.2 953.0 1032.5 953.5 1036.6 954.0 1034.8 954.5 1038.6 955.0 1036.3 955.5 1038.3 956.0 1042.2 956.5 1041.3 957.0 1043.1 957.5 1044.2 958.0 1042.9 958.5 1049.2 959.0 1046.7 959.5 1047.2 960.0 1047.7 960.5 1049.5 961.0 1048.1 961.5 1052.4 962.0 1050.4 962.5 1053.2 963.0 1050.2 963.5 1050.3 964.0 1050.8 964.5 1053.5 965.0 1050.6 965.5 1055.3 966.0 1053.1 966.5 1055.8 967.0 1053.3 967.5 1055.9 968.0 1052.2 968.5 1052.2 969.0 1055.8 969.5 1053.5 970.0 1056.9 970.5 1053.4 971.0 1055.9 971.5 1053.2 972.0 1051.4 972.5 1057.9 973.0 1054.6 973.5 1057.0 974.0 1055.5 974.5 1051.7 975.0 1056.0 975.5 1057.4 976.0 1057.9 976.5 1058.6 977.0 1056.1 977.5 1055.1 978.0 1055.5 978.5 1053.0 979.0 1056.9 979.5 1056.9 980.0 1056.2 980.5 1053.9 981.0 1056.8 981.5 1054.4 982.0 1058.1 982.5 1054.4 983.0 1054.6 983.5 1055.0 984.0 1053.6 984.5 1053.9 985.0 1055.2 985.5 1050.9 986.0 1059.8 986.5 1056.6 987.0 1056.5 987.5 1054.2 988.0 1056.4 988.5 1056.0 989.0 1056.3 989.5 1053.2 990.0 1055.9 990.5 1052.4 991.0 1055.8 991.5 1054.5 992.0 1055.1 992.5 1055.7 993.0 1058.1 993.5 1058.9 994.0 1056.6 994.5 1054.4 995.0 1059.5 995.5 1053.9 996.0 1055.6 996.5 1056.3 997.0 1055.3 997.5 1059.5 998.0 1057.7 998.5 1059.0 999.0 1056.4 999.5 1058.7 1000.0 1056.8 1000.5 1056.8 1001.0 1057.8 1001.5 1058.0 1002.0 1058.4 1002.5 1056.9 1003.0 1054.4 1003.5 1056.8 1004.0 1052.2 1004.5 1056.9 1005.0 1055.9 1005.5 1059.2 1006.0 1052.3 1006.5 1061.6 1007.0 1057.0 1007.5 1054.6 1008.0 1058.6 1008.5 1058.8 1009.0 1058.7 1009.5 1062.2 1010.0 1056.3 1010.5 1058.5 1011.0 1058.3 1011.5 1056.7 1012.0 1058.6 1012.5 1060.6 1013.0 1056.5 1013.5 1059.1 1014.0 1060.2 1014.5 1059.5 1015.0 1055.1 1015.5 1058.8 1016.0 1057.5 1016.5 1060.7 1017.0 1058.1 1017.5 1062.2 1018.0 1056.0 1018.5 1059.4 1019.0 1056.7 1019.5 1061.9 1020.0 1061.5 1020.5 1056.7 1021.0 1060.0 1021.5 1058.4 1022.0 1055.3 1022.5 1056.5 1023.0 1058.7 1023.5 1059.6 1024.0 1057.8 1024.5 1059.2 1025.0 1059.2 1025.5 1059.2 1026.0 1056.3 1026.5 1058.9 1027.0 1059.7 1027.5 1055.7 1028.0 1061.7 1028.5 1061.6 1029.0 1059.0 1029.5 1062.8 1030.0 1057.2 1030.5 1056.9 1031.0 1057.5 1031.5 1057.4 1032.0 1062.4 1032.5 1058.9 1033.0 1058.7 1033.5 1059.5 1034.0 1062.0 1034.5 1059.2 1035.0 1058.1 1035.5 1059.4 1036.0 1061.4 1036.5 1058.5 1037.0 1061.7 1037.5 1059.5 1038.0 1058.6 1038.5 1059.9 1039.0 1062.8 1039.5 1058.5 1040.0 1061.7 1040.5 1060.1 1041.0 1059.3 1041.5 1059.1 1042.0 1060.6 1042.5 1060.2 1043.0 1059.8 1043.5 1060.3 1044.0 1057.4 1044.5 1057.8 1045.0 1057.1 1045.5 1058.4 1046.0 1058.7 1046.5 1058.4 1047.0 1060.2 1047.5 1057.3 1048.0 1058.6 1048.5 1060.8 1049.0 1062.4 1049.5 1059.3 1050.0 1061.5 1050.5 1061.8 1051.0 1057.2 1051.5 1059.7 1052.0 1057.1 1052.5 1058.4 1053.0 1060.0 1053.5 1056.7 1054.0 1060.3 1054.5 1059.0 1055.0 1058.8 1055.5 1060.3 1056.0 1057.6 1056.5 1056.0 1057.0 1059.3 1057.5 1057.9 1058.0 1058.9 1058.5 1057.1 1059.0 1057.5 1059.5 1057.3 1060.0 1056.8 1060.5 1057.7 1061.0 1057.8 1061.5 1059.4 1062.0 1065.5 1062.5 1058.1 1063.0 1056.2 1063.5 1060.5 1064.0 1057.0 1064.5 1057.6 1065.0 1058.7 1065.5 1059.5 1066.0 1059.5 1066.5 1059.9 1067.0 1059.2 1067.5 1061.5 1068.0 1061.0 1068.5 1058.4 1069.0 1059.0 1069.5 1056.8 1070.0 1060.7 1070.5 1059.0 1071.0 1063.1 1071.5 1058.1 1072.0 1062.4 1072.5 1057.7 1073.0 1056.2 1073.5 1057.8 1074.0 1060.1 1074.5 1061.5 1075.0 1057.8 1075.5 1061.4 1076.0 1058.5 1076.5 1058.5 1077.0 1058.9 1077.5 1062.7 1078.0 1059.9 1078.5 1060.1 1079.0 1056.6 1079.5 1059.9 1080.0 1060.1 1080.5 1062.7 1081.0 1057.9 1081.5 1058.2 1082.0 1057.8 1082.5 1058.3 1083.0 1060.9 1083.5 1058.1 1084.0 1062.1 1084.5 1059.7 1085.0 1057.9 1085.5 1058.4 1086.0 1057.0 1086.5 1056.8 1087.0 1061.9 1087.5 1061.4 1088.0 1057.8 1088.5 1058.8 1089.0 1062.8 1089.5 1058.3 1090.0 1060.1 1090.5 1060.7 1091.0 1059.3 1091.5 1059.3 1092.0 1059.1 1092.5 1059.9 1093.0 1056.7 1093.5 1059.8 1094.0 1060.1 1094.5 1057.2 1095.0 1060.6 1095.5 1058.0 1096.0 1054.7 1096.5 1056.0 1097.0 1060.0 1097.5 1060.9 1098.0 1059.0 1098.5 1057.0 1099.0 1059.5 1099.5 1061.6 1100.0 1059.7 1100.5 1057.0 1101.0 1060.8 1101.5 1059.5 1102.0 1059.5 1102.5 1060.0 1103.0 1061.0 1103.5 1059.7 1104.0 1058.0 1104.5 1059.7 1105.0 1060.2 1105.5 1062.2 1106.0 1057.6 1106.5 1059.7 1107.0 1058.3 1107.5 1060.5 1108.0 1058.9 1108.5 1054.0 1109.0 1061.9 1109.5 1058.7 1110.0 1057.9 1110.5 1057.1 1111.0 1058.0 1111.5 1057.5 1112.0 1059.8 1112.5 1060.4 1113.0 1059.9 1113.5 1060.8 1114.0 1058.5 1114.5 1061.3 1115.0 1059.9 1115.5 1061.0 1116.0 1061.4 1116.5 1059.5 1117.0 1062.6 1117.5 1061.8 1118.0 1059.4 1118.5 1063.6 1119.0 1063.5 1119.5 1057.3 1120.0 1055.9 1120.5 1059.1 1121.0 1061.2 1121.5 1062.1 1122.0 1061.6 1122.5 1060.3 1123.0 1062.2 1123.5 1061.7 1124.0 1059.5 1124.5 1060.8 1125.0 1062.5 1125.5 1059.2 1126.0 1059.2 1126.5 1058.8 1127.0 1063.3 1127.5 1061.8 1128.0 1062.1 1128.5 1059.8 1129.0 1060.5 1129.5 1062.9 1130.0 1060.0 1130.5 1062.9 1131.0 1060.6 1131.5 1060.6 1132.0 1061.7 1132.5 1062.3 1133.0 1064.0 1133.5 1060.0 1134.0 1063.9 1134.5 1059.2 1135.0 1059.1 1135.5 1056.4 1136.0 1062.4 1136.5 1063.6 1137.0 1058.5 1137.5 1060.2 1138.0 1060.3 1138.5 1057.8 1139.0 1061.0 1139.5 1061.4 1140.0 1059.9 1140.5 1058.9 1141.0 1061.2 1141.5 1062.1 1142.0 1058.2 1142.5 1060.8 1143.0 1062.0 1143.5 1055.6 1144.0 1061.6 1144.5 1064.3 1145.0 1058.5 1145.5 1063.6 1146.0 1060.5 1146.5 1062.2 1147.0 1060.8 1147.5 1058.9 1148.0 1057.8 1148.5 1065.7 1149.0 1058.6 1149.5 1060.6 1150.0 1063.9 1150.5 1061.8 1151.0 1061.6 1151.5 1057.3 1152.0 1060.1 1152.5 1058.7 1153.0 1057.8 1153.5 1062.0 1154.0 1062.9 1154.5 1059.8 1155.0 1060.1 1155.5 1062.2 1156.0 1063.1 1156.5 1059.3 1157.0 1063.7 1157.5 1063.2 1158.0 1061.4 1158.5 1059.3 1159.0 1062.6 1159.5 1062.8 1160.0 1064.9 1160.5 1060.4 1161.0 1064.6 1161.5 1060.9 1162.0 1062.6 1162.5 1061.4 1163.0 1061.8 1163.5 1064.5 1164.0 1060.3 1164.5 1063.3 1165.0 1061.1 1165.5 1061.6 1166.0 1060.3 1166.5 1062.1 1167.0 1057.9 1167.5 1061.2 1168.0 1063.7 1168.5 1063.4 1169.0 1058.6 1169.5 1059.6 1170.0 1061.0 1170.5 1065.5 1171.0 1061.0 1171.5 1061.9 1172.0 1061.4 1172.5 1062.5 1173.0 1060.2 1173.5 1062.4 1174.0 1062.9 1174.5 1064.0 1175.0 1060.3 1175.5 1063.8 1176.0 1065.8 1176.5 1063.6 1177.0 1063.4 1177.5 1057.3 1178.0 1064.7 1178.5 1065.8 1179.0 1064.5 1179.5 1063.1 1180.0 1063.8 1180.5 1068.0 1181.0 1060.8 1181.5 1061.4 1182.0 1064.4 1182.5 1062.7 1183.0 1058.0 1183.5 1062.7 1184.0 1063.0 1184.5 1060.5 1185.0 1063.1 1185.5 1062.8 1186.0 1058.8 1186.5 1063.4 1187.0 1066.6 1187.5 1065.8 1188.0 1060.2 1188.5 1059.8 1189.0 1062.6 1189.5 1063.0 1190.0 1059.8 1190.5 1061.0 1191.0 1065.2 1191.5 1063.0 1192.0 1064.6 1192.5 1062.5 1193.0 1064.6 1193.5 1061.5 1194.0 1061.6 1194.5 1060.7 1195.0 1058.8 1195.5 1061.8 1196.0 1060.0 1196.5 1061.7 1197.0 1062.9 1197.5 1063.0 1198.0 1063.5 1198.5 1061.9 1199.0 1062.6 1199.5 1065.0 1200.0 1062.4 1200.5 1062.8 1201.0 1058.0 1201.5 1060.6 1202.0 1065.0 1202.5 1061.1 1203.0 1060.7 1203.5 1064.7 1204.0 1060.4 1204.5 1064.8 1205.0 1062.7 1205.5 1061.7 1206.0 1058.9 1206.5 1065.5 1207.0 1059.3 1207.5 1060.5 1208.0 1064.5 1208.5 1060.5 1209.0 1064.0 1209.5 1062.9 1210.0 1062.5 1210.5 1060.9 1211.0 1061.7 1211.5 1063.6 1212.0 1061.1 1212.5 1064.3 1213.0 1063.5 1213.5 1064.1 1214.0 1063.5 1214.5 1064.2 1215.0 1063.9 1215.5 1064.8 1216.0 1063.9 1216.5 1063.8 1217.0 1061.4 1217.5 1059.8 1218.0 1063.3 1218.5 1065.1 1219.0 1061.4 1219.5 1060.1 1220.0 1062.1 1220.5 1063.9 1221.0 1064.9 1221.5 1062.6 1222.0 1060.9 1222.5 1063.2 1223.0 1064.6 1223.5 1063.2 1224.0 1065.3 1224.5 1062.3 1225.0 1065.0 1225.5 1066.6 1226.0 1061.4 1226.5 1061.6 1227.0 1064.7 1227.5 1069.5 1228.0 1064.4 1228.5 1063.3 1229.0 1066.0 1229.5 1063.2 1230.0 1060.2 1230.5 1061.6 1231.0 1066.1 1231.5 1060.1 1232.0 1060.7 1232.5 1065.1 1233.0 1063.8 1233.5 1065.9 1234.0 1061.4 1234.5 1062.1 1235.0 1062.8 1235.5 1061.1 1236.0 1063.1 1236.5 1063.2 1237.0 1065.3 1237.5 1063.4 1238.0 1062.8 1238.5 1064.5 1239.0 1065.8 1239.5 1065.6 1240.0 1064.1 1240.5 1062.8 1241.0 1062.7 1241.5 1061.0 1242.0 1063.7 1242.5 1063.6 1243.0 1066.9 1243.5 1064.1 1244.0 1065.1 1244.5 1066.2 1245.0 1060.0 1245.5 1062.4 1246.0 1063.2 1246.5 1063.9 1247.0 1061.4 1247.5 1065.4 1248.0 1065.5 1248.5 1064.7 1249.0 1065.0 1249.5 1061.5 1250.0 1065.9 1250.5 1062.5 1251.0 1060.0 1251.5 1064.0 1252.0 1064.5 1252.5 1062.4 1253.0 1060.5 1253.5 1061.5 1254.0 1063.4 1254.5 1058.7 1255.0 1065.8 1255.5 1065.7 1256.0 1063.4 1256.5 1065.8 1257.0 1063.4 1257.5 1061.5 1258.0 1065.0 1258.5 1064.9 1259.0 1061.9 1259.5 1061.0 1260.0 1061.8 1260.5 1066.1 1261.0 1063.2 1261.5 1069.3 1262.0 1062.5 1262.5 1064.9 1263.0 1064.4 1263.5 1063.3 1264.0 1065.4 1264.5 1062.1 1265.0 1063.6 1265.5 1061.4 1266.0 1059.4 1266.5 1063.9 1267.0 1061.5 1267.5 1061.2 1268.0 1064.9 1268.5 1063.4 1269.0 1064.5 1269.5 1067.2 1270.0 1064.1 1270.5 1064.7 1271.0 1061.4 1271.5 1065.4 1272.0 1065.4 1272.5 1061.7 1273.0 1065.1 1273.5 1064.4 1274.0 1063.3 1274.5 1063.9 1275.0 1068.5 1275.5 1062.5 1276.0 1063.1 1276.5 1064.0 1277.0 1063.4 1277.5 1060.2 1278.0 1065.0 1278.5 1065.6 1279.0 1067.2 1279.5 1062.6 1280.0 1061.3 1280.5 1065.1 1281.0 1061.7 1281.5 1063.8 1282.0 1063.0 1282.5 1064.1 1283.0 1062.9 1283.5 1065.1 1284.0 1061.9 1284.5 1068.5 1285.0 1065.3 1285.5 1062.5 1286.0 1061.9 1286.5 1063.4 1287.0 1062.8 1287.5 1062.1 1288.0 1066.5 1288.5 1065.7 1289.0 1061.6 1289.5 1064.9 1290.0 1063.8 1290.5 1065.3 1291.0 1062.5 1291.5 1068.0 1292.0 1063.9 1292.5 1067.7 1293.0 1062.8 1293.5 1066.4 1294.0 1063.6 1294.5 1067.1 1295.0 1063.4 1295.5 1061.7 1296.0 1061.6 1296.5 1062.5 1297.0 1065.0 1297.5 1064.5 1298.0 1064.0 1298.5 1065.9 1299.0 1067.0 1299.5 1061.8 1300.0 1065.8 1300.5 1068.4 1301.0 1062.6 1301.5 1062.7 1302.0 1064.6 1302.5 1064.2 1303.0 1062.7 1303.5 1063.6 1304.0 1067.0 1304.5 1065.6 1305.0 1062.2 1305.5 1060.4 1306.0 1061.6 1306.5 1064.1 1307.0 1062.2 1307.5 1062.1 1308.0 1065.2 1308.5 1063.2 1309.0 1063.0 1309.5 1064.2 1310.0 1066.7 1310.5 1064.4 1311.0 1065.2 1311.5 1064.0 1312.0 1066.9 1312.5 1061.4 1313.0 1061.6 1313.5 1062.8 1314.0 1067.8 1314.5 1066.8 1315.0 1061.6 1315.5 1062.9 1316.0 1064.9 1316.5 1063.9 1317.0 1065.5 1317.5 1062.8 1318.0 1060.5 1318.5 1065.0 1319.0 1066.3 1319.5 1060.8 1320.0 1060.1 1320.5 1062.9 1321.0 1060.1 1321.5 1064.6 1322.0 1061.5 1322.5 1065.3 1323.0 1063.1 1323.5 1064.1 1324.0 1065.1 1324.5 1063.4 1325.0 1061.8 1325.5 1065.6 1326.0 1060.9 1326.5 1066.6 1327.0 1062.6 1327.5 1062.8 1328.0 1064.6 1328.5 1064.6 1329.0 1064.8 1329.5 1060.9 1330.0 1062.1 1330.5 1064.5 1331.0 1064.5 1331.5 1063.6 1332.0 1066.4 1332.5 1063.5 1333.0 1065.7 1333.5 1065.9 1334.0 1064.5 1334.5 1063.4 1335.0 1065.3 1335.5 1064.7 1336.0 1065.0 1336.5 1062.1 1337.0 1064.7 1337.5 1067.0 1338.0 1063.2 1338.5 1064.1 1339.0 1063.3 1339.5 1065.6 1340.0 1059.7 1340.5 1067.0 1341.0 1064.8 1341.5 1063.4 1342.0 1064.4 1342.5 1066.0 1343.0 1064.5 1343.5 1065.1 1344.0 1066.2 1344.5 1064.2 1345.0 1065.3 1345.5 1066.7 1346.0 1064.9 1346.5 1062.6 1347.0 1065.3 1347.5 1067.8 1348.0 1063.2 1348.5 1064.7 1349.0 1064.7 1349.5 1065.6 1350.0 1063.0 1350.5 1063.8 1351.0 1067.7 1351.5 1065.2 1352.0 1062.6 1352.5 1065.4 1353.0 1064.0 1353.5 1066.9 1354.0 1060.7 1354.5 1064.0 1355.0 1065.8 1355.5 1061.3 1356.0 1062.4 1356.5 1064.8 1357.0 1063.9 1357.5 1063.2 1358.0 1064.4 1358.5 1061.1 1359.0 1062.2 1359.5 1067.2 1360.0 1062.6 1360.5 1064.7 1361.0 1063.7 1361.5 1065.5 1362.0 1064.5 1362.5 1064.6 1363.0 1066.1 1363.5 1064.5 1364.0 1060.5 1364.5 1062.5 1365.0 1066.6 1365.5 1065.9 1366.0 1063.4 1366.5 1060.7 1367.0 1062.4 1367.5 1067.9 1368.0 1066.2 1368.5 1066.2 1369.0 1060.7 1369.5 1061.2 1370.0 1062.7 1370.5 1061.2 1371.0 1064.1 1371.5 1061.7 1372.0 1064.8 1372.5 1063.4 1373.0 1062.7 1373.5 1065.1 1374.0 1064.7 1374.5 1064.1 1375.0 1063.1 1375.5 1063.7 1376.0 1060.0 1376.5 1060.0 1377.0 1062.5 1377.5 1064.0 1378.0 1067.2 1378.5 1064.5 1379.0 1061.8 1379.5 1062.8 1380.0 1061.3 1380.5 1063.7 1381.0 1063.6 1381.5 1063.6 1382.0 1064.2 1382.5 1065.7 1383.0 1065.0 1383.5 1061.4 1384.0 1065.3 1384.5 1061.7 1385.0 1064.4 1385.5 1063.8 1386.0 1066.9 1386.5 1063.4 1387.0 1063.4 1387.5 1063.1 1388.0 1065.3 1388.5 1064.2 1389.0 1063.1 1389.5 1065.2 1390.0 1067.7 1390.5 1066.7 1391.0 1066.4 1391.5 1062.5 1392.0 1063.3 1392.5 1063.8 1393.0 1060.1 1393.5 1066.8 1394.0 1060.6 1394.5 1064.2 1395.0 1060.9 1395.5 1063.6 1396.0 1064.9 1396.5 1064.3 1397.0 1061.5 1397.5 1061.9 1398.0 1064.9 1398.5 1062.9 1399.0 1063.1 1399.5 1064.6 1400.0 1057.8 1400.5 1063.1 1401.0 1064.9 1401.5 1065.7 1402.0 1063.4 1402.5 1060.4 1403.0 1063.5 1403.5 1065.0 1404.0 1059.9 1404.5 1059.4 1405.0 1060.1 1405.5 1059.3 1406.0 1055.7 1406.5 1054.6 1407.0 1056.1 1407.5 1056.9 1408.0 1058.4 1408.5 1055.9 1409.0 1056.7 1409.5 1058.3 1410.0 1060.7 1410.5 1055.8 1411.0 1051.5 1411.5 1054.5 1412.0 1051.7 1412.5 1051.5 1413.0 1051.9 1413.5 1050.6 1414.0 1045.7 1414.5 1045.2 1415.0 1047.1 1415.5 1047.1 1416.0 1049.1 1416.5 1045.4 1417.0 1042.8 1417.5 1041.9 1418.0 1040.9 1418.5 1039.2 1419.0 1038.8 1419.5 1039.9 1420.0 1040.8 1420.5 1038.9 1421.0 1040.3 1421.5 1039.7 1422.0 1039.9 1422.5 1039.6 1423.0 1041.2 1423.5 1041.0 1424.0 1036.2 1424.5 1042.3 1425.0 1042.6 1425.5 1041.8 1426.0 1043.9 1426.5 1042.9 1427.0 1045.3 1427.5 1044.1 1428.0 1047.9 1428.5 1048.1 1429.0 1045.5 1429.5 1047.8 1430.0 1051.3 1430.5 1051.6 1431.0 1051.9 1431.5 1050.2 1432.0 1051.9 1432.5 1054.3 1433.0 1055.3 1433.5 1055.4 1434.0 1054.4 1434.5 1056.2 1435.0 1056.3 1435.5 1055.5 1436.0 1056.1 1436.5 1057.2 1437.0 1056.3 1437.5 1060.5 1438.0 1061.4 1438.5 1062.0 1439.0 1059.0 1439.5 1059.3 1440.0 1061.5 1440.5 1060.3 1441.0 1060.8 1441.5 1061.0 1442.0 1058.6 1442.5 1064.3 1443.0 1059.1 1443.5 1059.0 1444.0 1063.7 1444.5 1060.0 1445.0 1064.3 1445.5 1062.9 1446.0 1063.0 1446.5 1061.6 1447.0 1059.6 1447.5 1060.1 1448.0 1062.6 1448.5 1062.2 1449.0 1060.1 1449.5 1060.3 1450.0 1060.8 1450.5 1062.4 1451.0 1063.3 1451.5 1064.2 1452.0 1061.8 1452.5 1065.3 1453.0 1063.9 1453.5 1065.4 1454.0 1060.8 1454.5 1063.6 1455.0 1064.6 1455.5 1059.1 1456.0 1064.3 1456.5 1063.3 1457.0 1064.3 1457.5 1062.9 1458.0 1064.7 1458.5 1061.7 1459.0 1061.5 1459.5 1063.9 1460.0 1063.9 1460.5 1059.9 1461.0 1064.8 1461.5 1064.8 1462.0 1064.5 1462.5 1061.1 1463.0 1065.0 1463.5 1063.5 1464.0 1064.3 1464.5 1062.4 1465.0 1061.7 1465.5 1061.2 1466.0 1061.4 1466.5 1064.3 1467.0 1061.1 1467.5 1061.4 1468.0 1063.2 1468.5 1062.1 1469.0 1058.6 1469.5 1061.3 1470.0 1061.9 1470.5 1065.7 1471.0 1063.8 1471.5 1060.7 1472.0 1060.5 1472.5 1061.7 1473.0 1063.0 1473.5 1061.1 1474.0 1063.4 1474.5 1059.9 1475.0 1063.2 1475.5 1064.9 1476.0 1057.5 1476.5 1062.5 1477.0 1063.1 1477.5 1063.5 1478.0 1062.8 1478.5 1062.5 1479.0 1063.1 1479.5 1062.8 1480.0 1062.8 1480.5 1065.6 1481.0 1064.6 1481.5 1064.4 1482.0 1061.4 1482.5 1061.7 1483.0 1064.6 1483.5 1060.6 1484.0 1064.6 1484.5 1060.1 1485.0 1066.7 1485.5 1065.0 1486.0 1061.6 1486.5 1061.8 1487.0 1058.7 1487.5 1062.6 1488.0 1064.9 1488.5 1063.8 1489.0 1062.2 1489.5 1066.6 1490.0 1063.7 1490.5 1063.5 1491.0 1062.1 1491.5 1063.8 1492.0 1067.7 1492.5 1063.5 1493.0 1059.5 1493.5 1063.1 1494.0 1066.3 1494.5 1065.0 1495.0 1061.7 1495.5 1063.4 1496.0 1059.9 1496.5 1063.9 1497.0 1061.0 1497.5 1061.7 1498.0 1061.6 1498.5 1061.3 1499.0 1066.0 1499.5 1065.5 1500.0 1062.2 1500.5 1062.9 1501.0 1066.0 1501.5 1062.2 1502.0 1061.9 1502.5 1061.1 1503.0 1065.7 1503.5 1063.1 1504.0 1062.8 1504.5 1061.9 1505.0 1061.0 1505.5 1064.6 1506.0 1061.3 1506.5 1061.8 1507.0 1059.5 1507.5 1060.7 1508.0 1061.8 1508.5 1061.8 1509.0 1059.9 1509.5 1061.6 1510.0 1062.5 1510.5 1057.8 1511.0 1063.9 1511.5 1062.3 1512.0 1060.2 1512.5 1062.3 1513.0 1063.6 1513.5 1062.8 1514.0 1062.9 1514.5 1062.8 1515.0 1064.1 1515.5 1060.2 1516.0 1061.7 1516.5 1063.6 1517.0 1062.9 1517.5 1060.8 1518.0 1062.3 1518.5 1061.5 1519.0 1062.9 1519.5 1059.7 1520.0 1059.7 1520.5 1060.1 1521.0 1062.6 1521.5 1067.6 1522.0 1064.7 1522.5 1065.2 1523.0 1062.9 1523.5 1065.9 1524.0 1063.5 1524.5 1063.0 1525.0 1064.9 1525.5 1060.5 1526.0 1058.7 1526.5 1060.6 1527.0 1065.6 1527.5 1064.6 1528.0 1063.3 1528.5 1062.4 1529.0 1062.6 1529.5 1063.6 1530.0 1061.3 1530.5 1064.4 1531.0 1061.1 1531.5 1065.5 1532.0 1062.3 1532.5 1061.2 1533.0 1062.4 1533.5 1061.2 1534.0 1062.7 1534.5 1059.5 1535.0 1062.0 1535.5 1063.1 1536.0 1063.7 1536.5 1062.2 1537.0 1065.3 1537.5 1059.7 1538.0 1062.5 1538.5 1062.0 1539.0 1063.0 1539.5 1062.5 1540.0 1065.6 1540.5 1063.0 1541.0 1061.2 1541.5 1067.8 1542.0 1063.1 1542.5 1062.7 1543.0 1064.7 1543.5 1061.9 1544.0 1062.6 1544.5 1064.7 1545.0 1060.7 1545.5 1062.2 1546.0 1064.8 1546.5 1066.5 1547.0 1062.9 1547.5 1062.8 1548.0 1065.1 1548.5 1060.2 1549.0 1061.7 1549.5 1061.5 1550.0 1059.1 1550.5 1057.5 1551.0 1062.3 1551.5 1064.8 1552.0 1064.4 1552.5 1065.5 1553.0 1057.8 1553.5 1062.8 1554.0 1065.7 1554.5 1061.4 1555.0 1060.6 1555.5 1063.8 1556.0 1063.1 1556.5 1064.3 1557.0 1063.1 1557.5 1065.5 1558.0 1064.5 1558.5 1063.6 1559.0 1062.4 1559.5 1064.5 1560.0 1061.9 1560.5 1065.0 1561.0 1065.4 1561.5 1065.0 1562.0 1060.7 1562.5 1064.0 1563.0 1063.9 1563.5 1064.9 1564.0 1060.2 1564.5 1062.0 1565.0 1063.0 1565.5 1065.9 1566.0 1062.0 1566.5 1064.9 1567.0 1063.5 1567.5 1067.0 1568.0 1063.9 1568.5 1060.1 1569.0 1062.7 1569.5 1063.7 1570.0 1065.7 1570.5 1064.5 1571.0 1062.7 1571.5 1060.8 1572.0 1063.3 1572.5 1063.0 1573.0 1065.8 1573.5 1065.1 1574.0 1060.6 1574.5 1058.8 1575.0 1062.5 1575.5 1063.8 1576.0 1061.4 1576.5 1062.3 1577.0 1065.6 1577.5 1064.7 1578.0 1060.0 1578.5 1064.0 1579.0 1063.6 1579.5 1062.9 1580.0 1064.4 1580.5 1064.5 1581.0 1068.2 1581.5 1063.8 1582.0 1061.9 1582.5 1062.4 1583.0 1064.7 1583.5 1067.1 1584.0 1064.5 1584.5 1064.4 1585.0 1063.9 1585.5 1062.5 1586.0 1063.5 1586.5 1061.0 1587.0 1064.8 1587.5 1064.3 1588.0 1063.7 1588.5 1061.7 1589.0 1062.9 1589.5 1062.3 1590.0 1064.0 1590.5 1062.9 1591.0 1064.1 1591.5 1065.2 1592.0 1065.9 1592.5 1061.4 1593.0 1062.8 1593.5 1061.3 1594.0 1065.9 1594.5 1061.8 1595.0 1066.1 1595.5 1062.5 1596.0 1065.5 1596.5 1062.4 1597.0 1063.0 1597.5 1063.7 1598.0 1063.6 1598.5 1063.2 1599.0 1064.8 1599.5 1065.8 1600.0 1065.2 1600.5 1062.6 1601.0 1059.9 1601.5 1063.7 1602.0 1058.0 1602.5 1064.8 1603.0 1064.7 1603.5 1061.2 1604.0 1064.6 1604.5 1062.2 1605.0 1066.0 1605.5 1062.0 1606.0 1061.9 1606.5 1062.3 1607.0 1064.0 1607.5 1061.5 1608.0 1067.9 1608.5 1062.8 1609.0 1067.0 1609.5 1063.0 1610.0 1062.9 1610.5 1062.2 1611.0 1062.1 1611.5 1064.4 1612.0 1065.9 1612.5 1063.8 1613.0 1061.9 1613.5 1064.0 1614.0 1062.1 1614.5 1058.4 1615.0 1063.8 1615.5 1060.2 1616.0 1062.4 1616.5 1063.7 1617.0 1062.8 1617.5 1063.1 1618.0 1066.6 1618.5 1065.5 1619.0 1066.6 1619.5 1064.0 1620.0 1064.1 1620.5 1067.1 1621.0 1062.4 1621.5 1064.3 1622.0 1063.9 1622.5 1064.2 1623.0 1064.8 1623.5 1063.9 1624.0 1065.2 1624.5 1062.0 1625.0 1064.6 1625.5 1061.6 1626.0 1065.8 1626.5 1065.6 1627.0 1063.3 1627.5 1062.7 1628.0 1063.6 1628.5 1064.7 1629.0 1060.8 1629.5 1061.7 1630.0 1065.5 1630.5 1063.3 1631.0 1061.2 1631.5 1059.4 1632.0 1062.8 1632.5 1060.3 1633.0 1063.9 1633.5 1063.5 1634.0 1067.2 1634.5 1061.3 1635.0 1064.9 1635.5 1061.4 1636.0 1061.7 1636.5 1063.3 1637.0 1062.1 1637.5 1067.2 1638.0 1063.6 1638.5 1062.3 1639.0 1068.2 1639.5 1062.2 1640.0 1063.0 1640.5 1063.3 1641.0 1062.2 1641.5 1064.9 1642.0 1066.0 1642.5 1061.2 1643.0 1062.8 1643.5 1063.0 1644.0 1061.0 1644.5 1061.2 1645.0 1063.0 1645.5 1062.0 1646.0 1064.3 1646.5 1065.3 1647.0 1064.1 1647.5 1064.3 1648.0 1062.0 1648.5 1062.6 1649.0 1064.5 1649.5 1064.8 1650.0 1063.6 1650.5 1064.8 1651.0 1063.3 1651.5 1061.5 1652.0 1064.3 1652.5 1062.9 1653.0 1060.5 1653.5 1065.4 1654.0 1064.5 1654.5 1065.2 1655.0 1062.9 1655.5 1066.6 1656.0 1064.7 1656.5 1065.6 1657.0 1062.5 1657.5 1063.2 1658.0 1066.2 1658.5 1063.7 1659.0 1063.8 1659.5 1066.6 1660.0 1066.0 1660.5 1064.2 1661.0 1067.5 1661.5 1061.0 1662.0 1063.7 1662.5 1062.8 1663.0 1066.6 1663.5 1066.8 1664.0 1062.9 1664.5 1064.1 1665.0 1065.6 1665.5 1064.8 1666.0 1064.4 1666.5 1065.8 1667.0 1067.6 1667.5 1064.1 1668.0 1061.8 1668.5 1063.7 1669.0 1063.8 1669.5 1063.2 1670.0 1065.2 1670.5 1065.3 1671.0 1065.6 1671.5 1064.8 1672.0 1064.4 1672.5 1062.0 1673.0 1063.3 1673.5 1062.3 1674.0 1064.5 1674.5 1063.7 1675.0 1063.9 1675.5 1064.9 1676.0 1063.4 1676.5 1066.0 1677.0 1065.9 1677.5 1062.2 1678.0 1066.4 1678.5 1063.3 1679.0 1062.6 1679.5 1063.4 1680.0 1061.6 1680.5 1064.6 1681.0 1066.3 1681.5 1061.1 1682.0 1064.8 1682.5 1065.1 1683.0 1065.2 1683.5 1065.2 1684.0 1064.8 1684.5 1063.1 1685.0 1065.7 1685.5 1064.6 1686.0 1065.5 1686.5 1064.6 1687.0 1063.5 1687.5 1063.9 1688.0 1065.2 1688.5 1066.0 1689.0 1060.4 1689.5 1061.6 1690.0 1061.0 1690.5 1063.0 1691.0 1062.8 1691.5 1064.4 1692.0 1063.5 1692.5 1066.6 1693.0 1062.9 1693.5 1062.7 1694.0 1062.5 1694.5 1063.5 1695.0 1064.4 1695.5 1063.2 1696.0 1062.3 1696.5 1061.5 1697.0 1064.4 1697.5 1063.1 1698.0 1062.2 1698.5 1063.6 1699.0 1064.7 1699.5 1068.0 1700.0 1067.2 1700.5 1062.4 1701.0 1063.3 1701.5 1060.4 1702.0 1060.4 1702.5 1060.6 1703.0 1065.8 1703.5 1063.8 1704.0 1061.4 1704.5 1062.9 1705.0 1063.2 1705.5 1062.9 1706.0 1066.9 1706.5 1060.5 1707.0 1063.3 1707.5 1064.6 1708.0 1065.0 1708.5 1060.0 1709.0 1064.5 1709.5 1061.8 1710.0 1063.1 1710.5 1061.2 1711.0 1065.6 1711.5 1070.0 1712.0 1066.1 1712.5 1063.6 1713.0 1060.9 1713.5 1065.8 1714.0 1066.4 1714.5 1062.1 1715.0 1066.0 1715.5 1060.8 1716.0 1061.8 1716.5 1064.5 1717.0 1061.6 1717.5 1065.6 1718.0 1066.9 1718.5 1064.3 1719.0 1065.2 1719.5 1067.3 1720.0 1065.2 1720.5 1066.7 1721.0 1067.0 1721.5 1062.3 1722.0 1068.4 1722.5 1066.5 1723.0 1064.6 1723.5 1065.9 1724.0 1064.9 1724.5 1064.8 1725.0 1062.4 1725.5 1063.6 1726.0 1063.7 1726.5 1066.4 1727.0 1065.2 1727.5 1065.1 1728.0 1064.1 1728.5 1066.7 1729.0 1059.8 1729.5 1062.7 1730.0 1066.2 1730.5 1063.6 1731.0 1065.6 1731.5 1067.4 1732.0 1065.9 1732.5 1061.6 1733.0 1064.0 1733.5 1062.2 1734.0 1065.3 1734.5 1066.4 1735.0 1064.0 1735.5 1065.4 1736.0 1064.0 1736.5 1068.0 1737.0 1064.7 1737.5 1064.9 1738.0 1065.5 1738.5 1066.4 1739.0 1065.8 1739.5 1064.4 1740.0 1064.6 1740.5 1065.4 1741.0 1065.6 1741.5 1063.8 1742.0 1063.4 1742.5 1064.0 1743.0 1065.4 1743.5 1063.6 1744.0 1062.5 1744.5 1063.9 1745.0 1063.6 1745.5 1065.6 1746.0 1063.5 1746.5 1063.7 1747.0 1068.0 1747.5 1065.4 1748.0 1062.8 1748.5 1066.8 1749.0 1063.8 1749.5 1063.0 1750.0 1065.8 1750.5 1061.9 1751.0 1064.4 1751.5 1065.6 1752.0 1066.0 1752.5 1063.6 1753.0 1063.6 1753.5 1064.4 1754.0 1066.9 1754.5 1061.2 1755.0 1066.1 1755.5 1065.2 1756.0 1067.2 1756.5 1062.5 1757.0 1066.8 1757.5 1063.0 1758.0 1065.2 1758.5 1063.9 1759.0 1060.0 1759.5 1064.5 1760.0 1065.4 1760.5 1066.2 1761.0 1063.4 1761.5 1062.4 1762.0 1066.0 1762.5 1064.0 1763.0 1066.6 1763.5 1067.3 1764.0 1064.2 1764.5 1064.3 1765.0 1063.3 1765.5 1060.9 1766.0 1064.7 1766.5 1066.0 1767.0 1066.7 1767.5 1064.6 1768.0 1068.2 1768.5 1063.7 1769.0 1064.7 1769.5 1063.7 1770.0 1063.9 1770.5 1064.2 1771.0 1063.4 1771.5 1063.9 1772.0 1065.3 1772.5 1064.9 1773.0 1062.8 1773.5 1065.7 1774.0 1063.2 1774.5 1065.6 1775.0 1064.9 1775.5 1061.1 1776.0 1062.8 1776.5 1066.6 1777.0 1063.6 1777.5 1063.5 1778.0 1064.0 1778.5 1065.0 1779.0 1065.9 1779.5 1064.2 1780.0 1068.0 1780.5 1063.7 1781.0 1063.9 1781.5 1064.5 1782.0 1065.1 1782.5 1067.6 1783.0 1069.2 1783.5 1064.2 1784.0 1064.5 1784.5 1066.0 1785.0 1064.6 1785.5 1066.5 1786.0 1062.8 1786.5 1066.5 1787.0 1060.7 1787.5 1065.8 1788.0 1066.1 1788.5 1069.6 1789.0 1063.1 1789.5 1066.2 1790.0 1066.1 1790.5 1063.1 1791.0 1065.4 1791.5 1063.3 1792.0 1062.7 1792.5 1062.0 1793.0 1064.5 1793.5 1062.9 1794.0 1061.0 1794.5 1065.4 1795.0 1061.6 1795.5 1066.2 1796.0 1065.4 1796.5 1063.3 1797.0 1061.9 1797.5 1063.2 1798.0 1062.3 1798.5 1064.2 1799.0 1064.2 1799.5 1069.6 1800.0 1060.9 1800.5 1063.8 1801.0 1066.0 1801.5 1066.9 1802.0 1067.5 1802.5 1063.1 1803.0 1066.5 1803.5 1059.4 1804.0 1064.5 1804.5 1066.6 1805.0 1066.3 1805.5 1062.3 1806.0 1063.4 1806.5 1060.8 1807.0 1063.5 1807.5 1062.3 1808.0 1065.5 1808.5 1063.5 1809.0 1066.1 1809.5 1064.8 1810.0 1064.3 1810.5 1068.4 1811.0 1067.2 1811.5 1062.5 1812.0 1067.7 1812.5 1066.5 1813.0 1067.6 1813.5 1065.9 1814.0 1061.6 1814.5 1064.3 1815.0 1060.3 1815.5 1062.3 1816.0 1063.7 1816.5 1067.5 1817.0 1065.1 1817.5 1065.5 1818.0 1066.5 1818.5 1063.3 1819.0 1067.2 1819.5 1065.5 1820.0 1063.2 1820.5 1064.0 1821.0 1064.6 1821.5 1066.2 1822.0 1067.8 1822.5 1064.5 1823.0 1064.6 1823.5 1068.6 1824.0 1071.2 1824.5 1068.6 1825.0 1065.5 1825.5 1064.4 1826.0 1066.4 1826.5 1065.7 1827.0 1063.6 1827.5 1067.7 1828.0 1070.0 1828.5 1063.5 1829.0 1063.6 1829.5 1064.1 1830.0 1062.7 1830.5 1066.7 1831.0 1062.4 1831.5 1066.4 1832.0 1065.9 1832.5 1066.6 1833.0 1062.3 1833.5 1065.4 1834.0 1065.7 1834.5 1066.9 1835.0 1065.9 1835.5 1064.0 1836.0 1067.4 1836.5 1067.9 1837.0 1067.8 1837.5 1063.7 1838.0 1066.2" fill="none" stroke="#d35c79" stroke-width="7.0" stroke-linejoin="round"/>
<line x1="944.9" y1="1062" x2="944.9" y2="1159" stroke="#68628f" stroke-width="5"/>
<line x1="1118.6" y1="1103" x2="1118.6" y2="1159" stroke="#68628f" stroke-width="5"/>
<line x1="1695.7" y1="1123" x2="1695.7" y2="1159" stroke="#68628f" stroke-width="5"/>
<line x1="796.5" y1="1215" x2="796.5" y2="1284" stroke="#ff1010" stroke-width="5.5"/>
<line x1="944.2" y1="1202.4" x2="944.2" y2="1284" stroke="#ff1010" stroke-width="5.5"/>
<line x1="1420.5" y1="1225.6" x2="1420.5" y2="1284" stroke="#ff1010" stroke-width="5.5"/>
<line x1="1726.3" y1="1237" x2="1726.3" y2="1284" stroke="#ff1010" stroke-width="5.5"/>
<line x1="1823" y1="1239.5" x2="1823" y2="1284" stroke="#ff1010" stroke-width="5.5"/>
<rect x="132.5" y="31" width="1705.5" height="1254" fill="none" stroke="#1a1a1a" stroke-width="6.0"/>
<line x1="132.5" y1="1159.5" x2="1838" y2="1159.5" stroke="#1a1a1a" stroke-width="6.0"/>
<line x1="132.0" y1="1285" x2="132.0" y2="1308" stroke="#1a1a1a" stroke-width="6.0"/>
<line x1="253.9" y1="1285" x2="253.9" y2="1296" stroke="#1a1a1a" stroke-width="6.0"/>
<line x1="375.7" y1="1285" x2="375.7" y2="1308" stroke="#1a1a1a" stroke-width="6.0"/>
<line x1="497.6" y1="1285" x2="497.6" y2="1296" stroke="#1a1a1a" stroke-width="6.0"/>
<line x1="619.4" y1="1285" x2="619.4" y2="1308" stroke="#1a1a1a" stroke-width="6.0"/>
<line x1="741.3" y1="1285" x2="741.3" y2="1296" stroke="#1a1a1a" stroke-width="6.0"/>
<line x1="863.1" y1="1285" x2="863.1" y2="1308" stroke="#1a1a1a" stroke-width="6.0"/>
<line x1="985.0" y1="1285" x2="985.0" y2="1296" stroke="#1a1a1a" stroke-width="6.0"/>
<line x1="1106.9" y1="1285" x2="1106.9" y2="1308" stroke="#1a1a1a" stroke-width="6.0"/>
<line x1="1228.7" y1="1285" x2="1228.7" y2="1296" stroke="#1a1a1a" stroke-width="6.0"/>
<line x1="1350.6" y1="1285" x2="1350.6" y2="1308" stroke="#1a1a1a" stroke-width="6.0"/>
<line x1="1472.4" y1="1285" x2="1472.4" y2="1296" stroke="#1a1a1a" stroke-width="6.0"/>
<line x1="1594.3" y1="1285" x2="1594.3" y2="1308" stroke="#1a1a1a" stroke-width="6.0"/>
<line x1="1716.1" y1="1285" x2="1716.1" y2="1296" stroke="#1a1a1a" stroke-width="6.0"/>
<line x1="1838.0" y1="1285" x2="1838.0" y2="1308" stroke="#1a1a1a" stroke-width="6.0"/>
<text x="132.0" y="1387" text-anchor="middle" font-family="Liberation Serif, Times New Roman, serif" font-weight="bold" font-size="80.5" fill="#000">10</text>
<text x="375.7" y="1387" text-anchor="middle" font-family="Liberation Serif, Times New Roman, serif" font-weight="bold" font-size="80.5" fill="#000">20</text>
<text x="619.4" y="1387" text-anchor="middle" font-family="Liberation Serif, Times New Roman, serif" font-weight="bold" font-size="80.5" fill="#000">30</text>
<text x="863.1" y="1387" text-anchor="middle" font-family="Liberation Serif, Times New Roman, serif" font-weight="bold" font-size="80.5" fill="#000">40</text>
<text x="1106.9" y="1387" text-anchor="middle" font-family="Liberation Serif, Times New Roman, serif" font-weight="bold" font-size="80.5" fill="#000">50</text>
<text x="1350.6" y="1387" text-anchor="middle" font-family="Liberation Serif, Times New Roman, serif" font-weight="bold" font-size="80.5" fill="#000">60</text>
<text x="1594.3" y="1387" text-anchor="middle" font-family="Liberation Serif, Times New Roman, serif" font-weight="bold" font-size="80.5" fill="#000">70</text>
<text x="1838.0" y="1387" text-anchor="middle" font-family="Liberation Serif, Times New Roman, serif" font-weight="bold" font-size="80.5" fill="#000">80</text>
<text x="981" y="1483.4" text-anchor="middle" font-family="Liberation Serif, Times New Roman, serif" font-weight="bold" font-size="107" fill="#000">2 Theta (degree)</text>
<text transform="translate(94,641) rotate(-90)" x="0" y="0" text-anchor="middle" font-family="Liberation Serif, Times New Roman, serif" font-weight="bold" font-size="106.5" fill="#000">Intensity (a.u.)</text>
<text transform="translate(1447,157.6) scale(0.975,1)" x="0" y="0" font-family="Liberation Serif, Times New Roman, serif" font-weight="bold" font-size="73.5" fill="#000"><tspan dy="0">Cu</tspan><tspan font-size="47" dy="17.5">5</tspan><tspan dy="-17.5">Ni</tspan><tspan font-size="47" dy="17.5">5</tspan><tspan dy="-17.5">/SiO</tspan><tspan font-size="47" dy="17.5">2</tspan></text>
<text transform="translate(1448,318.7) scale(0.975,1)" x="0" y="0" font-family="Liberation Serif, Times New Roman, serif" font-weight="bold" font-size="73.5" fill="#000"><tspan dy="0">Cu</tspan><tspan font-size="47" dy="17.5">5</tspan><tspan dy="-17.5">Ni</tspan><tspan font-size="47" dy="17.5">2</tspan><tspan dy="-17.5">/SiO</tspan><tspan font-size="47" dy="17.5">2</tspan></text>
<text transform="translate(1445,490.9) scale(0.975,1)" x="0" y="0" font-family="Liberation Serif, Times New Roman, serif" font-weight="bold" font-size="73.5" fill="#000"><tspan dy="0">Cu</tspan><tspan font-size="47" dy="17.5">5</tspan><tspan dy="-17.5">Ni</tspan><tspan font-size="47" dy="17.5">1</tspan><tspan dy="-17.5">/SiO</tspan><tspan font-size="47" dy="17.5">2</tspan></text>
<text transform="translate(1426,670.8) scale(0.975,1)" x="0" y="0" font-family="Liberation Serif, Times New Roman, serif" font-weight="bold" font-size="73.5" fill="#000"><tspan dy="0">Cu</tspan><tspan font-size="47" dy="17.5">5</tspan><tspan dy="-17.5">Ni</tspan><tspan font-size="47" dy="17.5">0.5</tspan><tspan dy="-17.5">/SiO</tspan><tspan font-size="47" dy="17.5">2</tspan></text>
<text transform="translate(1513,883.5) scale(0.975,1)" x="0" y="0" font-family="Liberation Serif, Times New Roman, serif" font-weight="bold" font-size="73.5" fill="#000"><tspan dy="0">Cu</tspan><tspan font-size="47" dy="17.5">5</tspan><tspan dy="-17.5">/SiO</tspan><tspan font-size="47" dy="17.5">2</tspan></text>
<text transform="translate(1522,1034.5) scale(0.975,1)" x="0" y="0" font-family="Liberation Serif, Times New Roman, serif" font-weight="bold" font-size="73.5" fill="#000"><tspan dy="0">Ni</tspan><tspan font-size="47" dy="17.5">5</tspan><tspan dy="-17.5">/SiO</tspan><tspan font-size="47" dy="17.5">2</tspan></text>
<text x="189" y="1141.2" font-family="Liberation Serif, Times New Roman, serif" font-weight="bold" font-size="70" fill="#615c8c">Ref:Cu</text>
<text x="187" y="1261.2" font-family="Liberation Serif, Times New Roman, serif" font-weight="bold" font-size="70.5" fill="#ff0000">Ref:NiO</text>
</g>
</svg>
</body></html>
